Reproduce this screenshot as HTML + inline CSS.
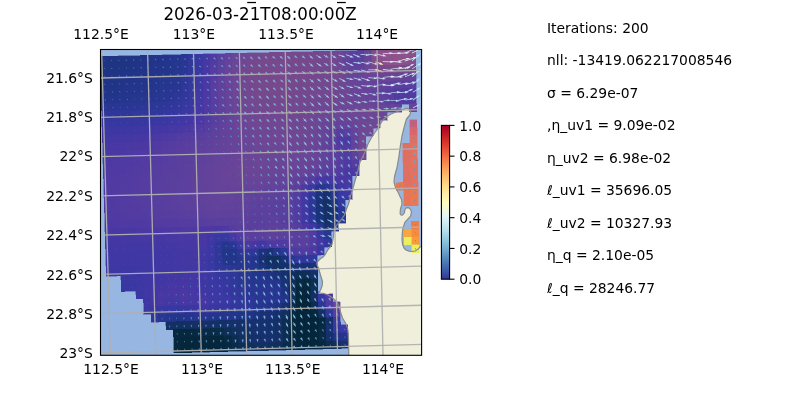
<!DOCTYPE html>
<html><head><meta charset="utf-8"><title>plot</title><style>html,body{margin:0;padding:0;background:#fff;width:800px;height:400px;overflow:hidden}</style></head><body>
<svg width="800" height="400" viewBox="0 0 800 400" style="position:absolute;left:0;top:0">
<defs><clipPath id="ax"><rect x="100.50" y="49.50" width="321.10" height="305.80"/></clipPath>
<linearGradient id="cb" x1="0" y1="1" x2="0" y2="0">
<stop offset="0.0000" stop-color="#313695"/>
<stop offset="0.0312" stop-color="#374a9f"/>
<stop offset="0.0625" stop-color="#3e5ea8"/>
<stop offset="0.0938" stop-color="#4471b2"/>
<stop offset="0.1250" stop-color="#5183bb"/>
<stop offset="0.1562" stop-color="#6095c4"/>
<stop offset="0.1875" stop-color="#6ea6ce"/>
<stop offset="0.2188" stop-color="#7fb6d6"/>
<stop offset="0.2500" stop-color="#90c3dd"/>
<stop offset="0.2812" stop-color="#a1d1e5"/>
<stop offset="0.3125" stop-color="#b2ddeb"/>
<stop offset="0.3438" stop-color="#c3e5f0"/>
<stop offset="0.3750" stop-color="#d4edf4"/>
<stop offset="0.4062" stop-color="#e2f4f4"/>
<stop offset="0.4375" stop-color="#ecf8e2"/>
<stop offset="0.4688" stop-color="#f6fbd0"/>
<stop offset="0.5000" stop-color="#fffebe"/>
<stop offset="0.5312" stop-color="#fff5af"/>
<stop offset="0.5625" stop-color="#feeba1"/>
<stop offset="0.5938" stop-color="#fee192"/>
<stop offset="0.6250" stop-color="#fed283"/>
<stop offset="0.6562" stop-color="#fdc374"/>
<stop offset="0.6875" stop-color="#fdb366"/>
<stop offset="0.7188" stop-color="#fba05b"/>
<stop offset="0.7500" stop-color="#f88c51"/>
<stop offset="0.7812" stop-color="#f57748"/>
<stop offset="0.8125" stop-color="#ef633f"/>
<stop offset="0.8438" stop-color="#e65036"/>
<stop offset="0.8750" stop-color="#dd3d2d"/>
<stop offset="0.9062" stop-color="#d22b27"/>
<stop offset="0.9375" stop-color="#c21c27"/>
<stop offset="0.9688" stop-color="#b30d26"/>
<stop offset="1.0000" stop-color="#a50026"/>
</linearGradient></defs>
<rect x="0" y="0" width="800" height="400" fill="#ffffff"/>
<g clip-path="url(#ax)">
<rect x="100.50" y="49.50" width="321.10" height="305.80" fill="#97b6e1"/>
<path d="M406.5 108.3 L408.0 108.6 L409.3 109.6 L410.4 111.5 L410.5 113.0 L409.8 114.8 L409.0 116.0 L406.5 119.0 L405.0 124.0 L403.5 130.0 L402.0 136.0 L400.5 145.0 L399.0 156.0 L397.0 167.5 L394.5 176.5 L394.0 182.0 L395.6 187.8 L398.0 192.0 L399.8 196.0 L401.6 199.8 L402.0 204.2 L400.5 208.8 L400.1 213.6 L400.8 214.8 L402.4 215.1 L404.2 213.2 L405.0 209.5 L405.8 208.2 L407.2 207.6 L409.0 207.9 L410.2 209.1 L411.2 210.8 L411.4 212.5 L410.6 216.2 L408.0 218.9 L405.0 222.2 L403.0 228.0 L402.2 234.0 L402.0 240.0 L402.6 244.5 L404.0 248.0 L406.0 250.0 L409.0 251.2 L412.0 251.5 L415.0 251.0 L418.0 249.2 L420.0 247.0 L423.0 245.5 L423.0 357.0 L349.0 357.0 L348.8 354.5 L348.5 340.0 L348.0 331.0 L347.5 328.0 L345.5 323.0 L342.5 318.0 L340.5 312.0 L339.0 306.0 L336.0 301.0 L332.0 297.5 L327.0 294.5 L323.0 293.3 L320.0 293.0 L319.4 292.2 L321.0 289.0 L322.3 285.0 L322.5 281.5 L320.5 275.0 L318.5 268.0 L317.2 265.5 L316.9 263.5 L317.3 262.0 L319.5 259.5 L323.0 257.0 L325.5 254.0 L328.0 249.5 L330.5 246.5 L332.0 244.5 L333.0 239.0 L333.5 236.0 L334.0 231.0 L335.5 227.0 L338.0 223.5 L341.0 220.0 L344.5 215.0 L346.5 209.0 L348.5 204.0 L350.5 196.0 L353.0 188.0 L355.5 179.0 L357.5 172.0 L358.5 168.0 L360.0 162.0 L362.5 157.0 L365.5 151.0 L368.0 144.0 L371.0 138.5 L374.5 133.0 L377.5 129.0 L380.0 124.5 L383.0 120.0 L387.0 116.5 L391.0 114.0 L396.0 112.0 L402.0 110.0 L404.5 108.9 Z" fill="#efefdb"/>
<g shape-rendering="crispEdges">
<path fill="#1f3483" stroke="#1f3483" stroke-width="0.4" d="M100.0 56.4 L107.3 56.2 L107.5 64.1 L100.2 64.3 Z"/>
<path fill="#1f3483" stroke="#1f3483" stroke-width="0.4" d="M107.3 56.2 L114.6 56.1 L114.9 63.9 L107.5 64.1 Z"/>
<path fill="#1f3483" stroke="#1f3483" stroke-width="0.4" d="M114.6 56.1 L122.0 55.9 L122.2 63.8 L114.9 63.9 Z"/>
<path fill="#1f3483" stroke="#1f3483" stroke-width="0.4" d="M122.0 55.9 L129.3 55.7 L129.5 63.6 L122.2 63.8 Z"/>
<path fill="#203484" stroke="#203484" stroke-width="0.4" d="M129.3 55.7 L136.7 55.6 L136.9 63.4 L129.5 63.6 Z"/>
<path fill="#203486" stroke="#203486" stroke-width="0.4" d="M136.7 55.6 L144.0 55.4 L144.2 63.2 L136.9 63.4 Z"/>
<path fill="#213588" stroke="#213588" stroke-width="0.4" d="M144.0 55.4 L151.3 55.2 L151.5 63.1 L144.2 63.2 Z"/>
<path fill="#223589" stroke="#223589" stroke-width="0.4" d="M151.3 55.2 L158.7 55.1 L158.9 62.9 L151.5 63.1 Z"/>
<path fill="#23358b" stroke="#23358b" stroke-width="0.4" d="M158.7 55.1 L166.0 54.9 L166.2 62.7 L158.9 62.9 Z"/>
<path fill="#24358d" stroke="#24358d" stroke-width="0.4" d="M166.0 54.9 L173.4 54.7 L173.6 62.6 L166.2 62.7 Z"/>
<path fill="#26368f" stroke="#26368f" stroke-width="0.4" d="M173.4 54.7 L180.7 54.5 L180.9 62.4 L173.6 62.6 Z"/>
<path fill="#2a3693" stroke="#2a3693" stroke-width="0.4" d="M180.7 54.5 L188.0 54.4 L188.2 62.2 L180.9 62.4 Z"/>
<path fill="#31379b" stroke="#31379b" stroke-width="0.4" d="M188.0 54.4 L195.4 54.2 L195.6 62.0 L188.2 62.2 Z"/>
<path fill="#3937a2" stroke="#3937a2" stroke-width="0.4" d="M195.4 54.2 L202.7 54.0 L202.9 61.9 L195.6 62.0 Z"/>
<path fill="#4537a4" stroke="#4537a4" stroke-width="0.4" d="M202.7 54.0 L210.0 53.9 L210.2 61.7 L202.9 61.9 Z"/>
<path fill="#503aa2" stroke="#503aa2" stroke-width="0.4" d="M210.0 53.9 L217.4 53.7 L217.6 61.5 L210.2 61.7 Z"/>
<path fill="#5a3f9e" stroke="#5a3f9e" stroke-width="0.4" d="M217.4 53.7 L224.7 53.5 L224.9 61.4 L217.6 61.5 Z"/>
<path fill="#63429b" stroke="#63429b" stroke-width="0.4" d="M224.7 53.5 L232.1 53.4 L232.3 61.2 L224.9 61.4 Z"/>
<path fill="#694597" stroke="#694597" stroke-width="0.4" d="M232.1 53.4 L239.4 53.2 L239.6 61.0 L232.3 61.2 Z"/>
<path fill="#6e4694" stroke="#6e4694" stroke-width="0.4" d="M239.4 53.2 L246.7 53.0 L246.9 60.9 L239.6 61.0 Z"/>
<path fill="#734890" stroke="#734890" stroke-width="0.4" d="M246.7 53.0 L254.1 52.8 L254.3 60.7 L246.9 60.9 Z"/>
<path fill="#74488e" stroke="#74488e" stroke-width="0.4" d="M254.1 52.8 L261.4 52.7 L261.6 60.5 L254.3 60.7 Z"/>
<path fill="#76498d" stroke="#76498d" stroke-width="0.4" d="M261.4 52.7 L268.8 52.5 L268.9 60.3 L261.6 60.5 Z"/>
<path fill="#76498d" stroke="#76498d" stroke-width="0.4" d="M268.8 52.5 L276.1 52.3 L276.3 60.2 L268.9 60.3 Z"/>
<path fill="#77498c" stroke="#77498c" stroke-width="0.4" d="M276.1 52.3 L283.4 52.2 L283.6 60.0 L276.3 60.2 Z"/>
<path fill="#77498c" stroke="#77498c" stroke-width="0.4" d="M283.4 52.2 L290.8 52.0 L291.0 59.8 L283.6 60.0 Z"/>
<path fill="#76498d" stroke="#76498d" stroke-width="0.4" d="M290.8 52.0 L298.1 51.8 L298.3 59.7 L291.0 59.8 Z"/>
<path fill="#76498d" stroke="#76498d" stroke-width="0.4" d="M298.1 51.8 L305.5 51.7 L305.6 59.5 L298.3 59.7 Z"/>
<path fill="#75488e" stroke="#75488e" stroke-width="0.4" d="M305.5 51.7 L312.8 51.5 L313.0 59.3 L305.6 59.5 Z"/>
<path fill="#75488e" stroke="#75488e" stroke-width="0.4" d="M312.8 51.5 L320.1 51.3 L320.3 59.1 L313.0 59.3 Z"/>
<path fill="#74488f" stroke="#74488f" stroke-width="0.4" d="M320.1 51.3 L327.5 51.1 L327.6 59.0 L320.3 59.1 Z"/>
<path fill="#73488f" stroke="#73488f" stroke-width="0.4" d="M327.5 51.1 L334.8 51.0 L335.0 58.8 L327.6 59.0 Z"/>
<path fill="#714791" stroke="#714791" stroke-width="0.4" d="M334.8 51.0 L342.1 50.8 L342.3 58.6 L335.0 58.8 Z"/>
<path fill="#674499" stroke="#674499" stroke-width="0.4" d="M342.1 50.8 L349.5 50.6 L349.6 58.5 L342.3 58.6 Z"/>
<path fill="#5b3f9e" stroke="#5b3f9e" stroke-width="0.4" d="M349.5 50.6 L356.8 50.5 L357.0 58.3 L349.6 58.5 Z"/>
<path fill="#5b3f9e" stroke="#5b3f9e" stroke-width="0.4" d="M356.8 50.5 L364.2 50.3 L364.3 58.1 L357.0 58.3 Z"/>
<path fill="#684498" stroke="#684498" stroke-width="0.4" d="M364.2 50.3 L371.5 50.1 L371.7 58.0 L364.3 58.1 Z"/>
<path fill="#824d8b" stroke="#824d8b" stroke-width="0.4" d="M371.5 50.1 L378.8 50.0 L379.0 57.8 L371.7 58.0 Z"/>
<path fill="#8b508b" stroke="#8b508b" stroke-width="0.4" d="M378.8 50.0 L386.2 49.8 L386.3 57.6 L379.0 57.8 Z"/>
<path fill="#8d518b" stroke="#8d518b" stroke-width="0.4" d="M386.2 49.8 L393.5 49.6 L393.7 57.4 L386.3 57.6 Z"/>
<path fill="#8f528b" stroke="#8f528b" stroke-width="0.4" d="M393.5 49.6 L400.9 49.4 L401.0 57.3 L393.7 57.4 Z"/>
<path fill="#8d518b" stroke="#8d518b" stroke-width="0.4" d="M400.9 49.4 L408.2 49.3 L408.3 57.1 L401.0 57.3 Z"/>
<path fill="#8a508b" stroke="#8a508b" stroke-width="0.4" d="M408.2 49.3 L415.5 49.1 L415.7 56.9 L408.3 57.1 Z"/>
<path fill="#1f3483" stroke="#1f3483" stroke-width="0.4" d="M100.2 64.3 L107.5 64.1 L107.8 71.9 L100.4 72.1 Z"/>
<path fill="#1f3483" stroke="#1f3483" stroke-width="0.4" d="M107.5 64.1 L114.9 63.9 L115.1 71.8 L107.8 71.9 Z"/>
<path fill="#1f3483" stroke="#1f3483" stroke-width="0.4" d="M114.9 63.9 L122.2 63.8 L122.4 71.6 L115.1 71.8 Z"/>
<path fill="#203484" stroke="#203484" stroke-width="0.4" d="M122.2 63.8 L129.5 63.6 L129.8 71.4 L122.4 71.6 Z"/>
<path fill="#203485" stroke="#203485" stroke-width="0.4" d="M129.5 63.6 L136.9 63.4 L137.1 71.3 L129.8 71.4 Z"/>
<path fill="#213487" stroke="#213487" stroke-width="0.4" d="M136.9 63.4 L144.2 63.2 L144.4 71.1 L137.1 71.3 Z"/>
<path fill="#213588" stroke="#213588" stroke-width="0.4" d="M144.2 63.2 L151.5 63.1 L151.8 70.9 L144.4 71.1 Z"/>
<path fill="#22358a" stroke="#22358a" stroke-width="0.4" d="M151.5 63.1 L158.9 62.9 L159.1 70.7 L151.8 70.9 Z"/>
<path fill="#23358b" stroke="#23358b" stroke-width="0.4" d="M158.9 62.9 L166.2 62.7 L166.4 70.6 L159.1 70.7 Z"/>
<path fill="#24358c" stroke="#24358c" stroke-width="0.4" d="M166.2 62.7 L173.6 62.6 L173.8 70.4 L166.4 70.6 Z"/>
<path fill="#26368e" stroke="#26368e" stroke-width="0.4" d="M173.6 62.6 L180.9 62.4 L181.1 70.2 L173.8 70.4 Z"/>
<path fill="#293692" stroke="#293692" stroke-width="0.4" d="M180.9 62.4 L188.2 62.2 L188.4 70.1 L181.1 70.2 Z"/>
<path fill="#31379b" stroke="#31379b" stroke-width="0.4" d="M188.2 62.2 L195.6 62.0 L195.8 69.9 L188.4 70.1 Z"/>
<path fill="#3a37a3" stroke="#3a37a3" stroke-width="0.4" d="M195.6 62.0 L202.9 61.9 L203.1 69.7 L195.8 69.9 Z"/>
<path fill="#4637a4" stroke="#4637a4" stroke-width="0.4" d="M202.9 61.9 L210.2 61.7 L210.4 69.5 L203.1 69.7 Z"/>
<path fill="#523ba1" stroke="#523ba1" stroke-width="0.4" d="M210.2 61.7 L217.6 61.5 L217.8 69.4 L210.4 69.5 Z"/>
<path fill="#5c409d" stroke="#5c409d" stroke-width="0.4" d="M217.6 61.5 L224.9 61.4 L225.1 69.2 L217.8 69.4 Z"/>
<path fill="#65439a" stroke="#65439a" stroke-width="0.4" d="M224.9 61.4 L232.3 61.2 L232.4 69.0 L225.1 69.2 Z"/>
<path fill="#6b4596" stroke="#6b4596" stroke-width="0.4" d="M232.3 61.2 L239.6 61.0 L239.8 68.9 L232.4 69.0 Z"/>
<path fill="#704792" stroke="#704792" stroke-width="0.4" d="M239.6 61.0 L246.9 60.9 L247.1 68.7 L239.8 68.9 Z"/>
<path fill="#74488f" stroke="#74488f" stroke-width="0.4" d="M246.9 60.9 L254.3 60.7 L254.5 68.5 L247.1 68.7 Z"/>
<path fill="#76498d" stroke="#76498d" stroke-width="0.4" d="M254.3 60.7 L261.6 60.5 L261.8 68.3 L254.5 68.5 Z"/>
<path fill="#77498c" stroke="#77498c" stroke-width="0.4" d="M261.6 60.5 L268.9 60.3 L269.1 68.2 L261.8 68.3 Z"/>
<path fill="#77498c" stroke="#77498c" stroke-width="0.4" d="M268.9 60.3 L276.3 60.2 L276.5 68.0 L269.1 68.2 Z"/>
<path fill="#78498c" stroke="#78498c" stroke-width="0.4" d="M276.3 60.2 L283.6 60.0 L283.8 67.8 L276.5 68.0 Z"/>
<path fill="#77498c" stroke="#77498c" stroke-width="0.4" d="M283.6 60.0 L291.0 59.8 L291.1 67.7 L283.8 67.8 Z"/>
<path fill="#77498c" stroke="#77498c" stroke-width="0.4" d="M291.0 59.8 L298.3 59.7 L298.5 67.5 L291.1 67.7 Z"/>
<path fill="#76498d" stroke="#76498d" stroke-width="0.4" d="M298.3 59.7 L305.6 59.5 L305.8 67.3 L298.5 67.5 Z"/>
<path fill="#76498d" stroke="#76498d" stroke-width="0.4" d="M305.6 59.5 L313.0 59.3 L313.1 67.1 L305.8 67.3 Z"/>
<path fill="#75488e" stroke="#75488e" stroke-width="0.4" d="M313.0 59.3 L320.3 59.1 L320.5 67.0 L313.1 67.1 Z"/>
<path fill="#74488e" stroke="#74488e" stroke-width="0.4" d="M320.3 59.1 L327.6 59.0 L327.8 66.8 L320.5 67.0 Z"/>
<path fill="#734890" stroke="#734890" stroke-width="0.4" d="M327.6 59.0 L335.0 58.8 L335.1 66.6 L327.8 66.8 Z"/>
<path fill="#6e4694" stroke="#6e4694" stroke-width="0.4" d="M335.0 58.8 L342.3 58.6 L342.5 66.5 L335.1 66.6 Z"/>
<path fill="#64439a" stroke="#64439a" stroke-width="0.4" d="M342.3 58.6 L349.6 58.5 L349.8 66.3 L342.5 66.5 Z"/>
<path fill="#5a3f9e" stroke="#5a3f9e" stroke-width="0.4" d="M349.6 58.5 L357.0 58.3 L357.1 66.1 L349.8 66.3 Z"/>
<path fill="#5b409d" stroke="#5b409d" stroke-width="0.4" d="M357.0 58.3 L364.3 58.1 L364.5 66.0 L357.1 66.1 Z"/>
<path fill="#694498" stroke="#694498" stroke-width="0.4" d="M364.3 58.1 L371.7 58.0 L371.8 65.8 L364.5 66.0 Z"/>
<path fill="#814d8b" stroke="#814d8b" stroke-width="0.4" d="M371.7 58.0 L379.0 57.8 L379.1 65.6 L371.8 65.8 Z"/>
<path fill="#89508b" stroke="#89508b" stroke-width="0.4" d="M379.0 57.8 L386.3 57.6 L386.5 65.4 L379.1 65.6 Z"/>
<path fill="#8d518b" stroke="#8d518b" stroke-width="0.4" d="M386.3 57.6 L393.7 57.4 L393.8 65.3 L386.5 65.4 Z"/>
<path fill="#8f528b" stroke="#8f528b" stroke-width="0.4" d="M393.7 57.4 L401.0 57.3 L401.2 65.1 L393.8 65.3 Z"/>
<path fill="#8b508b" stroke="#8b508b" stroke-width="0.4" d="M401.0 57.3 L408.3 57.1 L408.5 64.9 L401.2 65.1 Z"/>
<path fill="#864f8b" stroke="#864f8b" stroke-width="0.4" d="M408.3 57.1 L415.7 56.9 L415.8 64.8 L408.5 64.9 Z"/>
<path fill="#1f3483" stroke="#1f3483" stroke-width="0.4" d="M100.4 72.1 L107.8 71.9 L108.0 79.8 L100.6 80.0 Z"/>
<path fill="#1f3483" stroke="#1f3483" stroke-width="0.4" d="M107.8 71.9 L115.1 71.8 L115.3 79.6 L108.0 79.8 Z"/>
<path fill="#203485" stroke="#203485" stroke-width="0.4" d="M115.1 71.8 L122.4 71.6 L122.6 79.4 L115.3 79.6 Z"/>
<path fill="#213487" stroke="#213487" stroke-width="0.4" d="M122.4 71.6 L129.8 71.4 L130.0 79.3 L122.6 79.4 Z"/>
<path fill="#213588" stroke="#213588" stroke-width="0.4" d="M129.8 71.4 L137.1 71.3 L137.3 79.1 L130.0 79.3 Z"/>
<path fill="#213589" stroke="#213589" stroke-width="0.4" d="M137.1 71.3 L144.4 71.1 L144.6 78.9 L137.3 79.1 Z"/>
<path fill="#22358a" stroke="#22358a" stroke-width="0.4" d="M144.4 71.1 L151.8 70.9 L152.0 78.8 L144.6 78.9 Z"/>
<path fill="#23358b" stroke="#23358b" stroke-width="0.4" d="M151.8 70.9 L159.1 70.7 L159.3 78.6 L152.0 78.8 Z"/>
<path fill="#24358c" stroke="#24358c" stroke-width="0.4" d="M159.1 70.7 L166.4 70.6 L166.6 78.4 L159.3 78.6 Z"/>
<path fill="#25358d" stroke="#25358d" stroke-width="0.4" d="M166.4 70.6 L173.8 70.4 L174.0 78.2 L166.6 78.4 Z"/>
<path fill="#27368f" stroke="#27368f" stroke-width="0.4" d="M173.8 70.4 L181.1 70.2 L181.3 78.1 L174.0 78.2 Z"/>
<path fill="#2b3695" stroke="#2b3695" stroke-width="0.4" d="M181.1 70.2 L188.4 70.1 L188.6 77.9 L181.3 78.1 Z"/>
<path fill="#33379d" stroke="#33379d" stroke-width="0.4" d="M188.4 70.1 L195.8 69.9 L196.0 77.7 L188.6 77.9 Z"/>
<path fill="#3d37a3" stroke="#3d37a3" stroke-width="0.4" d="M195.8 69.9 L203.1 69.7 L203.3 77.6 L196.0 77.7 Z"/>
<path fill="#4938a3" stroke="#4938a3" stroke-width="0.4" d="M203.1 69.7 L210.4 69.5 L210.6 77.4 L203.3 77.6 Z"/>
<path fill="#553ca0" stroke="#553ca0" stroke-width="0.4" d="M210.4 69.5 L217.8 69.4 L218.0 77.2 L210.6 77.4 Z"/>
<path fill="#5e419c" stroke="#5e419c" stroke-width="0.4" d="M217.8 69.4 L225.1 69.2 L225.3 77.0 L218.0 77.2 Z"/>
<path fill="#664499" stroke="#664499" stroke-width="0.4" d="M225.1 69.2 L232.4 69.0 L232.6 76.9 L225.3 77.0 Z"/>
<path fill="#6c4695" stroke="#6c4695" stroke-width="0.4" d="M232.4 69.0 L239.8 68.9 L240.0 76.7 L232.6 76.9 Z"/>
<path fill="#714791" stroke="#714791" stroke-width="0.4" d="M239.8 68.9 L247.1 68.7 L247.3 76.5 L240.0 76.7 Z"/>
<path fill="#75488e" stroke="#75488e" stroke-width="0.4" d="M247.1 68.7 L254.5 68.5 L254.6 76.4 L247.3 76.5 Z"/>
<path fill="#76498d" stroke="#76498d" stroke-width="0.4" d="M254.5 68.5 L261.8 68.3 L262.0 76.2 L254.6 76.4 Z"/>
<path fill="#77498c" stroke="#77498c" stroke-width="0.4" d="M261.8 68.3 L269.1 68.2 L269.3 76.0 L262.0 76.2 Z"/>
<path fill="#78498c" stroke="#78498c" stroke-width="0.4" d="M269.1 68.2 L276.5 68.0 L276.6 75.8 L269.3 76.0 Z"/>
<path fill="#78498c" stroke="#78498c" stroke-width="0.4" d="M276.5 68.0 L283.8 67.8 L284.0 75.7 L276.6 75.8 Z"/>
<path fill="#77498c" stroke="#77498c" stroke-width="0.4" d="M283.8 67.8 L291.1 67.7 L291.3 75.5 L284.0 75.7 Z"/>
<path fill="#77498c" stroke="#77498c" stroke-width="0.4" d="M291.1 67.7 L298.5 67.5 L298.6 75.3 L291.3 75.5 Z"/>
<path fill="#76498d" stroke="#76498d" stroke-width="0.4" d="M298.5 67.5 L305.8 67.3 L306.0 75.2 L298.6 75.3 Z"/>
<path fill="#76498d" stroke="#76498d" stroke-width="0.4" d="M305.8 67.3 L313.1 67.1 L313.3 75.0 L306.0 75.2 Z"/>
<path fill="#75488e" stroke="#75488e" stroke-width="0.4" d="M313.1 67.1 L320.5 67.0 L320.6 74.8 L313.3 75.0 Z"/>
<path fill="#74488e" stroke="#74488e" stroke-width="0.4" d="M320.5 67.0 L327.8 66.8 L328.0 74.6 L320.6 74.8 Z"/>
<path fill="#734890" stroke="#734890" stroke-width="0.4" d="M327.8 66.8 L335.1 66.6 L335.3 74.5 L328.0 74.6 Z"/>
<path fill="#704792" stroke="#704792" stroke-width="0.4" d="M335.1 66.6 L342.5 66.5 L342.6 74.3 L335.3 74.5 Z"/>
<path fill="#684498" stroke="#684498" stroke-width="0.4" d="M342.5 66.5 L349.8 66.3 L350.0 74.1 L342.6 74.3 Z"/>
<path fill="#61429b" stroke="#61429b" stroke-width="0.4" d="M349.8 66.3 L357.1 66.1 L357.3 73.9 L350.0 74.1 Z"/>
<path fill="#63429b" stroke="#63429b" stroke-width="0.4" d="M357.1 66.1 L364.5 66.0 L364.6 73.8 L357.3 73.9 Z"/>
<path fill="#6c4696" stroke="#6c4696" stroke-width="0.4" d="M364.5 66.0 L371.8 65.8 L372.0 73.6 L364.6 73.8 Z"/>
<path fill="#76498d" stroke="#76498d" stroke-width="0.4" d="M371.8 65.8 L379.1 65.6 L379.3 73.4 L372.0 73.6 Z"/>
<path fill="#77498c" stroke="#77498c" stroke-width="0.4" d="M379.1 65.6 L386.5 65.4 L386.6 73.3 L379.3 73.4 Z"/>
<path fill="#7a4a8c" stroke="#7a4a8c" stroke-width="0.4" d="M386.5 65.4 L393.8 65.3 L394.0 73.1 L386.6 73.3 Z"/>
<path fill="#7b4b8c" stroke="#7b4b8c" stroke-width="0.4" d="M393.8 65.3 L401.2 65.1 L401.3 72.9 L394.0 73.1 Z"/>
<path fill="#77498c" stroke="#77498c" stroke-width="0.4" d="M401.2 65.1 L408.5 64.9 L408.6 72.7 L401.3 72.9 Z"/>
<path fill="#76498d" stroke="#76498d" stroke-width="0.4" d="M408.5 64.9 L415.8 64.8 L416.0 72.6 L408.6 72.7 Z"/>
<path fill="#203484" stroke="#203484" stroke-width="0.4" d="M100.6 80.0 L108.0 79.8 L108.2 87.6 L100.9 87.8 Z"/>
<path fill="#203485" stroke="#203485" stroke-width="0.4" d="M108.0 79.8 L115.3 79.6 L115.5 87.5 L108.2 87.6 Z"/>
<path fill="#213486" stroke="#213486" stroke-width="0.4" d="M115.3 79.6 L122.6 79.4 L122.9 87.3 L115.5 87.5 Z"/>
<path fill="#223589" stroke="#223589" stroke-width="0.4" d="M122.6 79.4 L130.0 79.3 L130.2 87.1 L122.9 87.3 Z"/>
<path fill="#22358a" stroke="#22358a" stroke-width="0.4" d="M130.0 79.3 L137.3 79.1 L137.5 87.0 L130.2 87.1 Z"/>
<path fill="#23358b" stroke="#23358b" stroke-width="0.4" d="M137.3 79.1 L144.6 78.9 L144.9 86.8 L137.5 87.0 Z"/>
<path fill="#23358b" stroke="#23358b" stroke-width="0.4" d="M144.6 78.9 L152.0 78.8 L152.2 86.6 L144.9 86.8 Z"/>
<path fill="#24358d" stroke="#24358d" stroke-width="0.4" d="M152.0 78.8 L159.3 78.6 L159.5 86.4 L152.2 86.6 Z"/>
<path fill="#25368e" stroke="#25368e" stroke-width="0.4" d="M159.3 78.6 L166.6 78.4 L166.9 86.3 L159.5 86.4 Z"/>
<path fill="#26368f" stroke="#26368f" stroke-width="0.4" d="M166.6 78.4 L174.0 78.2 L174.2 86.1 L166.9 86.3 Z"/>
<path fill="#283691" stroke="#283691" stroke-width="0.4" d="M174.0 78.2 L181.3 78.1 L181.5 85.9 L174.2 86.1 Z"/>
<path fill="#2d3796" stroke="#2d3796" stroke-width="0.4" d="M181.3 78.1 L188.6 77.9 L188.8 85.7 L181.5 85.9 Z"/>
<path fill="#35379f" stroke="#35379f" stroke-width="0.4" d="M188.6 77.9 L196.0 77.7 L196.2 85.6 L188.8 85.7 Z"/>
<path fill="#4037a4" stroke="#4037a4" stroke-width="0.4" d="M196.0 77.7 L203.3 77.6 L203.5 85.4 L196.2 85.6 Z"/>
<path fill="#4c38a3" stroke="#4c38a3" stroke-width="0.4" d="M203.3 77.6 L210.6 77.4 L210.8 85.2 L203.5 85.4 Z"/>
<path fill="#573d9f" stroke="#573d9f" stroke-width="0.4" d="M210.6 77.4 L218.0 77.2 L218.2 85.1 L210.8 85.2 Z"/>
<path fill="#60419c" stroke="#60419c" stroke-width="0.4" d="M218.0 77.2 L225.3 77.0 L225.5 84.9 L218.2 85.1 Z"/>
<path fill="#684498" stroke="#684498" stroke-width="0.4" d="M225.3 77.0 L232.6 76.9 L232.8 84.7 L225.5 84.9 Z"/>
<path fill="#6e4695" stroke="#6e4695" stroke-width="0.4" d="M232.6 76.9 L240.0 76.7 L240.2 84.5 L232.8 84.7 Z"/>
<path fill="#724791" stroke="#724791" stroke-width="0.4" d="M240.0 76.7 L247.3 76.5 L247.5 84.4 L240.2 84.5 Z"/>
<path fill="#75488e" stroke="#75488e" stroke-width="0.4" d="M247.3 76.5 L254.6 76.4 L254.8 84.2 L247.5 84.4 Z"/>
<path fill="#76498c" stroke="#76498c" stroke-width="0.4" d="M254.6 76.4 L262.0 76.2 L262.2 84.0 L254.8 84.2 Z"/>
<path fill="#77498c" stroke="#77498c" stroke-width="0.4" d="M262.0 76.2 L269.3 76.0 L269.5 83.8 L262.2 84.0 Z"/>
<path fill="#77498c" stroke="#77498c" stroke-width="0.4" d="M269.3 76.0 L276.6 75.8 L276.8 83.7 L269.5 83.8 Z"/>
<path fill="#77498c" stroke="#77498c" stroke-width="0.4" d="M276.6 75.8 L284.0 75.7 L284.1 83.5 L276.8 83.7 Z"/>
<path fill="#77498c" stroke="#77498c" stroke-width="0.4" d="M284.0 75.7 L291.3 75.5 L291.5 83.3 L284.1 83.5 Z"/>
<path fill="#76498d" stroke="#76498d" stroke-width="0.4" d="M291.3 75.5 L298.6 75.3 L298.8 83.2 L291.5 83.3 Z"/>
<path fill="#76498d" stroke="#76498d" stroke-width="0.4" d="M298.6 75.3 L306.0 75.2 L306.1 83.0 L298.8 83.2 Z"/>
<path fill="#75488e" stroke="#75488e" stroke-width="0.4" d="M306.0 75.2 L313.3 75.0 L313.5 82.8 L306.1 83.0 Z"/>
<path fill="#75488e" stroke="#75488e" stroke-width="0.4" d="M313.3 75.0 L320.6 74.8 L320.8 82.6 L313.5 82.8 Z"/>
<path fill="#74488f" stroke="#74488f" stroke-width="0.4" d="M320.6 74.8 L328.0 74.6 L328.1 82.5 L320.8 82.6 Z"/>
<path fill="#73488f" stroke="#73488f" stroke-width="0.4" d="M328.0 74.6 L335.3 74.5 L335.5 82.3 L328.1 82.5 Z"/>
<path fill="#724890" stroke="#724890" stroke-width="0.4" d="M335.3 74.5 L342.6 74.3 L342.8 82.1 L335.5 82.3 Z"/>
<path fill="#6c4695" stroke="#6c4695" stroke-width="0.4" d="M342.6 74.3 L350.0 74.1 L350.1 81.9 L342.8 82.1 Z"/>
<path fill="#674499" stroke="#674499" stroke-width="0.4" d="M350.0 74.1 L357.3 73.9 L357.5 81.8 L350.1 81.9 Z"/>
<path fill="#674499" stroke="#674499" stroke-width="0.4" d="M357.3 73.9 L364.6 73.8 L364.8 81.6 L357.5 81.8 Z"/>
<path fill="#6a4597" stroke="#6a4597" stroke-width="0.4" d="M364.6 73.8 L372.0 73.6 L372.1 81.4 L364.8 81.6 Z"/>
<path fill="#6a4597" stroke="#6a4597" stroke-width="0.4" d="M372.0 73.6 L379.3 73.4 L379.5 81.3 L372.1 81.4 Z"/>
<path fill="#694498" stroke="#694498" stroke-width="0.4" d="M379.3 73.4 L386.6 73.3 L386.8 81.1 L379.5 81.3 Z"/>
<path fill="#694498" stroke="#694498" stroke-width="0.4" d="M386.6 73.3 L394.0 73.1 L394.1 80.9 L386.8 81.1 Z"/>
<path fill="#684498" stroke="#684498" stroke-width="0.4" d="M394.0 73.1 L401.3 72.9 L401.4 80.7 L394.1 80.9 Z"/>
<path fill="#664399" stroke="#664399" stroke-width="0.4" d="M401.3 72.9 L408.6 72.7 L408.8 80.6 L401.4 80.7 Z"/>
<path fill="#65439a" stroke="#65439a" stroke-width="0.4" d="M408.6 72.7 L416.0 72.6 L416.1 80.4 L408.8 80.6 Z"/>
<path fill="#213487" stroke="#213487" stroke-width="0.4" d="M100.9 87.8 L108.2 87.6 L108.4 95.5 L101.1 95.7 Z"/>
<path fill="#213487" stroke="#213487" stroke-width="0.4" d="M108.2 87.6 L115.5 87.5 L115.8 95.3 L108.4 95.5 Z"/>
<path fill="#223589" stroke="#223589" stroke-width="0.4" d="M115.5 87.5 L122.9 87.3 L123.1 95.1 L115.8 95.3 Z"/>
<path fill="#22358b" stroke="#22358b" stroke-width="0.4" d="M122.9 87.3 L130.2 87.1 L130.4 95.0 L123.1 95.1 Z"/>
<path fill="#23358c" stroke="#23358c" stroke-width="0.4" d="M130.2 87.1 L137.5 87.0 L137.7 94.8 L130.4 95.0 Z"/>
<path fill="#24358c" stroke="#24358c" stroke-width="0.4" d="M137.5 87.0 L144.9 86.8 L145.1 94.6 L137.7 94.8 Z"/>
<path fill="#25358d" stroke="#25358d" stroke-width="0.4" d="M144.9 86.8 L152.2 86.6 L152.4 94.5 L145.1 94.6 Z"/>
<path fill="#26368e" stroke="#26368e" stroke-width="0.4" d="M152.2 86.6 L159.5 86.4 L159.7 94.3 L152.4 94.5 Z"/>
<path fill="#27368f" stroke="#27368f" stroke-width="0.4" d="M159.5 86.4 L166.9 86.3 L167.1 94.1 L159.7 94.3 Z"/>
<path fill="#283691" stroke="#283691" stroke-width="0.4" d="M166.9 86.3 L174.2 86.1 L174.4 93.9 L167.1 94.1 Z"/>
<path fill="#2b3694" stroke="#2b3694" stroke-width="0.4" d="M174.2 86.1 L181.5 85.9 L181.7 93.8 L174.4 93.9 Z"/>
<path fill="#30379a" stroke="#30379a" stroke-width="0.4" d="M181.5 85.9 L188.8 85.7 L189.0 93.6 L181.7 93.8 Z"/>
<path fill="#3737a0" stroke="#3737a0" stroke-width="0.4" d="M188.8 85.7 L196.2 85.6 L196.4 93.4 L189.0 93.6 Z"/>
<path fill="#4137a4" stroke="#4137a4" stroke-width="0.4" d="M196.2 85.6 L203.5 85.4 L203.7 93.2 L196.4 93.4 Z"/>
<path fill="#4d38a3" stroke="#4d38a3" stroke-width="0.4" d="M203.5 85.4 L210.8 85.2 L211.0 93.1 L203.7 93.2 Z"/>
<path fill="#573e9f" stroke="#573e9f" stroke-width="0.4" d="M210.8 85.2 L218.2 85.1 L218.4 92.9 L211.0 93.1 Z"/>
<path fill="#60419c" stroke="#60419c" stroke-width="0.4" d="M218.2 85.1 L225.5 84.9 L225.7 92.7 L218.4 92.9 Z"/>
<path fill="#684498" stroke="#684498" stroke-width="0.4" d="M225.5 84.9 L232.8 84.7 L233.0 92.5 L225.7 92.7 Z"/>
<path fill="#6e4694" stroke="#6e4694" stroke-width="0.4" d="M232.8 84.7 L240.2 84.5 L240.4 92.4 L233.0 92.5 Z"/>
<path fill="#724791" stroke="#724791" stroke-width="0.4" d="M240.2 84.5 L247.5 84.4 L247.7 92.2 L240.4 92.4 Z"/>
<path fill="#75488e" stroke="#75488e" stroke-width="0.4" d="M247.5 84.4 L254.8 84.2 L255.0 92.0 L247.7 92.2 Z"/>
<path fill="#76498d" stroke="#76498d" stroke-width="0.4" d="M254.8 84.2 L262.2 84.0 L262.3 91.9 L255.0 92.0 Z"/>
<path fill="#77498c" stroke="#77498c" stroke-width="0.4" d="M262.2 84.0 L269.5 83.8 L269.7 91.7 L262.3 91.9 Z"/>
<path fill="#77498c" stroke="#77498c" stroke-width="0.4" d="M269.5 83.8 L276.8 83.7 L277.0 91.5 L269.7 91.7 Z"/>
<path fill="#77498c" stroke="#77498c" stroke-width="0.4" d="M276.8 83.7 L284.1 83.5 L284.3 91.3 L277.0 91.5 Z"/>
<path fill="#76498d" stroke="#76498d" stroke-width="0.4" d="M284.1 83.5 L291.5 83.3 L291.7 91.2 L284.3 91.3 Z"/>
<path fill="#76498d" stroke="#76498d" stroke-width="0.4" d="M291.5 83.3 L298.8 83.2 L299.0 91.0 L291.7 91.2 Z"/>
<path fill="#75488e" stroke="#75488e" stroke-width="0.4" d="M298.8 83.2 L306.1 83.0 L306.3 90.8 L299.0 91.0 Z"/>
<path fill="#75488e" stroke="#75488e" stroke-width="0.4" d="M306.1 83.0 L313.5 82.8 L313.6 90.6 L306.3 90.8 Z"/>
<path fill="#74488f" stroke="#74488f" stroke-width="0.4" d="M313.5 82.8 L320.8 82.6 L321.0 90.5 L313.6 90.6 Z"/>
<path fill="#73488f" stroke="#73488f" stroke-width="0.4" d="M320.8 82.6 L328.1 82.5 L328.3 90.3 L321.0 90.5 Z"/>
<path fill="#734890" stroke="#734890" stroke-width="0.4" d="M328.1 82.5 L335.5 82.3 L335.6 90.1 L328.3 90.3 Z"/>
<path fill="#714791" stroke="#714791" stroke-width="0.4" d="M335.5 82.3 L342.8 82.1 L343.0 90.0 L335.6 90.1 Z"/>
<path fill="#6d4695" stroke="#6d4695" stroke-width="0.4" d="M342.8 82.1 L350.1 81.9 L350.3 89.8 L343.0 90.0 Z"/>
<path fill="#6a4597" stroke="#6a4597" stroke-width="0.4" d="M350.1 81.9 L357.5 81.8 L357.6 89.6 L350.3 89.8 Z"/>
<path fill="#684498" stroke="#684498" stroke-width="0.4" d="M357.5 81.8 L364.8 81.6 L364.9 89.4 L357.6 89.6 Z"/>
<path fill="#674499" stroke="#674499" stroke-width="0.4" d="M364.8 81.6 L372.1 81.4 L372.3 89.3 L364.9 89.4 Z"/>
<path fill="#64439a" stroke="#64439a" stroke-width="0.4" d="M372.1 81.4 L379.5 81.3 L379.6 89.1 L372.3 89.3 Z"/>
<path fill="#61429b" stroke="#61429b" stroke-width="0.4" d="M379.5 81.3 L386.8 81.1 L386.9 88.9 L379.6 89.1 Z"/>
<path fill="#5f419c" stroke="#5f419c" stroke-width="0.4" d="M386.8 81.1 L394.1 80.9 L394.3 88.7 L386.9 88.9 Z"/>
<path fill="#5c409d" stroke="#5c409d" stroke-width="0.4" d="M394.1 80.9 L401.4 80.7 L401.6 88.6 L394.3 88.7 Z"/>
<path fill="#593e9f" stroke="#593e9f" stroke-width="0.4" d="M401.4 80.7 L408.8 80.6 L408.9 88.4 L401.6 88.6 Z"/>
<path fill="#593f9e" stroke="#593f9e" stroke-width="0.4" d="M408.8 80.6 L416.1 80.4 L416.3 88.2 L408.9 88.4 Z"/>
<path fill="#22358a" stroke="#22358a" stroke-width="0.4" d="M101.1 95.7 L108.4 95.5 L108.7 103.3 L101.3 103.5 Z"/>
<path fill="#23358c" stroke="#23358c" stroke-width="0.4" d="M108.4 95.5 L115.8 95.3 L116.0 103.2 L108.7 103.3 Z"/>
<path fill="#24358d" stroke="#24358d" stroke-width="0.4" d="M115.8 95.3 L123.1 95.1 L123.3 103.0 L116.0 103.2 Z"/>
<path fill="#25358d" stroke="#25358d" stroke-width="0.4" d="M123.1 95.1 L130.4 95.0 L130.6 102.8 L123.3 103.0 Z"/>
<path fill="#26368e" stroke="#26368e" stroke-width="0.4" d="M130.4 95.0 L137.7 94.8 L138.0 102.6 L130.6 102.8 Z"/>
<path fill="#273690" stroke="#273690" stroke-width="0.4" d="M137.7 94.8 L145.1 94.6 L145.3 102.5 L138.0 102.6 Z"/>
<path fill="#273690" stroke="#273690" stroke-width="0.4" d="M145.1 94.6 L152.4 94.5 L152.6 102.3 L145.3 102.5 Z"/>
<path fill="#283691" stroke="#283691" stroke-width="0.4" d="M152.4 94.5 L159.7 94.3 L159.9 102.1 L152.6 102.3 Z"/>
<path fill="#293692" stroke="#293692" stroke-width="0.4" d="M159.7 94.3 L167.1 94.1 L167.3 102.0 L159.9 102.1 Z"/>
<path fill="#2b3694" stroke="#2b3694" stroke-width="0.4" d="M167.1 94.1 L174.4 93.9 L174.6 101.8 L167.3 102.0 Z"/>
<path fill="#2e3798" stroke="#2e3798" stroke-width="0.4" d="M174.4 93.9 L181.7 93.8 L181.9 101.6 L174.6 101.8 Z"/>
<path fill="#32379b" stroke="#32379b" stroke-width="0.4" d="M181.7 93.8 L189.0 93.6 L189.3 101.4 L181.9 101.6 Z"/>
<path fill="#3937a2" stroke="#3937a2" stroke-width="0.4" d="M189.0 93.6 L196.4 93.4 L196.6 101.3 L189.3 101.4 Z"/>
<path fill="#4337a4" stroke="#4337a4" stroke-width="0.4" d="M196.4 93.4 L203.7 93.2 L203.9 101.1 L196.6 101.3 Z"/>
<path fill="#4e38a3" stroke="#4e38a3" stroke-width="0.4" d="M203.7 93.2 L211.0 93.1 L211.2 100.9 L203.9 101.1 Z"/>
<path fill="#573e9f" stroke="#573e9f" stroke-width="0.4" d="M211.0 93.1 L218.4 92.9 L218.6 100.7 L211.2 100.9 Z"/>
<path fill="#61419c" stroke="#61419c" stroke-width="0.4" d="M218.4 92.9 L225.7 92.7 L225.9 100.6 L218.6 100.7 Z"/>
<path fill="#684498" stroke="#684498" stroke-width="0.4" d="M225.7 92.7 L233.0 92.5 L233.2 100.4 L225.9 100.6 Z"/>
<path fill="#6d4695" stroke="#6d4695" stroke-width="0.4" d="M233.0 92.5 L240.4 92.4 L240.5 100.2 L233.2 100.4 Z"/>
<path fill="#714791" stroke="#714791" stroke-width="0.4" d="M240.4 92.4 L247.7 92.2 L247.9 100.0 L240.5 100.2 Z"/>
<path fill="#74488f" stroke="#74488f" stroke-width="0.4" d="M247.7 92.2 L255.0 92.0 L255.2 99.9 L247.9 100.0 Z"/>
<path fill="#75488e" stroke="#75488e" stroke-width="0.4" d="M255.0 92.0 L262.3 91.9 L262.5 99.7 L255.2 99.9 Z"/>
<path fill="#76498d" stroke="#76498d" stroke-width="0.4" d="M262.3 91.9 L269.7 91.7 L269.9 99.5 L262.5 99.7 Z"/>
<path fill="#76498d" stroke="#76498d" stroke-width="0.4" d="M269.7 91.7 L277.0 91.5 L277.2 99.3 L269.9 99.5 Z"/>
<path fill="#76498d" stroke="#76498d" stroke-width="0.4" d="M277.0 91.5 L284.3 91.3 L284.5 99.2 L277.2 99.3 Z"/>
<path fill="#75488e" stroke="#75488e" stroke-width="0.4" d="M284.3 91.3 L291.7 91.2 L291.8 99.0 L284.5 99.2 Z"/>
<path fill="#75488e" stroke="#75488e" stroke-width="0.4" d="M291.7 91.2 L299.0 91.0 L299.2 98.8 L291.8 99.0 Z"/>
<path fill="#74488e" stroke="#74488e" stroke-width="0.4" d="M299.0 91.0 L306.3 90.8 L306.5 98.6 L299.2 98.8 Z"/>
<path fill="#74488f" stroke="#74488f" stroke-width="0.4" d="M306.3 90.8 L313.6 90.6 L313.8 98.5 L306.5 98.6 Z"/>
<path fill="#734890" stroke="#734890" stroke-width="0.4" d="M313.6 90.6 L321.0 90.5 L321.1 98.3 L313.8 98.5 Z"/>
<path fill="#724890" stroke="#724890" stroke-width="0.4" d="M321.0 90.5 L328.3 90.3 L328.5 98.1 L321.1 98.3 Z"/>
<path fill="#714791" stroke="#714791" stroke-width="0.4" d="M328.3 90.3 L335.6 90.1 L335.8 98.0 L328.5 98.1 Z"/>
<path fill="#714791" stroke="#714791" stroke-width="0.4" d="M335.6 90.1 L343.0 90.0 L343.1 97.8 L335.8 98.0 Z"/>
<path fill="#6e4695" stroke="#6e4695" stroke-width="0.4" d="M343.0 90.0 L350.3 89.8 L350.5 97.6 L343.1 97.8 Z"/>
<path fill="#6a4597" stroke="#6a4597" stroke-width="0.4" d="M350.3 89.8 L357.6 89.6 L357.8 97.4 L350.5 97.6 Z"/>
<path fill="#694498" stroke="#694498" stroke-width="0.4" d="M357.6 89.6 L364.9 89.4 L365.1 97.3 L357.8 97.4 Z"/>
<path fill="#674499" stroke="#674499" stroke-width="0.4" d="M364.9 89.4 L372.3 89.3 L372.4 97.1 L365.1 97.3 Z"/>
<path fill="#63429b" stroke="#63429b" stroke-width="0.4" d="M372.3 89.3 L379.6 89.1 L379.8 96.9 L372.4 97.1 Z"/>
<path fill="#5e409d" stroke="#5e409d" stroke-width="0.4" d="M379.6 89.1 L386.9 88.9 L387.1 96.7 L379.8 96.9 Z"/>
<path fill="#593e9f" stroke="#593e9f" stroke-width="0.4" d="M386.9 88.9 L394.3 88.7 L394.4 96.6 L387.1 96.7 Z"/>
<path fill="#533ba1" stroke="#533ba1" stroke-width="0.4" d="M394.3 88.7 L401.6 88.6 L401.7 96.4 L394.4 96.6 Z"/>
<path fill="#5039a2" stroke="#5039a2" stroke-width="0.4" d="M401.6 88.6 L408.9 88.4 L409.1 96.2 L401.7 96.4 Z"/>
<path fill="#523ba1" stroke="#523ba1" stroke-width="0.4" d="M408.9 88.4 L416.3 88.2 L416.4 96.0 L409.1 96.2 Z"/>
<path fill="#293692" stroke="#293692" stroke-width="0.4" d="M101.3 103.5 L108.7 103.3 L108.9 111.2 L101.5 111.4 Z"/>
<path fill="#293692" stroke="#293692" stroke-width="0.4" d="M108.7 103.3 L116.0 103.2 L116.2 111.0 L108.9 111.2 Z"/>
<path fill="#2a3693" stroke="#2a3693" stroke-width="0.4" d="M116.0 103.2 L123.3 103.0 L123.5 110.8 L116.2 111.0 Z"/>
<path fill="#2a3693" stroke="#2a3693" stroke-width="0.4" d="M123.3 103.0 L130.6 102.8 L130.9 110.7 L123.5 110.8 Z"/>
<path fill="#2b3694" stroke="#2b3694" stroke-width="0.4" d="M130.6 102.8 L138.0 102.6 L138.2 110.5 L130.9 110.7 Z"/>
<path fill="#2b3695" stroke="#2b3695" stroke-width="0.4" d="M138.0 102.6 L145.3 102.5 L145.5 110.3 L138.2 110.5 Z"/>
<path fill="#2c3795" stroke="#2c3795" stroke-width="0.4" d="M145.3 102.5 L152.6 102.3 L152.8 110.1 L145.5 110.3 Z"/>
<path fill="#2c3796" stroke="#2c3796" stroke-width="0.4" d="M152.6 102.3 L159.9 102.1 L160.2 110.0 L152.8 110.1 Z"/>
<path fill="#2e3797" stroke="#2e3797" stroke-width="0.4" d="M159.9 102.1 L167.3 102.0 L167.5 109.8 L160.2 110.0 Z"/>
<path fill="#30379a" stroke="#30379a" stroke-width="0.4" d="M167.3 102.0 L174.6 101.8 L174.8 109.6 L167.5 109.8 Z"/>
<path fill="#32379c" stroke="#32379c" stroke-width="0.4" d="M174.6 101.8 L181.9 101.6 L182.1 109.4 L174.8 109.6 Z"/>
<path fill="#36379f" stroke="#36379f" stroke-width="0.4" d="M181.9 101.6 L189.3 101.4 L189.5 109.3 L182.1 109.4 Z"/>
<path fill="#3c37a3" stroke="#3c37a3" stroke-width="0.4" d="M189.3 101.4 L196.6 101.3 L196.8 109.1 L189.5 109.3 Z"/>
<path fill="#4537a4" stroke="#4537a4" stroke-width="0.4" d="M196.6 101.3 L203.9 101.1 L204.1 108.9 L196.8 109.1 Z"/>
<path fill="#4f39a2" stroke="#4f39a2" stroke-width="0.4" d="M203.9 101.1 L211.2 100.9 L211.4 108.8 L204.1 108.9 Z"/>
<path fill="#573e9f" stroke="#573e9f" stroke-width="0.4" d="M211.2 100.9 L218.6 100.7 L218.8 108.6 L211.4 108.8 Z"/>
<path fill="#60419c" stroke="#60419c" stroke-width="0.4" d="M218.6 100.7 L225.9 100.6 L226.1 108.4 L218.8 108.6 Z"/>
<path fill="#674498" stroke="#674498" stroke-width="0.4" d="M225.9 100.6 L233.2 100.4 L233.4 108.2 L226.1 108.4 Z"/>
<path fill="#6c4695" stroke="#6c4695" stroke-width="0.4" d="M233.2 100.4 L240.5 100.2 L240.7 108.1 L233.4 108.2 Z"/>
<path fill="#704792" stroke="#704792" stroke-width="0.4" d="M240.5 100.2 L247.9 100.0 L248.1 107.9 L240.7 108.1 Z"/>
<path fill="#734890" stroke="#734890" stroke-width="0.4" d="M247.9 100.0 L255.2 99.9 L255.4 107.7 L248.1 107.9 Z"/>
<path fill="#74488f" stroke="#74488f" stroke-width="0.4" d="M255.2 99.9 L262.5 99.7 L262.7 107.5 L255.4 107.7 Z"/>
<path fill="#74488e" stroke="#74488e" stroke-width="0.4" d="M262.5 99.7 L269.9 99.5 L270.0 107.4 L262.7 107.5 Z"/>
<path fill="#75488e" stroke="#75488e" stroke-width="0.4" d="M269.9 99.5 L277.2 99.3 L277.4 107.2 L270.0 107.4 Z"/>
<path fill="#74488e" stroke="#74488e" stroke-width="0.4" d="M277.2 99.3 L284.5 99.2 L284.7 107.0 L277.4 107.2 Z"/>
<path fill="#74488f" stroke="#74488f" stroke-width="0.4" d="M284.5 99.2 L291.8 99.0 L292.0 106.8 L284.7 107.0 Z"/>
<path fill="#74488f" stroke="#74488f" stroke-width="0.4" d="M291.8 99.0 L299.2 98.8 L299.3 106.7 L292.0 106.8 Z"/>
<path fill="#73488f" stroke="#73488f" stroke-width="0.4" d="M299.2 98.8 L306.5 98.6 L306.7 106.5 L299.3 106.7 Z"/>
<path fill="#724890" stroke="#724890" stroke-width="0.4" d="M306.5 98.6 L313.8 98.5 L314.0 106.3 L306.7 106.5 Z"/>
<path fill="#714791" stroke="#714791" stroke-width="0.4" d="M313.8 98.5 L321.1 98.3 L321.3 106.1 L314.0 106.3 Z"/>
<path fill="#704792" stroke="#704792" stroke-width="0.4" d="M321.1 98.3 L328.5 98.1 L328.6 106.0 L321.3 106.1 Z"/>
<path fill="#704793" stroke="#704793" stroke-width="0.4" d="M328.5 98.1 L335.8 98.0 L336.0 105.8 L328.6 106.0 Z"/>
<path fill="#6f4793" stroke="#6f4793" stroke-width="0.4" d="M335.8 98.0 L343.1 97.8 L343.3 105.6 L336.0 105.8 Z"/>
<path fill="#6d4695" stroke="#6d4695" stroke-width="0.4" d="M343.1 97.8 L350.5 97.6 L350.6 105.4 L343.3 105.6 Z"/>
<path fill="#6b4596" stroke="#6b4596" stroke-width="0.4" d="M350.5 97.6 L357.8 97.4 L357.9 105.3 L350.6 105.4 Z"/>
<path fill="#6b4596" stroke="#6b4596" stroke-width="0.4" d="M357.8 97.4 L365.1 97.3 L365.3 105.1 L357.9 105.3 Z"/>
<path fill="#694597" stroke="#694597" stroke-width="0.4" d="M365.1 97.3 L372.4 97.1 L372.6 104.9 L365.3 105.1 Z"/>
<path fill="#65439a" stroke="#65439a" stroke-width="0.4" d="M372.4 97.1 L379.8 96.9 L379.9 104.7 L372.6 104.9 Z"/>
<path fill="#60419c" stroke="#60419c" stroke-width="0.4" d="M379.8 96.9 L387.1 96.7 L387.2 104.6 L379.9 104.7 Z"/>
<path fill="#5a3f9e" stroke="#5a3f9e" stroke-width="0.4" d="M387.1 96.7 L394.4 96.6 L394.6 104.4 L387.2 104.6 Z"/>
<path fill="#533ba1" stroke="#533ba1" stroke-width="0.4" d="M394.4 96.6 L401.7 96.4 L401.9 104.2 L394.6 104.4 Z"/>
<path fill="#513aa1" stroke="#513aa1" stroke-width="0.4" d="M401.7 96.4 L409.1 96.2 L409.2 104.0 L401.9 104.2 Z"/>
<path fill="#533ba1" stroke="#533ba1" stroke-width="0.4" d="M409.1 96.2 L416.4 96.0 L416.5 103.9 L409.2 104.0 Z"/>
<path fill="#30379a" stroke="#30379a" stroke-width="0.4" d="M101.5 111.4 L108.9 111.2 L109.1 119.0 L101.8 119.2 Z"/>
<path fill="#30379a" stroke="#30379a" stroke-width="0.4" d="M108.9 111.2 L116.2 111.0 L116.4 118.9 L109.1 119.0 Z"/>
<path fill="#30379a" stroke="#30379a" stroke-width="0.4" d="M116.2 111.0 L123.5 110.8 L123.7 118.7 L116.4 118.9 Z"/>
<path fill="#30379a" stroke="#30379a" stroke-width="0.4" d="M123.5 110.8 L130.9 110.7 L131.1 118.5 L123.7 118.7 Z"/>
<path fill="#31379b" stroke="#31379b" stroke-width="0.4" d="M130.9 110.7 L138.2 110.5 L138.4 118.3 L131.1 118.5 Z"/>
<path fill="#31379b" stroke="#31379b" stroke-width="0.4" d="M138.2 110.5 L145.5 110.3 L145.7 118.2 L138.4 118.3 Z"/>
<path fill="#32379b" stroke="#32379b" stroke-width="0.4" d="M145.5 110.3 L152.8 110.1 L153.0 118.0 L145.7 118.2 Z"/>
<path fill="#32379c" stroke="#32379c" stroke-width="0.4" d="M152.8 110.1 L160.2 110.0 L160.4 117.8 L153.0 118.0 Z"/>
<path fill="#33379d" stroke="#33379d" stroke-width="0.4" d="M160.2 110.0 L167.5 109.8 L167.7 117.6 L160.4 117.8 Z"/>
<path fill="#35379f" stroke="#35379f" stroke-width="0.4" d="M167.5 109.8 L174.8 109.6 L175.0 117.5 L167.7 117.6 Z"/>
<path fill="#3837a1" stroke="#3837a1" stroke-width="0.4" d="M174.8 109.6 L182.1 109.4 L182.3 117.3 L175.0 117.5 Z"/>
<path fill="#3b37a3" stroke="#3b37a3" stroke-width="0.4" d="M182.1 109.4 L189.5 109.3 L189.7 117.1 L182.3 117.3 Z"/>
<path fill="#4037a4" stroke="#4037a4" stroke-width="0.4" d="M189.5 109.3 L196.8 109.1 L197.0 116.9 L189.7 117.1 Z"/>
<path fill="#4737a4" stroke="#4737a4" stroke-width="0.4" d="M196.8 109.1 L204.1 108.9 L204.3 116.8 L197.0 116.9 Z"/>
<path fill="#5039a2" stroke="#5039a2" stroke-width="0.4" d="M204.1 108.9 L211.4 108.8 L211.6 116.6 L204.3 116.8 Z"/>
<path fill="#573e9f" stroke="#573e9f" stroke-width="0.4" d="M211.4 108.8 L218.8 108.6 L219.0 116.4 L211.6 116.6 Z"/>
<path fill="#5f419c" stroke="#5f419c" stroke-width="0.4" d="M218.8 108.6 L226.1 108.4 L226.3 116.2 L219.0 116.4 Z"/>
<path fill="#66439a" stroke="#66439a" stroke-width="0.4" d="M226.1 108.4 L233.4 108.2 L233.6 116.1 L226.3 116.2 Z"/>
<path fill="#6b4596" stroke="#6b4596" stroke-width="0.4" d="M233.4 108.2 L240.7 108.1 L240.9 115.9 L233.6 116.1 Z"/>
<path fill="#6e4694" stroke="#6e4694" stroke-width="0.4" d="M240.7 108.1 L248.1 107.9 L248.2 115.7 L240.9 115.9 Z"/>
<path fill="#714791" stroke="#714791" stroke-width="0.4" d="M248.1 107.9 L255.4 107.7 L255.6 115.5 L248.2 115.7 Z"/>
<path fill="#724890" stroke="#724890" stroke-width="0.4" d="M255.4 107.7 L262.7 107.5 L262.9 115.4 L255.6 115.5 Z"/>
<path fill="#734890" stroke="#734890" stroke-width="0.4" d="M262.7 107.5 L270.0 107.4 L270.2 115.2 L262.9 115.4 Z"/>
<path fill="#734890" stroke="#734890" stroke-width="0.4" d="M270.0 107.4 L277.4 107.2 L277.5 115.0 L270.2 115.2 Z"/>
<path fill="#734890" stroke="#734890" stroke-width="0.4" d="M277.4 107.2 L284.7 107.0 L284.9 114.8 L277.5 115.0 Z"/>
<path fill="#734890" stroke="#734890" stroke-width="0.4" d="M284.7 107.0 L292.0 106.8 L292.2 114.7 L284.9 114.8 Z"/>
<path fill="#724890" stroke="#724890" stroke-width="0.4" d="M292.0 106.8 L299.3 106.7 L299.5 114.5 L292.2 114.7 Z"/>
<path fill="#724791" stroke="#724791" stroke-width="0.4" d="M299.3 106.7 L306.7 106.5 L306.8 114.3 L299.5 114.5 Z"/>
<path fill="#714791" stroke="#714791" stroke-width="0.4" d="M306.7 106.5 L314.0 106.3 L314.2 114.1 L306.8 114.3 Z"/>
<path fill="#704792" stroke="#704792" stroke-width="0.4" d="M314.0 106.3 L321.3 106.1 L321.5 114.0 L314.2 114.1 Z"/>
<path fill="#6f4694" stroke="#6f4694" stroke-width="0.4" d="M321.3 106.1 L328.6 106.0 L328.8 113.8 L321.5 114.0 Z"/>
<path fill="#6d4695" stroke="#6d4695" stroke-width="0.4" d="M328.6 106.0 L336.0 105.8 L336.1 113.6 L328.8 113.8 Z"/>
<path fill="#6d4695" stroke="#6d4695" stroke-width="0.4" d="M336.0 105.8 L343.3 105.6 L343.5 113.4 L336.1 113.6 Z"/>
<path fill="#6d4695" stroke="#6d4695" stroke-width="0.4" d="M343.3 105.6 L350.6 105.4 L350.8 113.3 L343.5 113.4 Z"/>
<path fill="#6d4695" stroke="#6d4695" stroke-width="0.4" d="M350.6 105.4 L357.9 105.3 L358.1 113.1 L350.8 113.3 Z"/>
<path fill="#6d4695" stroke="#6d4695" stroke-width="0.4" d="M357.9 105.3 L365.3 105.1 L365.4 112.9 L358.1 113.1 Z"/>
<path fill="#6d4695" stroke="#6d4695" stroke-width="0.4" d="M365.3 105.1 L372.6 104.9 L372.7 112.7 L365.4 112.9 Z"/>
<path fill="#6a4597" stroke="#6a4597" stroke-width="0.4" d="M372.6 104.9 L379.9 104.7 L380.1 112.6 L372.7 112.7 Z"/>
<path fill="#694498" stroke="#694498" stroke-width="0.4" d="M379.9 104.7 L387.2 104.6 L387.4 112.4 L380.1 112.6 Z"/>
<path fill="#684498" stroke="#684498" stroke-width="0.4" d="M387.2 104.6 L394.6 104.4 L394.7 112.2 L387.4 112.4 Z"/>
<path fill="#62429b" stroke="#62429b" stroke-width="0.4" d="M394.6 104.4 L401.9 104.2 L402.0 112.0 L394.7 112.2 Z"/>
<path fill="#684498" stroke="#684498" stroke-width="0.4" d="M409.2 104.0 L416.5 103.9 L416.7 111.7 L409.4 111.9 Z"/>
<path fill="#3737a0" stroke="#3737a0" stroke-width="0.4" d="M101.8 119.2 L109.1 119.0 L109.3 126.9 L102.0 127.1 Z"/>
<path fill="#3737a0" stroke="#3737a0" stroke-width="0.4" d="M109.1 119.0 L116.4 118.9 L116.6 126.7 L109.3 126.9 Z"/>
<path fill="#3637a0" stroke="#3637a0" stroke-width="0.4" d="M116.4 118.9 L123.7 118.7 L124.0 126.5 L116.6 126.7 Z"/>
<path fill="#3737a0" stroke="#3737a0" stroke-width="0.4" d="M123.7 118.7 L131.1 118.5 L131.3 126.4 L124.0 126.5 Z"/>
<path fill="#3737a0" stroke="#3737a0" stroke-width="0.4" d="M131.1 118.5 L138.4 118.3 L138.6 126.2 L131.3 126.4 Z"/>
<path fill="#3837a1" stroke="#3837a1" stroke-width="0.4" d="M138.4 118.3 L145.7 118.2 L145.9 126.0 L138.6 126.2 Z"/>
<path fill="#3837a2" stroke="#3837a2" stroke-width="0.4" d="M145.7 118.2 L153.0 118.0 L153.3 125.8 L145.9 126.0 Z"/>
<path fill="#3937a2" stroke="#3937a2" stroke-width="0.4" d="M153.0 118.0 L160.4 117.8 L160.6 125.7 L153.3 125.8 Z"/>
<path fill="#3a37a3" stroke="#3a37a3" stroke-width="0.4" d="M160.4 117.8 L167.7 117.6 L167.9 125.5 L160.6 125.7 Z"/>
<path fill="#3d37a3" stroke="#3d37a3" stroke-width="0.4" d="M167.7 117.6 L175.0 117.5 L175.2 125.3 L167.9 125.5 Z"/>
<path fill="#3f37a4" stroke="#3f37a4" stroke-width="0.4" d="M175.0 117.5 L182.3 117.3 L182.5 125.1 L175.2 125.3 Z"/>
<path fill="#4237a4" stroke="#4237a4" stroke-width="0.4" d="M182.3 117.3 L189.7 117.1 L189.9 125.0 L182.5 125.1 Z"/>
<path fill="#4637a4" stroke="#4637a4" stroke-width="0.4" d="M189.7 117.1 L197.0 116.9 L197.2 124.8 L189.9 125.0 Z"/>
<path fill="#4b38a3" stroke="#4b38a3" stroke-width="0.4" d="M197.0 116.9 L204.3 116.8 L204.5 124.6 L197.2 124.8 Z"/>
<path fill="#523ba1" stroke="#523ba1" stroke-width="0.4" d="M204.3 116.8 L211.6 116.6 L211.8 124.4 L204.5 124.6 Z"/>
<path fill="#583e9f" stroke="#583e9f" stroke-width="0.4" d="M211.6 116.6 L219.0 116.4 L219.1 124.3 L211.8 124.4 Z"/>
<path fill="#5f419c" stroke="#5f419c" stroke-width="0.4" d="M219.0 116.4 L226.3 116.2 L226.5 124.1 L219.1 124.3 Z"/>
<path fill="#65439a" stroke="#65439a" stroke-width="0.4" d="M226.3 116.2 L233.6 116.1 L233.8 123.9 L226.5 124.1 Z"/>
<path fill="#6a4597" stroke="#6a4597" stroke-width="0.4" d="M233.6 116.1 L240.9 115.9 L241.1 123.7 L233.8 123.9 Z"/>
<path fill="#6d4695" stroke="#6d4695" stroke-width="0.4" d="M240.9 115.9 L248.2 115.7 L248.4 123.6 L241.1 123.7 Z"/>
<path fill="#704793" stroke="#704793" stroke-width="0.4" d="M248.2 115.7 L255.6 115.5 L255.8 123.4 L248.4 123.6 Z"/>
<path fill="#714792" stroke="#714792" stroke-width="0.4" d="M255.6 115.5 L262.9 115.4 L263.1 123.2 L255.8 123.4 Z"/>
<path fill="#714791" stroke="#714791" stroke-width="0.4" d="M262.9 115.4 L270.2 115.2 L270.4 123.0 L263.1 123.2 Z"/>
<path fill="#714791" stroke="#714791" stroke-width="0.4" d="M270.2 115.2 L277.5 115.0 L277.7 122.8 L270.4 123.0 Z"/>
<path fill="#714791" stroke="#714791" stroke-width="0.4" d="M277.5 115.0 L284.9 114.8 L285.0 122.7 L277.7 122.8 Z"/>
<path fill="#714791" stroke="#714791" stroke-width="0.4" d="M284.9 114.8 L292.2 114.7 L292.4 122.5 L285.0 122.7 Z"/>
<path fill="#714791" stroke="#714791" stroke-width="0.4" d="M292.2 114.7 L299.5 114.5 L299.7 122.3 L292.4 122.5 Z"/>
<path fill="#704792" stroke="#704792" stroke-width="0.4" d="M299.5 114.5 L306.8 114.3 L307.0 122.1 L299.7 122.3 Z"/>
<path fill="#6f4793" stroke="#6f4793" stroke-width="0.4" d="M306.8 114.3 L314.2 114.1 L314.3 122.0 L307.0 122.1 Z"/>
<path fill="#6e4694" stroke="#6e4694" stroke-width="0.4" d="M314.2 114.1 L321.5 114.0 L321.6 121.8 L314.3 122.0 Z"/>
<path fill="#6d4695" stroke="#6d4695" stroke-width="0.4" d="M321.5 114.0 L328.8 113.8 L329.0 121.6 L321.6 121.8 Z"/>
<path fill="#6b4596" stroke="#6b4596" stroke-width="0.4" d="M328.8 113.8 L336.1 113.6 L336.3 121.4 L329.0 121.6 Z"/>
<path fill="#6b4596" stroke="#6b4596" stroke-width="0.4" d="M336.1 113.6 L343.5 113.4 L343.6 121.3 L336.3 121.4 Z"/>
<path fill="#6c4695" stroke="#6c4695" stroke-width="0.4" d="M343.5 113.4 L350.8 113.3 L350.9 121.1 L343.6 121.3 Z"/>
<path fill="#6d4695" stroke="#6d4695" stroke-width="0.4" d="M350.8 113.3 L358.1 113.1 L358.3 120.9 L350.9 121.1 Z"/>
<path fill="#6d4695" stroke="#6d4695" stroke-width="0.4" d="M358.1 113.1 L365.4 112.9 L365.6 120.7 L358.3 120.9 Z"/>
<path fill="#6e4694" stroke="#6e4694" stroke-width="0.4" d="M365.4 112.9 L372.7 112.7 L372.9 120.6 L365.6 120.7 Z"/>
<path fill="#6d4695" stroke="#6d4695" stroke-width="0.4" d="M372.7 112.7 L380.1 112.6 L380.2 120.4 L372.9 120.6 Z"/>
<path fill="#6d4695" stroke="#6d4695" stroke-width="0.4" d="M380.1 112.6 L387.4 112.4 L387.5 120.2 L380.2 120.4 Z"/>
<path fill="#3c37a3" stroke="#3c37a3" stroke-width="0.4" d="M102.0 127.1 L109.3 126.9 L109.5 134.7 L102.2 134.9 Z"/>
<path fill="#3d37a3" stroke="#3d37a3" stroke-width="0.4" d="M109.3 126.9 L116.6 126.7 L116.9 134.6 L109.5 134.7 Z"/>
<path fill="#3d37a3" stroke="#3d37a3" stroke-width="0.4" d="M116.6 126.7 L124.0 126.5 L124.2 134.4 L116.9 134.6 Z"/>
<path fill="#3d37a3" stroke="#3d37a3" stroke-width="0.4" d="M124.0 126.5 L131.3 126.4 L131.5 134.2 L124.2 134.4 Z"/>
<path fill="#3e37a3" stroke="#3e37a3" stroke-width="0.4" d="M131.3 126.4 L138.6 126.2 L138.8 134.0 L131.5 134.2 Z"/>
<path fill="#3f37a4" stroke="#3f37a4" stroke-width="0.4" d="M138.6 126.2 L145.9 126.0 L146.1 133.9 L138.8 134.0 Z"/>
<path fill="#4037a4" stroke="#4037a4" stroke-width="0.4" d="M145.9 126.0 L153.3 125.8 L153.5 133.7 L146.1 133.9 Z"/>
<path fill="#4237a4" stroke="#4237a4" stroke-width="0.4" d="M153.3 125.8 L160.6 125.7 L160.8 133.5 L153.5 133.7 Z"/>
<path fill="#4437a4" stroke="#4437a4" stroke-width="0.4" d="M160.6 125.7 L167.9 125.5 L168.1 133.3 L160.8 133.5 Z"/>
<path fill="#4637a4" stroke="#4637a4" stroke-width="0.4" d="M167.9 125.5 L175.2 125.3 L175.4 133.2 L168.1 133.3 Z"/>
<path fill="#4938a3" stroke="#4938a3" stroke-width="0.4" d="M175.2 125.3 L182.5 125.1 L182.7 133.0 L175.4 133.2 Z"/>
<path fill="#4c38a3" stroke="#4c38a3" stroke-width="0.4" d="M182.5 125.1 L189.9 125.0 L190.1 132.8 L182.7 133.0 Z"/>
<path fill="#4f39a2" stroke="#4f39a2" stroke-width="0.4" d="M189.9 125.0 L197.2 124.8 L197.4 132.6 L190.1 132.8 Z"/>
<path fill="#523ba1" stroke="#523ba1" stroke-width="0.4" d="M197.2 124.8 L204.5 124.6 L204.7 132.5 L197.4 132.6 Z"/>
<path fill="#573d9f" stroke="#573d9f" stroke-width="0.4" d="M204.5 124.6 L211.8 124.4 L212.0 132.3 L204.7 132.5 Z"/>
<path fill="#5c409d" stroke="#5c409d" stroke-width="0.4" d="M211.8 124.4 L219.1 124.3 L219.3 132.1 L212.0 132.3 Z"/>
<path fill="#61419c" stroke="#61419c" stroke-width="0.4" d="M219.1 124.3 L226.5 124.1 L226.7 131.9 L219.3 132.1 Z"/>
<path fill="#65439a" stroke="#65439a" stroke-width="0.4" d="M226.5 124.1 L233.8 123.9 L234.0 131.7 L226.7 131.9 Z"/>
<path fill="#694498" stroke="#694498" stroke-width="0.4" d="M233.8 123.9 L241.1 123.7 L241.3 131.6 L234.0 131.7 Z"/>
<path fill="#6c4696" stroke="#6c4696" stroke-width="0.4" d="M241.1 123.7 L248.4 123.6 L248.6 131.4 L241.3 131.6 Z"/>
<path fill="#6e4694" stroke="#6e4694" stroke-width="0.4" d="M248.4 123.6 L255.8 123.4 L255.9 131.2 L248.6 131.4 Z"/>
<path fill="#6f4793" stroke="#6f4793" stroke-width="0.4" d="M255.8 123.4 L263.1 123.2 L263.3 131.0 L255.9 131.2 Z"/>
<path fill="#704792" stroke="#704792" stroke-width="0.4" d="M263.1 123.2 L270.4 123.0 L270.6 130.9 L263.3 131.0 Z"/>
<path fill="#704792" stroke="#704792" stroke-width="0.4" d="M270.4 123.0 L277.7 122.8 L277.9 130.7 L270.6 130.9 Z"/>
<path fill="#704792" stroke="#704792" stroke-width="0.4" d="M277.7 122.8 L285.0 122.7 L285.2 130.5 L277.9 130.7 Z"/>
<path fill="#704792" stroke="#704792" stroke-width="0.4" d="M285.0 122.7 L292.4 122.5 L292.5 130.3 L285.2 130.5 Z"/>
<path fill="#704792" stroke="#704792" stroke-width="0.4" d="M292.4 122.5 L299.7 122.3 L299.9 130.2 L292.5 130.3 Z"/>
<path fill="#704793" stroke="#704793" stroke-width="0.4" d="M299.7 122.3 L307.0 122.1 L307.2 130.0 L299.9 130.2 Z"/>
<path fill="#6e4694" stroke="#6e4694" stroke-width="0.4" d="M307.0 122.1 L314.3 122.0 L314.5 129.8 L307.2 130.0 Z"/>
<path fill="#6d4695" stroke="#6d4695" stroke-width="0.4" d="M314.3 122.0 L321.6 121.8 L321.8 129.6 L314.5 129.8 Z"/>
<path fill="#6a4597" stroke="#6a4597" stroke-width="0.4" d="M321.6 121.8 L329.0 121.6 L329.1 129.4 L321.8 129.6 Z"/>
<path fill="#684498" stroke="#684498" stroke-width="0.4" d="M329.0 121.6 L336.3 121.4 L336.5 129.3 L329.1 129.4 Z"/>
<path fill="#64439a" stroke="#64439a" stroke-width="0.4" d="M336.3 121.4 L343.6 121.3 L343.8 129.1 L336.5 129.3 Z"/>
<path fill="#66439a" stroke="#66439a" stroke-width="0.4" d="M343.6 121.3 L350.9 121.1 L351.1 128.9 L343.8 129.1 Z"/>
<path fill="#694597" stroke="#694597" stroke-width="0.4" d="M350.9 121.1 L358.3 120.9 L358.4 128.7 L351.1 128.9 Z"/>
<path fill="#6d4695" stroke="#6d4695" stroke-width="0.4" d="M358.3 120.9 L365.6 120.7 L365.7 128.6 L358.4 128.7 Z"/>
<path fill="#6f4793" stroke="#6f4793" stroke-width="0.4" d="M365.6 120.7 L372.9 120.6 L373.1 128.4 L365.7 128.6 Z"/>
<path fill="#704792" stroke="#704792" stroke-width="0.4" d="M372.9 120.6 L380.2 120.4 L380.4 128.2 L373.1 128.4 Z"/>
<path fill="#c4607a" stroke="#c4607a" stroke-width="0.4" d="M409.5 119.7 L416.8 119.5 L417.0 127.3 L409.7 127.5 Z"/>
<path fill="#4237a4" stroke="#4237a4" stroke-width="0.4" d="M102.2 134.9 L109.5 134.7 L109.8 142.6 L102.5 142.8 Z"/>
<path fill="#4337a4" stroke="#4337a4" stroke-width="0.4" d="M109.5 134.7 L116.9 134.6 L117.1 142.4 L109.8 142.6 Z"/>
<path fill="#4337a4" stroke="#4337a4" stroke-width="0.4" d="M116.9 134.6 L124.2 134.4 L124.4 142.2 L117.1 142.4 Z"/>
<path fill="#4437a4" stroke="#4437a4" stroke-width="0.4" d="M124.2 134.4 L131.5 134.2 L131.7 142.1 L124.4 142.2 Z"/>
<path fill="#4537a4" stroke="#4537a4" stroke-width="0.4" d="M131.5 134.2 L138.8 134.0 L139.0 141.9 L131.7 142.1 Z"/>
<path fill="#4637a4" stroke="#4637a4" stroke-width="0.4" d="M138.8 134.0 L146.1 133.9 L146.4 141.7 L139.0 141.9 Z"/>
<path fill="#4938a3" stroke="#4938a3" stroke-width="0.4" d="M146.1 133.9 L153.5 133.7 L153.7 141.5 L146.4 141.7 Z"/>
<path fill="#4c38a3" stroke="#4c38a3" stroke-width="0.4" d="M153.5 133.7 L160.8 133.5 L161.0 141.4 L153.7 141.5 Z"/>
<path fill="#4e38a3" stroke="#4e38a3" stroke-width="0.4" d="M160.8 133.5 L168.1 133.3 L168.3 141.2 L161.0 141.4 Z"/>
<path fill="#4f39a2" stroke="#4f39a2" stroke-width="0.4" d="M168.1 133.3 L175.4 133.2 L175.6 141.0 L168.3 141.2 Z"/>
<path fill="#523ba1" stroke="#523ba1" stroke-width="0.4" d="M175.4 133.2 L182.7 133.0 L182.9 140.8 L175.6 141.0 Z"/>
<path fill="#553ca0" stroke="#553ca0" stroke-width="0.4" d="M182.7 133.0 L190.1 132.8 L190.3 140.6 L182.9 140.8 Z"/>
<path fill="#563da0" stroke="#563da0" stroke-width="0.4" d="M190.1 132.8 L197.4 132.6 L197.6 140.5 L190.3 140.6 Z"/>
<path fill="#583e9f" stroke="#583e9f" stroke-width="0.4" d="M197.4 132.6 L204.7 132.5 L204.9 140.3 L197.6 140.5 Z"/>
<path fill="#5c409d" stroke="#5c409d" stroke-width="0.4" d="M204.7 132.5 L212.0 132.3 L212.2 140.1 L204.9 140.3 Z"/>
<path fill="#5f419c" stroke="#5f419c" stroke-width="0.4" d="M212.0 132.3 L219.3 132.1 L219.5 139.9 L212.2 140.1 Z"/>
<path fill="#63429b" stroke="#63429b" stroke-width="0.4" d="M219.3 132.1 L226.7 131.9 L226.9 139.8 L219.5 139.9 Z"/>
<path fill="#66439a" stroke="#66439a" stroke-width="0.4" d="M226.7 131.9 L234.0 131.7 L234.2 139.6 L226.9 139.8 Z"/>
<path fill="#684498" stroke="#684498" stroke-width="0.4" d="M234.0 131.7 L241.3 131.6 L241.5 139.4 L234.2 139.6 Z"/>
<path fill="#6b4596" stroke="#6b4596" stroke-width="0.4" d="M241.3 131.6 L248.6 131.4 L248.8 139.2 L241.5 139.4 Z"/>
<path fill="#6d4695" stroke="#6d4695" stroke-width="0.4" d="M248.6 131.4 L255.9 131.2 L256.1 139.1 L248.8 139.2 Z"/>
<path fill="#6e4694" stroke="#6e4694" stroke-width="0.4" d="M255.9 131.2 L263.3 131.0 L263.4 138.9 L256.1 139.1 Z"/>
<path fill="#6f4694" stroke="#6f4694" stroke-width="0.4" d="M263.3 131.0 L270.6 130.9 L270.8 138.7 L263.4 138.9 Z"/>
<path fill="#6f4793" stroke="#6f4793" stroke-width="0.4" d="M270.6 130.9 L277.9 130.7 L278.1 138.5 L270.8 138.7 Z"/>
<path fill="#6f4793" stroke="#6f4793" stroke-width="0.4" d="M277.9 130.7 L285.2 130.5 L285.4 138.3 L278.1 138.5 Z"/>
<path fill="#704793" stroke="#704793" stroke-width="0.4" d="M285.2 130.5 L292.5 130.3 L292.7 138.2 L285.4 138.3 Z"/>
<path fill="#704793" stroke="#704793" stroke-width="0.4" d="M292.5 130.3 L299.9 130.2 L300.0 138.0 L292.7 138.2 Z"/>
<path fill="#6f4793" stroke="#6f4793" stroke-width="0.4" d="M299.9 130.2 L307.2 130.0 L307.4 137.8 L300.0 138.0 Z"/>
<path fill="#6e4694" stroke="#6e4694" stroke-width="0.4" d="M307.2 130.0 L314.5 129.8 L314.7 137.6 L307.4 137.8 Z"/>
<path fill="#6b4596" stroke="#6b4596" stroke-width="0.4" d="M314.5 129.8 L321.8 129.6 L322.0 137.5 L314.7 137.6 Z"/>
<path fill="#674499" stroke="#674499" stroke-width="0.4" d="M321.8 129.6 L329.1 129.4 L329.3 137.3 L322.0 137.5 Z"/>
<path fill="#60419c" stroke="#60419c" stroke-width="0.4" d="M329.1 129.4 L336.5 129.3 L336.6 137.1 L329.3 137.3 Z"/>
<path fill="#563d9f" stroke="#563d9f" stroke-width="0.4" d="M336.5 129.3 L343.8 129.1 L343.9 136.9 L336.6 137.1 Z"/>
<path fill="#5a3f9e" stroke="#5a3f9e" stroke-width="0.4" d="M343.8 129.1 L351.1 128.9 L351.3 136.7 L343.9 136.9 Z"/>
<path fill="#64439a" stroke="#64439a" stroke-width="0.4" d="M351.1 128.9 L358.4 128.7 L358.6 136.6 L351.3 136.7 Z"/>
<path fill="#6e4694" stroke="#6e4694" stroke-width="0.4" d="M358.4 128.7 L365.7 128.6 L365.9 136.4 L358.6 136.6 Z"/>
<path fill="#724791" stroke="#724791" stroke-width="0.4" d="M365.7 128.6 L373.1 128.4 L373.2 136.2 L365.9 136.4 Z"/>
<path fill="#d8666c" stroke="#d8666c" stroke-width="0.4" d="M409.7 127.5 L417.0 127.3 L417.1 135.2 L409.8 135.3 Z"/>
<path fill="#4737a4" stroke="#4737a4" stroke-width="0.4" d="M102.5 142.8 L109.8 142.6 L110.0 150.4 L102.7 150.6 Z"/>
<path fill="#4837a4" stroke="#4837a4" stroke-width="0.4" d="M109.8 142.6 L117.1 142.4 L117.3 150.3 L110.0 150.4 Z"/>
<path fill="#4938a3" stroke="#4938a3" stroke-width="0.4" d="M117.1 142.4 L124.4 142.2 L124.6 150.1 L117.3 150.3 Z"/>
<path fill="#4a38a3" stroke="#4a38a3" stroke-width="0.4" d="M124.4 142.2 L131.7 142.1 L131.9 149.9 L124.6 150.1 Z"/>
<path fill="#4b38a3" stroke="#4b38a3" stroke-width="0.4" d="M131.7 142.1 L139.0 141.9 L139.3 149.7 L131.9 149.9 Z"/>
<path fill="#4c38a3" stroke="#4c38a3" stroke-width="0.4" d="M139.0 141.9 L146.4 141.7 L146.6 149.6 L139.3 149.7 Z"/>
<path fill="#4e39a2" stroke="#4e39a2" stroke-width="0.4" d="M146.4 141.7 L153.7 141.5 L153.9 149.4 L146.6 149.6 Z"/>
<path fill="#513aa2" stroke="#513aa2" stroke-width="0.4" d="M153.7 141.5 L161.0 141.4 L161.2 149.2 L153.9 149.4 Z"/>
<path fill="#523ba1" stroke="#523ba1" stroke-width="0.4" d="M161.0 141.4 L168.3 141.2 L168.5 149.0 L161.2 149.2 Z"/>
<path fill="#543ca0" stroke="#543ca0" stroke-width="0.4" d="M168.3 141.2 L175.6 141.0 L175.8 148.8 L168.5 149.0 Z"/>
<path fill="#563d9f" stroke="#563d9f" stroke-width="0.4" d="M175.6 141.0 L182.9 140.8 L183.2 148.7 L175.8 148.8 Z"/>
<path fill="#593e9e" stroke="#593e9e" stroke-width="0.4" d="M182.9 140.8 L190.3 140.6 L190.5 148.5 L183.2 148.7 Z"/>
<path fill="#5a3f9e" stroke="#5a3f9e" stroke-width="0.4" d="M190.3 140.6 L197.6 140.5 L197.8 148.3 L190.5 148.5 Z"/>
<path fill="#5c409d" stroke="#5c409d" stroke-width="0.4" d="M197.6 140.5 L204.9 140.3 L205.1 148.1 L197.8 148.3 Z"/>
<path fill="#5f419c" stroke="#5f419c" stroke-width="0.4" d="M204.9 140.3 L212.2 140.1 L212.4 148.0 L205.1 148.1 Z"/>
<path fill="#62429b" stroke="#62429b" stroke-width="0.4" d="M212.2 140.1 L219.5 139.9 L219.7 147.8 L212.4 148.0 Z"/>
<path fill="#64439a" stroke="#64439a" stroke-width="0.4" d="M219.5 139.9 L226.9 139.8 L227.0 147.6 L219.7 147.8 Z"/>
<path fill="#664499" stroke="#664499" stroke-width="0.4" d="M226.9 139.8 L234.2 139.6 L234.4 147.4 L227.0 147.6 Z"/>
<path fill="#684498" stroke="#684498" stroke-width="0.4" d="M234.2 139.6 L241.5 139.4 L241.7 147.2 L234.4 147.4 Z"/>
<path fill="#6a4597" stroke="#6a4597" stroke-width="0.4" d="M241.5 139.4 L248.8 139.2 L249.0 147.1 L241.7 147.2 Z"/>
<path fill="#6c4696" stroke="#6c4696" stroke-width="0.4" d="M248.8 139.2 L256.1 139.1 L256.3 146.9 L249.0 147.1 Z"/>
<path fill="#6d4695" stroke="#6d4695" stroke-width="0.4" d="M256.1 139.1 L263.4 138.9 L263.6 146.7 L256.3 146.9 Z"/>
<path fill="#6e4694" stroke="#6e4694" stroke-width="0.4" d="M263.4 138.9 L270.8 138.7 L270.9 146.5 L263.6 146.7 Z"/>
<path fill="#6e4694" stroke="#6e4694" stroke-width="0.4" d="M270.8 138.7 L278.1 138.5 L278.3 146.4 L270.9 146.5 Z"/>
<path fill="#6e4694" stroke="#6e4694" stroke-width="0.4" d="M278.1 138.5 L285.4 138.3 L285.6 146.2 L278.3 146.4 Z"/>
<path fill="#6f4793" stroke="#6f4793" stroke-width="0.4" d="M285.4 138.3 L292.7 138.2 L292.9 146.0 L285.6 146.2 Z"/>
<path fill="#6f4793" stroke="#6f4793" stroke-width="0.4" d="M292.7 138.2 L300.0 138.0 L300.2 145.8 L292.9 146.0 Z"/>
<path fill="#6e4694" stroke="#6e4694" stroke-width="0.4" d="M300.0 138.0 L307.4 137.8 L307.5 145.6 L300.2 145.8 Z"/>
<path fill="#6e4695" stroke="#6e4695" stroke-width="0.4" d="M307.4 137.8 L314.7 137.6 L314.8 145.5 L307.5 145.6 Z"/>
<path fill="#6a4597" stroke="#6a4597" stroke-width="0.4" d="M314.7 137.6 L322.0 137.5 L322.2 145.3 L314.8 145.5 Z"/>
<path fill="#65439a" stroke="#65439a" stroke-width="0.4" d="M322.0 137.5 L329.3 137.3 L329.5 145.1 L322.2 145.3 Z"/>
<path fill="#5c409d" stroke="#5c409d" stroke-width="0.4" d="M329.3 137.3 L336.6 137.1 L336.8 144.9 L329.5 145.1 Z"/>
<path fill="#503aa2" stroke="#503aa2" stroke-width="0.4" d="M336.6 137.1 L343.9 136.9 L344.1 144.8 L336.8 144.9 Z"/>
<path fill="#4e38a3" stroke="#4e38a3" stroke-width="0.4" d="M343.9 136.9 L351.3 136.7 L351.4 144.6 L344.1 144.8 Z"/>
<path fill="#62429b" stroke="#62429b" stroke-width="0.4" d="M351.3 136.7 L358.6 136.6 L358.7 144.4 L351.4 144.6 Z"/>
<path fill="#73488f" stroke="#73488f" stroke-width="0.4" d="M358.6 136.6 L365.9 136.4 L366.0 144.2 L358.7 144.4 Z"/>
<path fill="#de7063" stroke="#de7063" stroke-width="0.4" d="M409.8 135.3 L417.1 135.2 L417.3 143.0 L409.9 143.2 Z"/>
<path fill="#4b38a3" stroke="#4b38a3" stroke-width="0.4" d="M102.7 150.6 L110.0 150.4 L110.2 158.3 L102.9 158.5 Z"/>
<path fill="#4c38a3" stroke="#4c38a3" stroke-width="0.4" d="M110.0 150.4 L117.3 150.3 L117.5 158.1 L110.2 158.3 Z"/>
<path fill="#4d38a3" stroke="#4d38a3" stroke-width="0.4" d="M117.3 150.3 L124.6 150.1 L124.8 157.9 L117.5 158.1 Z"/>
<path fill="#4e38a3" stroke="#4e38a3" stroke-width="0.4" d="M124.6 150.1 L131.9 149.9 L132.2 157.8 L124.8 157.9 Z"/>
<path fill="#4f39a2" stroke="#4f39a2" stroke-width="0.4" d="M131.9 149.9 L139.3 149.7 L139.5 157.6 L132.2 157.8 Z"/>
<path fill="#5039a2" stroke="#5039a2" stroke-width="0.4" d="M139.3 149.7 L146.6 149.6 L146.8 157.4 L139.5 157.6 Z"/>
<path fill="#513aa1" stroke="#513aa1" stroke-width="0.4" d="M146.6 149.6 L153.9 149.4 L154.1 157.2 L146.8 157.4 Z"/>
<path fill="#533ba1" stroke="#533ba1" stroke-width="0.4" d="M153.9 149.4 L161.2 149.2 L161.4 157.0 L154.1 157.2 Z"/>
<path fill="#553ca0" stroke="#553ca0" stroke-width="0.4" d="M161.2 149.2 L168.5 149.0 L168.7 156.9 L161.4 157.0 Z"/>
<path fill="#563d9f" stroke="#563d9f" stroke-width="0.4" d="M168.5 149.0 L175.8 148.8 L176.0 156.7 L168.7 156.9 Z"/>
<path fill="#583e9f" stroke="#583e9f" stroke-width="0.4" d="M175.8 148.8 L183.2 148.7 L183.4 156.5 L176.0 156.7 Z"/>
<path fill="#5a3f9e" stroke="#5a3f9e" stroke-width="0.4" d="M183.2 148.7 L190.5 148.5 L190.7 156.3 L183.4 156.5 Z"/>
<path fill="#5c409d" stroke="#5c409d" stroke-width="0.4" d="M190.5 148.5 L197.8 148.3 L198.0 156.2 L190.7 156.3 Z"/>
<path fill="#5e409d" stroke="#5e409d" stroke-width="0.4" d="M197.8 148.3 L205.1 148.1 L205.3 156.0 L198.0 156.2 Z"/>
<path fill="#60419c" stroke="#60419c" stroke-width="0.4" d="M205.1 148.1 L212.4 148.0 L212.6 155.8 L205.3 156.0 Z"/>
<path fill="#63429b" stroke="#63429b" stroke-width="0.4" d="M212.4 148.0 L219.7 147.8 L219.9 155.6 L212.6 155.8 Z"/>
<path fill="#65439a" stroke="#65439a" stroke-width="0.4" d="M219.7 147.8 L227.0 147.6 L227.2 155.4 L219.9 155.6 Z"/>
<path fill="#674499" stroke="#674499" stroke-width="0.4" d="M227.0 147.6 L234.4 147.4 L234.6 155.3 L227.2 155.4 Z"/>
<path fill="#694498" stroke="#694498" stroke-width="0.4" d="M234.4 147.4 L241.7 147.2 L241.9 155.1 L234.6 155.3 Z"/>
<path fill="#6a4597" stroke="#6a4597" stroke-width="0.4" d="M241.7 147.2 L249.0 147.1 L249.2 154.9 L241.9 155.1 Z"/>
<path fill="#6b4596" stroke="#6b4596" stroke-width="0.4" d="M249.0 147.1 L256.3 146.9 L256.5 154.7 L249.2 154.9 Z"/>
<path fill="#6c4696" stroke="#6c4696" stroke-width="0.4" d="M256.3 146.9 L263.6 146.7 L263.8 154.5 L256.5 154.7 Z"/>
<path fill="#6d4695" stroke="#6d4695" stroke-width="0.4" d="M263.6 146.7 L270.9 146.5 L271.1 154.4 L263.8 154.5 Z"/>
<path fill="#6d4695" stroke="#6d4695" stroke-width="0.4" d="M270.9 146.5 L278.3 146.4 L278.4 154.2 L271.1 154.4 Z"/>
<path fill="#6d4695" stroke="#6d4695" stroke-width="0.4" d="M278.3 146.4 L285.6 146.2 L285.8 154.0 L278.4 154.2 Z"/>
<path fill="#6d4695" stroke="#6d4695" stroke-width="0.4" d="M285.6 146.2 L292.9 146.0 L293.1 153.8 L285.8 154.0 Z"/>
<path fill="#6e4694" stroke="#6e4694" stroke-width="0.4" d="M292.9 146.0 L300.2 145.8 L300.4 153.7 L293.1 153.8 Z"/>
<path fill="#6d4695" stroke="#6d4695" stroke-width="0.4" d="M300.2 145.8 L307.5 145.6 L307.7 153.5 L300.4 153.7 Z"/>
<path fill="#6c4696" stroke="#6c4696" stroke-width="0.4" d="M307.5 145.6 L314.8 145.5 L315.0 153.3 L307.7 153.5 Z"/>
<path fill="#694498" stroke="#694498" stroke-width="0.4" d="M314.8 145.5 L322.2 145.3 L322.3 153.1 L315.0 153.3 Z"/>
<path fill="#63429b" stroke="#63429b" stroke-width="0.4" d="M322.2 145.3 L329.5 145.1 L329.6 152.9 L322.3 153.1 Z"/>
<path fill="#5b409d" stroke="#5b409d" stroke-width="0.4" d="M329.5 145.1 L336.8 144.9 L337.0 152.8 L329.6 152.9 Z"/>
<path fill="#533ba1" stroke="#533ba1" stroke-width="0.4" d="M336.8 144.9 L344.1 144.8 L344.3 152.6 L337.0 152.8 Z"/>
<path fill="#533ba1" stroke="#533ba1" stroke-width="0.4" d="M344.1 144.8 L351.4 144.6 L351.6 152.4 L344.3 152.6 Z"/>
<path fill="#63429b" stroke="#63429b" stroke-width="0.4" d="M351.4 144.6 L358.7 144.4 L358.9 152.2 L351.6 152.4 Z"/>
<path fill="#734890" stroke="#734890" stroke-width="0.4" d="M358.7 144.4 L366.0 144.2 L366.2 152.0 L358.9 152.2 Z"/>
<path fill="#de7063" stroke="#de7063" stroke-width="0.4" d="M402.6 143.3 L409.9 143.2 L410.1 151.0 L402.8 151.2 Z"/>
<path fill="#e17161" stroke="#e17161" stroke-width="0.4" d="M409.9 143.2 L417.3 143.0 L417.4 150.8 L410.1 151.0 Z"/>
<path fill="#4e38a3" stroke="#4e38a3" stroke-width="0.4" d="M102.9 158.5 L110.2 158.3 L110.4 166.1 L103.1 166.3 Z"/>
<path fill="#4e39a2" stroke="#4e39a2" stroke-width="0.4" d="M110.2 158.3 L117.5 158.1 L117.8 166.0 L110.4 166.1 Z"/>
<path fill="#4f39a2" stroke="#4f39a2" stroke-width="0.4" d="M117.5 158.1 L124.8 157.9 L125.1 165.8 L117.8 166.0 Z"/>
<path fill="#503aa2" stroke="#503aa2" stroke-width="0.4" d="M124.8 157.9 L132.2 157.8 L132.4 165.6 L125.1 165.8 Z"/>
<path fill="#513aa2" stroke="#513aa2" stroke-width="0.4" d="M132.2 157.8 L139.5 157.6 L139.7 165.4 L132.4 165.6 Z"/>
<path fill="#523ba1" stroke="#523ba1" stroke-width="0.4" d="M139.5 157.6 L146.8 157.4 L147.0 165.3 L139.7 165.4 Z"/>
<path fill="#533ba1" stroke="#533ba1" stroke-width="0.4" d="M146.8 157.4 L154.1 157.2 L154.3 165.1 L147.0 165.3 Z"/>
<path fill="#553ca0" stroke="#553ca0" stroke-width="0.4" d="M154.1 157.2 L161.4 157.0 L161.6 164.9 L154.3 165.1 Z"/>
<path fill="#563d9f" stroke="#563d9f" stroke-width="0.4" d="M161.4 157.0 L168.7 156.9 L168.9 164.7 L161.6 164.9 Z"/>
<path fill="#583e9f" stroke="#583e9f" stroke-width="0.4" d="M168.7 156.9 L176.0 156.7 L176.3 164.5 L168.9 164.7 Z"/>
<path fill="#593f9e" stroke="#593f9e" stroke-width="0.4" d="M176.0 156.7 L183.4 156.5 L183.6 164.4 L176.3 164.5 Z"/>
<path fill="#5b3f9e" stroke="#5b3f9e" stroke-width="0.4" d="M183.4 156.5 L190.7 156.3 L190.9 164.2 L183.6 164.4 Z"/>
<path fill="#5d409d" stroke="#5d409d" stroke-width="0.4" d="M190.7 156.3 L198.0 156.2 L198.2 164.0 L190.9 164.2 Z"/>
<path fill="#5f419c" stroke="#5f419c" stroke-width="0.4" d="M198.0 156.2 L205.3 156.0 L205.5 163.8 L198.2 164.0 Z"/>
<path fill="#61429b" stroke="#61429b" stroke-width="0.4" d="M205.3 156.0 L212.6 155.8 L212.8 163.6 L205.5 163.8 Z"/>
<path fill="#63429b" stroke="#63429b" stroke-width="0.4" d="M212.6 155.8 L219.9 155.6 L220.1 163.5 L212.8 163.6 Z"/>
<path fill="#66439a" stroke="#66439a" stroke-width="0.4" d="M219.9 155.6 L227.2 155.4 L227.4 163.3 L220.1 163.5 Z"/>
<path fill="#674499" stroke="#674499" stroke-width="0.4" d="M227.2 155.4 L234.6 155.3 L234.7 163.1 L227.4 163.3 Z"/>
<path fill="#694498" stroke="#694498" stroke-width="0.4" d="M234.6 155.3 L241.9 155.1 L242.1 162.9 L234.7 163.1 Z"/>
<path fill="#6a4597" stroke="#6a4597" stroke-width="0.4" d="M241.9 155.1 L249.2 154.9 L249.4 162.7 L242.1 162.9 Z"/>
<path fill="#6b4596" stroke="#6b4596" stroke-width="0.4" d="M249.2 154.9 L256.5 154.7 L256.7 162.6 L249.4 162.7 Z"/>
<path fill="#6b4596" stroke="#6b4596" stroke-width="0.4" d="M256.5 154.7 L263.8 154.5 L264.0 162.4 L256.7 162.6 Z"/>
<path fill="#6c4696" stroke="#6c4696" stroke-width="0.4" d="M263.8 154.5 L271.1 154.4 L271.3 162.2 L264.0 162.4 Z"/>
<path fill="#6c4696" stroke="#6c4696" stroke-width="0.4" d="M271.1 154.4 L278.4 154.2 L278.6 162.0 L271.3 162.2 Z"/>
<path fill="#6c4696" stroke="#6c4696" stroke-width="0.4" d="M278.4 154.2 L285.8 154.0 L285.9 161.8 L278.6 162.0 Z"/>
<path fill="#6c4596" stroke="#6c4596" stroke-width="0.4" d="M285.8 154.0 L293.1 153.8 L293.2 161.7 L285.9 161.8 Z"/>
<path fill="#6c4696" stroke="#6c4696" stroke-width="0.4" d="M293.1 153.8 L300.4 153.7 L300.6 161.5 L293.2 161.7 Z"/>
<path fill="#6c4696" stroke="#6c4696" stroke-width="0.4" d="M300.4 153.7 L307.7 153.5 L307.9 161.3 L300.6 161.5 Z"/>
<path fill="#6b4596" stroke="#6b4596" stroke-width="0.4" d="M307.7 153.5 L315.0 153.3 L315.2 161.1 L307.9 161.3 Z"/>
<path fill="#674498" stroke="#674498" stroke-width="0.4" d="M315.0 153.3 L322.3 153.1 L322.5 160.9 L315.2 161.1 Z"/>
<path fill="#62429b" stroke="#62429b" stroke-width="0.4" d="M322.3 153.1 L329.6 152.9 L329.8 160.8 L322.5 160.9 Z"/>
<path fill="#5c409d" stroke="#5c409d" stroke-width="0.4" d="M329.6 152.9 L337.0 152.8 L337.1 160.6 L329.8 160.8 Z"/>
<path fill="#573e9f" stroke="#573e9f" stroke-width="0.4" d="M337.0 152.8 L344.3 152.6 L344.4 160.4 L337.1 160.6 Z"/>
<path fill="#523ba1" stroke="#523ba1" stroke-width="0.4" d="M344.3 152.6 L351.6 152.4 L351.7 160.2 L344.4 160.4 Z"/>
<path fill="#5e419c" stroke="#5e419c" stroke-width="0.4" d="M351.6 152.4 L358.9 152.2 L359.1 160.1 L351.7 160.2 Z"/>
<path fill="#6e4694" stroke="#6e4694" stroke-width="0.4" d="M358.9 152.2 L366.2 152.0 L366.4 159.9 L359.1 160.1 Z"/>
<path fill="#de7063" stroke="#de7063" stroke-width="0.4" d="M402.8 151.2 L410.1 151.0 L410.2 158.8 L402.9 159.0 Z"/>
<path fill="#e17161" stroke="#e17161" stroke-width="0.4" d="M410.1 151.0 L417.4 150.8 L417.5 158.6 L410.2 158.8 Z"/>
<path fill="#4f39a2" stroke="#4f39a2" stroke-width="0.4" d="M103.1 166.3 L110.4 166.1 L110.7 174.0 L103.4 174.2 Z"/>
<path fill="#5039a2" stroke="#5039a2" stroke-width="0.4" d="M110.4 166.1 L117.8 166.0 L118.0 173.8 L110.7 174.0 Z"/>
<path fill="#503aa2" stroke="#503aa2" stroke-width="0.4" d="M117.8 166.0 L125.1 165.8 L125.3 173.6 L118.0 173.8 Z"/>
<path fill="#513aa1" stroke="#513aa1" stroke-width="0.4" d="M125.1 165.8 L132.4 165.6 L132.6 173.5 L125.3 173.6 Z"/>
<path fill="#523ba1" stroke="#523ba1" stroke-width="0.4" d="M132.4 165.6 L139.7 165.4 L139.9 173.3 L132.6 173.5 Z"/>
<path fill="#533ba1" stroke="#533ba1" stroke-width="0.4" d="M139.7 165.4 L147.0 165.3 L147.2 173.1 L139.9 173.3 Z"/>
<path fill="#553ca0" stroke="#553ca0" stroke-width="0.4" d="M147.0 165.3 L154.3 165.1 L154.5 172.9 L147.2 173.1 Z"/>
<path fill="#563da0" stroke="#563da0" stroke-width="0.4" d="M154.3 165.1 L161.6 164.9 L161.8 172.7 L154.5 172.9 Z"/>
<path fill="#573e9f" stroke="#573e9f" stroke-width="0.4" d="M161.6 164.9 L168.9 164.7 L169.2 172.6 L161.8 172.7 Z"/>
<path fill="#593e9e" stroke="#593e9e" stroke-width="0.4" d="M168.9 164.7 L176.3 164.5 L176.5 172.4 L169.2 172.6 Z"/>
<path fill="#5a3f9e" stroke="#5a3f9e" stroke-width="0.4" d="M176.3 164.5 L183.6 164.4 L183.8 172.2 L176.5 172.4 Z"/>
<path fill="#5c409d" stroke="#5c409d" stroke-width="0.4" d="M183.6 164.4 L190.9 164.2 L191.1 172.0 L183.8 172.2 Z"/>
<path fill="#5e409d" stroke="#5e409d" stroke-width="0.4" d="M190.9 164.2 L198.2 164.0 L198.4 171.8 L191.1 172.0 Z"/>
<path fill="#60419c" stroke="#60419c" stroke-width="0.4" d="M198.2 164.0 L205.5 163.8 L205.7 171.7 L198.4 171.8 Z"/>
<path fill="#62429b" stroke="#62429b" stroke-width="0.4" d="M205.5 163.8 L212.8 163.6 L213.0 171.5 L205.7 171.7 Z"/>
<path fill="#64439a" stroke="#64439a" stroke-width="0.4" d="M212.8 163.6 L220.1 163.5 L220.3 171.3 L213.0 171.5 Z"/>
<path fill="#664399" stroke="#664399" stroke-width="0.4" d="M220.1 163.5 L227.4 163.3 L227.6 171.1 L220.3 171.3 Z"/>
<path fill="#684498" stroke="#684498" stroke-width="0.4" d="M227.4 163.3 L234.7 163.1 L234.9 170.9 L227.6 171.1 Z"/>
<path fill="#694498" stroke="#694498" stroke-width="0.4" d="M234.7 163.1 L242.1 162.9 L242.3 170.8 L234.9 170.9 Z"/>
<path fill="#6a4597" stroke="#6a4597" stroke-width="0.4" d="M242.1 162.9 L249.4 162.7 L249.6 170.6 L242.3 170.8 Z"/>
<path fill="#6a4597" stroke="#6a4597" stroke-width="0.4" d="M249.4 162.7 L256.7 162.6 L256.9 170.4 L249.6 170.6 Z"/>
<path fill="#6b4596" stroke="#6b4596" stroke-width="0.4" d="M256.7 162.6 L264.0 162.4 L264.2 170.2 L256.9 170.4 Z"/>
<path fill="#6b4596" stroke="#6b4596" stroke-width="0.4" d="M264.0 162.4 L271.3 162.2 L271.5 170.0 L264.2 170.2 Z"/>
<path fill="#6b4597" stroke="#6b4597" stroke-width="0.4" d="M271.3 162.2 L278.6 162.0 L278.8 169.9 L271.5 170.0 Z"/>
<path fill="#6a4597" stroke="#6a4597" stroke-width="0.4" d="M278.6 162.0 L285.9 161.8 L286.1 169.7 L278.8 169.9 Z"/>
<path fill="#6a4597" stroke="#6a4597" stroke-width="0.4" d="M285.9 161.8 L293.2 161.7 L293.4 169.5 L286.1 169.7 Z"/>
<path fill="#6a4597" stroke="#6a4597" stroke-width="0.4" d="M293.2 161.7 L300.6 161.5 L300.7 169.3 L293.4 169.5 Z"/>
<path fill="#6a4597" stroke="#6a4597" stroke-width="0.4" d="M300.6 161.5 L307.9 161.3 L308.0 169.1 L300.7 169.3 Z"/>
<path fill="#684498" stroke="#684498" stroke-width="0.4" d="M307.9 161.3 L315.2 161.1 L315.4 169.0 L308.0 169.1 Z"/>
<path fill="#66439a" stroke="#66439a" stroke-width="0.4" d="M315.2 161.1 L322.5 160.9 L322.7 168.8 L315.4 169.0 Z"/>
<path fill="#61419c" stroke="#61419c" stroke-width="0.4" d="M322.5 160.9 L329.8 160.8 L330.0 168.6 L322.7 168.8 Z"/>
<path fill="#5c409d" stroke="#5c409d" stroke-width="0.4" d="M329.8 160.8 L337.1 160.6 L337.3 168.4 L330.0 168.6 Z"/>
<path fill="#563da0" stroke="#563da0" stroke-width="0.4" d="M337.1 160.6 L344.4 160.4 L344.6 168.2 L337.3 168.4 Z"/>
<path fill="#4f39a2" stroke="#4f39a2" stroke-width="0.4" d="M344.4 160.4 L351.7 160.2 L351.9 168.1 L344.6 168.2 Z"/>
<path fill="#553ca0" stroke="#553ca0" stroke-width="0.4" d="M351.7 160.2 L359.1 160.1 L359.2 167.9 L351.9 168.1 Z"/>
<path fill="#de7063" stroke="#de7063" stroke-width="0.4" d="M402.9 159.0 L410.2 158.8 L410.4 166.6 L403.1 166.8 Z"/>
<path fill="#e4725f" stroke="#e4725f" stroke-width="0.4" d="M410.2 158.8 L417.5 158.6 L417.7 166.4 L410.4 166.6 Z"/>
<path fill="#5039a2" stroke="#5039a2" stroke-width="0.4" d="M103.4 174.2 L110.7 174.0 L110.9 181.8 L103.6 182.0 Z"/>
<path fill="#513aa2" stroke="#513aa2" stroke-width="0.4" d="M110.7 174.0 L118.0 173.8 L118.2 181.7 L110.9 181.8 Z"/>
<path fill="#513aa1" stroke="#513aa1" stroke-width="0.4" d="M118.0 173.8 L125.3 173.6 L125.5 181.5 L118.2 181.7 Z"/>
<path fill="#523ba1" stroke="#523ba1" stroke-width="0.4" d="M125.3 173.6 L132.6 173.5 L132.8 181.3 L125.5 181.5 Z"/>
<path fill="#533ba1" stroke="#533ba1" stroke-width="0.4" d="M132.6 173.5 L139.9 173.3 L140.1 181.1 L132.8 181.3 Z"/>
<path fill="#543ca0" stroke="#543ca0" stroke-width="0.4" d="M139.9 173.3 L147.2 173.1 L147.4 180.9 L140.1 181.1 Z"/>
<path fill="#563da0" stroke="#563da0" stroke-width="0.4" d="M147.2 173.1 L154.5 172.9 L154.7 180.8 L147.4 180.9 Z"/>
<path fill="#573d9f" stroke="#573d9f" stroke-width="0.4" d="M154.5 172.9 L161.8 172.7 L162.1 180.6 L154.7 180.8 Z"/>
<path fill="#583e9f" stroke="#583e9f" stroke-width="0.4" d="M161.8 172.7 L169.2 172.6 L169.4 180.4 L162.1 180.6 Z"/>
<path fill="#5a3f9e" stroke="#5a3f9e" stroke-width="0.4" d="M169.2 172.6 L176.5 172.4 L176.7 180.2 L169.4 180.4 Z"/>
<path fill="#5b3f9e" stroke="#5b3f9e" stroke-width="0.4" d="M176.5 172.4 L183.8 172.2 L184.0 180.0 L176.7 180.2 Z"/>
<path fill="#5d409d" stroke="#5d409d" stroke-width="0.4" d="M183.8 172.2 L191.1 172.0 L191.3 179.9 L184.0 180.0 Z"/>
<path fill="#5f419c" stroke="#5f419c" stroke-width="0.4" d="M191.1 172.0 L198.4 171.8 L198.6 179.7 L191.3 179.9 Z"/>
<path fill="#61429b" stroke="#61429b" stroke-width="0.4" d="M198.4 171.8 L205.7 171.7 L205.9 179.5 L198.6 179.7 Z"/>
<path fill="#63429b" stroke="#63429b" stroke-width="0.4" d="M205.7 171.7 L213.0 171.5 L213.2 179.3 L205.9 179.5 Z"/>
<path fill="#65439a" stroke="#65439a" stroke-width="0.4" d="M213.0 171.5 L220.3 171.3 L220.5 179.1 L213.2 179.3 Z"/>
<path fill="#674499" stroke="#674499" stroke-width="0.4" d="M220.3 171.3 L227.6 171.1 L227.8 179.0 L220.5 179.1 Z"/>
<path fill="#684498" stroke="#684498" stroke-width="0.4" d="M227.6 171.1 L234.9 170.9 L235.1 178.8 L227.8 179.0 Z"/>
<path fill="#694597" stroke="#694597" stroke-width="0.4" d="M234.9 170.9 L242.3 170.8 L242.4 178.6 L235.1 178.8 Z"/>
<path fill="#6a4597" stroke="#6a4597" stroke-width="0.4" d="M242.3 170.8 L249.6 170.6 L249.7 178.4 L242.4 178.6 Z"/>
<path fill="#6a4597" stroke="#6a4597" stroke-width="0.4" d="M249.6 170.6 L256.9 170.4 L257.1 178.2 L249.7 178.4 Z"/>
<path fill="#6a4597" stroke="#6a4597" stroke-width="0.4" d="M256.9 170.4 L264.2 170.2 L264.4 178.1 L257.1 178.2 Z"/>
<path fill="#694597" stroke="#694597" stroke-width="0.4" d="M264.2 170.2 L271.5 170.0 L271.7 177.9 L264.4 178.1 Z"/>
<path fill="#694498" stroke="#694498" stroke-width="0.4" d="M271.5 170.0 L278.8 169.9 L279.0 177.7 L271.7 177.9 Z"/>
<path fill="#684498" stroke="#684498" stroke-width="0.4" d="M278.8 169.9 L286.1 169.7 L286.3 177.5 L279.0 177.7 Z"/>
<path fill="#684498" stroke="#684498" stroke-width="0.4" d="M286.1 169.7 L293.4 169.5 L293.6 177.3 L286.3 177.5 Z"/>
<path fill="#674499" stroke="#674499" stroke-width="0.4" d="M293.4 169.5 L300.7 169.3 L300.9 177.2 L293.6 177.3 Z"/>
<path fill="#664499" stroke="#664499" stroke-width="0.4" d="M300.7 169.3 L308.0 169.1 L308.2 177.0 L300.9 177.2 Z"/>
<path fill="#63429b" stroke="#63429b" stroke-width="0.4" d="M308.0 169.1 L315.4 169.0 L315.5 176.8 L308.2 177.0 Z"/>
<path fill="#5d409d" stroke="#5d409d" stroke-width="0.4" d="M315.4 169.0 L322.7 168.8 L322.8 176.6 L315.5 176.8 Z"/>
<path fill="#593f9e" stroke="#593f9e" stroke-width="0.4" d="M322.7 168.8 L330.0 168.6 L330.1 176.4 L322.8 176.6 Z"/>
<path fill="#573d9f" stroke="#573d9f" stroke-width="0.4" d="M330.0 168.6 L337.3 168.4 L337.4 176.2 L330.1 176.4 Z"/>
<path fill="#523ba1" stroke="#523ba1" stroke-width="0.4" d="M337.3 168.4 L344.6 168.2 L344.8 176.1 L337.4 176.2 Z"/>
<path fill="#4d38a3" stroke="#4d38a3" stroke-width="0.4" d="M344.6 168.2 L351.9 168.1 L352.1 175.9 L344.8 176.1 Z"/>
<path fill="#4e38a3" stroke="#4e38a3" stroke-width="0.4" d="M351.9 168.1 L359.2 167.9 L359.4 175.7 L352.1 175.9 Z"/>
<path fill="#de7063" stroke="#de7063" stroke-width="0.4" d="M403.1 166.8 L410.4 166.6 L410.5 174.4 L403.2 174.6 Z"/>
<path fill="#e4725f" stroke="#e4725f" stroke-width="0.4" d="M410.4 166.6 L417.7 166.4 L417.8 174.3 L410.5 174.4 Z"/>
<path fill="#503aa2" stroke="#503aa2" stroke-width="0.4" d="M103.6 182.0 L110.9 181.8 L111.1 189.7 L103.8 189.9 Z"/>
<path fill="#513aa2" stroke="#513aa2" stroke-width="0.4" d="M110.9 181.8 L118.2 181.7 L118.4 189.5 L111.1 189.7 Z"/>
<path fill="#523ba1" stroke="#523ba1" stroke-width="0.4" d="M118.2 181.7 L125.5 181.5 L125.7 189.3 L118.4 189.5 Z"/>
<path fill="#523ba1" stroke="#523ba1" stroke-width="0.4" d="M125.5 181.5 L132.8 181.3 L133.0 189.2 L125.7 189.3 Z"/>
<path fill="#533ba1" stroke="#533ba1" stroke-width="0.4" d="M132.8 181.3 L140.1 181.1 L140.3 189.0 L133.0 189.2 Z"/>
<path fill="#553ca0" stroke="#553ca0" stroke-width="0.4" d="M140.1 181.1 L147.4 180.9 L147.7 188.8 L140.3 189.0 Z"/>
<path fill="#563da0" stroke="#563da0" stroke-width="0.4" d="M147.4 180.9 L154.7 180.8 L155.0 188.6 L147.7 188.8 Z"/>
<path fill="#573e9f" stroke="#573e9f" stroke-width="0.4" d="M154.7 180.8 L162.1 180.6 L162.3 188.4 L155.0 188.6 Z"/>
<path fill="#593e9e" stroke="#593e9e" stroke-width="0.4" d="M162.1 180.6 L169.4 180.4 L169.6 188.2 L162.3 188.4 Z"/>
<path fill="#5a3f9e" stroke="#5a3f9e" stroke-width="0.4" d="M169.4 180.4 L176.7 180.2 L176.9 188.1 L169.6 188.2 Z"/>
<path fill="#5c409d" stroke="#5c409d" stroke-width="0.4" d="M176.7 180.2 L184.0 180.0 L184.2 187.9 L176.9 188.1 Z"/>
<path fill="#5d409d" stroke="#5d409d" stroke-width="0.4" d="M184.0 180.0 L191.3 179.9 L191.5 187.7 L184.2 187.9 Z"/>
<path fill="#5f419c" stroke="#5f419c" stroke-width="0.4" d="M191.3 179.9 L198.6 179.7 L198.8 187.5 L191.5 187.7 Z"/>
<path fill="#61429b" stroke="#61429b" stroke-width="0.4" d="M198.6 179.7 L205.9 179.5 L206.1 187.3 L198.8 187.5 Z"/>
<path fill="#63429b" stroke="#63429b" stroke-width="0.4" d="M205.9 179.5 L213.2 179.3 L213.4 187.2 L206.1 187.3 Z"/>
<path fill="#65439a" stroke="#65439a" stroke-width="0.4" d="M213.2 179.3 L220.5 179.1 L220.7 187.0 L213.4 187.2 Z"/>
<path fill="#664499" stroke="#664499" stroke-width="0.4" d="M220.5 179.1 L227.8 179.0 L228.0 186.8 L220.7 187.0 Z"/>
<path fill="#674499" stroke="#674499" stroke-width="0.4" d="M227.8 179.0 L235.1 178.8 L235.3 186.6 L228.0 186.8 Z"/>
<path fill="#684498" stroke="#684498" stroke-width="0.4" d="M235.1 178.8 L242.4 178.6 L242.6 186.4 L235.3 186.6 Z"/>
<path fill="#684498" stroke="#684498" stroke-width="0.4" d="M242.4 178.6 L249.7 178.4 L249.9 186.3 L242.6 186.4 Z"/>
<path fill="#684498" stroke="#684498" stroke-width="0.4" d="M249.7 178.4 L257.1 178.2 L257.2 186.1 L249.9 186.3 Z"/>
<path fill="#684498" stroke="#684498" stroke-width="0.4" d="M257.1 178.2 L264.4 178.1 L264.5 185.9 L257.2 186.1 Z"/>
<path fill="#674499" stroke="#674499" stroke-width="0.4" d="M264.4 178.1 L271.7 177.9 L271.9 185.7 L264.5 185.9 Z"/>
<path fill="#664399" stroke="#664399" stroke-width="0.4" d="M271.7 177.9 L279.0 177.7 L279.2 185.5 L271.9 185.7 Z"/>
<path fill="#65439a" stroke="#65439a" stroke-width="0.4" d="M279.0 177.7 L286.3 177.5 L286.5 185.3 L279.2 185.5 Z"/>
<path fill="#64439a" stroke="#64439a" stroke-width="0.4" d="M286.3 177.5 L293.6 177.3 L293.8 185.2 L286.5 185.3 Z"/>
<path fill="#61429b" stroke="#61429b" stroke-width="0.4" d="M293.6 177.3 L300.9 177.2 L301.1 185.0 L293.8 185.2 Z"/>
<path fill="#5d409d" stroke="#5d409d" stroke-width="0.4" d="M300.9 177.2 L308.2 177.0 L308.4 184.8 L301.1 185.0 Z"/>
<path fill="#553da0" stroke="#553da0" stroke-width="0.4" d="M308.2 177.0 L315.5 176.8 L315.7 184.6 L308.4 184.8 Z"/>
<path fill="#4837a4" stroke="#4837a4" stroke-width="0.4" d="M315.5 176.8 L322.8 176.6 L323.0 184.4 L315.7 184.6 Z"/>
<path fill="#4537a4" stroke="#4537a4" stroke-width="0.4" d="M322.8 176.6 L330.1 176.4 L330.3 184.3 L323.0 184.4 Z"/>
<path fill="#4938a3" stroke="#4938a3" stroke-width="0.4" d="M330.1 176.4 L337.4 176.2 L337.6 184.1 L330.3 184.3 Z"/>
<path fill="#4b38a3" stroke="#4b38a3" stroke-width="0.4" d="M337.4 176.2 L344.8 176.1 L344.9 183.9 L337.6 184.1 Z"/>
<path fill="#4a38a3" stroke="#4a38a3" stroke-width="0.4" d="M344.8 176.1 L352.1 175.9 L352.2 183.7 L344.9 183.9 Z"/>
<path fill="#de7063" stroke="#de7063" stroke-width="0.4" d="M403.2 174.6 L410.5 174.4 L410.7 182.3 L403.4 182.4 Z"/>
<path fill="#e4725f" stroke="#e4725f" stroke-width="0.4" d="M410.5 174.4 L417.8 174.3 L418.0 182.1 L410.7 182.3 Z"/>
<path fill="#5039a2" stroke="#5039a2" stroke-width="0.4" d="M103.8 189.9 L111.1 189.7 L111.3 197.5 L104.0 197.7 Z"/>
<path fill="#513aa2" stroke="#513aa2" stroke-width="0.4" d="M111.1 189.7 L118.4 189.5 L118.6 197.4 L111.3 197.5 Z"/>
<path fill="#523ba1" stroke="#523ba1" stroke-width="0.4" d="M118.4 189.5 L125.7 189.3 L126.0 197.2 L118.6 197.4 Z"/>
<path fill="#523ba1" stroke="#523ba1" stroke-width="0.4" d="M125.7 189.3 L133.0 189.2 L133.3 197.0 L126.0 197.2 Z"/>
<path fill="#543ca0" stroke="#543ca0" stroke-width="0.4" d="M133.0 189.2 L140.3 189.0 L140.6 196.8 L133.3 197.0 Z"/>
<path fill="#553ca0" stroke="#553ca0" stroke-width="0.4" d="M140.3 189.0 L147.7 188.8 L147.9 196.6 L140.6 196.8 Z"/>
<path fill="#563d9f" stroke="#563d9f" stroke-width="0.4" d="M147.7 188.8 L155.0 188.6 L155.2 196.5 L147.9 196.6 Z"/>
<path fill="#583e9f" stroke="#583e9f" stroke-width="0.4" d="M155.0 188.6 L162.3 188.4 L162.5 196.3 L155.2 196.5 Z"/>
<path fill="#593e9e" stroke="#593e9e" stroke-width="0.4" d="M162.3 188.4 L169.6 188.2 L169.8 196.1 L162.5 196.3 Z"/>
<path fill="#5a3f9e" stroke="#5a3f9e" stroke-width="0.4" d="M169.6 188.2 L176.9 188.1 L177.1 195.9 L169.8 196.1 Z"/>
<path fill="#5c409d" stroke="#5c409d" stroke-width="0.4" d="M176.9 188.1 L184.2 187.9 L184.4 195.7 L177.1 195.9 Z"/>
<path fill="#5d409d" stroke="#5d409d" stroke-width="0.4" d="M184.2 187.9 L191.5 187.7 L191.7 195.5 L184.4 195.7 Z"/>
<path fill="#5f419c" stroke="#5f419c" stroke-width="0.4" d="M191.5 187.7 L198.8 187.5 L199.0 195.4 L191.7 195.5 Z"/>
<path fill="#61429b" stroke="#61429b" stroke-width="0.4" d="M198.8 187.5 L206.1 187.3 L206.3 195.2 L199.0 195.4 Z"/>
<path fill="#63429b" stroke="#63429b" stroke-width="0.4" d="M206.1 187.3 L213.4 187.2 L213.6 195.0 L206.3 195.2 Z"/>
<path fill="#64439a" stroke="#64439a" stroke-width="0.4" d="M213.4 187.2 L220.7 187.0 L220.9 194.8 L213.6 195.0 Z"/>
<path fill="#65439a" stroke="#65439a" stroke-width="0.4" d="M220.7 187.0 L228.0 186.8 L228.2 194.6 L220.9 194.8 Z"/>
<path fill="#664399" stroke="#664399" stroke-width="0.4" d="M228.0 186.8 L235.3 186.6 L235.5 194.5 L228.2 194.6 Z"/>
<path fill="#664399" stroke="#664399" stroke-width="0.4" d="M235.3 186.6 L242.6 186.4 L242.8 194.3 L235.5 194.5 Z"/>
<path fill="#66439a" stroke="#66439a" stroke-width="0.4" d="M242.6 186.4 L249.9 186.3 L250.1 194.1 L242.8 194.3 Z"/>
<path fill="#65439a" stroke="#65439a" stroke-width="0.4" d="M249.9 186.3 L257.2 186.1 L257.4 193.9 L250.1 194.1 Z"/>
<path fill="#64439a" stroke="#64439a" stroke-width="0.4" d="M257.2 186.1 L264.5 185.9 L264.7 193.7 L257.4 193.9 Z"/>
<path fill="#63429b" stroke="#63429b" stroke-width="0.4" d="M264.5 185.9 L271.9 185.7 L272.0 193.5 L264.7 193.7 Z"/>
<path fill="#62429b" stroke="#62429b" stroke-width="0.4" d="M271.9 185.7 L279.2 185.5 L279.3 193.4 L272.0 193.5 Z"/>
<path fill="#61419c" stroke="#61419c" stroke-width="0.4" d="M279.2 185.5 L286.5 185.3 L286.6 193.2 L279.3 193.4 Z"/>
<path fill="#5e419c" stroke="#5e419c" stroke-width="0.4" d="M286.5 185.3 L293.8 185.2 L293.9 193.0 L286.6 193.2 Z"/>
<path fill="#593f9e" stroke="#593f9e" stroke-width="0.4" d="M293.8 185.2 L301.1 185.0 L301.3 192.8 L293.9 193.0 Z"/>
<path fill="#4e39a3" stroke="#4e39a3" stroke-width="0.4" d="M301.1 185.0 L308.4 184.8 L308.6 192.6 L301.3 192.8 Z"/>
<path fill="#3b37a3" stroke="#3b37a3" stroke-width="0.4" d="M308.4 184.8 L315.7 184.6 L315.9 192.5 L308.6 192.6 Z"/>
<path fill="#26368f" stroke="#26368f" stroke-width="0.4" d="M315.7 184.6 L323.0 184.4 L323.2 192.3 L315.9 192.5 Z"/>
<path fill="#2a3693" stroke="#2a3693" stroke-width="0.4" d="M323.0 184.4 L330.3 184.3 L330.5 192.1 L323.2 192.3 Z"/>
<path fill="#36379f" stroke="#36379f" stroke-width="0.4" d="M330.3 184.3 L337.6 184.1 L337.8 191.9 L330.5 192.1 Z"/>
<path fill="#4237a4" stroke="#4237a4" stroke-width="0.4" d="M337.6 184.1 L344.9 183.9 L345.1 191.7 L337.8 191.9 Z"/>
<path fill="#4838a3" stroke="#4838a3" stroke-width="0.4" d="M344.9 183.9 L352.2 183.7 L352.4 191.5 L345.1 191.7 Z"/>
<path fill="#ea7851" stroke="#ea7851" stroke-width="0.4" d="M396.1 182.6 L403.4 182.4 L403.5 190.3 L396.2 190.5 Z"/>
<path fill="#e17161" stroke="#e17161" stroke-width="0.4" d="M403.4 182.4 L410.7 182.3 L410.8 190.1 L403.5 190.3 Z"/>
<path fill="#e4725f" stroke="#e4725f" stroke-width="0.4" d="M410.7 182.3 L418.0 182.1 L418.1 189.9 L410.8 190.1 Z"/>
<path fill="#5039a2" stroke="#5039a2" stroke-width="0.4" d="M104.0 197.7 L111.3 197.5 L111.6 205.4 L104.3 205.6 Z"/>
<path fill="#513aa1" stroke="#513aa1" stroke-width="0.4" d="M111.3 197.5 L118.6 197.4 L118.9 205.2 L111.6 205.4 Z"/>
<path fill="#523ba1" stroke="#523ba1" stroke-width="0.4" d="M118.6 197.4 L126.0 197.2 L126.2 205.0 L118.9 205.2 Z"/>
<path fill="#523ba1" stroke="#523ba1" stroke-width="0.4" d="M126.0 197.2 L133.3 197.0 L133.5 204.9 L126.2 205.0 Z"/>
<path fill="#543ca0" stroke="#543ca0" stroke-width="0.4" d="M133.3 197.0 L140.6 196.8 L140.8 204.7 L133.5 204.9 Z"/>
<path fill="#553ca0" stroke="#553ca0" stroke-width="0.4" d="M140.6 196.8 L147.9 196.6 L148.1 204.5 L140.8 204.7 Z"/>
<path fill="#563da0" stroke="#563da0" stroke-width="0.4" d="M147.9 196.6 L155.2 196.5 L155.4 204.3 L148.1 204.5 Z"/>
<path fill="#573e9f" stroke="#573e9f" stroke-width="0.4" d="M155.2 196.5 L162.5 196.3 L162.7 204.1 L155.4 204.3 Z"/>
<path fill="#593e9f" stroke="#593e9f" stroke-width="0.4" d="M162.5 196.3 L169.8 196.1 L170.0 203.9 L162.7 204.1 Z"/>
<path fill="#5a3f9e" stroke="#5a3f9e" stroke-width="0.4" d="M169.8 196.1 L177.1 195.9 L177.3 203.8 L170.0 203.9 Z"/>
<path fill="#5b409d" stroke="#5b409d" stroke-width="0.4" d="M177.1 195.9 L184.4 195.7 L184.6 203.6 L177.3 203.8 Z"/>
<path fill="#5d409d" stroke="#5d409d" stroke-width="0.4" d="M184.4 195.7 L191.7 195.5 L191.9 203.4 L184.6 203.6 Z"/>
<path fill="#5f419c" stroke="#5f419c" stroke-width="0.4" d="M191.7 195.5 L199.0 195.4 L199.2 203.2 L191.9 203.4 Z"/>
<path fill="#60419c" stroke="#60419c" stroke-width="0.4" d="M199.0 195.4 L206.3 195.2 L206.5 203.0 L199.2 203.2 Z"/>
<path fill="#62429b" stroke="#62429b" stroke-width="0.4" d="M206.3 195.2 L213.6 195.0 L213.8 202.8 L206.5 203.0 Z"/>
<path fill="#63429b" stroke="#63429b" stroke-width="0.4" d="M213.6 195.0 L220.9 194.8 L221.1 202.7 L213.8 202.8 Z"/>
<path fill="#64439a" stroke="#64439a" stroke-width="0.4" d="M220.9 194.8 L228.2 194.6 L228.4 202.5 L221.1 202.7 Z"/>
<path fill="#64439a" stroke="#64439a" stroke-width="0.4" d="M228.2 194.6 L235.5 194.5 L235.7 202.3 L228.4 202.5 Z"/>
<path fill="#63429b" stroke="#63429b" stroke-width="0.4" d="M235.5 194.5 L242.8 194.3 L243.0 202.1 L235.7 202.3 Z"/>
<path fill="#63429b" stroke="#63429b" stroke-width="0.4" d="M242.8 194.3 L250.1 194.1 L250.3 201.9 L243.0 202.1 Z"/>
<path fill="#61429b" stroke="#61429b" stroke-width="0.4" d="M250.1 194.1 L257.4 193.9 L257.6 201.7 L250.3 201.9 Z"/>
<path fill="#60419c" stroke="#60419c" stroke-width="0.4" d="M257.4 193.9 L264.7 193.7 L264.9 201.6 L257.6 201.7 Z"/>
<path fill="#5f419c" stroke="#5f419c" stroke-width="0.4" d="M264.7 193.7 L272.0 193.5 L272.2 201.4 L264.9 201.6 Z"/>
<path fill="#5e419c" stroke="#5e419c" stroke-width="0.4" d="M272.0 193.5 L279.3 193.4 L279.5 201.2 L272.2 201.4 Z"/>
<path fill="#5c409d" stroke="#5c409d" stroke-width="0.4" d="M279.3 193.4 L286.6 193.2 L286.8 201.0 L279.5 201.2 Z"/>
<path fill="#5a3f9e" stroke="#5a3f9e" stroke-width="0.4" d="M286.6 193.2 L293.9 193.0 L294.1 200.8 L286.8 201.0 Z"/>
<path fill="#553ca0" stroke="#553ca0" stroke-width="0.4" d="M293.9 193.0 L301.3 192.8 L301.4 200.7 L294.1 200.8 Z"/>
<path fill="#4337a4" stroke="#4337a4" stroke-width="0.4" d="M301.3 192.8 L308.6 192.6 L308.7 200.5 L301.4 200.7 Z"/>
<path fill="#2f3799" stroke="#2f3799" stroke-width="0.4" d="M308.6 192.6 L315.9 192.5 L316.0 200.3 L308.7 200.5 Z"/>
<path fill="#1d337f" stroke="#1d337f" stroke-width="0.4" d="M315.9 192.5 L323.2 192.3 L323.3 200.1 L316.0 200.3 Z"/>
<path fill="#183070" stroke="#183070" stroke-width="0.4" d="M323.2 192.3 L330.5 192.1 L330.6 199.9 L323.3 200.1 Z"/>
<path fill="#283691" stroke="#283691" stroke-width="0.4" d="M330.5 192.1 L337.8 191.9 L337.9 199.7 L330.6 199.9 Z"/>
<path fill="#3937a2" stroke="#3937a2" stroke-width="0.4" d="M337.8 191.9 L345.1 191.7 L345.2 199.6 L337.9 199.7 Z"/>
<path fill="#4037a4" stroke="#4037a4" stroke-width="0.4" d="M345.1 191.7 L352.4 191.5 L352.5 199.4 L345.2 199.6 Z"/>
<path fill="#e77558" stroke="#e77558" stroke-width="0.4" d="M403.5 190.3 L410.8 190.1 L411.0 197.9 L403.7 198.1 Z"/>
<path fill="#ea7851" stroke="#ea7851" stroke-width="0.4" d="M410.8 190.1 L418.1 189.9 L418.3 197.7 L411.0 197.9 Z"/>
<path fill="#503aa2" stroke="#503aa2" stroke-width="0.4" d="M104.3 205.6 L111.6 205.4 L111.8 213.2 L104.5 213.4 Z"/>
<path fill="#513aa1" stroke="#513aa1" stroke-width="0.4" d="M111.6 205.4 L118.9 205.2 L119.1 213.1 L111.8 213.2 Z"/>
<path fill="#523ba1" stroke="#523ba1" stroke-width="0.4" d="M118.9 205.2 L126.2 205.0 L126.4 212.9 L119.1 213.1 Z"/>
<path fill="#533ba1" stroke="#533ba1" stroke-width="0.4" d="M126.2 205.0 L133.5 204.9 L133.7 212.7 L126.4 212.9 Z"/>
<path fill="#533ba1" stroke="#533ba1" stroke-width="0.4" d="M133.5 204.9 L140.8 204.7 L141.0 212.5 L133.7 212.7 Z"/>
<path fill="#543ca0" stroke="#543ca0" stroke-width="0.4" d="M140.8 204.7 L148.1 204.5 L148.3 212.3 L141.0 212.5 Z"/>
<path fill="#563da0" stroke="#563da0" stroke-width="0.4" d="M148.1 204.5 L155.4 204.3 L155.6 212.2 L148.3 212.3 Z"/>
<path fill="#573d9f" stroke="#573d9f" stroke-width="0.4" d="M155.4 204.3 L162.7 204.1 L162.9 212.0 L155.6 212.2 Z"/>
<path fill="#583e9f" stroke="#583e9f" stroke-width="0.4" d="M162.7 204.1 L170.0 203.9 L170.2 211.8 L162.9 212.0 Z"/>
<path fill="#593f9e" stroke="#593f9e" stroke-width="0.4" d="M170.0 203.9 L177.3 203.8 L177.5 211.6 L170.2 211.8 Z"/>
<path fill="#5a3f9e" stroke="#5a3f9e" stroke-width="0.4" d="M177.3 203.8 L184.6 203.6 L184.8 211.4 L177.5 211.6 Z"/>
<path fill="#5c409d" stroke="#5c409d" stroke-width="0.4" d="M184.6 203.6 L191.9 203.4 L192.1 211.2 L184.8 211.4 Z"/>
<path fill="#5d409d" stroke="#5d409d" stroke-width="0.4" d="M191.9 203.4 L199.2 203.2 L199.4 211.1 L192.1 211.2 Z"/>
<path fill="#5f419c" stroke="#5f419c" stroke-width="0.4" d="M199.2 203.2 L206.5 203.0 L206.7 210.9 L199.4 211.1 Z"/>
<path fill="#61419c" stroke="#61419c" stroke-width="0.4" d="M206.5 203.0 L213.8 202.8 L214.0 210.7 L206.7 210.9 Z"/>
<path fill="#62429b" stroke="#62429b" stroke-width="0.4" d="M213.8 202.8 L221.1 202.7 L221.3 210.5 L214.0 210.7 Z"/>
<path fill="#62429b" stroke="#62429b" stroke-width="0.4" d="M221.1 202.7 L228.4 202.5 L228.6 210.3 L221.3 210.5 Z"/>
<path fill="#62429b" stroke="#62429b" stroke-width="0.4" d="M228.4 202.5 L235.7 202.3 L235.9 210.1 L228.6 210.3 Z"/>
<path fill="#61429b" stroke="#61429b" stroke-width="0.4" d="M235.7 202.3 L243.0 202.1 L243.2 210.0 L235.9 210.1 Z"/>
<path fill="#60419c" stroke="#60419c" stroke-width="0.4" d="M243.0 202.1 L250.3 201.9 L250.5 209.8 L243.2 210.0 Z"/>
<path fill="#5e419c" stroke="#5e419c" stroke-width="0.4" d="M250.3 201.9 L257.6 201.7 L257.8 209.6 L250.5 209.8 Z"/>
<path fill="#5d409d" stroke="#5d409d" stroke-width="0.4" d="M257.6 201.7 L264.9 201.6 L265.1 209.4 L257.8 209.6 Z"/>
<path fill="#5d409d" stroke="#5d409d" stroke-width="0.4" d="M264.9 201.6 L272.2 201.4 L272.4 209.2 L265.1 209.4 Z"/>
<path fill="#5c409d" stroke="#5c409d" stroke-width="0.4" d="M272.2 201.4 L279.5 201.2 L279.7 209.0 L272.4 209.2 Z"/>
<path fill="#5a3f9e" stroke="#5a3f9e" stroke-width="0.4" d="M279.5 201.2 L286.8 201.0 L287.0 208.9 L279.7 209.0 Z"/>
<path fill="#583e9f" stroke="#583e9f" stroke-width="0.4" d="M286.8 201.0 L294.1 200.8 L294.3 208.7 L287.0 208.9 Z"/>
<path fill="#533ba1" stroke="#533ba1" stroke-width="0.4" d="M294.1 200.8 L301.4 200.7 L301.6 208.5 L294.3 208.7 Z"/>
<path fill="#4237a4" stroke="#4237a4" stroke-width="0.4" d="M301.4 200.7 L308.7 200.5 L308.9 208.3 L301.6 208.5 Z"/>
<path fill="#2e3797" stroke="#2e3797" stroke-width="0.4" d="M308.7 200.5 L316.0 200.3 L316.2 208.1 L308.9 208.3 Z"/>
<path fill="#1b3279" stroke="#1b3279" stroke-width="0.4" d="M316.0 200.3 L323.3 200.1 L323.5 207.9 L316.2 208.1 Z"/>
<path fill="#143067" stroke="#143067" stroke-width="0.4" d="M323.3 200.1 L330.6 199.9 L330.8 207.8 L323.5 207.9 Z"/>
<path fill="#1f3482" stroke="#1f3482" stroke-width="0.4" d="M330.6 199.9 L337.9 199.7 L338.1 207.6 L330.8 207.8 Z"/>
<path fill="#33379c" stroke="#33379c" stroke-width="0.4" d="M337.9 199.7 L345.2 199.6 L345.4 207.4 L338.1 207.6 Z"/>
<path fill="#e77558" stroke="#e77558" stroke-width="0.4" d="M403.7 198.1 L411.0 197.9 L411.1 205.7 L403.8 205.9 Z"/>
<path fill="#ea7851" stroke="#ea7851" stroke-width="0.4" d="M411.0 197.9 L418.3 197.7 L418.4 205.6 L411.1 205.7 Z"/>
<path fill="#503aa2" stroke="#503aa2" stroke-width="0.4" d="M104.5 213.4 L111.8 213.2 L112.0 221.1 L104.7 221.3 Z"/>
<path fill="#503aa2" stroke="#503aa2" stroke-width="0.4" d="M111.8 213.2 L119.1 213.1 L119.3 220.9 L112.0 221.1 Z"/>
<path fill="#513aa1" stroke="#513aa1" stroke-width="0.4" d="M119.1 213.1 L126.4 212.9 L126.6 220.7 L119.3 220.9 Z"/>
<path fill="#533ba1" stroke="#533ba1" stroke-width="0.4" d="M126.4 212.9 L133.7 212.7 L133.9 220.5 L126.6 220.7 Z"/>
<path fill="#523ba1" stroke="#523ba1" stroke-width="0.4" d="M133.7 212.7 L141.0 212.5 L141.2 220.4 L133.9 220.5 Z"/>
<path fill="#533ba1" stroke="#533ba1" stroke-width="0.4" d="M141.0 212.5 L148.3 212.3 L148.5 220.2 L141.2 220.4 Z"/>
<path fill="#543ca0" stroke="#543ca0" stroke-width="0.4" d="M148.3 212.3 L155.6 212.2 L155.8 220.0 L148.5 220.2 Z"/>
<path fill="#563da0" stroke="#563da0" stroke-width="0.4" d="M155.6 212.2 L162.9 212.0 L163.1 219.8 L155.8 220.0 Z"/>
<path fill="#563d9f" stroke="#563d9f" stroke-width="0.4" d="M162.9 212.0 L170.2 211.8 L170.4 219.6 L163.1 219.8 Z"/>
<path fill="#573d9f" stroke="#573d9f" stroke-width="0.4" d="M170.2 211.8 L177.5 211.6 L177.7 219.4 L170.4 219.6 Z"/>
<path fill="#583e9f" stroke="#583e9f" stroke-width="0.4" d="M177.5 211.6 L184.8 211.4 L185.0 219.3 L177.7 219.4 Z"/>
<path fill="#5a3f9e" stroke="#5a3f9e" stroke-width="0.4" d="M184.8 211.4 L192.1 211.2 L192.3 219.1 L185.0 219.3 Z"/>
<path fill="#5b3f9e" stroke="#5b3f9e" stroke-width="0.4" d="M192.1 211.2 L199.4 211.1 L199.6 218.9 L192.3 219.1 Z"/>
<path fill="#5c409d" stroke="#5c409d" stroke-width="0.4" d="M199.4 211.1 L206.7 210.9 L206.9 218.7 L199.6 218.9 Z"/>
<path fill="#5f419c" stroke="#5f419c" stroke-width="0.4" d="M206.7 210.9 L214.0 210.7 L214.2 218.5 L206.9 218.7 Z"/>
<path fill="#60419c" stroke="#60419c" stroke-width="0.4" d="M214.0 210.7 L221.3 210.5 L221.5 218.3 L214.2 218.5 Z"/>
<path fill="#5f419c" stroke="#5f419c" stroke-width="0.4" d="M221.3 210.5 L228.6 210.3 L228.8 218.2 L221.5 218.3 Z"/>
<path fill="#5f419c" stroke="#5f419c" stroke-width="0.4" d="M228.6 210.3 L235.9 210.1 L236.1 218.0 L228.8 218.2 Z"/>
<path fill="#5e419c" stroke="#5e419c" stroke-width="0.4" d="M235.9 210.1 L243.2 210.0 L243.4 217.8 L236.1 218.0 Z"/>
<path fill="#5e409d" stroke="#5e409d" stroke-width="0.4" d="M243.2 210.0 L250.5 209.8 L250.7 217.6 L243.4 217.8 Z"/>
<path fill="#5c409d" stroke="#5c409d" stroke-width="0.4" d="M250.5 209.8 L257.8 209.6 L258.0 217.4 L250.7 217.6 Z"/>
<path fill="#5c409d" stroke="#5c409d" stroke-width="0.4" d="M257.8 209.6 L265.1 209.4 L265.3 217.2 L258.0 217.4 Z"/>
<path fill="#5c409d" stroke="#5c409d" stroke-width="0.4" d="M265.1 209.4 L272.4 209.2 L272.6 217.1 L265.3 217.2 Z"/>
<path fill="#5b3f9e" stroke="#5b3f9e" stroke-width="0.4" d="M272.4 209.2 L279.7 209.0 L279.9 216.9 L272.6 217.1 Z"/>
<path fill="#593f9e" stroke="#593f9e" stroke-width="0.4" d="M279.7 209.0 L287.0 208.9 L287.2 216.7 L279.9 216.9 Z"/>
<path fill="#583e9f" stroke="#583e9f" stroke-width="0.4" d="M287.0 208.9 L294.3 208.7 L294.5 216.5 L287.2 216.7 Z"/>
<path fill="#533ba1" stroke="#533ba1" stroke-width="0.4" d="M294.3 208.7 L301.6 208.5 L301.8 216.3 L294.5 216.5 Z"/>
<path fill="#4237a4" stroke="#4237a4" stroke-width="0.4" d="M301.6 208.5 L308.9 208.3 L309.1 216.1 L301.8 216.3 Z"/>
<path fill="#2e3798" stroke="#2e3798" stroke-width="0.4" d="M308.9 208.3 L316.2 208.1 L316.4 215.9 L309.1 216.1 Z"/>
<path fill="#1c327b" stroke="#1c327b" stroke-width="0.4" d="M316.2 208.1 L323.5 207.9 L323.7 215.8 L316.4 215.9 Z"/>
<path fill="#143066" stroke="#143066" stroke-width="0.4" d="M323.5 207.9 L330.8 207.8 L331.0 215.6 L323.7 215.8 Z"/>
<path fill="#1a3177" stroke="#1a3177" stroke-width="0.4" d="M330.8 207.8 L338.1 207.6 L338.3 215.4 L331.0 215.6 Z"/>
<path fill="#2a3694" stroke="#2a3694" stroke-width="0.4" d="M338.1 207.6 L345.4 207.4 L345.6 215.2 L338.3 215.4 Z"/>
<path fill="#4d38a3" stroke="#4d38a3" stroke-width="0.4" d="M104.7 221.3 L112.0 221.1 L112.2 229.0 L104.9 229.1 Z"/>
<path fill="#4e38a3" stroke="#4e38a3" stroke-width="0.4" d="M112.0 221.1 L119.3 220.9 L119.5 228.8 L112.2 229.0 Z"/>
<path fill="#4f39a2" stroke="#4f39a2" stroke-width="0.4" d="M119.3 220.9 L126.6 220.7 L126.8 228.6 L119.5 228.8 Z"/>
<path fill="#4f39a2" stroke="#4f39a2" stroke-width="0.4" d="M126.6 220.7 L133.9 220.5 L134.1 228.4 L126.8 228.6 Z"/>
<path fill="#4f39a2" stroke="#4f39a2" stroke-width="0.4" d="M133.9 220.5 L141.2 220.4 L141.4 228.2 L134.1 228.4 Z"/>
<path fill="#5039a2" stroke="#5039a2" stroke-width="0.4" d="M141.2 220.4 L148.5 220.2 L148.7 228.0 L141.4 228.2 Z"/>
<path fill="#513aa2" stroke="#513aa2" stroke-width="0.4" d="M148.5 220.2 L155.8 220.0 L156.0 227.8 L148.7 228.0 Z"/>
<path fill="#523ba1" stroke="#523ba1" stroke-width="0.4" d="M155.8 220.0 L163.1 219.8 L163.3 227.7 L156.0 227.8 Z"/>
<path fill="#523ba1" stroke="#523ba1" stroke-width="0.4" d="M163.1 219.8 L170.4 219.6 L170.6 227.5 L163.3 227.7 Z"/>
<path fill="#533ba1" stroke="#533ba1" stroke-width="0.4" d="M170.4 219.6 L177.7 219.4 L177.9 227.3 L170.6 227.5 Z"/>
<path fill="#543ca0" stroke="#543ca0" stroke-width="0.4" d="M177.7 219.4 L185.0 219.3 L185.2 227.1 L177.9 227.3 Z"/>
<path fill="#553ca0" stroke="#553ca0" stroke-width="0.4" d="M185.0 219.3 L192.3 219.1 L192.5 226.9 L185.2 227.1 Z"/>
<path fill="#553ca0" stroke="#553ca0" stroke-width="0.4" d="M192.3 219.1 L199.6 218.9 L199.8 226.7 L192.5 226.9 Z"/>
<path fill="#563da0" stroke="#563da0" stroke-width="0.4" d="M199.6 218.9 L206.9 218.7 L207.1 226.6 L199.8 226.7 Z"/>
<path fill="#593e9e" stroke="#593e9e" stroke-width="0.4" d="M206.9 218.7 L214.2 218.5 L214.4 226.4 L207.1 226.6 Z"/>
<path fill="#5a3f9e" stroke="#5a3f9e" stroke-width="0.4" d="M214.2 218.5 L221.5 218.3 L221.7 226.2 L214.4 226.4 Z"/>
<path fill="#5a3f9e" stroke="#5a3f9e" stroke-width="0.4" d="M221.5 218.3 L228.8 218.2 L229.0 226.0 L221.7 226.2 Z"/>
<path fill="#5b3f9e" stroke="#5b3f9e" stroke-width="0.4" d="M228.8 218.2 L236.1 218.0 L236.3 225.8 L229.0 226.0 Z"/>
<path fill="#5c409d" stroke="#5c409d" stroke-width="0.4" d="M236.1 218.0 L243.4 217.8 L243.6 225.6 L236.3 225.8 Z"/>
<path fill="#5c409d" stroke="#5c409d" stroke-width="0.4" d="M243.4 217.8 L250.7 217.6 L250.9 225.4 L243.6 225.6 Z"/>
<path fill="#5b3f9e" stroke="#5b3f9e" stroke-width="0.4" d="M250.7 217.6 L258.0 217.4 L258.2 225.3 L250.9 225.4 Z"/>
<path fill="#5b3f9e" stroke="#5b3f9e" stroke-width="0.4" d="M258.0 217.4 L265.3 217.2 L265.5 225.1 L258.2 225.3 Z"/>
<path fill="#5c409d" stroke="#5c409d" stroke-width="0.4" d="M265.3 217.2 L272.6 217.1 L272.8 224.9 L265.5 225.1 Z"/>
<path fill="#5c409d" stroke="#5c409d" stroke-width="0.4" d="M272.6 217.1 L279.9 216.9 L280.1 224.7 L272.8 224.9 Z"/>
<path fill="#593e9f" stroke="#593e9f" stroke-width="0.4" d="M279.9 216.9 L287.2 216.7 L287.4 224.5 L280.1 224.7 Z"/>
<path fill="#583e9f" stroke="#583e9f" stroke-width="0.4" d="M287.2 216.7 L294.5 216.5 L294.7 224.3 L287.4 224.5 Z"/>
<path fill="#523ba1" stroke="#523ba1" stroke-width="0.4" d="M294.5 216.5 L301.8 216.3 L302.0 224.1 L294.7 224.3 Z"/>
<path fill="#4237a4" stroke="#4237a4" stroke-width="0.4" d="M301.8 216.3 L309.1 216.1 L309.2 224.0 L302.0 224.1 Z"/>
<path fill="#30379a" stroke="#30379a" stroke-width="0.4" d="M309.1 216.1 L316.4 215.9 L316.5 223.8 L309.2 224.0 Z"/>
<path fill="#1d337f" stroke="#1d337f" stroke-width="0.4" d="M316.4 215.9 L323.7 215.8 L323.8 223.6 L316.5 223.8 Z"/>
<path fill="#153069" stroke="#153069" stroke-width="0.4" d="M323.7 215.8 L331.0 215.6 L331.1 223.4 L323.8 223.6 Z"/>
<path fill="#1c327c" stroke="#1c327c" stroke-width="0.4" d="M331.0 215.6 L338.3 215.4 L338.4 223.2 L331.1 223.4 Z"/>
<path fill="#2c3796" stroke="#2c3796" stroke-width="0.4" d="M338.3 215.4 L345.6 215.2 L345.7 223.0 L338.4 223.2 Z"/>
<path fill="#4837a4" stroke="#4837a4" stroke-width="0.4" d="M104.9 229.1 L112.2 229.0 L112.5 236.8 L105.2 237.0 Z"/>
<path fill="#4938a3" stroke="#4938a3" stroke-width="0.4" d="M112.2 229.0 L119.5 228.8 L119.8 236.6 L112.5 236.8 Z"/>
<path fill="#4938a3" stroke="#4938a3" stroke-width="0.4" d="M119.5 228.8 L126.8 228.6 L127.1 236.4 L119.8 236.6 Z"/>
<path fill="#4938a3" stroke="#4938a3" stroke-width="0.4" d="M126.8 228.6 L134.1 228.4 L134.4 236.2 L127.1 236.4 Z"/>
<path fill="#4a38a3" stroke="#4a38a3" stroke-width="0.4" d="M134.1 228.4 L141.4 228.2 L141.6 236.1 L134.4 236.2 Z"/>
<path fill="#4b38a3" stroke="#4b38a3" stroke-width="0.4" d="M141.4 228.2 L148.7 228.0 L148.9 235.9 L141.6 236.1 Z"/>
<path fill="#4b38a3" stroke="#4b38a3" stroke-width="0.4" d="M148.7 228.0 L156.0 227.8 L156.2 235.7 L148.9 235.9 Z"/>
<path fill="#4b38a3" stroke="#4b38a3" stroke-width="0.4" d="M156.0 227.8 L163.3 227.7 L163.5 235.5 L156.2 235.7 Z"/>
<path fill="#4d38a3" stroke="#4d38a3" stroke-width="0.4" d="M163.3 227.7 L170.6 227.5 L170.8 235.3 L163.5 235.5 Z"/>
<path fill="#4e38a3" stroke="#4e38a3" stroke-width="0.4" d="M170.6 227.5 L177.9 227.3 L178.1 235.1 L170.8 235.3 Z"/>
<path fill="#4e39a3" stroke="#4e39a3" stroke-width="0.4" d="M177.9 227.3 L185.2 227.1 L185.4 234.9 L178.1 235.1 Z"/>
<path fill="#4f39a2" stroke="#4f39a2" stroke-width="0.4" d="M185.2 227.1 L192.5 226.9 L192.7 234.8 L185.4 234.9 Z"/>
<path fill="#4e39a3" stroke="#4e39a3" stroke-width="0.4" d="M192.5 226.9 L199.8 226.7 L200.0 234.6 L192.7 234.8 Z"/>
<path fill="#4d38a3" stroke="#4d38a3" stroke-width="0.4" d="M199.8 226.7 L207.1 226.6 L207.3 234.4 L200.0 234.6 Z"/>
<path fill="#4d38a3" stroke="#4d38a3" stroke-width="0.4" d="M207.1 226.6 L214.4 226.4 L214.6 234.2 L207.3 234.4 Z"/>
<path fill="#4c38a3" stroke="#4c38a3" stroke-width="0.4" d="M214.4 226.4 L221.7 226.2 L221.9 234.0 L214.6 234.2 Z"/>
<path fill="#4e38a3" stroke="#4e38a3" stroke-width="0.4" d="M221.7 226.2 L229.0 226.0 L229.2 233.8 L221.9 234.0 Z"/>
<path fill="#543ca0" stroke="#543ca0" stroke-width="0.4" d="M229.0 226.0 L236.3 225.8 L236.5 233.7 L229.2 233.8 Z"/>
<path fill="#593e9e" stroke="#593e9e" stroke-width="0.4" d="M236.3 225.8 L243.6 225.6 L243.8 233.5 L236.5 233.7 Z"/>
<path fill="#5a3f9e" stroke="#5a3f9e" stroke-width="0.4" d="M243.6 225.6 L250.9 225.4 L251.1 233.3 L243.8 233.5 Z"/>
<path fill="#5b3f9e" stroke="#5b3f9e" stroke-width="0.4" d="M250.9 225.4 L258.2 225.3 L258.4 233.1 L251.1 233.3 Z"/>
<path fill="#5c409d" stroke="#5c409d" stroke-width="0.4" d="M258.2 225.3 L265.5 225.1 L265.7 232.9 L258.4 233.1 Z"/>
<path fill="#5e409d" stroke="#5e409d" stroke-width="0.4" d="M265.5 225.1 L272.8 224.9 L272.9 232.7 L265.7 232.9 Z"/>
<path fill="#5e409d" stroke="#5e409d" stroke-width="0.4" d="M272.8 224.9 L280.1 224.7 L280.2 232.5 L272.9 232.7 Z"/>
<path fill="#5c409d" stroke="#5c409d" stroke-width="0.4" d="M280.1 224.7 L287.4 224.5 L287.5 232.4 L280.2 232.5 Z"/>
<path fill="#5a3f9e" stroke="#5a3f9e" stroke-width="0.4" d="M287.4 224.5 L294.7 224.3 L294.8 232.2 L287.5 232.4 Z"/>
<path fill="#563d9f" stroke="#563d9f" stroke-width="0.4" d="M294.7 224.3 L302.0 224.1 L302.1 232.0 L294.8 232.2 Z"/>
<path fill="#4d38a3" stroke="#4d38a3" stroke-width="0.4" d="M302.0 224.1 L309.2 224.0 L309.4 231.8 L302.1 232.0 Z"/>
<path fill="#3c37a3" stroke="#3c37a3" stroke-width="0.4" d="M309.2 224.0 L316.5 223.8 L316.7 231.6 L309.4 231.8 Z"/>
<path fill="#26368f" stroke="#26368f" stroke-width="0.4" d="M316.5 223.8 L323.8 223.6 L324.0 231.4 L316.7 231.6 Z"/>
<path fill="#193173" stroke="#193173" stroke-width="0.4" d="M323.8 223.6 L331.1 223.4 L331.3 231.2 L324.0 231.4 Z"/>
<path fill="#22358b" stroke="#22358b" stroke-width="0.4" d="M331.1 223.4 L338.4 223.2 L338.6 231.1 L331.3 231.2 Z"/>
<path fill="#ef7d43" stroke="#ef7d43" stroke-width="0.4" d="M411.4 221.4 L418.7 221.2 L418.8 229.0 L411.5 229.2 Z"/>
<path fill="#4337a4" stroke="#4337a4" stroke-width="0.4" d="M105.2 237.0 L112.5 236.8 L112.7 244.7 L105.4 244.8 Z"/>
<path fill="#4437a4" stroke="#4437a4" stroke-width="0.4" d="M112.5 236.8 L119.8 236.6 L120.0 244.5 L112.7 244.7 Z"/>
<path fill="#4437a4" stroke="#4437a4" stroke-width="0.4" d="M119.8 236.6 L127.1 236.4 L127.3 244.3 L120.0 244.5 Z"/>
<path fill="#4337a4" stroke="#4337a4" stroke-width="0.4" d="M127.1 236.4 L134.4 236.2 L134.6 244.1 L127.3 244.3 Z"/>
<path fill="#4537a4" stroke="#4537a4" stroke-width="0.4" d="M134.4 236.2 L141.6 236.1 L141.9 243.9 L134.6 244.1 Z"/>
<path fill="#4537a4" stroke="#4537a4" stroke-width="0.4" d="M141.6 236.1 L148.9 235.9 L149.2 243.7 L141.9 243.9 Z"/>
<path fill="#4537a4" stroke="#4537a4" stroke-width="0.4" d="M148.9 235.9 L156.2 235.7 L156.4 243.5 L149.2 243.7 Z"/>
<path fill="#4337a4" stroke="#4337a4" stroke-width="0.4" d="M156.2 235.7 L163.5 235.5 L163.7 243.3 L156.4 243.5 Z"/>
<path fill="#4637a4" stroke="#4637a4" stroke-width="0.4" d="M163.5 235.5 L170.8 235.3 L171.0 243.2 L163.7 243.3 Z"/>
<path fill="#4737a4" stroke="#4737a4" stroke-width="0.4" d="M170.8 235.3 L178.1 235.1 L178.3 243.0 L171.0 243.2 Z"/>
<path fill="#4837a4" stroke="#4837a4" stroke-width="0.4" d="M178.1 235.1 L185.4 234.9 L185.6 242.8 L178.3 243.0 Z"/>
<path fill="#4838a3" stroke="#4838a3" stroke-width="0.4" d="M185.4 234.9 L192.7 234.8 L192.9 242.6 L185.6 242.8 Z"/>
<path fill="#4938a3" stroke="#4938a3" stroke-width="0.4" d="M192.7 234.8 L200.0 234.6 L200.2 242.4 L192.9 242.6 Z"/>
<path fill="#4637a4" stroke="#4637a4" stroke-width="0.4" d="M200.0 234.6 L207.3 234.4 L207.5 242.2 L200.2 242.4 Z"/>
<path fill="#4137a4" stroke="#4137a4" stroke-width="0.4" d="M207.3 234.4 L214.6 234.2 L214.8 242.0 L207.5 242.2 Z"/>
<path fill="#3937a2" stroke="#3937a2" stroke-width="0.4" d="M214.6 234.2 L221.9 234.0 L222.1 241.9 L214.8 242.0 Z"/>
<path fill="#3937a2" stroke="#3937a2" stroke-width="0.4" d="M221.9 234.0 L229.2 233.8 L229.4 241.7 L222.1 241.9 Z"/>
<path fill="#4537a4" stroke="#4537a4" stroke-width="0.4" d="M229.2 233.8 L236.5 233.7 L236.7 241.5 L229.4 241.7 Z"/>
<path fill="#523ba1" stroke="#523ba1" stroke-width="0.4" d="M236.5 233.7 L243.8 233.5 L244.0 241.3 L236.7 241.5 Z"/>
<path fill="#5a3f9e" stroke="#5a3f9e" stroke-width="0.4" d="M243.8 233.5 L251.1 233.3 L251.3 241.1 L244.0 241.3 Z"/>
<path fill="#593e9e" stroke="#593e9e" stroke-width="0.4" d="M251.1 233.3 L258.4 233.1 L258.5 240.9 L251.3 241.1 Z"/>
<path fill="#5a3f9e" stroke="#5a3f9e" stroke-width="0.4" d="M258.4 233.1 L265.7 232.9 L265.8 240.7 L258.5 240.9 Z"/>
<path fill="#5f419c" stroke="#5f419c" stroke-width="0.4" d="M265.7 232.9 L272.9 232.7 L273.1 240.6 L265.8 240.7 Z"/>
<path fill="#5e409d" stroke="#5e409d" stroke-width="0.4" d="M272.9 232.7 L280.2 232.5 L280.4 240.4 L273.1 240.6 Z"/>
<path fill="#5c409d" stroke="#5c409d" stroke-width="0.4" d="M280.2 232.5 L287.5 232.4 L287.7 240.2 L280.4 240.4 Z"/>
<path fill="#5c409d" stroke="#5c409d" stroke-width="0.4" d="M287.5 232.4 L294.8 232.2 L295.0 240.0 L287.7 240.2 Z"/>
<path fill="#5b3f9e" stroke="#5b3f9e" stroke-width="0.4" d="M294.8 232.2 L302.1 232.0 L302.3 239.8 L295.0 240.0 Z"/>
<path fill="#5c409d" stroke="#5c409d" stroke-width="0.4" d="M302.1 232.0 L309.4 231.8 L309.6 239.6 L302.3 239.8 Z"/>
<path fill="#533ba1" stroke="#533ba1" stroke-width="0.4" d="M309.4 231.8 L316.7 231.6 L316.9 239.4 L309.6 239.6 Z"/>
<path fill="#3937a2" stroke="#3937a2" stroke-width="0.4" d="M316.7 231.6 L324.0 231.4 L324.2 239.3 L316.9 239.4 Z"/>
<path fill="#2a3693" stroke="#2a3693" stroke-width="0.4" d="M324.0 231.4 L331.3 231.2 L331.5 239.1 L324.2 239.3 Z"/>
<path fill="#fba63c" stroke="#fba63c" stroke-width="0.4" d="M404.3 229.4 L411.5 229.2 L411.7 237.0 L404.4 237.2 Z"/>
<path fill="#f38c40" stroke="#f38c40" stroke-width="0.4" d="M411.5 229.2 L418.8 229.0 L419.0 236.8 L411.7 237.0 Z"/>
<path fill="#4137a4" stroke="#4137a4" stroke-width="0.4" d="M105.4 244.8 L112.7 244.7 L112.9 252.5 L105.6 252.7 Z"/>
<path fill="#4237a4" stroke="#4237a4" stroke-width="0.4" d="M112.7 244.7 L120.0 244.5 L120.2 252.3 L112.9 252.5 Z"/>
<path fill="#4237a4" stroke="#4237a4" stroke-width="0.4" d="M120.0 244.5 L127.3 244.3 L127.5 252.1 L120.2 252.3 Z"/>
<path fill="#4237a4" stroke="#4237a4" stroke-width="0.4" d="M127.3 244.3 L134.6 244.1 L134.8 251.9 L127.5 252.1 Z"/>
<path fill="#4237a4" stroke="#4237a4" stroke-width="0.4" d="M134.6 244.1 L141.9 243.9 L142.1 251.8 L134.8 251.9 Z"/>
<path fill="#4237a4" stroke="#4237a4" stroke-width="0.4" d="M141.9 243.9 L149.2 243.7 L149.4 251.6 L142.1 251.8 Z"/>
<path fill="#4237a4" stroke="#4237a4" stroke-width="0.4" d="M149.2 243.7 L156.4 243.5 L156.7 251.4 L149.4 251.6 Z"/>
<path fill="#4237a4" stroke="#4237a4" stroke-width="0.4" d="M156.4 243.5 L163.7 243.3 L164.0 251.2 L156.7 251.4 Z"/>
<path fill="#4337a4" stroke="#4337a4" stroke-width="0.4" d="M163.7 243.3 L171.0 243.2 L171.2 251.0 L164.0 251.2 Z"/>
<path fill="#4437a4" stroke="#4437a4" stroke-width="0.4" d="M171.0 243.2 L178.3 243.0 L178.5 250.8 L171.2 251.0 Z"/>
<path fill="#4537a4" stroke="#4537a4" stroke-width="0.4" d="M178.3 243.0 L185.6 242.8 L185.8 250.6 L178.5 250.8 Z"/>
<path fill="#4637a4" stroke="#4637a4" stroke-width="0.4" d="M185.6 242.8 L192.9 242.6 L193.1 250.4 L185.8 250.6 Z"/>
<path fill="#4737a4" stroke="#4737a4" stroke-width="0.4" d="M192.9 242.6 L200.2 242.4 L200.4 250.3 L193.1 250.4 Z"/>
<path fill="#4537a4" stroke="#4537a4" stroke-width="0.4" d="M200.2 242.4 L207.5 242.2 L207.7 250.1 L200.4 250.3 Z"/>
<path fill="#3c37a3" stroke="#3c37a3" stroke-width="0.4" d="M207.5 242.2 L214.8 242.0 L215.0 249.9 L207.7 250.1 Z"/>
<path fill="#30379a" stroke="#30379a" stroke-width="0.4" d="M214.8 242.0 L222.1 241.9 L222.3 249.7 L215.0 249.9 Z"/>
<path fill="#26368e" stroke="#26368e" stroke-width="0.4" d="M222.1 241.9 L229.4 241.7 L229.6 249.5 L222.3 249.7 Z"/>
<path fill="#2a3693" stroke="#2a3693" stroke-width="0.4" d="M229.4 241.7 L236.7 241.5 L236.9 249.3 L229.6 249.5 Z"/>
<path fill="#3b37a3" stroke="#3b37a3" stroke-width="0.4" d="M236.7 241.5 L244.0 241.3 L244.1 249.1 L236.9 249.3 Z"/>
<path fill="#4b38a3" stroke="#4b38a3" stroke-width="0.4" d="M244.0 241.3 L251.3 241.1 L251.4 249.0 L244.1 249.1 Z"/>
<path fill="#4737a4" stroke="#4737a4" stroke-width="0.4" d="M251.3 241.1 L258.5 240.9 L258.7 248.8 L251.4 249.0 Z"/>
<path fill="#4037a4" stroke="#4037a4" stroke-width="0.4" d="M258.5 240.9 L265.8 240.7 L266.0 248.6 L258.7 248.8 Z"/>
<path fill="#4c38a3" stroke="#4c38a3" stroke-width="0.4" d="M265.8 240.7 L273.1 240.6 L273.3 248.4 L266.0 248.6 Z"/>
<path fill="#503aa2" stroke="#503aa2" stroke-width="0.4" d="M273.1 240.6 L280.4 240.4 L280.6 248.2 L273.3 248.4 Z"/>
<path fill="#503aa2" stroke="#503aa2" stroke-width="0.4" d="M280.4 240.4 L287.7 240.2 L287.9 248.0 L280.6 248.2 Z"/>
<path fill="#593f9e" stroke="#593f9e" stroke-width="0.4" d="M287.7 240.2 L295.0 240.0 L295.2 247.8 L287.9 248.0 Z"/>
<path fill="#5b3f9e" stroke="#5b3f9e" stroke-width="0.4" d="M295.0 240.0 L302.3 239.8 L302.5 247.6 L295.2 247.8 Z"/>
<path fill="#5a3f9e" stroke="#5a3f9e" stroke-width="0.4" d="M302.3 239.8 L309.6 239.6 L309.8 247.5 L302.5 247.6 Z"/>
<path fill="#533ba1" stroke="#533ba1" stroke-width="0.4" d="M309.6 239.6 L316.9 239.4 L317.1 247.3 L309.8 247.5 Z"/>
<path fill="#4237a4" stroke="#4237a4" stroke-width="0.4" d="M316.9 239.4 L324.2 239.3 L324.3 247.1 L317.1 247.3 Z"/>
<path fill="#35379e" stroke="#35379e" stroke-width="0.4" d="M324.2 239.3 L331.5 239.1 L331.6 246.9 L324.3 247.1 Z"/>
<path fill="#ebef5a" stroke="#ebef5a" stroke-width="0.4" d="M404.4 237.2 L411.7 237.0 L411.8 244.8 L404.5 245.0 Z"/>
<path fill="#f79a3c" stroke="#f79a3c" stroke-width="0.4" d="M411.7 237.0 L419.0 236.8 L419.1 244.7 L411.8 244.8 Z"/>
<path fill="#4037a4" stroke="#4037a4" stroke-width="0.4" d="M105.6 252.7 L112.9 252.5 L113.1 260.4 L105.9 260.5 Z"/>
<path fill="#4037a4" stroke="#4037a4" stroke-width="0.4" d="M112.9 252.5 L120.2 252.3 L120.4 260.2 L113.1 260.4 Z"/>
<path fill="#4037a4" stroke="#4037a4" stroke-width="0.4" d="M120.2 252.3 L127.5 252.1 L127.7 260.0 L120.4 260.2 Z"/>
<path fill="#4037a4" stroke="#4037a4" stroke-width="0.4" d="M127.5 252.1 L134.8 251.9 L135.0 259.8 L127.7 260.0 Z"/>
<path fill="#4037a4" stroke="#4037a4" stroke-width="0.4" d="M134.8 251.9 L142.1 251.8 L142.3 259.6 L135.0 259.8 Z"/>
<path fill="#4037a4" stroke="#4037a4" stroke-width="0.4" d="M142.1 251.8 L149.4 251.6 L149.6 259.4 L142.3 259.6 Z"/>
<path fill="#4037a4" stroke="#4037a4" stroke-width="0.4" d="M149.4 251.6 L156.7 251.4 L156.9 259.2 L149.6 259.4 Z"/>
<path fill="#4137a4" stroke="#4137a4" stroke-width="0.4" d="M156.7 251.4 L164.0 251.2 L164.2 259.0 L156.9 259.2 Z"/>
<path fill="#4137a4" stroke="#4137a4" stroke-width="0.4" d="M164.0 251.2 L171.2 251.0 L171.5 258.9 L164.2 259.0 Z"/>
<path fill="#4237a4" stroke="#4237a4" stroke-width="0.4" d="M171.2 251.0 L178.5 250.8 L178.7 258.7 L171.5 258.9 Z"/>
<path fill="#4337a4" stroke="#4337a4" stroke-width="0.4" d="M178.5 250.8 L185.8 250.6 L186.0 258.5 L178.7 258.7 Z"/>
<path fill="#4437a4" stroke="#4437a4" stroke-width="0.4" d="M185.8 250.6 L193.1 250.4 L193.3 258.3 L186.0 258.5 Z"/>
<path fill="#4537a4" stroke="#4537a4" stroke-width="0.4" d="M193.1 250.4 L200.4 250.3 L200.6 258.1 L193.3 258.3 Z"/>
<path fill="#4337a4" stroke="#4337a4" stroke-width="0.4" d="M200.4 250.3 L207.7 250.1 L207.9 257.9 L200.6 258.1 Z"/>
<path fill="#3b37a3" stroke="#3b37a3" stroke-width="0.4" d="M207.7 250.1 L215.0 249.9 L215.2 257.7 L207.9 257.9 Z"/>
<path fill="#2f3799" stroke="#2f3799" stroke-width="0.4" d="M215.0 249.9 L222.3 249.7 L222.5 257.5 L215.2 257.7 Z"/>
<path fill="#22358a" stroke="#22358a" stroke-width="0.4" d="M222.3 249.7 L229.6 249.5 L229.8 257.4 L222.5 257.5 Z"/>
<path fill="#213589" stroke="#213589" stroke-width="0.4" d="M229.6 249.5 L236.9 249.3 L237.1 257.2 L229.8 257.4 Z"/>
<path fill="#2b3695" stroke="#2b3695" stroke-width="0.4" d="M236.9 249.3 L244.1 249.1 L244.3 257.0 L237.1 257.2 Z"/>
<path fill="#31379b" stroke="#31379b" stroke-width="0.4" d="M244.1 249.1 L251.4 249.0 L251.6 256.8 L244.3 257.0 Z"/>
<path fill="#2c3796" stroke="#2c3796" stroke-width="0.4" d="M251.4 249.0 L258.7 248.8 L258.9 256.6 L251.6 256.8 Z"/>
<path fill="#1c327a" stroke="#1c327a" stroke-width="0.4" d="M258.7 248.8 L266.0 248.6 L266.2 256.4 L258.9 256.6 Z"/>
<path fill="#1a3176" stroke="#1a3176" stroke-width="0.4" d="M266.0 248.6 L273.3 248.4 L273.5 256.2 L266.2 256.4 Z"/>
<path fill="#22358a" stroke="#22358a" stroke-width="0.4" d="M273.3 248.4 L280.6 248.2 L280.8 256.0 L273.5 256.2 Z"/>
<path fill="#2e3798" stroke="#2e3798" stroke-width="0.4" d="M280.6 248.2 L287.9 248.0 L288.1 255.9 L280.8 256.0 Z"/>
<path fill="#4f39a2" stroke="#4f39a2" stroke-width="0.4" d="M287.9 248.0 L295.2 247.8 L295.4 255.7 L288.1 255.9 Z"/>
<path fill="#513aa1" stroke="#513aa1" stroke-width="0.4" d="M295.2 247.8 L302.5 247.6 L302.6 255.5 L295.4 255.7 Z"/>
<path fill="#523ba1" stroke="#523ba1" stroke-width="0.4" d="M302.5 247.6 L309.8 247.5 L309.9 255.3 L302.6 255.5 Z"/>
<path fill="#4e39a2" stroke="#4e39a2" stroke-width="0.4" d="M309.8 247.5 L317.1 247.3 L317.2 255.1 L309.9 255.3 Z"/>
<path fill="#3a37a3" stroke="#3a37a3" stroke-width="0.4" d="M317.1 247.3 L324.3 247.1 L324.5 254.9 L317.2 255.1 Z"/>
<path fill="#e8f060" stroke="#e8f060" stroke-width="0.4" d="M411.8 244.8 L419.1 244.7 L419.3 252.5 L412.0 252.7 Z"/>
<path fill="#3f37a4" stroke="#3f37a4" stroke-width="0.4" d="M105.9 260.5 L113.1 260.4 L113.4 268.2 L106.1 268.4 Z"/>
<path fill="#3f37a4" stroke="#3f37a4" stroke-width="0.4" d="M113.1 260.4 L120.4 260.2 L120.7 268.0 L113.4 268.2 Z"/>
<path fill="#3f37a4" stroke="#3f37a4" stroke-width="0.4" d="M120.4 260.2 L127.7 260.0 L127.9 267.8 L120.7 268.0 Z"/>
<path fill="#3f37a4" stroke="#3f37a4" stroke-width="0.4" d="M127.7 260.0 L135.0 259.8 L135.2 267.6 L127.9 267.8 Z"/>
<path fill="#3f37a4" stroke="#3f37a4" stroke-width="0.4" d="M135.0 259.8 L142.3 259.6 L142.5 267.5 L135.2 267.6 Z"/>
<path fill="#3f37a4" stroke="#3f37a4" stroke-width="0.4" d="M142.3 259.6 L149.6 259.4 L149.8 267.3 L142.5 267.5 Z"/>
<path fill="#4037a4" stroke="#4037a4" stroke-width="0.4" d="M149.6 259.4 L156.9 259.2 L157.1 267.1 L149.8 267.3 Z"/>
<path fill="#4037a4" stroke="#4037a4" stroke-width="0.4" d="M156.9 259.2 L164.2 259.0 L164.4 266.9 L157.1 267.1 Z"/>
<path fill="#4137a4" stroke="#4137a4" stroke-width="0.4" d="M164.2 259.0 L171.5 258.9 L171.7 266.7 L164.4 266.9 Z"/>
<path fill="#4237a4" stroke="#4237a4" stroke-width="0.4" d="M171.5 258.9 L178.7 258.7 L178.9 266.5 L171.7 266.7 Z"/>
<path fill="#4337a4" stroke="#4337a4" stroke-width="0.4" d="M178.7 258.7 L186.0 258.5 L186.2 266.3 L178.9 266.5 Z"/>
<path fill="#4337a4" stroke="#4337a4" stroke-width="0.4" d="M186.0 258.5 L193.3 258.3 L193.5 266.1 L186.2 266.3 Z"/>
<path fill="#4337a4" stroke="#4337a4" stroke-width="0.4" d="M193.3 258.3 L200.6 258.1 L200.8 265.9 L193.5 266.1 Z"/>
<path fill="#4037a4" stroke="#4037a4" stroke-width="0.4" d="M200.6 258.1 L207.9 257.9 L208.1 265.8 L200.8 265.9 Z"/>
<path fill="#3937a2" stroke="#3937a2" stroke-width="0.4" d="M207.9 257.9 L215.2 257.7 L215.4 265.6 L208.1 265.8 Z"/>
<path fill="#2f3799" stroke="#2f3799" stroke-width="0.4" d="M215.2 257.7 L222.5 257.5 L222.7 265.4 L215.4 265.6 Z"/>
<path fill="#24358c" stroke="#24358c" stroke-width="0.4" d="M222.5 257.5 L229.8 257.4 L230.0 265.2 L222.7 265.4 Z"/>
<path fill="#23358b" stroke="#23358b" stroke-width="0.4" d="M229.8 257.4 L237.1 257.2 L237.2 265.0 L230.0 265.2 Z"/>
<path fill="#26368f" stroke="#26368f" stroke-width="0.4" d="M237.1 257.2 L244.3 257.0 L244.5 264.8 L237.2 265.0 Z"/>
<path fill="#2a3694" stroke="#2a3694" stroke-width="0.4" d="M244.3 257.0 L251.6 256.8 L251.8 264.6 L244.5 264.8 Z"/>
<path fill="#24358c" stroke="#24358c" stroke-width="0.4" d="M251.6 256.8 L258.9 256.6 L259.1 264.4 L251.8 264.6 Z"/>
<path fill="#183172" stroke="#183172" stroke-width="0.4" d="M258.9 256.6 L266.2 256.4 L266.4 264.3 L259.1 264.4 Z"/>
<path fill="#133063" stroke="#133063" stroke-width="0.4" d="M266.2 256.4 L273.5 256.2 L273.7 264.1 L266.4 264.3 Z"/>
<path fill="#123060" stroke="#123060" stroke-width="0.4" d="M273.5 256.2 L280.8 256.0 L281.0 263.9 L273.7 264.1 Z"/>
<path fill="#1a3177" stroke="#1a3177" stroke-width="0.4" d="M280.8 256.0 L288.1 255.9 L288.3 263.7 L281.0 263.9 Z"/>
<path fill="#2b3694" stroke="#2b3694" stroke-width="0.4" d="M288.1 255.9 L295.4 255.7 L295.5 263.5 L288.3 263.7 Z"/>
<path fill="#32379c" stroke="#32379c" stroke-width="0.4" d="M295.4 255.7 L302.6 255.5 L302.8 263.3 L295.5 263.5 Z"/>
<path fill="#32379c" stroke="#32379c" stroke-width="0.4" d="M302.6 255.5 L309.9 255.3 L310.1 263.1 L302.8 263.3 Z"/>
<path fill="#32379b" stroke="#32379b" stroke-width="0.4" d="M309.9 255.3 L317.2 255.1 L317.4 262.9 L310.1 263.1 Z"/>
<path fill="#3c37a3" stroke="#3c37a3" stroke-width="0.4" d="M106.1 268.4 L113.4 268.2 L113.6 276.1 L106.3 276.2 Z"/>
<path fill="#3c37a3" stroke="#3c37a3" stroke-width="0.4" d="M113.4 268.2 L120.7 268.0 L120.9 275.9 L113.6 276.1 Z"/>
<path fill="#3d37a3" stroke="#3d37a3" stroke-width="0.4" d="M120.7 268.0 L127.9 267.8 L128.2 275.7 L120.9 275.9 Z"/>
<path fill="#3d37a3" stroke="#3d37a3" stroke-width="0.4" d="M127.9 267.8 L135.2 267.6 L135.4 275.5 L128.2 275.7 Z"/>
<path fill="#3e37a3" stroke="#3e37a3" stroke-width="0.4" d="M135.2 267.6 L142.5 267.5 L142.7 275.3 L135.4 275.5 Z"/>
<path fill="#3f37a4" stroke="#3f37a4" stroke-width="0.4" d="M142.5 267.5 L149.8 267.3 L150.0 275.1 L142.7 275.3 Z"/>
<path fill="#3f37a4" stroke="#3f37a4" stroke-width="0.4" d="M149.8 267.3 L157.1 267.1 L157.3 274.9 L150.0 275.1 Z"/>
<path fill="#4037a4" stroke="#4037a4" stroke-width="0.4" d="M157.1 267.1 L164.4 266.9 L164.6 274.7 L157.3 274.9 Z"/>
<path fill="#4137a4" stroke="#4137a4" stroke-width="0.4" d="M164.4 266.9 L171.7 266.7 L171.9 274.5 L164.6 274.7 Z"/>
<path fill="#4237a4" stroke="#4237a4" stroke-width="0.4" d="M171.7 266.7 L178.9 266.5 L179.2 274.4 L171.9 274.5 Z"/>
<path fill="#4337a4" stroke="#4337a4" stroke-width="0.4" d="M178.9 266.5 L186.2 266.3 L186.4 274.2 L179.2 274.4 Z"/>
<path fill="#4337a4" stroke="#4337a4" stroke-width="0.4" d="M186.2 266.3 L193.5 266.1 L193.7 274.0 L186.4 274.2 Z"/>
<path fill="#4237a4" stroke="#4237a4" stroke-width="0.4" d="M193.5 266.1 L200.8 265.9 L201.0 273.8 L193.7 274.0 Z"/>
<path fill="#4037a4" stroke="#4037a4" stroke-width="0.4" d="M200.8 265.9 L208.1 265.8 L208.3 273.6 L201.0 273.8 Z"/>
<path fill="#3a37a3" stroke="#3a37a3" stroke-width="0.4" d="M208.1 265.8 L215.4 265.6 L215.6 273.4 L208.3 273.6 Z"/>
<path fill="#33379d" stroke="#33379d" stroke-width="0.4" d="M215.4 265.6 L222.7 265.4 L222.9 273.2 L215.6 273.4 Z"/>
<path fill="#2d3797" stroke="#2d3797" stroke-width="0.4" d="M222.7 265.4 L230.0 265.2 L230.1 273.0 L222.9 273.2 Z"/>
<path fill="#2a3693" stroke="#2a3693" stroke-width="0.4" d="M230.0 265.2 L237.2 265.0 L237.4 272.8 L230.1 273.0 Z"/>
<path fill="#283691" stroke="#283691" stroke-width="0.4" d="M237.2 265.0 L244.5 264.8 L244.7 272.7 L237.4 272.8 Z"/>
<path fill="#283691" stroke="#283691" stroke-width="0.4" d="M244.5 264.8 L251.8 264.6 L252.0 272.5 L244.7 272.7 Z"/>
<path fill="#24358c" stroke="#24358c" stroke-width="0.4" d="M251.8 264.6 L259.1 264.4 L259.3 272.3 L252.0 272.5 Z"/>
<path fill="#1d337d" stroke="#1d337d" stroke-width="0.4" d="M259.1 264.4 L266.4 264.3 L266.6 272.1 L259.3 272.3 Z"/>
<path fill="#17306f" stroke="#17306f" stroke-width="0.4" d="M266.4 264.3 L273.7 264.1 L273.9 271.9 L266.6 272.1 Z"/>
<path fill="#153067" stroke="#153067" stroke-width="0.4" d="M273.7 264.1 L281.0 263.9 L281.1 271.7 L273.9 271.9 Z"/>
<path fill="#15306a" stroke="#15306a" stroke-width="0.4" d="M281.0 263.9 L288.3 263.7 L288.4 271.5 L281.1 271.7 Z"/>
<path fill="#193174" stroke="#193174" stroke-width="0.4" d="M288.3 263.7 L295.5 263.5 L295.7 271.3 L288.4 271.5 Z"/>
<path fill="#1a3277" stroke="#1a3277" stroke-width="0.4" d="M295.5 263.5 L302.8 263.3 L303.0 271.1 L295.7 271.3 Z"/>
<path fill="#1a3176" stroke="#1a3176" stroke-width="0.4" d="M302.8 263.3 L310.1 263.1 L310.3 271.0 L303.0 271.1 Z"/>
<path fill="#1c327c" stroke="#1c327c" stroke-width="0.4" d="M310.1 263.1 L317.4 262.9 L317.6 270.8 L310.3 271.0 Z"/>
<path fill="#3a37a3" stroke="#3a37a3" stroke-width="0.4" d="M120.9 275.9 L128.2 275.7 L128.4 283.5 L121.1 283.7 Z"/>
<path fill="#3b37a3" stroke="#3b37a3" stroke-width="0.4" d="M128.2 275.7 L135.4 275.5 L135.7 283.3 L128.4 283.5 Z"/>
<path fill="#3d37a3" stroke="#3d37a3" stroke-width="0.4" d="M135.4 275.5 L142.7 275.3 L142.9 283.1 L135.7 283.3 Z"/>
<path fill="#3f37a4" stroke="#3f37a4" stroke-width="0.4" d="M142.7 275.3 L150.0 275.1 L150.2 283.0 L142.9 283.1 Z"/>
<path fill="#4037a4" stroke="#4037a4" stroke-width="0.4" d="M150.0 275.1 L157.3 274.9 L157.5 282.8 L150.2 283.0 Z"/>
<path fill="#4037a4" stroke="#4037a4" stroke-width="0.4" d="M157.3 274.9 L164.6 274.7 L164.8 282.6 L157.5 282.8 Z"/>
<path fill="#4337a4" stroke="#4337a4" stroke-width="0.4" d="M164.6 274.7 L171.9 274.5 L172.1 282.4 L164.8 282.6 Z"/>
<path fill="#4437a4" stroke="#4437a4" stroke-width="0.4" d="M171.9 274.5 L179.2 274.4 L179.4 282.2 L172.1 282.4 Z"/>
<path fill="#4337a4" stroke="#4337a4" stroke-width="0.4" d="M179.2 274.4 L186.4 274.2 L186.6 282.0 L179.4 282.2 Z"/>
<path fill="#4337a4" stroke="#4337a4" stroke-width="0.4" d="M186.4 274.2 L193.7 274.0 L193.9 281.8 L186.6 282.0 Z"/>
<path fill="#4237a4" stroke="#4237a4" stroke-width="0.4" d="M193.7 274.0 L201.0 273.8 L201.2 281.6 L193.9 281.8 Z"/>
<path fill="#3f37a4" stroke="#3f37a4" stroke-width="0.4" d="M201.0 273.8 L208.3 273.6 L208.5 281.4 L201.2 281.6 Z"/>
<path fill="#3b37a3" stroke="#3b37a3" stroke-width="0.4" d="M208.3 273.6 L215.6 273.4 L215.8 281.3 L208.5 281.4 Z"/>
<path fill="#3737a0" stroke="#3737a0" stroke-width="0.4" d="M215.6 273.4 L222.9 273.2 L223.1 281.1 L215.8 281.3 Z"/>
<path fill="#34379d" stroke="#34379d" stroke-width="0.4" d="M222.9 273.2 L230.1 273.0 L230.3 280.9 L223.1 281.1 Z"/>
<path fill="#30379a" stroke="#30379a" stroke-width="0.4" d="M230.1 273.0 L237.4 272.8 L237.6 280.7 L230.3 280.9 Z"/>
<path fill="#2b3694" stroke="#2b3694" stroke-width="0.4" d="M237.4 272.8 L244.7 272.7 L244.9 280.5 L237.6 280.7 Z"/>
<path fill="#27368f" stroke="#27368f" stroke-width="0.4" d="M244.7 272.7 L252.0 272.5 L252.2 280.3 L244.9 280.5 Z"/>
<path fill="#24358d" stroke="#24358d" stroke-width="0.4" d="M252.0 272.5 L259.3 272.3 L259.5 280.1 L252.2 280.3 Z"/>
<path fill="#22358a" stroke="#22358a" stroke-width="0.4" d="M259.3 272.3 L266.6 272.1 L266.8 279.9 L259.5 280.1 Z"/>
<path fill="#1f3381" stroke="#1f3381" stroke-width="0.4" d="M266.6 272.1 L273.9 271.9 L274.0 279.7 L266.8 279.9 Z"/>
<path fill="#1b3278" stroke="#1b3278" stroke-width="0.4" d="M273.9 271.9 L281.1 271.7 L281.3 279.5 L274.0 279.7 Z"/>
<path fill="#16306d" stroke="#16306d" stroke-width="0.4" d="M281.1 271.7 L288.4 271.5 L288.6 279.4 L281.3 279.5 Z"/>
<path fill="#133062" stroke="#133062" stroke-width="0.4" d="M288.4 271.5 L295.7 271.3 L295.9 279.2 L288.6 279.4 Z"/>
<path fill="#0f2e56" stroke="#0f2e56" stroke-width="0.4" d="M295.7 271.3 L303.0 271.1 L303.2 279.0 L295.9 279.2 Z"/>
<path fill="#0f2e55" stroke="#0f2e55" stroke-width="0.4" d="M303.0 271.1 L310.3 271.0 L310.5 278.8 L303.2 279.0 Z"/>
<path fill="#143064" stroke="#143064" stroke-width="0.4" d="M310.3 271.0 L317.6 270.8 L317.7 278.6 L310.5 278.8 Z"/>
<path fill="#3837a2" stroke="#3837a2" stroke-width="0.4" d="M121.1 283.7 L128.4 283.5 L128.6 291.4 L121.3 291.6 Z"/>
<path fill="#3a37a3" stroke="#3a37a3" stroke-width="0.4" d="M128.4 283.5 L135.7 283.3 L135.9 291.2 L128.6 291.4 Z"/>
<path fill="#3c37a3" stroke="#3c37a3" stroke-width="0.4" d="M135.7 283.3 L142.9 283.1 L143.2 291.0 L135.9 291.2 Z"/>
<path fill="#3f37a4" stroke="#3f37a4" stroke-width="0.4" d="M142.9 283.1 L150.2 283.0 L150.4 290.8 L143.2 291.0 Z"/>
<path fill="#4237a4" stroke="#4237a4" stroke-width="0.4" d="M150.2 283.0 L157.5 282.8 L157.7 290.6 L150.4 290.8 Z"/>
<path fill="#4437a4" stroke="#4437a4" stroke-width="0.4" d="M157.5 282.8 L164.8 282.6 L165.0 290.4 L157.7 290.6 Z"/>
<path fill="#4637a4" stroke="#4637a4" stroke-width="0.4" d="M164.8 282.6 L172.1 282.4 L172.3 290.2 L165.0 290.4 Z"/>
<path fill="#4737a4" stroke="#4737a4" stroke-width="0.4" d="M172.1 282.4 L179.4 282.2 L179.6 290.0 L172.3 290.2 Z"/>
<path fill="#4737a4" stroke="#4737a4" stroke-width="0.4" d="M179.4 282.2 L186.6 282.0 L186.9 289.9 L179.6 290.0 Z"/>
<path fill="#4637a4" stroke="#4637a4" stroke-width="0.4" d="M186.6 282.0 L193.9 281.8 L194.1 289.7 L186.9 289.9 Z"/>
<path fill="#4237a4" stroke="#4237a4" stroke-width="0.4" d="M193.9 281.8 L201.2 281.6 L201.4 289.5 L194.1 289.7 Z"/>
<path fill="#3e37a3" stroke="#3e37a3" stroke-width="0.4" d="M201.2 281.6 L208.5 281.4 L208.7 289.3 L201.4 289.5 Z"/>
<path fill="#3c37a3" stroke="#3c37a3" stroke-width="0.4" d="M208.5 281.4 L215.8 281.3 L216.0 289.1 L208.7 289.3 Z"/>
<path fill="#3a37a3" stroke="#3a37a3" stroke-width="0.4" d="M215.8 281.3 L223.1 281.1 L223.3 288.9 L216.0 289.1 Z"/>
<path fill="#36379f" stroke="#36379f" stroke-width="0.4" d="M223.1 281.1 L230.3 280.9 L230.5 288.7 L223.3 288.9 Z"/>
<path fill="#31379b" stroke="#31379b" stroke-width="0.4" d="M230.3 280.9 L237.6 280.7 L237.8 288.5 L230.5 288.7 Z"/>
<path fill="#2d3797" stroke="#2d3797" stroke-width="0.4" d="M237.6 280.7 L244.9 280.5 L245.1 288.3 L237.8 288.5 Z"/>
<path fill="#293692" stroke="#293692" stroke-width="0.4" d="M244.9 280.5 L252.2 280.3 L252.4 288.1 L245.1 288.3 Z"/>
<path fill="#273690" stroke="#273690" stroke-width="0.4" d="M252.2 280.3 L259.5 280.1 L259.7 288.0 L252.4 288.1 Z"/>
<path fill="#273690" stroke="#273690" stroke-width="0.4" d="M259.5 280.1 L266.8 279.9 L266.9 287.8 L259.7 288.0 Z"/>
<path fill="#26368e" stroke="#26368e" stroke-width="0.4" d="M266.8 279.9 L274.0 279.7 L274.2 287.6 L266.9 287.8 Z"/>
<path fill="#24358c" stroke="#24358c" stroke-width="0.4" d="M274.0 279.7 L281.3 279.5 L281.5 287.4 L274.2 287.6 Z"/>
<path fill="#1b3278" stroke="#1b3278" stroke-width="0.4" d="M281.3 279.5 L288.6 279.4 L288.8 287.2 L281.5 287.4 Z"/>
<path fill="#112f5d" stroke="#112f5d" stroke-width="0.4" d="M288.6 279.4 L295.9 279.2 L296.1 287.0 L288.8 287.2 Z"/>
<path fill="#082a42" stroke="#082a42" stroke-width="0.4" d="M295.9 279.2 L303.2 279.0 L303.3 286.8 L296.1 287.0 Z"/>
<path fill="#07293f" stroke="#07293f" stroke-width="0.4" d="M303.2 279.0 L310.5 278.8 L310.6 286.6 L303.3 286.8 Z"/>
<path fill="#0d2d51" stroke="#0d2d51" stroke-width="0.4" d="M310.5 278.8 L317.7 278.6 L317.9 286.4 L310.6 286.6 Z"/>
<path fill="#3a37a3" stroke="#3a37a3" stroke-width="0.4" d="M135.9 291.2 L143.2 291.0 L143.4 298.8 L136.1 299.0 Z"/>
<path fill="#3f37a4" stroke="#3f37a4" stroke-width="0.4" d="M143.2 291.0 L150.4 290.8 L150.7 298.7 L143.4 298.8 Z"/>
<path fill="#4437a4" stroke="#4437a4" stroke-width="0.4" d="M150.4 290.8 L157.7 290.6 L157.9 298.5 L150.7 298.7 Z"/>
<path fill="#4838a3" stroke="#4838a3" stroke-width="0.4" d="M157.7 290.6 L165.0 290.4 L165.2 298.3 L157.9 298.5 Z"/>
<path fill="#4838a3" stroke="#4838a3" stroke-width="0.4" d="M165.0 290.4 L172.3 290.2 L172.5 298.1 L165.2 298.3 Z"/>
<path fill="#4938a3" stroke="#4938a3" stroke-width="0.4" d="M172.3 290.2 L179.6 290.0 L179.8 297.9 L172.5 298.1 Z"/>
<path fill="#4b38a3" stroke="#4b38a3" stroke-width="0.4" d="M179.6 290.0 L186.9 289.9 L187.1 297.7 L179.8 297.9 Z"/>
<path fill="#4938a3" stroke="#4938a3" stroke-width="0.4" d="M186.9 289.9 L194.1 289.7 L194.3 297.5 L187.1 297.7 Z"/>
<path fill="#4537a4" stroke="#4537a4" stroke-width="0.4" d="M194.1 289.7 L201.4 289.5 L201.6 297.3 L194.3 297.5 Z"/>
<path fill="#4037a4" stroke="#4037a4" stroke-width="0.4" d="M201.4 289.5 L208.7 289.3 L208.9 297.1 L201.6 297.3 Z"/>
<path fill="#3e37a3" stroke="#3e37a3" stroke-width="0.4" d="M208.7 289.3 L216.0 289.1 L216.2 296.9 L208.9 297.1 Z"/>
<path fill="#3b37a3" stroke="#3b37a3" stroke-width="0.4" d="M216.0 289.1 L223.3 288.9 L223.5 296.7 L216.2 296.9 Z"/>
<path fill="#3737a0" stroke="#3737a0" stroke-width="0.4" d="M223.3 288.9 L230.5 288.7 L230.7 296.6 L223.5 296.7 Z"/>
<path fill="#33379c" stroke="#33379c" stroke-width="0.4" d="M230.5 288.7 L237.8 288.5 L238.0 296.4 L230.7 296.6 Z"/>
<path fill="#2f3799" stroke="#2f3799" stroke-width="0.4" d="M237.8 288.5 L245.1 288.3 L245.3 296.2 L238.0 296.4 Z"/>
<path fill="#2a3693" stroke="#2a3693" stroke-width="0.4" d="M245.1 288.3 L252.4 288.1 L252.6 296.0 L245.3 296.2 Z"/>
<path fill="#293692" stroke="#293692" stroke-width="0.4" d="M252.4 288.1 L259.7 288.0 L259.8 295.8 L252.6 296.0 Z"/>
<path fill="#293692" stroke="#293692" stroke-width="0.4" d="M259.7 288.0 L266.9 287.8 L267.1 295.6 L259.8 295.8 Z"/>
<path fill="#293692" stroke="#293692" stroke-width="0.4" d="M266.9 287.8 L274.2 287.6 L274.4 295.4 L267.1 295.6 Z"/>
<path fill="#273690" stroke="#273690" stroke-width="0.4" d="M274.2 287.6 L281.5 287.4 L281.7 295.2 L274.4 295.4 Z"/>
<path fill="#1e337f" stroke="#1e337f" stroke-width="0.4" d="M281.5 287.4 L288.8 287.2 L289.0 295.0 L281.7 295.2 Z"/>
<path fill="#112f5b" stroke="#112f5b" stroke-width="0.4" d="M288.8 287.2 L296.1 287.0 L296.2 294.8 L289.0 295.0 Z"/>
<path fill="#06273d" stroke="#06273d" stroke-width="0.4" d="M296.1 287.0 L303.3 286.8 L303.5 294.6 L296.2 294.8 Z"/>
<path fill="#06273d" stroke="#06273d" stroke-width="0.4" d="M303.3 286.8 L310.6 286.6 L310.8 294.5 L303.5 294.6 Z"/>
<path fill="#112f5c" stroke="#112f5c" stroke-width="0.4" d="M310.6 286.6 L317.9 286.4 L318.1 294.3 L310.8 294.5 Z"/>
<path fill="#3e37a3" stroke="#3e37a3" stroke-width="0.4" d="M143.4 298.8 L150.7 298.7 L150.9 306.5 L143.6 306.7 Z"/>
<path fill="#4337a4" stroke="#4337a4" stroke-width="0.4" d="M150.7 298.7 L157.9 298.5 L158.2 306.3 L150.9 306.5 Z"/>
<path fill="#4637a4" stroke="#4637a4" stroke-width="0.4" d="M157.9 298.5 L165.2 298.3 L165.4 306.1 L158.2 306.3 Z"/>
<path fill="#4437a4" stroke="#4437a4" stroke-width="0.4" d="M165.2 298.3 L172.5 298.1 L172.7 305.9 L165.4 306.1 Z"/>
<path fill="#4537a4" stroke="#4537a4" stroke-width="0.4" d="M172.5 298.1 L179.8 297.9 L180.0 305.7 L172.7 305.9 Z"/>
<path fill="#4938a3" stroke="#4938a3" stroke-width="0.4" d="M179.8 297.9 L187.1 297.7 L187.3 305.5 L180.0 305.7 Z"/>
<path fill="#4737a4" stroke="#4737a4" stroke-width="0.4" d="M187.1 297.7 L194.3 297.5 L194.5 305.3 L187.3 305.5 Z"/>
<path fill="#4737a4" stroke="#4737a4" stroke-width="0.4" d="M194.3 297.5 L201.6 297.3 L201.8 305.2 L194.5 305.3 Z"/>
<path fill="#4737a4" stroke="#4737a4" stroke-width="0.4" d="M201.6 297.3 L208.9 297.1 L209.1 305.0 L201.8 305.2 Z"/>
<path fill="#3f37a4" stroke="#3f37a4" stroke-width="0.4" d="M208.9 297.1 L216.2 296.9 L216.4 304.8 L209.1 305.0 Z"/>
<path fill="#3d37a3" stroke="#3d37a3" stroke-width="0.4" d="M216.2 296.9 L223.5 296.7 L223.6 304.6 L216.4 304.8 Z"/>
<path fill="#3b37a3" stroke="#3b37a3" stroke-width="0.4" d="M223.5 296.7 L230.7 296.6 L230.9 304.4 L223.6 304.6 Z"/>
<path fill="#36379f" stroke="#36379f" stroke-width="0.4" d="M230.7 296.6 L238.0 296.4 L238.2 304.2 L230.9 304.4 Z"/>
<path fill="#33379c" stroke="#33379c" stroke-width="0.4" d="M238.0 296.4 L245.3 296.2 L245.5 304.0 L238.2 304.2 Z"/>
<path fill="#2e3798" stroke="#2e3798" stroke-width="0.4" d="M245.3 296.2 L252.6 296.0 L252.8 303.8 L245.5 304.0 Z"/>
<path fill="#2a3693" stroke="#2a3693" stroke-width="0.4" d="M252.6 296.0 L259.8 295.8 L260.0 303.6 L252.8 303.8 Z"/>
<path fill="#2a3693" stroke="#2a3693" stroke-width="0.4" d="M259.8 295.8 L267.1 295.6 L267.3 303.4 L260.0 303.6 Z"/>
<path fill="#283691" stroke="#283691" stroke-width="0.4" d="M267.1 295.6 L274.4 295.4 L274.6 303.2 L267.3 303.4 Z"/>
<path fill="#273690" stroke="#273690" stroke-width="0.4" d="M274.4 295.4 L281.7 295.2 L281.9 303.1 L274.6 303.2 Z"/>
<path fill="#23358b" stroke="#23358b" stroke-width="0.4" d="M281.7 295.2 L289.0 295.0 L289.1 302.9 L281.9 303.1 Z"/>
<path fill="#112f5d" stroke="#112f5d" stroke-width="0.4" d="M289.0 295.0 L296.2 294.8 L296.4 302.7 L289.1 302.9 Z"/>
<path fill="#05273c" stroke="#05273c" stroke-width="0.4" d="M296.2 294.8 L303.5 294.6 L303.7 302.5 L296.4 302.7 Z"/>
<path fill="#05263c" stroke="#05263c" stroke-width="0.4" d="M303.5 294.6 L310.8 294.5 L311.0 302.3 L303.7 302.5 Z"/>
<path fill="#143065" stroke="#143065" stroke-width="0.4" d="M310.8 294.5 L318.1 294.3 L318.3 302.1 L311.0 302.3 Z"/>
<path fill="#3937a2" stroke="#3937a2" stroke-width="0.4" d="M318.1 294.3 L325.4 294.1 L325.5 301.9 L318.3 302.1 Z"/>
<path fill="#513aa1" stroke="#513aa1" stroke-width="0.4" d="M325.4 294.1 L332.6 293.9 L332.8 301.7 L325.5 301.9 Z"/>
<path fill="#3937a2" stroke="#3937a2" stroke-width="0.4" d="M143.6 306.7 L150.9 306.5 L151.1 314.3 L143.8 314.5 Z"/>
<path fill="#3a37a3" stroke="#3a37a3" stroke-width="0.4" d="M150.9 306.5 L158.2 306.3 L158.4 314.2 L151.1 314.3 Z"/>
<path fill="#3937a2" stroke="#3937a2" stroke-width="0.4" d="M158.2 306.3 L165.4 306.1 L165.6 314.0 L158.4 314.2 Z"/>
<path fill="#3837a1" stroke="#3837a1" stroke-width="0.4" d="M165.4 306.1 L172.7 305.9 L172.9 313.8 L165.6 314.0 Z"/>
<path fill="#3737a0" stroke="#3737a0" stroke-width="0.4" d="M172.7 305.9 L180.0 305.7 L180.2 313.6 L172.9 313.8 Z"/>
<path fill="#3837a1" stroke="#3837a1" stroke-width="0.4" d="M180.0 305.7 L187.3 305.5 L187.5 313.4 L180.2 313.6 Z"/>
<path fill="#3937a2" stroke="#3937a2" stroke-width="0.4" d="M187.3 305.5 L194.5 305.3 L194.7 313.2 L187.5 313.4 Z"/>
<path fill="#3c37a3" stroke="#3c37a3" stroke-width="0.4" d="M194.5 305.3 L201.8 305.2 L202.0 313.0 L194.7 313.2 Z"/>
<path fill="#3e37a3" stroke="#3e37a3" stroke-width="0.4" d="M201.8 305.2 L209.1 305.0 L209.3 312.8 L202.0 313.0 Z"/>
<path fill="#3837a2" stroke="#3837a2" stroke-width="0.4" d="M209.1 305.0 L216.4 304.8 L216.6 312.6 L209.3 312.8 Z"/>
<path fill="#3837a1" stroke="#3837a1" stroke-width="0.4" d="M216.4 304.8 L223.6 304.6 L223.8 312.4 L216.6 312.6 Z"/>
<path fill="#3837a2" stroke="#3837a2" stroke-width="0.4" d="M223.6 304.6 L230.9 304.4 L231.1 312.2 L223.8 312.4 Z"/>
<path fill="#33379c" stroke="#33379c" stroke-width="0.4" d="M230.9 304.4 L238.2 304.2 L238.4 312.0 L231.1 312.2 Z"/>
<path fill="#31379b" stroke="#31379b" stroke-width="0.4" d="M238.2 304.2 L245.5 304.0 L245.7 311.8 L238.4 312.0 Z"/>
<path fill="#2d3797" stroke="#2d3797" stroke-width="0.4" d="M245.5 304.0 L252.8 303.8 L252.9 311.7 L245.7 311.8 Z"/>
<path fill="#273690" stroke="#273690" stroke-width="0.4" d="M252.8 303.8 L260.0 303.6 L260.2 311.5 L252.9 311.7 Z"/>
<path fill="#26368f" stroke="#26368f" stroke-width="0.4" d="M260.0 303.6 L267.3 303.4 L267.5 311.3 L260.2 311.5 Z"/>
<path fill="#23358b" stroke="#23358b" stroke-width="0.4" d="M267.3 303.4 L274.6 303.2 L274.8 311.1 L267.5 311.3 Z"/>
<path fill="#1f3483" stroke="#1f3483" stroke-width="0.4" d="M274.6 303.2 L281.9 303.1 L282.0 310.9 L274.8 311.1 Z"/>
<path fill="#183071" stroke="#183071" stroke-width="0.4" d="M281.9 303.1 L289.1 302.9 L289.3 310.7 L282.0 310.9 Z"/>
<path fill="#0c2c4f" stroke="#0c2c4f" stroke-width="0.4" d="M289.1 302.9 L296.4 302.7 L296.6 310.5 L289.3 310.7 Z"/>
<path fill="#04253a" stroke="#04253a" stroke-width="0.4" d="M296.4 302.7 L303.7 302.5 L303.9 310.3 L296.6 310.5 Z"/>
<path fill="#04253a" stroke="#04253a" stroke-width="0.4" d="M303.7 302.5 L311.0 302.3 L311.1 310.1 L303.9 310.3 Z"/>
<path fill="#0d2d52" stroke="#0d2d52" stroke-width="0.4" d="M311.0 302.3 L318.3 302.1 L318.4 309.9 L311.1 310.1 Z"/>
<path fill="#2b3695" stroke="#2b3695" stroke-width="0.4" d="M318.3 302.1 L325.5 301.9 L325.7 309.7 L318.4 309.9 Z"/>
<path fill="#513aa2" stroke="#513aa2" stroke-width="0.4" d="M325.5 301.9 L332.8 301.7 L333.0 309.5 L325.7 309.7 Z"/>
<path fill="#62429b" stroke="#62429b" stroke-width="0.4" d="M332.8 301.7 L340.1 301.5 L340.2 309.4 L333.0 309.5 Z"/>
<path fill="#2f3799" stroke="#2f3799" stroke-width="0.4" d="M151.1 314.3 L158.4 314.2 L158.6 322.0 L151.3 322.2 Z"/>
<path fill="#2a3694" stroke="#2a3694" stroke-width="0.4" d="M158.4 314.2 L165.6 314.0 L165.9 321.8 L158.6 322.0 Z"/>
<path fill="#26368f" stroke="#26368f" stroke-width="0.4" d="M165.6 314.0 L172.9 313.8 L173.1 321.6 L165.9 321.8 Z"/>
<path fill="#23358b" stroke="#23358b" stroke-width="0.4" d="M172.9 313.8 L180.2 313.6 L180.4 321.4 L173.1 321.6 Z"/>
<path fill="#23358b" stroke="#23358b" stroke-width="0.4" d="M180.2 313.6 L187.5 313.4 L187.7 321.2 L180.4 321.4 Z"/>
<path fill="#25358d" stroke="#25358d" stroke-width="0.4" d="M187.5 313.4 L194.7 313.2 L194.9 321.0 L187.7 321.2 Z"/>
<path fill="#27368f" stroke="#27368f" stroke-width="0.4" d="M194.7 313.2 L202.0 313.0 L202.2 320.8 L194.9 321.0 Z"/>
<path fill="#273690" stroke="#273690" stroke-width="0.4" d="M202.0 313.0 L209.3 312.8 L209.5 320.6 L202.2 320.8 Z"/>
<path fill="#24358c" stroke="#24358c" stroke-width="0.4" d="M209.3 312.8 L216.6 312.6 L216.8 320.5 L209.5 320.6 Z"/>
<path fill="#25358e" stroke="#25358e" stroke-width="0.4" d="M216.6 312.6 L223.8 312.4 L224.0 320.3 L216.8 320.5 Z"/>
<path fill="#26368e" stroke="#26368e" stroke-width="0.4" d="M223.8 312.4 L231.1 312.2 L231.3 320.1 L224.0 320.3 Z"/>
<path fill="#23358b" stroke="#23358b" stroke-width="0.4" d="M231.1 312.2 L238.4 312.0 L238.6 319.9 L231.3 320.1 Z"/>
<path fill="#213588" stroke="#213588" stroke-width="0.4" d="M238.4 312.0 L245.7 311.8 L245.9 319.7 L238.6 319.9 Z"/>
<path fill="#203486" stroke="#203486" stroke-width="0.4" d="M245.7 311.8 L252.9 311.7 L253.1 319.5 L245.9 319.7 Z"/>
<path fill="#1d337e" stroke="#1d337e" stroke-width="0.4" d="M252.9 311.7 L260.2 311.5 L260.4 319.3 L253.1 319.5 Z"/>
<path fill="#1a3176" stroke="#1a3176" stroke-width="0.4" d="M260.2 311.5 L267.5 311.3 L267.7 319.1 L260.4 319.3 Z"/>
<path fill="#1a3177" stroke="#1a3177" stroke-width="0.4" d="M267.5 311.3 L274.8 311.1 L275.0 318.9 L267.7 319.1 Z"/>
<path fill="#16306d" stroke="#16306d" stroke-width="0.4" d="M274.8 311.1 L282.0 310.9 L282.2 318.7 L275.0 318.9 Z"/>
<path fill="#11305d" stroke="#11305d" stroke-width="0.4" d="M282.0 310.9 L289.3 310.7 L289.5 318.5 L282.2 318.7 Z"/>
<path fill="#082941" stroke="#082941" stroke-width="0.4" d="M289.3 310.7 L296.6 310.5 L296.8 318.3 L289.5 318.5 Z"/>
<path fill="#04253a" stroke="#04253a" stroke-width="0.4" d="M296.6 310.5 L303.9 310.3 L304.0 318.1 L296.8 318.3 Z"/>
<path fill="#04253a" stroke="#04253a" stroke-width="0.4" d="M303.9 310.3 L311.1 310.1 L311.3 318.0 L304.0 318.1 Z"/>
<path fill="#06283e" stroke="#06283e" stroke-width="0.4" d="M311.1 310.1 L318.4 309.9 L318.6 317.8 L311.3 318.0 Z"/>
<path fill="#153067" stroke="#153067" stroke-width="0.4" d="M318.4 309.9 L325.7 309.7 L325.9 317.6 L318.6 317.8 Z"/>
<path fill="#32379b" stroke="#32379b" stroke-width="0.4" d="M325.7 309.7 L333.0 309.5 L333.1 317.4 L325.9 317.6 Z"/>
<path fill="#563da0" stroke="#563da0" stroke-width="0.4" d="M333.0 309.5 L340.2 309.4 L340.4 317.2 L333.1 317.4 Z"/>
<path fill="#143066" stroke="#143066" stroke-width="0.4" d="M165.9 321.8 L173.1 321.6 L173.3 329.5 L166.1 329.7 Z"/>
<path fill="#123060" stroke="#123060" stroke-width="0.4" d="M173.1 321.6 L180.4 321.4 L180.6 329.3 L173.3 329.5 Z"/>
<path fill="#12305f" stroke="#12305f" stroke-width="0.4" d="M180.4 321.4 L187.7 321.2 L187.9 329.1 L180.6 329.3 Z"/>
<path fill="#133061" stroke="#133061" stroke-width="0.4" d="M187.7 321.2 L194.9 321.0 L195.1 328.9 L187.9 329.1 Z"/>
<path fill="#143067" stroke="#143067" stroke-width="0.4" d="M194.9 321.0 L202.2 320.8 L202.4 328.7 L195.1 328.9 Z"/>
<path fill="#153068" stroke="#153068" stroke-width="0.4" d="M202.2 320.8 L209.5 320.6 L209.7 328.5 L202.4 328.7 Z"/>
<path fill="#143064" stroke="#143064" stroke-width="0.4" d="M209.5 320.6 L216.8 320.5 L217.0 328.3 L209.7 328.5 Z"/>
<path fill="#153068" stroke="#153068" stroke-width="0.4" d="M216.8 320.5 L224.0 320.3 L224.2 328.1 L217.0 328.3 Z"/>
<path fill="#16306c" stroke="#16306c" stroke-width="0.4" d="M224.0 320.3 L231.3 320.1 L231.5 327.9 L224.2 328.1 Z"/>
<path fill="#15306a" stroke="#15306a" stroke-width="0.4" d="M231.3 320.1 L238.6 319.9 L238.8 327.7 L231.5 327.9 Z"/>
<path fill="#153069" stroke="#153069" stroke-width="0.4" d="M238.6 319.9 L245.9 319.7 L246.0 327.5 L238.8 327.7 Z"/>
<path fill="#173070" stroke="#173070" stroke-width="0.4" d="M245.9 319.7 L253.1 319.5 L253.3 327.3 L246.0 327.5 Z"/>
<path fill="#173070" stroke="#173070" stroke-width="0.4" d="M253.1 319.5 L260.4 319.3 L260.6 327.1 L253.3 327.3 Z"/>
<path fill="#17306e" stroke="#17306e" stroke-width="0.4" d="M260.4 319.3 L267.7 319.1 L267.9 326.9 L260.6 327.1 Z"/>
<path fill="#16306d" stroke="#16306d" stroke-width="0.4" d="M267.7 319.1 L275.0 318.9 L275.1 326.8 L267.9 326.9 Z"/>
<path fill="#143065" stroke="#143065" stroke-width="0.4" d="M275.0 318.9 L282.2 318.7 L282.4 326.6 L275.1 326.8 Z"/>
<path fill="#0d2d52" stroke="#0d2d52" stroke-width="0.4" d="M282.2 318.7 L289.5 318.5 L289.7 326.4 L282.4 326.6 Z"/>
<path fill="#06283e" stroke="#06283e" stroke-width="0.4" d="M289.5 318.5 L296.8 318.3 L296.9 326.2 L289.7 326.4 Z"/>
<path fill="#04253a" stroke="#04253a" stroke-width="0.4" d="M296.8 318.3 L304.0 318.1 L304.2 326.0 L296.9 326.2 Z"/>
<path fill="#04253a" stroke="#04253a" stroke-width="0.4" d="M304.0 318.1 L311.3 318.0 L311.5 325.8 L304.2 326.0 Z"/>
<path fill="#04253a" stroke="#04253a" stroke-width="0.4" d="M311.3 318.0 L318.6 317.8 L318.8 325.6 L311.5 325.8 Z"/>
<path fill="#07293f" stroke="#07293f" stroke-width="0.4" d="M318.6 317.8 L325.9 317.6 L326.0 325.4 L318.8 325.6 Z"/>
<path fill="#153069" stroke="#153069" stroke-width="0.4" d="M325.9 317.6 L333.1 317.4 L333.3 325.2 L326.0 325.4 Z"/>
<path fill="#3937a2" stroke="#3937a2" stroke-width="0.4" d="M333.1 317.4 L340.4 317.2 L340.6 325.0 L333.3 325.2 Z"/>
<path fill="#07293f" stroke="#07293f" stroke-width="0.4" d="M173.3 329.5 L180.6 329.3 L180.8 337.1 L173.5 337.3 Z"/>
<path fill="#06283e" stroke="#06283e" stroke-width="0.4" d="M180.6 329.3 L187.9 329.1 L188.1 336.9 L180.8 337.1 Z"/>
<path fill="#072940" stroke="#072940" stroke-width="0.4" d="M187.9 329.1 L195.1 328.9 L195.4 336.7 L188.1 336.9 Z"/>
<path fill="#082a42" stroke="#082a42" stroke-width="0.4" d="M195.1 328.9 L202.4 328.7 L202.6 336.5 L195.4 336.7 Z"/>
<path fill="#092a45" stroke="#092a45" stroke-width="0.4" d="M202.4 328.7 L209.7 328.5 L209.9 336.3 L202.6 336.5 Z"/>
<path fill="#0a2b47" stroke="#0a2b47" stroke-width="0.4" d="M209.7 328.5 L217.0 328.3 L217.2 336.1 L209.9 336.3 Z"/>
<path fill="#0b2c4b" stroke="#0b2c4b" stroke-width="0.4" d="M217.0 328.3 L224.2 328.1 L224.4 335.9 L217.2 336.1 Z"/>
<path fill="#0f2e55" stroke="#0f2e55" stroke-width="0.4" d="M224.2 328.1 L231.5 327.9 L231.7 335.8 L224.4 335.9 Z"/>
<path fill="#11305d" stroke="#11305d" stroke-width="0.4" d="M231.5 327.9 L238.8 327.7 L239.0 335.6 L231.7 335.8 Z"/>
<path fill="#133062" stroke="#133062" stroke-width="0.4" d="M238.8 327.7 L246.0 327.5 L246.2 335.4 L239.0 335.6 Z"/>
<path fill="#153069" stroke="#153069" stroke-width="0.4" d="M246.0 327.5 L253.3 327.3 L253.5 335.2 L246.2 335.4 Z"/>
<path fill="#17306e" stroke="#17306e" stroke-width="0.4" d="M253.3 327.3 L260.6 327.1 L260.8 335.0 L253.5 335.2 Z"/>
<path fill="#17306f" stroke="#17306f" stroke-width="0.4" d="M260.6 327.1 L267.9 326.9 L268.0 334.8 L260.8 335.0 Z"/>
<path fill="#16306d" stroke="#16306d" stroke-width="0.4" d="M267.9 326.9 L275.1 326.8 L275.3 334.6 L268.0 334.8 Z"/>
<path fill="#143065" stroke="#143065" stroke-width="0.4" d="M275.1 326.8 L282.4 326.6 L282.6 334.4 L275.3 334.6 Z"/>
<path fill="#0e2d52" stroke="#0e2d52" stroke-width="0.4" d="M282.4 326.6 L289.7 326.4 L289.9 334.2 L282.6 334.4 Z"/>
<path fill="#06283e" stroke="#06283e" stroke-width="0.4" d="M289.7 326.4 L296.9 326.2 L297.1 334.0 L289.9 334.2 Z"/>
<path fill="#04253a" stroke="#04253a" stroke-width="0.4" d="M296.9 326.2 L304.2 326.0 L304.4 333.8 L297.1 334.0 Z"/>
<path fill="#04253a" stroke="#04253a" stroke-width="0.4" d="M304.2 326.0 L311.5 325.8 L311.7 333.6 L304.4 333.8 Z"/>
<path fill="#04253a" stroke="#04253a" stroke-width="0.4" d="M311.5 325.8 L318.8 325.6 L318.9 333.4 L311.7 333.6 Z"/>
<path fill="#082a42" stroke="#082a42" stroke-width="0.4" d="M318.8 325.6 L326.0 325.4 L326.2 333.2 L318.9 333.4 Z"/>
<path fill="#183172" stroke="#183172" stroke-width="0.4" d="M326.0 325.4 L333.3 325.2 L333.5 333.0 L326.2 333.2 Z"/>
<path fill="#35379e" stroke="#35379e" stroke-width="0.4" d="M333.3 325.2 L340.6 325.0 L340.7 332.8 L333.5 333.0 Z"/>
<path fill="#3f37a4" stroke="#3f37a4" stroke-width="0.4" d="M340.6 325.0 L347.8 324.8 L348.0 332.6 L340.7 332.8 Z"/>
<path fill="#06283e" stroke="#06283e" stroke-width="0.4" d="M173.5 337.3 L180.8 337.1 L181.0 345.0 L173.8 345.1 Z"/>
<path fill="#05273c" stroke="#05273c" stroke-width="0.4" d="M180.8 337.1 L188.1 336.9 L188.3 344.8 L181.0 345.0 Z"/>
<path fill="#05273c" stroke="#05273c" stroke-width="0.4" d="M188.1 336.9 L195.4 336.7 L195.6 344.6 L188.3 344.8 Z"/>
<path fill="#05263c" stroke="#05263c" stroke-width="0.4" d="M195.4 336.7 L202.6 336.5 L202.8 344.4 L195.6 344.6 Z"/>
<path fill="#06273d" stroke="#06273d" stroke-width="0.4" d="M202.6 336.5 L209.9 336.3 L210.1 344.2 L202.8 344.4 Z"/>
<path fill="#06273d" stroke="#06273d" stroke-width="0.4" d="M209.9 336.3 L217.2 336.1 L217.4 344.0 L210.1 344.2 Z"/>
<path fill="#06283d" stroke="#06283d" stroke-width="0.4" d="M217.2 336.1 L224.4 335.9 L224.6 343.8 L217.4 344.0 Z"/>
<path fill="#092a45" stroke="#092a45" stroke-width="0.4" d="M224.4 335.9 L231.7 335.8 L231.9 343.6 L224.6 343.8 Z"/>
<path fill="#0e2d53" stroke="#0e2d53" stroke-width="0.4" d="M231.7 335.8 L239.0 335.6 L239.2 343.4 L231.9 343.6 Z"/>
<path fill="#12305f" stroke="#12305f" stroke-width="0.4" d="M239.0 335.6 L246.2 335.4 L246.4 343.2 L239.2 343.4 Z"/>
<path fill="#143064" stroke="#143064" stroke-width="0.4" d="M246.2 335.4 L253.5 335.2 L253.7 343.0 L246.4 343.2 Z"/>
<path fill="#16306b" stroke="#16306b" stroke-width="0.4" d="M253.5 335.2 L260.8 335.0 L261.0 342.8 L253.7 343.0 Z"/>
<path fill="#16306c" stroke="#16306c" stroke-width="0.4" d="M260.8 335.0 L268.0 334.8 L268.2 342.6 L261.0 342.8 Z"/>
<path fill="#16306d" stroke="#16306d" stroke-width="0.4" d="M268.0 334.8 L275.3 334.6 L275.5 342.4 L268.2 342.6 Z"/>
<path fill="#143066" stroke="#143066" stroke-width="0.4" d="M275.3 334.6 L282.6 334.4 L282.8 342.2 L275.5 342.4 Z"/>
<path fill="#0e2d53" stroke="#0e2d53" stroke-width="0.4" d="M282.6 334.4 L289.9 334.2 L290.0 342.0 L282.8 342.2 Z"/>
<path fill="#06283e" stroke="#06283e" stroke-width="0.4" d="M289.9 334.2 L297.1 334.0 L297.3 341.8 L290.0 342.0 Z"/>
<path fill="#04253a" stroke="#04253a" stroke-width="0.4" d="M297.1 334.0 L304.4 333.8 L304.6 341.6 L297.3 341.8 Z"/>
<path fill="#04253a" stroke="#04253a" stroke-width="0.4" d="M304.4 333.8 L311.7 333.6 L311.8 341.4 L304.6 341.6 Z"/>
<path fill="#05263c" stroke="#05263c" stroke-width="0.4" d="M311.7 333.6 L318.9 333.4 L319.1 341.3 L311.8 341.4 Z"/>
<path fill="#0a2b47" stroke="#0a2b47" stroke-width="0.4" d="M318.9 333.4 L326.2 333.2 L326.4 341.1 L319.1 341.3 Z"/>
<path fill="#16306b" stroke="#16306b" stroke-width="0.4" d="M326.2 333.2 L333.5 333.0 L333.6 340.9 L326.4 341.1 Z"/>
<path fill="#23358b" stroke="#23358b" stroke-width="0.4" d="M333.5 333.0 L340.7 332.8 L340.9 340.7 L333.6 340.9 Z"/>
<path fill="#25358e" stroke="#25358e" stroke-width="0.4" d="M340.7 332.8 L348.0 332.6 L348.2 340.5 L340.9 340.7 Z"/>
<path fill="#06283d" stroke="#06283d" stroke-width="0.4" d="M173.8 345.1 L181.0 345.0 L181.2 352.8 L174.0 353.0 Z"/>
<path fill="#05273c" stroke="#05273c" stroke-width="0.4" d="M181.0 345.0 L188.3 344.8 L188.5 352.6 L181.2 352.8 Z"/>
<path fill="#05273c" stroke="#05273c" stroke-width="0.4" d="M188.3 344.8 L195.6 344.6 L195.8 352.4 L188.5 352.6 Z"/>
<path fill="#06283d" stroke="#06283d" stroke-width="0.4" d="M195.6 344.6 L202.8 344.4 L203.0 352.2 L195.8 352.4 Z"/>
<path fill="#05273c" stroke="#05273c" stroke-width="0.4" d="M202.8 344.4 L210.1 344.2 L210.3 352.0 L203.0 352.2 Z"/>
<path fill="#05273c" stroke="#05273c" stroke-width="0.4" d="M210.1 344.2 L217.4 344.0 L217.6 351.8 L210.3 352.0 Z"/>
<path fill="#06273d" stroke="#06273d" stroke-width="0.4" d="M217.4 344.0 L224.6 343.8 L224.8 351.6 L217.6 351.8 Z"/>
<path fill="#07293f" stroke="#07293f" stroke-width="0.4" d="M224.6 343.8 L231.9 343.6 L232.1 351.4 L224.8 351.6 Z"/>
<path fill="#0b2b49" stroke="#0b2b49" stroke-width="0.4" d="M231.9 343.6 L239.2 343.4 L239.4 351.2 L232.1 351.4 Z"/>
<path fill="#0e2d54" stroke="#0e2d54" stroke-width="0.4" d="M239.2 343.4 L246.4 343.2 L246.6 351.0 L239.4 351.2 Z"/>
<path fill="#112f5b" stroke="#112f5b" stroke-width="0.4" d="M246.4 343.2 L253.7 343.0 L253.9 350.8 L246.6 351.0 Z"/>
<path fill="#123060" stroke="#123060" stroke-width="0.4" d="M253.7 343.0 L261.0 342.8 L261.1 350.6 L253.9 350.8 Z"/>
<path fill="#123060" stroke="#123060" stroke-width="0.4" d="M261.0 342.8 L268.2 342.6 L268.4 350.5 L261.1 350.6 Z"/>
<path fill="#112f5c" stroke="#112f5c" stroke-width="0.4" d="M268.2 342.6 L275.5 342.4 L275.7 350.3 L268.4 350.5 Z"/>
<path fill="#102e58" stroke="#102e58" stroke-width="0.4" d="M275.5 342.4 L282.8 342.2 L282.9 350.1 L275.7 350.3 Z"/>
<path fill="#0b2b4a" stroke="#0b2b4a" stroke-width="0.4" d="M282.8 342.2 L290.0 342.0 L290.2 349.9 L282.9 350.1 Z"/>
<path fill="#06283e" stroke="#06283e" stroke-width="0.4" d="M290.0 342.0 L297.3 341.8 L297.5 349.7 L290.2 349.9 Z"/>
<path fill="#05263b" stroke="#05263b" stroke-width="0.4" d="M297.3 341.8 L304.6 341.6 L304.7 349.5 L297.5 349.7 Z"/>
<path fill="#04253b" stroke="#04253b" stroke-width="0.4" d="M304.6 341.6 L311.8 341.4 L312.0 349.3 L304.7 349.5 Z"/>
<path fill="#05273c" stroke="#05273c" stroke-width="0.4" d="M311.8 341.4 L319.1 341.3 L319.3 349.1 L312.0 349.3 Z"/>
<path fill="#072940" stroke="#072940" stroke-width="0.4" d="M319.1 341.3 L326.4 341.1 L326.5 348.9 L319.3 349.1 Z"/>
<path fill="#0e2d53" stroke="#0e2d53" stroke-width="0.4" d="M326.4 341.1 L333.6 340.9 L333.8 348.7 L326.5 348.9 Z"/>
<path fill="#133061" stroke="#133061" stroke-width="0.4" d="M333.6 340.9 L340.9 340.7 L341.1 348.5 L333.8 348.7 Z"/>
<path fill="#193174" stroke="#193174" stroke-width="0.4" d="M340.9 340.7 L348.2 340.5 L348.3 348.3 L341.1 348.5 Z"/>
</g>
<g>
<path fill="#4676b5" d="M103.6 60.4 L103.8 60.5 L103.4 60.6 L104.9 61.3 L104.0 59.9 L104.0 60.2 L103.8 60.1 Z"/>
<path fill="#4a7ab7" d="M111.0 60.2 L111.1 60.3 L110.7 60.4 L112.3 61.3 L111.4 59.7 L111.3 60.1 L111.2 60.0 Z"/>
<path fill="#4d7fb9" d="M118.3 60.0 L118.4 60.2 L118.0 60.3 L119.7 61.2 L118.8 59.5 L118.7 59.9 L118.6 59.8 Z"/>
<path fill="#5183bb" d="M125.6 59.9 L125.8 60.0 L125.4 60.2 L127.3 61.0 L126.2 59.3 L126.0 59.7 L125.9 59.6 Z"/>
<path fill="#5385bd" d="M132.9 59.7 L133.1 59.9 L132.7 60.0 L134.7 61.1 L133.5 59.1 L133.4 59.6 L133.2 59.4 Z"/>
<path fill="#4d7fb9" d="M140.3 59.5 L140.4 59.7 L140.0 59.8 L141.7 60.7 L140.8 59.0 L140.7 59.4 L140.6 59.3 Z"/>
<path fill="#4f81ba" d="M147.6 59.4 L147.8 59.5 L147.4 59.7 L149.3 60.5 L148.2 58.8 L148.1 59.2 L147.9 59.1 Z"/>
<path fill="#5385bd" d="M155.0 59.2 L155.1 59.4 L154.7 59.5 L156.7 60.5 L155.6 58.6 L155.4 59.1 L155.3 58.9 Z"/>
<path fill="#578abf" d="M162.3 59.1 L162.4 59.2 L161.9 59.4 L164.0 60.6 L163.0 58.4 L162.8 58.9 L162.6 58.7 Z"/>
<path fill="#4f81ba" d="M169.7 58.9 L169.8 59.0 L169.4 59.2 L171.2 60.0 L170.2 58.3 L170.1 58.7 L169.9 58.6 Z"/>
<path fill="#5385bd" d="M177.0 58.7 L177.1 58.9 L176.7 59.0 L178.6 60.0 L177.6 58.1 L177.4 58.5 L177.3 58.4 Z"/>
<path fill="#588cc0" d="M184.3 58.5 L184.5 58.7 L183.9 58.9 L186.1 60.1 L185.0 57.9 L184.8 58.4 L184.6 58.2 Z"/>
<path fill="#6095c4" d="M191.6 58.4 L191.8 58.6 L191.3 58.8 L193.8 60.0 L192.3 57.6 L192.2 58.2 L192.0 58.0 Z"/>
<path fill="#588cc0" d="M199.0 58.2 L199.1 58.4 L198.6 58.5 L200.8 59.7 L199.6 57.5 L199.5 58.0 L199.3 57.9 Z"/>
<path fill="#5e93c3" d="M206.3 58.1 L206.5 58.3 L205.9 58.4 L208.3 59.8 L207.1 57.3 L206.9 57.9 L206.7 57.7 Z"/>
<path fill="#659bc8" d="M213.6 57.9 L213.8 58.1 L213.2 58.4 L216.1 59.7 L214.4 57.0 L214.2 57.7 L214.0 57.5 Z"/>
<path fill="#6ba2cb" d="M220.9 57.8 L221.2 58.0 L220.4 58.2 L223.5 59.9 L221.9 56.8 L221.6 57.5 L221.4 57.3 Z"/>
<path fill="#6399c7" d="M228.3 57.6 L228.5 57.8 L227.8 57.9 L230.4 59.5 L229.1 56.8 L228.9 57.4 L228.7 57.2 Z"/>
<path fill="#69a0ca" d="M235.6 57.4 L235.8 57.7 L235.2 57.9 L238.2 59.4 L236.5 56.5 L236.3 57.2 L236.1 56.9 Z"/>
<path fill="#6ea6ce" d="M242.9 57.3 L243.2 57.5 L242.4 57.8 L245.7 59.6 L243.9 56.2 L243.7 57.0 L243.4 56.8 Z"/>
<path fill="#74add1" d="M250.2 57.1 L250.6 57.5 L249.8 57.8 L253.2 59.9 L251.5 56.2 L251.2 57.0 L250.8 56.6 Z"/>
<path fill="#7ab2d4" d="M257.6 57.0 L258.3 57.6 L257.5 57.9 L261.1 59.7 L259.0 56.2 L258.8 57.0 L258.1 56.4 Z"/>
<path fill="#70a9cf" d="M264.9 56.8 L265.2 57.0 L264.4 57.3 L267.9 59.2 L266.0 55.7 L265.7 56.5 L265.5 56.2 Z"/>
<path fill="#76afd2" d="M272.3 56.6 L272.9 57.1 L272.1 57.5 L275.8 59.0 L273.5 55.7 L273.3 56.5 L272.8 56.0 Z"/>
<path fill="#7fb6d6" d="M279.6 56.5 L280.5 57.2 L279.7 57.5 L283.3 59.2 L281.2 55.8 L281.0 56.6 L280.1 55.9 Z"/>
<path fill="#85bbd9" d="M286.9 56.3 L288.1 57.4 L287.3 57.7 L290.8 59.5 L288.9 56.0 L288.6 56.8 L287.5 55.7 Z"/>
<path fill="#78b0d3" d="M294.3 56.1 L295.0 56.7 L294.2 57.0 L297.9 58.5 L295.6 55.2 L295.4 56.0 L294.8 55.5 Z"/>
<path fill="#81b7d7" d="M301.6 56.0 L302.7 56.8 L301.9 57.2 L305.6 58.7 L303.4 55.4 L303.2 56.2 L302.1 55.4 Z"/>
<path fill="#8ec2dc" d="M309.0 55.8 L310.6 57.1 L309.8 57.5 L313.5 59.0 L311.3 55.7 L311.1 56.5 L309.5 55.2 Z"/>
<path fill="#99cae1" d="M316.3 55.6 L318.8 57.2 L318.1 57.6 L322.0 58.6 L319.3 55.7 L319.2 56.5 L316.7 55.0 Z"/>
<path fill="#90c3dd" d="M323.7 55.5 L325.6 56.6 L324.8 57.1 L328.7 58.1 L326.1 55.1 L326.0 56.0 L324.1 54.8 Z"/>
<path fill="#9bcce2" d="M331.0 55.3 L333.6 56.9 L332.9 57.4 L336.8 58.4 L334.1 55.4 L334.0 56.3 L331.4 54.6 Z"/>
<path fill="#a8d6e8" d="M338.4 55.2 L342.2 56.5 L341.6 57.1 L345.6 57.3 L342.4 54.9 L342.5 55.8 L338.7 54.4 Z"/>
<path fill="#b4deec" d="M345.8 55.0 L350.5 56.8 L349.9 57.4 L353.9 57.6 L350.7 55.2 L350.8 56.0 L346.0 54.3 Z"/>
<path fill="#aedbea" d="M353.1 54.8 L357.3 56.5 L356.7 57.1 L360.7 57.5 L357.5 55.0 L357.6 55.8 L353.4 54.1 Z"/>
<path fill="#bde2ee" d="M360.5 54.7 L366.2 55.3 L365.7 56.0 L369.7 55.3 L366.0 53.7 L366.3 54.5 L360.6 53.9 Z"/>
<path fill="#c9e8f2" d="M367.9 54.5 L374.6 55.5 L374.1 56.2 L378.1 55.7 L374.5 54.0 L374.7 54.8 L368.0 53.7 Z"/>
<path fill="#d6eef5" d="M375.2 54.3 L383.1 55.9 L382.6 56.6 L386.6 56.2 L383.0 54.3 L383.2 55.2 L375.3 53.6 Z"/>
<path fill="#cbe9f2" d="M382.6 54.2 L389.7 53.6 L389.3 54.4 L393.1 52.9 L389.1 52.1 L389.6 52.8 L382.6 53.4 Z"/>
<path fill="#d8eff6" d="M389.9 54.0 L398.1 53.5 L397.8 54.3 L401.6 52.9 L397.7 52.0 L398.1 52.7 L389.9 53.2 Z"/>
<path fill="#def2f7" d="M397.3 53.8 L406.0 53.3 L405.7 54.1 L409.5 52.7 L405.6 51.8 L406.0 52.5 L397.2 53.1 Z"/>
<path fill="#dcf1f7" d="M404.8 53.6 L412.6 50.0 L412.6 50.9 L415.6 48.3 L411.6 48.8 L412.3 49.3 L404.4 52.9 Z"/>
<path fill="#dcf1f7" d="M412.1 53.4 L419.8 49.5 L419.8 50.3 L422.7 47.5 L418.7 48.3 L419.4 48.8 L411.8 52.8 Z"/>
<path fill="#4b7db8" d="M103.9 68.2 L104.0 68.4 L103.6 68.5 L105.3 69.3 L104.3 67.7 L104.2 68.1 L104.1 68.0 Z"/>
<path fill="#4f81ba" d="M111.2 68.1 L111.3 68.2 L110.9 68.3 L112.7 69.3 L111.7 67.5 L111.6 67.9 L111.4 67.8 Z"/>
<path fill="#4878b6" d="M118.5 67.9 L118.6 68.0 L118.3 68.1 L119.7 69.0 L119.0 67.4 L118.9 67.8 L118.8 67.7 Z"/>
<path fill="#4b7db8" d="M125.9 67.7 L126.0 67.8 L125.6 68.0 L127.3 68.8 L126.4 67.2 L126.2 67.6 L126.1 67.5 Z"/>
<path fill="#4f81ba" d="M133.2 67.6 L133.3 67.7 L132.9 67.8 L134.7 68.8 L133.7 67.0 L133.6 67.4 L133.5 67.3 Z"/>
<path fill="#5385bd" d="M140.5 67.4 L140.7 67.5 L140.2 67.7 L142.2 68.6 L141.1 66.8 L141.0 67.2 L140.8 67.1 Z"/>
<path fill="#4b7db8" d="M147.9 67.2 L148.0 67.3 L147.6 67.5 L149.3 68.3 L148.4 66.7 L148.2 67.1 L148.1 67.0 Z"/>
<path fill="#4f81ba" d="M155.2 67.0 L155.3 67.2 L154.9 67.3 L156.6 68.3 L155.8 66.5 L155.6 66.9 L155.5 66.8 Z"/>
<path fill="#5385bd" d="M162.5 66.9 L162.7 67.0 L162.2 67.2 L164.2 68.2 L163.1 66.3 L163.0 66.7 L162.8 66.6 Z"/>
<path fill="#578abf" d="M169.8 66.7 L170.0 66.9 L169.5 67.1 L171.6 68.2 L170.5 66.1 L170.3 66.6 L170.2 66.4 Z"/>
<path fill="#4f81ba" d="M177.2 66.5 L177.3 66.7 L176.9 66.8 L178.6 67.9 L177.8 66.0 L177.6 66.4 L177.5 66.3 Z"/>
<path fill="#5588be" d="M184.5 66.4 L184.7 66.5 L184.2 66.7 L186.3 67.8 L185.1 65.7 L185.0 66.2 L184.8 66.1 Z"/>
<path fill="#5c90c2" d="M191.8 66.2 L192.0 66.4 L191.4 66.6 L193.8 67.9 L192.6 65.5 L192.4 66.1 L192.2 65.9 Z"/>
<path fill="#6399c7" d="M199.1 66.1 L199.4 66.3 L198.8 66.5 L201.5 67.8 L199.9 65.2 L199.8 65.9 L199.5 65.7 Z"/>
<path fill="#5c90c2" d="M206.5 65.9 L206.7 66.1 L206.1 66.3 L208.5 67.5 L207.2 65.2 L207.0 65.7 L206.9 65.5 Z"/>
<path fill="#6399c7" d="M213.8 65.7 L214.0 66.0 L213.4 66.1 L216.0 67.7 L214.7 65.0 L214.4 65.6 L214.2 65.3 Z"/>
<path fill="#69a0ca" d="M221.1 65.6 L221.4 65.8 L220.7 66.1 L223.7 67.6 L222.0 64.7 L221.8 65.4 L221.6 65.1 Z"/>
<path fill="#6ea6ce" d="M228.4 65.5 L228.7 65.7 L227.9 66.0 L231.2 67.8 L229.5 64.4 L229.2 65.2 L228.9 64.9 Z"/>
<path fill="#69a0ca" d="M235.8 65.2 L236.0 65.5 L235.3 65.7 L238.1 67.5 L236.8 64.4 L236.5 65.1 L236.3 64.8 Z"/>
<path fill="#6ea6ce" d="M243.1 65.1 L243.4 65.4 L242.6 65.6 L245.9 67.4 L244.1 64.1 L243.9 64.8 L243.6 64.6 Z"/>
<path fill="#74add1" d="M250.4 64.9 L250.8 65.3 L250.0 65.6 L253.4 67.6 L251.7 64.0 L251.3 64.8 L251.0 64.4 Z"/>
<path fill="#7ab2d4" d="M257.8 64.8 L258.5 65.4 L257.7 65.7 L261.3 67.5 L259.2 64.0 L259.0 64.9 L258.3 64.2 Z"/>
<path fill="#70a9cf" d="M265.1 64.6 L265.4 64.9 L264.6 65.1 L268.0 67.0 L266.2 63.5 L265.9 64.3 L265.6 64.1 Z"/>
<path fill="#76afd2" d="M272.4 64.4 L272.9 65.0 L272.1 65.2 L275.5 67.3 L273.8 63.7 L273.5 64.5 L273.0 63.9 Z"/>
<path fill="#7fb6d6" d="M279.8 64.3 L280.6 65.1 L279.8 65.4 L283.5 67.1 L281.4 63.7 L281.2 64.5 L280.3 63.7 Z"/>
<path fill="#85bbd9" d="M287.1 64.1 L288.2 65.2 L287.4 65.5 L291.0 67.4 L289.1 63.9 L288.8 64.7 L287.6 63.6 Z"/>
<path fill="#78b0d3" d="M294.5 64.0 L295.1 64.5 L294.4 64.9 L298.1 66.4 L295.8 63.1 L295.6 63.9 L295.0 63.4 Z"/>
<path fill="#83b9d8" d="M301.8 63.8 L302.9 64.7 L302.1 65.0 L305.7 66.7 L303.6 63.3 L303.4 64.1 L302.3 63.2 Z"/>
<path fill="#8ec2dc" d="M309.1 63.6 L310.8 65.1 L310.0 65.4 L313.6 67.0 L311.5 63.6 L311.3 64.5 L309.6 63.0 Z"/>
<path fill="#9bcce2" d="M316.5 63.5 L319.0 65.2 L318.3 65.6 L322.1 66.8 L319.6 63.7 L319.5 64.5 L316.9 62.8 Z"/>
<path fill="#92c5de" d="M323.8 63.3 L325.8 64.6 L325.1 65.1 L328.9 66.3 L326.4 63.1 L326.2 64.0 L324.3 62.7 Z"/>
<path fill="#9dcee3" d="M331.2 63.1 L333.8 65.0 L333.1 65.4 L336.9 66.6 L334.4 63.5 L334.3 64.3 L331.6 62.5 Z"/>
<path fill="#aad8e9" d="M338.6 63.0 L342.4 64.7 L341.7 65.2 L345.7 65.7 L342.7 63.1 L342.7 64.0 L338.9 62.3 Z"/>
<path fill="#b9e0ed" d="M345.9 62.8 L350.7 65.0 L350.1 65.6 L354.1 66.1 L351.0 63.5 L351.1 64.3 L346.2 62.1 Z"/>
<path fill="#b2ddeb" d="M353.3 62.7 L358.1 63.4 L357.6 64.1 L361.6 63.5 L358.0 61.8 L358.2 62.6 L353.5 61.9 Z"/>
<path fill="#c1e4ef" d="M360.7 62.5 L366.6 63.7 L366.1 64.4 L370.1 64.0 L366.5 62.1 L366.8 62.9 L360.8 61.7 Z"/>
<path fill="#cdeaf3" d="M368.0 62.3 L375.1 64.1 L374.5 64.8 L378.6 64.6 L375.1 62.5 L375.3 63.4 L368.2 61.6 Z"/>
<path fill="#fffebe" d="M375.3 62.1 L380.0 63.9 L379.4 64.5 L383.4 64.7 L380.2 62.3 L380.3 63.1 L375.5 61.4 Z"/>
<path fill="#d1ecf4" d="M382.7 62.0 L390.5 62.2 L390.1 63.0 L394.0 61.9 L390.2 60.7 L390.5 61.4 L382.8 61.2 Z"/>
<path fill="#e0f3f8" d="M390.1 61.8 L399.1 62.4 L398.6 63.1 L402.5 62.2 L398.8 60.8 L399.1 61.6 L390.1 61.1 Z"/>
<path fill="#e4f4f1" d="M397.5 61.6 L406.8 59.3 L406.6 60.1 L410.1 58.1 L406.1 57.9 L406.6 58.5 L397.3 60.9 Z"/>
<path fill="#e1f3f6" d="M404.9 61.5 L413.7 58.6 L413.5 59.4 L416.8 57.1 L412.8 57.2 L413.4 57.8 L404.6 60.7 Z"/>
<path fill="#c9e8f2" d="M412.3 61.2 L417.5 56.6 L417.8 57.4 L419.9 54.0 L416.2 55.7 L417.0 56.0 L411.8 60.6 Z"/>
<path fill="#4878b6" d="M104.1 76.1 L104.2 76.2 L103.9 76.3 L105.4 77.1 L104.5 75.6 L104.4 75.9 L104.3 75.8 Z"/>
<path fill="#4b7db8" d="M111.4 75.9 L111.5 76.0 L111.1 76.1 L112.7 77.1 L111.9 75.4 L111.8 75.8 L111.7 75.7 Z"/>
<path fill="#4f81ba" d="M118.7 75.8 L118.9 75.9 L118.5 76.0 L120.3 76.9 L119.3 75.2 L119.1 75.6 L119.0 75.5 Z"/>
<path fill="#5183bb" d="M126.1 75.6 L126.2 75.7 L125.8 75.9 L127.7 76.9 L126.6 75.0 L126.5 75.4 L126.3 75.3 Z"/>
<path fill="#4b7db8" d="M133.4 75.4 L133.5 75.5 L133.1 75.6 L134.7 76.6 L133.9 74.9 L133.8 75.3 L133.7 75.2 Z"/>
<path fill="#4f81ba" d="M140.7 75.2 L140.9 75.4 L140.5 75.5 L142.2 76.4 L141.3 74.7 L141.1 75.1 L141.0 75.0 Z"/>
<path fill="#5183bb" d="M148.0 75.1 L148.2 75.2 L147.7 75.3 L149.6 76.5 L148.7 74.5 L148.5 74.9 L148.4 74.8 Z"/>
<path fill="#4b7db8" d="M155.4 74.9 L155.5 75.0 L155.2 75.1 L156.8 76.0 L155.9 74.4 L155.8 74.7 L155.7 74.6 Z"/>
<path fill="#4f81ba" d="M162.7 74.7 L162.9 74.9 L162.4 75.0 L164.2 76.0 L163.3 74.2 L163.1 74.6 L163.0 74.4 Z"/>
<path fill="#5385bd" d="M170.1 74.6 L170.2 74.7 L169.8 74.9 L171.8 75.9 L170.6 73.9 L170.5 74.4 L170.3 74.2 Z"/>
<path fill="#588cc0" d="M177.4 74.4 L177.5 74.6 L177.0 74.8 L179.3 75.9 L178.1 73.7 L177.9 74.2 L177.7 74.1 Z"/>
<path fill="#5385bd" d="M184.7 74.2 L184.9 74.4 L184.4 74.5 L186.3 75.7 L185.3 73.6 L185.2 74.1 L185.0 73.9 Z"/>
<path fill="#5a8ec1" d="M192.0 74.1 L192.2 74.2 L191.7 74.4 L194.0 75.6 L192.7 73.4 L192.6 73.9 L192.4 73.7 Z"/>
<path fill="#6297c6" d="M199.3 73.9 L199.5 74.1 L198.9 74.3 L201.5 75.8 L200.1 73.1 L199.9 73.7 L199.7 73.5 Z"/>
<path fill="#679ec9" d="M206.7 73.8 L206.9 74.0 L206.2 74.3 L209.2 75.7 L207.5 72.8 L207.3 73.5 L207.1 73.3 Z"/>
<path fill="#6297c6" d="M214.0 73.6 L214.2 73.8 L213.6 74.0 L216.2 75.4 L214.8 72.8 L214.6 73.4 L214.4 73.2 Z"/>
<path fill="#69a0ca" d="M221.3 73.4 L221.5 73.7 L220.8 73.8 L223.7 75.6 L222.3 72.6 L222.0 73.2 L221.8 73.0 Z"/>
<path fill="#6ea6ce" d="M228.6 73.3 L228.9 73.6 L228.1 73.8 L231.5 75.6 L229.6 72.3 L229.4 73.0 L229.1 72.8 Z"/>
<path fill="#679ec9" d="M236.0 73.1 L236.2 73.3 L235.5 73.5 L238.4 75.2 L236.9 72.2 L236.7 72.9 L236.4 72.7 Z"/>
<path fill="#6ea6ce" d="M243.3 73.0 L243.6 73.2 L242.8 73.5 L246.2 75.1 L244.3 71.9 L244.1 72.7 L243.8 72.4 Z"/>
<path fill="#74add1" d="M250.6 72.8 L251.0 73.2 L250.2 73.4 L253.7 75.4 L251.8 71.8 L251.5 72.7 L251.2 72.3 Z"/>
<path fill="#7ab2d4" d="M257.9 72.6 L258.6 73.3 L257.7 73.6 L261.1 75.7 L259.5 72.1 L259.1 72.8 L258.5 72.1 Z"/>
<path fill="#70a9cf" d="M265.3 72.5 L265.6 72.7 L264.7 73.0 L268.3 74.9 L266.3 71.4 L266.1 72.2 L265.8 71.9 Z"/>
<path fill="#78b0d3" d="M272.6 72.3 L273.1 72.8 L272.3 73.1 L275.8 75.1 L274.0 71.5 L273.7 72.3 L273.2 71.7 Z"/>
<path fill="#7fb6d6" d="M280.0 72.1 L280.9 72.9 L280.1 73.3 L283.7 75.0 L281.6 71.5 L281.4 72.4 L280.5 71.6 Z"/>
<path fill="#87bdd9" d="M287.3 71.9 L288.5 73.1 L287.7 73.4 L291.2 75.3 L289.3 71.8 L289.0 72.6 L287.8 71.4 Z"/>
<path fill="#7ab2d4" d="M294.6 71.8 L295.3 72.5 L294.5 72.7 L297.9 74.8 L296.2 71.2 L295.9 72.0 L295.2 71.2 Z"/>
<path fill="#85bbd9" d="M302.0 71.6 L303.2 72.7 L302.4 73.0 L306.0 74.6 L303.9 71.3 L303.7 72.1 L302.5 71.0 Z"/>
<path fill="#92c5de" d="M309.3 71.4 L311.0 73.0 L310.2 73.3 L313.9 75.1 L311.8 71.6 L311.6 72.4 L309.8 70.9 Z"/>
<path fill="#87bdd9" d="M316.7 71.3 L318.1 72.3 L317.3 72.7 L321.2 74.0 L318.7 70.8 L318.5 71.7 L317.1 70.7 Z"/>
<path fill="#94c7df" d="M324.0 71.1 L326.1 72.6 L325.3 73.0 L329.1 74.3 L326.7 71.1 L326.5 72.0 L324.4 70.5 Z"/>
<path fill="#a1d1e5" d="M331.4 71.0 L334.5 72.6 L333.8 73.1 L337.7 73.8 L334.8 71.0 L334.8 71.9 L331.7 70.3 Z"/>
<path fill="#acdae9" d="M338.7 70.8 L342.7 72.7 L342.0 73.3 L346.0 73.9 L343.0 71.2 L343.0 72.0 L339.1 70.1 Z"/>
<path fill="#a6d5e7" d="M346.0 70.6 L349.5 72.5 L348.8 73.0 L352.8 73.8 L349.9 70.9 L349.9 71.8 L346.4 70.0 Z"/>
<path fill="#b4deec" d="M353.5 70.5 L358.4 71.6 L357.9 72.3 L361.9 71.9 L358.4 70.0 L358.6 70.8 L353.6 69.7 Z"/>
<path fill="#c3e5f0" d="M360.8 70.3 L366.9 72.0 L366.3 72.6 L370.3 72.5 L366.9 70.4 L367.1 71.2 L361.0 69.6 Z"/>
<path fill="#d1ecf4" d="M368.2 70.2 L375.9 70.2 L375.5 71.0 L379.4 69.9 L375.5 68.7 L375.9 69.5 L368.2 69.4 Z"/>
<path fill="#fffebe" d="M375.4 70.0 L380.2 71.5 L379.6 72.1 L383.6 72.2 L380.3 69.9 L380.5 70.8 L375.7 69.2 Z"/>
<path fill="#d8eff6" d="M382.8 69.8 L391.0 70.9 L390.5 71.6 L394.5 70.9 L390.8 69.3 L391.1 70.1 L382.9 69.1 Z"/>
<path fill="#e1f3f6" d="M390.3 69.6 L399.5 68.3 L399.2 69.1 L402.8 67.4 L398.9 66.8 L399.4 67.5 L390.2 68.9 Z"/>
<path fill="#e4f4f1" d="M397.6 69.5 L407.3 68.1 L407.0 68.9 L410.6 67.2 L406.7 66.6 L407.1 67.3 L397.5 68.7 Z"/>
<path fill="#cdeaf3" d="M405.1 69.3 L411.6 65.7 L411.6 66.6 L414.4 63.7 L410.5 64.5 L411.2 65.0 L404.7 68.6 Z"/>
<path fill="#cfebf3" d="M412.4 69.1 L418.8 65.1 L418.9 66.0 L421.6 63.0 L417.7 64.0 L418.4 64.5 L412.0 68.4 Z"/>
<path fill="#4d7fb9" d="M104.3 83.9 L104.4 84.1 L104.0 84.2 L105.7 85.1 L104.8 83.4 L104.7 83.8 L104.6 83.7 Z"/>
<path fill="#4878b6" d="M111.6 83.7 L111.7 83.9 L111.4 83.9 L112.8 84.8 L112.1 83.3 L112.0 83.6 L111.9 83.5 Z"/>
<path fill="#4a7ab7" d="M119.0 83.6 L119.1 83.7 L118.7 83.8 L120.3 84.7 L119.4 83.1 L119.3 83.5 L119.2 83.3 Z"/>
<path fill="#4d7fb9" d="M126.3 83.4 L126.4 83.6 L126.0 83.7 L127.7 84.7 L126.8 82.9 L126.7 83.3 L126.6 83.2 Z"/>
<path fill="#5183bb" d="M133.6 83.3 L133.8 83.4 L133.3 83.6 L135.2 84.5 L134.2 82.7 L134.0 83.1 L133.9 83.0 Z"/>
<path fill="#4a7ab7" d="M141.0 83.1 L141.1 83.2 L140.7 83.3 L142.3 84.2 L141.5 82.6 L141.3 83.0 L141.2 82.8 Z"/>
<path fill="#4d7fb9" d="M148.3 82.9 L148.4 83.0 L148.0 83.2 L149.8 84.0 L148.8 82.4 L148.7 82.8 L148.5 82.6 Z"/>
<path fill="#5183bb" d="M155.6 82.7 L155.7 82.9 L155.3 83.0 L157.2 84.1 L156.2 82.2 L156.0 82.6 L155.9 82.5 Z"/>
<path fill="#4b7db8" d="M162.9 82.5 L163.1 82.7 L162.7 82.8 L164.2 83.8 L163.5 82.1 L163.3 82.4 L163.2 82.3 Z"/>
<path fill="#5183bb" d="M170.3 82.4 L170.4 82.5 L170.0 82.7 L171.8 83.7 L170.8 81.8 L170.7 82.3 L170.6 82.1 Z"/>
<path fill="#578abf" d="M177.6 82.2 L177.7 82.4 L177.2 82.5 L179.3 83.8 L178.3 81.6 L178.1 82.1 L177.9 81.9 Z"/>
<path fill="#5c90c2" d="M184.9 82.1 L185.1 82.3 L184.5 82.5 L186.9 83.7 L185.6 81.4 L185.4 81.9 L185.3 81.7 Z"/>
<path fill="#578abf" d="M192.2 81.9 L192.4 82.1 L191.9 82.2 L194.0 83.4 L192.9 81.3 L192.7 81.8 L192.6 81.6 Z"/>
<path fill="#5e93c3" d="M199.6 81.8 L199.8 81.9 L199.2 82.1 L201.7 83.4 L200.3 81.0 L200.1 81.6 L199.9 81.4 Z"/>
<path fill="#679ec9" d="M206.8 81.6 L207.1 81.8 L206.4 82.0 L209.2 83.6 L207.7 80.8 L207.5 81.4 L207.3 81.2 Z"/>
<path fill="#6095c4" d="M214.2 81.4 L214.4 81.6 L213.9 81.8 L216.4 83.1 L215.0 80.6 L214.8 81.2 L214.6 81.0 Z"/>
<path fill="#679ec9" d="M221.5 81.3 L221.7 81.5 L221.1 81.7 L223.9 83.3 L222.4 80.4 L222.2 81.1 L222.0 80.8 Z"/>
<path fill="#6ea6ce" d="M228.8 81.1 L229.0 81.4 L228.2 81.6 L231.4 83.6 L229.9 80.2 L229.6 80.9 L229.3 80.6 Z"/>
<path fill="#74add1" d="M236.1 81.0 L236.6 81.4 L235.7 81.7 L239.3 83.6 L237.4 80.0 L237.1 80.9 L236.7 80.4 Z"/>
<path fill="#6da4cc" d="M243.5 80.8 L243.7 81.0 L242.9 81.2 L246.1 83.2 L244.5 79.8 L244.2 80.6 L244.0 80.3 Z"/>
<path fill="#74add1" d="M250.8 80.6 L251.2 81.0 L250.4 81.3 L254.0 83.2 L252.0 79.7 L251.7 80.5 L251.3 80.1 Z"/>
<path fill="#7ab2d4" d="M258.1 80.4 L258.8 81.2 L258.0 81.4 L261.4 83.5 L259.7 79.9 L259.4 80.7 L258.7 79.9 Z"/>
<path fill="#72abd0" d="M265.5 80.3 L265.8 80.6 L264.9 80.9 L268.6 82.7 L266.5 79.2 L266.3 80.0 L266.0 79.7 Z"/>
<path fill="#78b0d3" d="M272.8 80.1 L273.4 80.7 L272.5 81.0 L276.0 83.0 L274.2 79.4 L273.9 80.2 L273.3 79.6 Z"/>
<path fill="#7fb6d6" d="M280.1 80.0 L281.1 80.8 L280.3 81.1 L283.9 82.8 L281.8 79.4 L281.6 80.2 L280.6 79.4 Z"/>
<path fill="#87bdd9" d="M287.5 79.8 L288.7 81.0 L287.9 81.3 L291.5 83.2 L289.5 79.6 L289.3 80.5 L288.0 79.2 Z"/>
<path fill="#7db4d5" d="M294.8 79.6 L295.5 80.4 L294.7 80.6 L298.2 82.7 L296.4 79.1 L296.1 79.9 L295.3 79.1 Z"/>
<path fill="#87bdd9" d="M302.1 79.4 L303.5 80.6 L302.7 80.9 L306.3 82.6 L304.2 79.2 L304.0 80.0 L302.6 78.9 Z"/>
<path fill="#94c7df" d="M309.5 79.3 L311.3 81.0 L310.5 81.3 L314.1 83.0 L312.1 79.6 L311.8 80.4 L310.0 78.7 Z"/>
<path fill="#8abeda" d="M316.8 79.1 L318.4 80.2 L317.6 80.6 L321.4 81.9 L318.9 78.7 L318.8 79.6 L317.3 78.5 Z"/>
<path fill="#97c9e0" d="M324.2 78.9 L326.4 80.6 L325.6 81.0 L329.4 82.3 L327.0 79.1 L326.8 80.0 L324.6 78.3 Z"/>
<path fill="#a3d3e6" d="M331.5 78.8 L334.8 80.6 L334.1 81.1 L338.0 81.9 L335.2 79.0 L335.2 79.9 L331.9 78.1 Z"/>
<path fill="#aedbea" d="M338.9 78.6 L342.9 80.8 L342.2 81.3 L346.2 82.1 L343.3 79.3 L343.3 80.1 L339.2 78.0 Z"/>
<path fill="#a8d6e8" d="M346.3 78.5 L350.2 79.4 L349.7 80.1 L353.7 79.8 L350.2 77.8 L350.4 78.7 L346.5 77.7 Z"/>
<path fill="#b6dfec" d="M353.6 78.3 L358.6 79.7 L358.0 80.4 L362.0 80.3 L358.6 78.1 L358.8 79.0 L353.8 77.6 Z"/>
<path fill="#c3e5f0" d="M360.9 78.1 L367.0 80.2 L366.3 80.8 L370.4 81.0 L367.1 78.6 L367.2 79.5 L361.2 77.4 Z"/>
<path fill="#bde2ee" d="M368.3 78.0 L374.1 78.5 L373.7 79.2 L377.6 78.4 L373.9 76.9 L374.2 77.7 L368.4 77.2 Z"/>
<path fill="#cbe9f2" d="M375.7 77.8 L382.7 78.9 L382.2 79.6 L386.2 79.1 L382.6 77.4 L382.8 78.2 L375.8 77.1 Z"/>
<path fill="#daf0f6" d="M383.1 77.6 L391.5 77.0 L391.2 77.8 L394.9 76.3 L391.0 75.5 L391.5 76.2 L383.0 76.9 Z"/>
<path fill="#e4f4f1" d="M390.4 77.5 L400.0 77.3 L399.6 78.1 L403.4 76.9 L399.6 75.8 L400.0 76.5 L390.4 76.7 Z"/>
<path fill="#d1ecf4" d="M397.8 77.3 L405.1 74.9 L405.0 75.7 L408.3 73.4 L404.3 73.5 L404.9 74.1 L397.6 76.6 Z"/>
<path fill="#d1ecf4" d="M405.2 77.1 L412.4 74.3 L412.3 75.2 L415.4 72.7 L411.4 73.0 L412.1 73.6 L404.9 76.4 Z"/>
<path fill="#d4edf4" d="M412.6 76.9 L418.5 71.5 L418.7 72.4 L420.8 68.9 L417.1 70.7 L417.9 71.0 L412.1 76.3 Z"/>
<path fill="#4a7ab7" d="M104.5 91.8 L104.6 91.9 L104.3 92.0 L105.8 92.9 L105.0 91.3 L104.9 91.7 L104.8 91.5 Z"/>
<path fill="#4d7fb9" d="M111.9 91.6 L112.0 91.7 L111.6 91.9 L113.4 92.7 L112.3 91.1 L112.2 91.5 L112.1 91.3 Z"/>
<path fill="#4f81ba" d="M119.2 91.4 L119.3 91.6 L118.9 91.7 L120.7 92.7 L119.7 90.9 L119.6 91.3 L119.5 91.2 Z"/>
<path fill="#4a7ab7" d="M126.5 91.3 L126.7 91.4 L126.3 91.5 L127.9 92.2 L127.0 90.8 L126.9 91.1 L126.7 91.0 Z"/>
<path fill="#4b7db8" d="M133.8 91.1 L134.0 91.2 L133.6 91.3 L135.2 92.2 L134.4 90.6 L134.2 91.0 L134.1 90.8 Z"/>
<path fill="#4f81ba" d="M141.2 90.9 L141.3 91.1 L140.9 91.2 L142.6 92.3 L141.7 90.4 L141.6 90.8 L141.4 90.7 Z"/>
<path fill="#4a7ab7" d="M148.5 90.7 L148.6 90.9 L148.3 91.0 L149.8 91.8 L149.0 90.3 L148.9 90.6 L148.7 90.5 Z"/>
<path fill="#4d7fb9" d="M155.8 90.6 L155.9 90.7 L155.5 90.8 L157.2 91.9 L156.4 90.1 L156.2 90.5 L156.1 90.3 Z"/>
<path fill="#5385bd" d="M163.1 90.4 L163.3 90.6 L162.8 90.7 L164.8 91.8 L163.7 89.8 L163.6 90.3 L163.4 90.1 Z"/>
<path fill="#4d7fb9" d="M170.5 90.2 L170.6 90.4 L170.2 90.5 L171.8 91.5 L171.0 89.7 L170.9 90.1 L170.8 90.0 Z"/>
<path fill="#5385bd" d="M177.8 90.1 L178.0 90.2 L177.5 90.4 L179.5 91.4 L178.4 89.5 L178.3 89.9 L178.1 89.8 Z"/>
<path fill="#5a8ec1" d="M185.1 89.9 L185.3 90.1 L184.7 90.2 L186.9 91.6 L185.8 89.3 L185.6 89.8 L185.5 89.6 Z"/>
<path fill="#6297c6" d="M192.4 89.8 L192.6 90.0 L192.0 90.2 L194.6 91.5 L193.2 89.0 L193.0 89.6 L192.8 89.4 Z"/>
<path fill="#5c90c2" d="M199.8 89.6 L199.9 89.8 L199.4 89.9 L201.6 91.3 L200.5 88.9 L200.3 89.4 L200.1 89.2 Z"/>
<path fill="#6399c7" d="M207.1 89.4 L207.3 89.7 L206.7 89.9 L209.4 91.3 L207.9 88.6 L207.7 89.2 L207.5 89.0 Z"/>
<path fill="#6ba2cb" d="M214.4 89.3 L214.6 89.5 L213.9 89.8 L216.9 91.6 L215.4 88.4 L215.1 89.1 L214.9 88.8 Z"/>
<path fill="#679ec9" d="M221.7 89.1 L221.9 89.3 L221.3 89.6 L224.2 91.0 L222.6 88.2 L222.4 88.9 L222.1 88.7 Z"/>
<path fill="#6da4cc" d="M229.0 89.0 L229.2 89.2 L228.5 89.4 L231.7 91.3 L230.0 88.0 L229.8 88.7 L229.5 88.5 Z"/>
<path fill="#74add1" d="M236.3 88.8 L236.7 89.2 L235.9 89.5 L239.6 91.3 L237.5 87.8 L237.3 88.6 L236.9 88.3 Z"/>
<path fill="#6da4cc" d="M243.7 88.6 L243.9 88.9 L243.2 89.1 L246.4 90.9 L244.7 87.6 L244.4 88.4 L244.2 88.1 Z"/>
<path fill="#74add1" d="M251.0 88.5 L251.4 88.9 L250.6 89.2 L254.2 90.9 L252.2 87.5 L251.9 88.3 L251.5 87.9 Z"/>
<path fill="#7db4d5" d="M258.3 88.3 L259.0 89.1 L258.2 89.3 L261.7 91.3 L259.9 87.7 L259.6 88.5 L258.9 87.8 Z"/>
<path fill="#83b9d8" d="M265.7 88.1 L266.8 89.2 L266.0 89.5 L269.7 91.2 L267.5 87.8 L267.3 88.6 L266.2 87.6 Z"/>
<path fill="#78b0d3" d="M273.0 87.9 L273.6 88.6 L272.8 88.8 L276.3 90.8 L274.4 87.2 L274.1 88.0 L273.5 87.4 Z"/>
<path fill="#81b7d7" d="M280.3 87.8 L281.2 88.8 L280.3 89.0 L283.7 91.1 L282.1 87.4 L281.7 88.2 L280.9 87.3 Z"/>
<path fill="#8abeda" d="M287.6 87.6 L289.0 88.9 L288.1 89.2 L291.7 91.0 L289.7 87.5 L289.5 88.3 L288.2 87.1 Z"/>
<path fill="#7db4d5" d="M295.0 87.4 L295.7 88.3 L294.9 88.5 L298.4 90.5 L296.6 86.9 L296.3 87.7 L295.5 86.9 Z"/>
<path fill="#87bdd9" d="M302.3 87.3 L303.7 88.5 L302.9 88.8 L306.5 90.4 L304.4 87.0 L304.2 87.9 L302.8 86.7 Z"/>
<path fill="#94c7df" d="M309.6 87.1 L311.5 88.9 L310.7 89.2 L314.3 90.9 L312.3 87.5 L312.0 88.3 L310.2 86.5 Z"/>
<path fill="#8cc0db" d="M317.0 87.0 L318.6 88.1 L317.8 88.5 L321.6 89.9 L319.2 86.7 L319.0 87.5 L317.5 86.3 Z"/>
<path fill="#99cae1" d="M324.3 86.8 L326.6 88.5 L325.8 88.9 L329.6 90.4 L327.2 87.1 L327.1 87.9 L324.8 86.2 Z"/>
<path fill="#a6d5e7" d="M331.7 86.6 L335.1 88.6 L334.3 89.0 L338.2 89.9 L335.5 87.0 L335.4 87.9 L332.1 86.0 Z"/>
<path fill="#9dcee3" d="M339.0 86.5 L341.7 88.1 L341.0 88.6 L344.9 89.6 L342.2 86.6 L342.1 87.4 L339.4 85.8 Z"/>
<path fill="#a8d6e8" d="M346.4 86.3 L350.3 87.4 L349.7 88.1 L353.7 88.0 L350.4 85.9 L350.5 86.7 L346.7 85.6 Z"/>
<path fill="#b4deec" d="M353.7 86.1 L358.5 87.8 L357.9 88.4 L361.9 88.6 L358.6 86.2 L358.7 87.1 L354.0 85.4 Z"/>
<path fill="#c1e4ef" d="M361.2 86.0 L367.3 86.5 L366.9 87.2 L370.8 86.4 L367.1 84.9 L367.4 85.7 L361.2 85.2 Z"/>
<path fill="#bde2ee" d="M368.5 85.8 L374.1 86.7 L373.6 87.4 L377.5 86.8 L373.9 85.1 L374.2 85.9 L368.6 85.1 Z"/>
<path fill="#cbe9f2" d="M375.9 85.6 L382.9 85.1 L382.6 85.9 L386.3 84.5 L382.4 83.6 L382.9 84.4 L375.8 84.9 Z"/>
<path fill="#d8eff6" d="M383.2 85.5 L391.5 85.7 L391.1 86.5 L395.0 85.4 L391.2 84.1 L391.6 84.9 L383.2 84.7 Z"/>
<path fill="#cfebf3" d="M390.6 85.3 L397.9 83.9 L397.7 84.7 L401.2 82.8 L397.2 82.4 L397.7 83.1 L390.5 84.5 Z"/>
<path fill="#d6eef5" d="M397.9 85.1 L405.8 83.8 L405.6 84.7 L409.2 82.9 L405.2 82.4 L405.7 83.1 L397.8 84.4 Z"/>
<path fill="#d1ecf4" d="M405.3 84.9 L412.8 83.0 L412.6 83.8 L416.0 81.7 L412.0 81.6 L412.6 82.2 L405.1 84.2 Z"/>
<path fill="#bfe3ef" d="M412.8 84.7 L417.4 81.0 L417.6 81.9 L419.9 78.6 L416.2 80.1 L417.0 80.4 L412.3 84.1 Z"/>
<path fill="#4d7fb9" d="M104.7 99.6 L104.9 99.8 L104.5 99.9 L106.1 100.9 L105.3 99.1 L105.1 99.5 L105.0 99.4 Z"/>
<path fill="#4878b6" d="M112.1 99.5 L112.2 99.6 L111.9 99.7 L113.4 100.5 L112.5 99.0 L112.4 99.3 L112.3 99.2 Z"/>
<path fill="#4a7ab7" d="M119.4 99.3 L119.5 99.4 L119.1 99.5 L120.7 100.4 L119.9 98.8 L119.8 99.2 L119.7 99.0 Z"/>
<path fill="#4d7fb9" d="M126.7 99.1 L126.9 99.2 L126.5 99.4 L128.2 100.3 L127.2 98.6 L127.1 99.0 L127.0 98.9 Z"/>
<path fill="#4676b5" d="M134.1 98.9 L134.2 99.0 L133.8 99.1 L135.2 100.0 L134.5 98.5 L134.4 98.8 L134.3 98.7 Z"/>
<path fill="#4a7ab7" d="M141.4 98.8 L141.5 98.9 L141.2 99.0 L142.7 99.8 L141.9 98.3 L141.8 98.6 L141.6 98.5 Z"/>
<path fill="#4d7fb9" d="M148.7 98.6 L148.8 98.7 L148.4 98.8 L150.1 99.9 L149.3 98.1 L149.1 98.5 L149.0 98.3 Z"/>
<path fill="#4878b6" d="M156.1 98.4 L156.2 98.5 L155.8 98.6 L157.4 99.4 L156.5 97.9 L156.4 98.3 L156.3 98.2 Z"/>
<path fill="#4d7fb9" d="M163.4 98.2 L163.5 98.4 L163.1 98.5 L164.8 99.5 L163.9 97.7 L163.8 98.1 L163.6 98.0 Z"/>
<path fill="#5385bd" d="M170.7 98.1 L170.8 98.3 L170.4 98.4 L172.4 99.4 L171.3 97.5 L171.1 97.9 L171.0 97.8 Z"/>
<path fill="#4f81ba" d="M178.0 97.9 L178.1 98.0 L177.7 98.2 L179.5 99.2 L178.6 97.4 L178.4 97.8 L178.3 97.6 Z"/>
<path fill="#5588be" d="M185.3 97.8 L185.5 97.9 L185.0 98.1 L187.1 99.2 L186.0 97.1 L185.8 97.6 L185.6 97.4 Z"/>
<path fill="#5c90c2" d="M192.6 97.6 L192.8 97.8 L192.2 97.9 L194.6 99.3 L193.4 96.9 L193.2 97.4 L193.0 97.2 Z"/>
<path fill="#578abf" d="M200.0 97.4 L200.1 97.6 L199.7 97.8 L201.8 98.9 L200.6 96.7 L200.5 97.2 L200.3 97.1 Z"/>
<path fill="#6095c4" d="M207.3 97.3 L207.5 97.5 L206.9 97.6 L209.3 99.1 L208.1 96.5 L207.9 97.1 L207.7 96.9 Z"/>
<path fill="#69a0ca" d="M214.6 97.1 L214.8 97.4 L214.1 97.6 L217.2 99.2 L215.5 96.2 L215.3 96.9 L215.0 96.7 Z"/>
<path fill="#659bc8" d="M221.9 96.9 L222.1 97.1 L221.5 97.3 L224.1 98.9 L222.8 96.1 L222.5 96.7 L222.3 96.5 Z"/>
<path fill="#6da4cc" d="M229.2 96.8 L229.5 97.0 L228.7 97.3 L231.9 98.9 L230.2 95.8 L229.9 96.5 L229.7 96.3 Z"/>
<path fill="#72abd0" d="M236.5 96.6 L236.8 97.0 L236.0 97.2 L239.4 99.3 L237.7 95.7 L237.4 96.5 L237.1 96.1 Z"/>
<path fill="#7ab2d4" d="M243.8 96.5 L244.6 97.2 L243.7 97.5 L247.3 99.3 L245.4 95.8 L245.1 96.6 L244.4 95.9 Z"/>
<path fill="#74add1" d="M251.2 96.3 L251.5 96.7 L250.7 96.9 L254.1 99.0 L252.4 95.4 L252.1 96.2 L251.7 95.8 Z"/>
<path fill="#7db4d5" d="M258.5 96.1 L259.3 96.9 L258.5 97.2 L262.0 99.0 L260.1 95.5 L259.8 96.3 L259.0 95.6 Z"/>
<path fill="#85bbd9" d="M265.8 95.9 L266.9 97.1 L266.0 97.3 L269.5 99.4 L267.7 95.8 L267.4 96.6 L266.4 95.4 Z"/>
<path fill="#78b0d3" d="M273.2 95.8 L273.8 96.4 L273.0 96.7 L276.5 98.5 L274.6 95.0 L274.3 95.9 L273.7 95.2 Z"/>
<path fill="#81b7d7" d="M280.5 95.6 L281.4 96.6 L280.5 96.8 L284.0 98.9 L282.2 95.3 L281.9 96.1 L281.0 95.1 Z"/>
<path fill="#8abeda" d="M287.8 95.4 L289.1 96.7 L288.3 97.0 L291.9 98.8 L289.9 95.3 L289.7 96.1 L288.3 94.9 Z"/>
<path fill="#7db4d5" d="M295.1 95.3 L295.9 96.1 L295.1 96.3 L298.6 98.3 L296.8 94.7 L296.5 95.6 L295.7 94.7 Z"/>
<path fill="#87bdd9" d="M302.5 95.1 L303.8 96.3 L303.0 96.6 L306.7 98.3 L304.6 94.9 L304.3 95.7 L303.0 94.5 Z"/>
<path fill="#94c7df" d="M309.8 94.9 L311.7 96.7 L310.9 97.0 L314.4 98.9 L312.5 95.4 L312.2 96.2 L310.3 94.4 Z"/>
<path fill="#8cc0db" d="M317.2 94.8 L318.8 96.0 L318.0 96.4 L321.7 97.9 L319.4 94.6 L319.2 95.4 L317.6 94.2 Z"/>
<path fill="#99cae1" d="M324.5 94.6 L326.7 96.5 L326.0 96.8 L329.7 98.4 L327.4 95.0 L327.2 95.9 L325.0 94.0 Z"/>
<path fill="#a8d6e8" d="M331.8 94.5 L335.2 96.6 L334.4 97.0 L338.3 98.1 L335.7 95.1 L335.6 95.9 L332.3 93.8 Z"/>
<path fill="#9dcee3" d="M339.2 94.3 L341.7 96.1 L341.0 96.5 L344.8 97.8 L342.3 94.6 L342.2 95.5 L339.6 93.6 Z"/>
<path fill="#a3d3e6" d="M346.6 94.1 L350.1 95.4 L349.5 96.0 L353.5 96.3 L350.3 93.9 L350.4 94.7 L346.8 93.4 Z"/>
<path fill="#aedbea" d="M353.9 94.0 L358.1 95.7 L357.5 96.3 L361.5 96.7 L358.4 94.2 L358.4 95.0 L354.2 93.2 Z"/>
<path fill="#a8d6e8" d="M361.3 93.8 L365.2 94.4 L364.7 95.1 L368.7 94.5 L365.1 92.8 L365.3 93.6 L361.4 93.1 Z"/>
<path fill="#b4deec" d="M368.6 93.6 L373.5 94.8 L372.9 95.5 L377.0 95.2 L373.5 93.2 L373.7 94.1 L368.8 92.9 Z"/>
<path fill="#c1e4ef" d="M376.0 93.5 L382.2 93.6 L381.8 94.4 L385.7 93.3 L381.9 92.1 L382.2 92.8 L376.0 92.7 Z"/>
<path fill="#bbe1ed" d="M383.3 93.3 L388.7 94.0 L388.2 94.7 L392.2 94.1 L388.5 92.4 L388.8 93.2 L383.4 92.5 Z"/>
<path fill="#c5e6f0" d="M390.7 93.1 L397.3 92.6 L396.9 93.4 L400.7 91.9 L396.7 91.1 L397.2 91.8 L390.6 92.4 Z"/>
<path fill="#cdeaf3" d="M398.0 92.9 L405.2 92.6 L404.9 93.4 L408.7 92.0 L404.8 91.1 L405.2 91.8 L398.0 92.2 Z"/>
<path fill="#b9e0ed" d="M405.5 92.7 L410.4 90.5 L410.4 91.3 L413.4 88.7 L409.4 89.2 L410.1 89.8 L405.2 92.0 Z"/>
<path fill="#bfe3ef" d="M412.9 92.6 L417.9 89.7 L418.0 90.5 L420.8 87.6 L416.8 88.5 L417.6 89.0 L412.5 91.9 Z"/>
<path fill="#4676b5" d="M105.0 107.5 L105.1 107.6 L104.8 107.7 L106.1 108.5 L105.4 107.1 L105.3 107.4 L105.2 107.3 Z"/>
<path fill="#4a7ab7" d="M112.3 107.3 L112.4 107.4 L112.1 107.5 L113.6 108.4 L112.8 106.8 L112.7 107.2 L112.5 107.1 Z"/>
<path fill="#4574b3" d="M119.6 107.1 L119.7 107.2 L119.4 107.3 L120.7 108.1 L120.1 106.7 L119.9 107.0 L119.9 106.9 Z"/>
<path fill="#4676b5" d="M127.0 106.9 L127.1 107.1 L126.8 107.2 L128.1 107.9 L127.4 106.5 L127.3 106.8 L127.2 106.7 Z"/>
<path fill="#4a7ab7" d="M134.3 106.8 L134.4 106.9 L134.1 107.0 L135.6 107.8 L134.7 106.3 L134.6 106.6 L134.5 106.5 Z"/>
<path fill="#4574b3" d="M141.6 106.6 L141.7 106.7 L141.4 106.8 L142.7 107.5 L142.0 106.2 L141.9 106.5 L141.8 106.4 Z"/>
<path fill="#4878b6" d="M148.9 106.4 L149.1 106.5 L148.7 106.7 L150.3 107.4 L149.4 106.0 L149.3 106.3 L149.2 106.2 Z"/>
<path fill="#4d7fb9" d="M156.2 106.3 L156.4 106.4 L156.0 106.5 L157.6 107.5 L156.8 105.8 L156.6 106.1 L156.5 106.0 Z"/>
<path fill="#4878b6" d="M163.6 106.1 L163.7 106.2 L163.4 106.3 L164.9 107.1 L164.0 105.6 L163.9 106.0 L163.8 105.8 Z"/>
<path fill="#4f81ba" d="M170.9 105.9 L171.0 106.1 L170.6 106.2 L172.3 107.2 L171.5 105.4 L171.3 105.8 L171.2 105.7 Z"/>
<path fill="#5588be" d="M178.2 105.8 L178.4 105.9 L177.9 106.1 L180.0 107.1 L178.8 105.1 L178.7 105.6 L178.5 105.5 Z"/>
<path fill="#5183bb" d="M185.5 105.6 L185.7 105.7 L185.2 105.8 L187.1 106.9 L186.1 105.0 L186.0 105.5 L185.8 105.3 Z"/>
<path fill="#588cc0" d="M192.9 105.4 L193.0 105.6 L192.5 105.8 L194.7 106.9 L193.5 104.8 L193.3 105.3 L193.2 105.1 Z"/>
<path fill="#6095c4" d="M200.1 105.3 L200.3 105.5 L199.7 105.6 L202.2 107.1 L201.0 104.5 L200.7 105.1 L200.5 104.9 Z"/>
<path fill="#5c90c2" d="M207.5 105.1 L207.7 105.3 L207.1 105.5 L209.5 106.7 L208.2 104.4 L208.0 104.9 L207.8 104.7 Z"/>
<path fill="#659bc8" d="M214.8 104.9 L215.0 105.2 L214.3 105.3 L217.0 107.0 L215.7 104.1 L215.4 104.8 L215.2 104.5 Z"/>
<path fill="#6da4cc" d="M222.1 104.8 L222.3 105.1 L221.6 105.3 L224.9 107.1 L223.1 103.8 L222.8 104.6 L222.6 104.3 Z"/>
<path fill="#69a0ca" d="M229.4 104.6 L229.7 104.9 L229.0 105.1 L232.1 106.5 L230.3 103.7 L230.1 104.4 L229.9 104.2 Z"/>
<path fill="#70a9cf" d="M236.7 104.5 L237.0 104.7 L236.2 105.0 L239.6 106.9 L237.8 103.4 L237.5 104.2 L237.2 104.0 Z"/>
<path fill="#78b0d3" d="M244.0 104.3 L244.7 104.9 L243.9 105.2 L247.5 106.9 L245.4 103.5 L245.2 104.3 L244.6 103.8 Z"/>
<path fill="#72abd0" d="M251.3 104.1 L251.6 104.4 L250.8 104.7 L254.3 106.7 L252.5 103.1 L252.2 103.9 L251.9 103.6 Z"/>
<path fill="#7ab2d4" d="M258.7 104.0 L259.4 104.7 L258.6 105.0 L262.2 106.7 L260.2 103.3 L260.0 104.1 L259.2 103.4 Z"/>
<path fill="#83b9d8" d="M266.0 103.8 L267.0 104.9 L266.2 105.1 L269.7 107.2 L267.9 103.6 L267.6 104.4 L266.6 103.3 Z"/>
<path fill="#78b0d3" d="M273.3 103.6 L274.0 104.2 L273.1 104.5 L276.7 106.3 L274.7 102.8 L274.5 103.7 L273.9 103.1 Z"/>
<path fill="#81b7d7" d="M280.6 103.4 L281.5 104.4 L280.7 104.6 L284.2 106.7 L282.4 103.1 L282.1 103.9 L281.2 102.9 Z"/>
<path fill="#8abeda" d="M288.0 103.3 L289.3 104.5 L288.5 104.8 L292.1 106.6 L290.1 103.2 L289.9 104.0 L288.5 102.7 Z"/>
<path fill="#7db4d5" d="M295.3 103.1 L296.1 103.9 L295.3 104.2 L298.7 106.2 L296.9 102.6 L296.6 103.4 L295.9 102.6 Z"/>
<path fill="#87bdd9" d="M302.7 102.9 L304.0 104.1 L303.2 104.4 L306.8 106.2 L304.7 102.7 L304.5 103.6 L303.2 102.4 Z"/>
<path fill="#94c7df" d="M310.0 102.7 L311.8 104.6 L310.9 104.9 L314.5 106.8 L312.6 103.2 L312.3 104.1 L310.5 102.2 Z"/>
<path fill="#8cc0db" d="M317.3 102.6 L318.8 103.9 L318.0 104.2 L321.7 105.9 L319.5 102.5 L319.3 103.3 L317.8 102.0 Z"/>
<path fill="#99cae1" d="M324.6 102.4 L326.7 104.3 L325.9 104.6 L329.5 106.4 L327.5 102.9 L327.2 103.8 L325.2 101.8 Z"/>
<path fill="#a3d3e6" d="M332.0 102.3 L335.0 104.4 L334.2 104.8 L338.0 106.1 L335.6 102.9 L335.4 103.8 L332.4 101.6 Z"/>
<path fill="#97c9e0" d="M339.4 102.1 L341.8 103.4 L341.1 103.9 L345.1 104.6 L342.2 101.8 L342.2 102.7 L339.7 101.4 Z"/>
<path fill="#9fd0e4" d="M346.7 102.0 L349.8 103.3 L349.1 103.9 L353.1 104.4 L350.0 101.8 L350.1 102.6 L347.0 101.3 Z"/>
<path fill="#a8d6e8" d="M354.1 101.8 L358.0 102.7 L357.5 103.4 L361.5 103.1 L358.0 101.1 L358.2 102.0 L354.3 101.1 Z"/>
<path fill="#9dcee3" d="M361.4 101.6 L364.6 102.2 L364.0 102.9 L368.0 102.5 L364.5 100.7 L364.7 101.5 L361.6 100.9 Z"/>
<path fill="#a8d6e8" d="M368.8 101.5 L372.9 101.5 L372.5 102.3 L376.3 101.2 L372.5 100.0 L372.9 100.8 L368.9 100.7 Z"/>
<path fill="#b2ddeb" d="M376.1 101.3 L380.9 101.9 L380.4 102.6 L384.4 102.0 L380.7 100.4 L381.0 101.2 L376.2 100.5 Z"/>
<path fill="#aad8e9" d="M383.5 101.1 L387.7 100.8 L387.3 101.6 L391.1 100.2 L387.2 99.3 L387.6 100.0 L383.5 100.4 Z"/>
<path fill="#b6dfec" d="M390.8 100.9 L396.0 101.1 L395.6 101.9 L399.5 100.9 L395.7 99.6 L396.1 100.4 L390.8 100.2 Z"/>
<path fill="#c3e5f0" d="M398.2 100.8 L404.3 99.5 L404.1 100.3 L407.7 98.4 L403.6 98.1 L404.2 98.7 L398.1 100.0 Z"/>
<path fill="#b4deec" d="M405.6 100.6 L410.4 99.4 L410.2 100.3 L413.7 98.2 L409.7 98.0 L410.2 98.7 L405.4 99.8 Z"/>
<path fill="#bbe1ed" d="M413.0 100.4 L417.5 97.2 L417.7 98.1 L420.2 94.9 L416.3 96.2 L417.1 96.6 L412.6 99.7 Z"/>
<path fill="#4574b3" d="M105.2 115.3 L105.3 115.4 L105.0 115.5 L106.4 116.2 L105.6 114.9 L105.5 115.2 L105.4 115.1 Z"/>
<path fill="#436fb1" d="M112.6 115.1 L112.6 115.2 L112.4 115.3 L113.5 115.9 L112.9 114.8 L112.8 115.0 L112.7 114.9 Z"/>
<path fill="#4574b3" d="M119.9 115.0 L120.0 115.1 L119.7 115.2 L121.0 115.8 L120.3 114.5 L120.2 114.9 L120.1 114.8 Z"/>
<path fill="#426cb0" d="M127.2 114.8 L127.3 114.9 L127.0 114.9 L128.1 115.6 L127.6 114.4 L127.5 114.7 L127.4 114.6 Z"/>
<path fill="#4471b2" d="M134.5 114.6 L134.6 114.7 L134.3 114.8 L135.6 115.5 L134.9 114.2 L134.8 114.5 L134.7 114.4 Z"/>
<path fill="#4676b5" d="M141.8 114.4 L141.9 114.6 L141.6 114.6 L143.0 115.5 L142.3 114.0 L142.2 114.3 L142.1 114.2 Z"/>
<path fill="#4471b2" d="M149.2 114.3 L149.3 114.4 L149.0 114.4 L150.2 115.1 L149.6 113.9 L149.5 114.2 L149.4 114.1 Z"/>
<path fill="#4878b6" d="M156.5 114.1 L156.6 114.2 L156.3 114.3 L157.8 115.0 L156.9 113.6 L156.8 114.0 L156.7 113.9 Z"/>
<path fill="#4b7db8" d="M163.8 113.9 L163.9 114.1 L163.5 114.2 L165.2 115.1 L164.3 113.4 L164.2 113.8 L164.1 113.7 Z"/>
<path fill="#4878b6" d="M171.1 113.8 L171.3 113.9 L170.9 114.0 L172.5 114.7 L171.6 113.3 L171.5 113.6 L171.4 113.5 Z"/>
<path fill="#4f81ba" d="M178.4 113.6 L178.6 113.7 L178.1 113.9 L179.9 114.9 L179.0 113.1 L178.8 113.5 L178.7 113.3 Z"/>
<path fill="#5588be" d="M185.7 113.4 L185.9 113.6 L185.4 113.8 L187.5 114.8 L186.4 112.8 L186.2 113.3 L186.0 113.1 Z"/>
<path fill="#5183bb" d="M193.1 113.2 L193.2 113.4 L192.8 113.5 L194.6 114.6 L193.7 112.7 L193.5 113.1 L193.4 113.0 Z"/>
<path fill="#5a8ec1" d="M200.4 113.1 L200.5 113.3 L200.0 113.5 L202.3 114.6 L201.1 112.4 L200.9 112.9 L200.7 112.8 Z"/>
<path fill="#6399c7" d="M207.6 112.9 L207.8 113.2 L207.2 113.3 L209.8 114.9 L208.5 112.2 L208.3 112.8 L208.1 112.6 Z"/>
<path fill="#6095c4" d="M215.0 112.8 L215.2 113.0 L214.6 113.2 L217.1 114.5 L215.8 112.0 L215.6 112.6 L215.4 112.4 Z"/>
<path fill="#69a0ca" d="M222.3 112.6 L222.5 112.9 L221.9 113.1 L224.9 114.6 L223.2 111.7 L223.0 112.4 L222.7 112.2 Z"/>
<path fill="#6399c7" d="M229.6 112.4 L229.8 112.6 L229.2 112.8 L231.9 114.4 L230.5 111.6 L230.3 112.2 L230.1 112.0 Z"/>
<path fill="#6da4cc" d="M236.9 112.3 L237.2 112.6 L236.4 112.8 L239.7 114.4 L237.9 111.3 L237.7 112.0 L237.4 111.8 Z"/>
<path fill="#74add1" d="M244.2 112.1 L244.6 112.6 L243.8 112.8 L247.2 114.9 L245.5 111.3 L245.2 112.1 L244.8 111.6 Z"/>
<path fill="#6ea6ce" d="M251.6 112.0 L251.8 112.2 L251.0 112.5 L254.4 114.3 L252.6 110.9 L252.3 111.7 L252.1 111.4 Z"/>
<path fill="#78b0d3" d="M258.8 111.8 L259.4 112.4 L258.5 112.6 L261.9 114.8 L260.3 111.1 L259.9 111.9 L259.4 111.3 Z"/>
<path fill="#81b7d7" d="M266.2 111.6 L267.1 112.6 L266.3 112.9 L269.8 114.9 L268.0 111.3 L267.7 112.1 L266.7 111.1 Z"/>
<path fill="#76afd2" d="M273.5 111.5 L274.1 112.0 L273.3 112.3 L276.9 114.1 L274.9 110.6 L274.6 111.4 L274.1 110.9 Z"/>
<path fill="#81b7d7" d="M280.8 111.3 L281.7 112.2 L280.9 112.5 L284.3 114.5 L282.6 110.9 L282.3 111.7 L281.4 110.8 Z"/>
<path fill="#8abeda" d="M288.2 111.1 L289.5 112.4 L288.7 112.7 L292.3 114.5 L290.3 111.0 L290.0 111.8 L288.7 110.6 Z"/>
<path fill="#7fb6d6" d="M295.5 110.9 L296.3 111.8 L295.4 112.0 L298.9 114.1 L297.2 110.5 L296.8 111.3 L296.0 110.4 Z"/>
<path fill="#8abeda" d="M302.8 110.8 L304.1 112.0 L303.3 112.3 L306.9 114.2 L304.9 110.7 L304.7 111.5 L303.4 110.2 Z"/>
<path fill="#94c7df" d="M310.1 110.6 L311.8 112.5 L311.0 112.7 L314.4 114.8 L312.7 111.2 L312.4 112.0 L310.7 110.1 Z"/>
<path fill="#8cc0db" d="M317.5 110.4 L318.9 111.8 L318.1 112.1 L321.7 113.9 L319.7 110.4 L319.4 111.2 L318.0 109.9 Z"/>
<path fill="#97c9e0" d="M324.8 110.3 L326.9 111.9 L326.1 112.3 L329.9 113.8 L327.6 110.5 L327.4 111.3 L325.3 109.7 Z"/>
<path fill="#8abeda" d="M332.1 110.1 L333.6 111.3 L332.8 111.6 L336.5 113.2 L334.3 109.9 L334.1 110.7 L332.6 109.5 Z"/>
<path fill="#92c5de" d="M339.5 109.9 L341.5 111.2 L340.8 111.7 L344.7 112.8 L342.0 109.7 L341.9 110.6 L339.9 109.3 Z"/>
<path fill="#99cae1" d="M346.8 109.8 L349.3 111.2 L348.6 111.7 L352.5 112.6 L349.7 109.7 L349.7 110.6 L347.2 109.1 Z"/>
<path fill="#8abeda" d="M354.2 109.6 L356.0 110.2 L355.4 110.8 L359.4 110.9 L356.1 108.6 L356.2 109.5 L354.5 108.9 Z"/>
<path fill="#92c5de" d="M361.6 109.5 L363.9 110.1 L363.3 110.7 L367.3 110.6 L363.9 108.5 L364.1 109.3 L361.8 108.7 Z"/>
<path fill="#9bcce2" d="M368.9 109.3 L371.9 109.8 L371.4 110.5 L375.4 110.1 L371.8 108.3 L372.0 109.1 L369.1 108.5 Z"/>
<path fill="#8cc0db" d="M376.3 109.1 L378.3 109.5 L377.8 110.2 L381.8 109.8 L378.2 107.9 L378.4 108.8 L376.4 108.4 Z"/>
<path fill="#94c7df" d="M383.6 108.9 L386.1 109.0 L385.7 109.8 L389.6 108.8 L385.8 107.5 L386.2 108.3 L383.7 108.2 Z"/>
<path fill="#a3d3e6" d="M391.0 108.8 L394.8 108.5 L394.4 109.3 L398.2 107.8 L394.3 107.0 L394.7 107.7 L390.9 108.0 Z"/>
<path fill="#9fd0e4" d="M398.3 108.6 L401.7 108.5 L401.3 109.3 L405.2 108.1 L401.3 107.0 L401.7 107.8 L398.3 107.8 Z"/>
<path fill="#aedbea" d="M413.1 108.2 L417.2 106.3 L417.1 107.2 L420.1 104.5 L416.2 105.1 L416.8 105.6 L412.8 107.5 Z"/>
<path fill="#416aaf" d="M105.5 123.1 L105.6 123.2 L105.3 123.3 L106.3 123.8 L105.8 122.8 L105.7 123.1 L105.6 123.0 Z"/>
<path fill="#426cb0" d="M112.8 123.0 L112.9 123.0 L112.6 123.1 L113.7 123.7 L113.1 122.6 L113.0 122.9 L113.0 122.8 Z"/>
<path fill="#416aaf" d="M120.1 122.8 L120.2 122.9 L120.0 122.9 L120.9 123.4 L120.4 122.5 L120.3 122.7 L120.3 122.6 Z"/>
<path fill="#436fb1" d="M127.4 122.6 L127.5 122.7 L127.2 122.8 L128.3 123.5 L127.8 122.3 L127.7 122.5 L127.6 122.5 Z"/>
<path fill="#416aaf" d="M134.8 122.4 L134.8 122.5 L134.6 122.6 L135.6 123.1 L135.1 122.1 L135.0 122.4 L134.9 122.3 Z"/>
<path fill="#436fb1" d="M142.1 122.3 L142.2 122.4 L141.9 122.5 L143.1 123.0 L142.4 121.9 L142.3 122.2 L142.2 122.1 Z"/>
<path fill="#4574b3" d="M149.4 122.1 L149.5 122.2 L149.2 122.3 L150.5 123.1 L149.8 121.7 L149.7 122.0 L149.6 121.9 Z"/>
<path fill="#436fb1" d="M156.7 121.9 L156.8 122.0 L156.5 122.1 L157.7 122.7 L157.1 121.6 L157.0 121.8 L156.9 121.7 Z"/>
<path fill="#4676b5" d="M164.0 121.8 L164.1 121.9 L163.8 122.0 L165.1 122.8 L164.5 121.4 L164.3 121.7 L164.2 121.6 Z"/>
<path fill="#4b7db8" d="M171.3 121.6 L171.4 121.7 L171.1 121.8 L172.7 122.7 L171.8 121.1 L171.7 121.5 L171.6 121.4 Z"/>
<path fill="#4878b6" d="M178.7 121.4 L178.8 121.5 L178.4 121.7 L180.0 122.4 L179.1 120.9 L179.0 121.3 L178.9 121.2 Z"/>
<path fill="#4f81ba" d="M186.0 121.3 L186.1 121.4 L185.7 121.5 L187.4 122.5 L186.5 120.7 L186.4 121.1 L186.2 121.0 Z"/>
<path fill="#4b7db8" d="M193.3 121.1 L193.4 121.2 L193.1 121.3 L194.7 122.2 L193.8 120.6 L193.7 120.9 L193.5 120.8 Z"/>
<path fill="#5385bd" d="M200.6 120.9 L200.7 121.1 L200.3 121.2 L202.1 122.4 L201.2 120.4 L201.0 120.8 L200.9 120.6 Z"/>
<path fill="#5c90c2" d="M207.9 120.8 L208.1 121.0 L207.5 121.1 L209.8 122.4 L208.6 120.1 L208.4 120.6 L208.2 120.4 Z"/>
<path fill="#588cc0" d="M215.2 120.6 L215.4 120.8 L214.9 120.9 L217.1 122.0 L215.9 119.9 L215.7 120.4 L215.5 120.3 Z"/>
<path fill="#6297c6" d="M222.5 120.4 L222.7 120.6 L222.1 120.8 L224.6 122.3 L223.3 119.7 L223.1 120.3 L222.9 120.1 Z"/>
<path fill="#6ba2cb" d="M229.8 120.3 L230.0 120.6 L229.3 120.8 L232.5 122.4 L230.7 119.3 L230.5 120.1 L230.3 119.8 Z"/>
<path fill="#679ec9" d="M237.1 120.1 L237.3 120.3 L236.6 120.5 L239.4 122.3 L238.1 119.3 L237.8 119.9 L237.6 119.7 Z"/>
<path fill="#70a9cf" d="M244.4 120.0 L244.7 120.3 L243.9 120.5 L247.3 122.5 L245.5 118.9 L245.2 119.7 L245.0 119.5 Z"/>
<path fill="#6ba2cb" d="M251.8 119.8 L252.0 120.0 L251.3 120.3 L254.5 121.9 L252.7 118.8 L252.5 119.5 L252.2 119.3 Z"/>
<path fill="#74add1" d="M259.0 119.6 L259.4 120.1 L258.6 120.3 L262.0 122.4 L260.3 118.8 L260.0 119.6 L259.6 119.1 Z"/>
<path fill="#7fb6d6" d="M266.4 119.5 L267.2 120.3 L266.4 120.6 L269.9 122.5 L268.0 119.0 L267.8 119.8 L266.9 118.9 Z"/>
<path fill="#76afd2" d="M273.7 119.3 L274.1 119.8 L273.2 120.0 L276.6 122.2 L275.0 118.5 L274.7 119.3 L274.3 118.8 Z"/>
<path fill="#7fb6d6" d="M281.0 119.1 L281.8 120.0 L281.0 120.3 L284.4 122.3 L282.7 118.7 L282.4 119.5 L281.6 118.6 Z"/>
<path fill="#8abeda" d="M288.3 118.9 L289.6 120.2 L288.8 120.5 L292.4 122.4 L290.5 118.9 L290.2 119.7 L288.9 118.4 Z"/>
<path fill="#7fb6d6" d="M295.6 118.7 L296.4 119.7 L295.6 119.9 L299.0 122.0 L297.4 118.4 L297.0 119.2 L296.2 118.2 Z"/>
<path fill="#8abeda" d="M303.0 118.6 L304.3 119.9 L303.4 120.2 L307.0 122.2 L305.1 118.6 L304.8 119.4 L303.5 118.1 Z"/>
<path fill="#7fb6d6" d="M310.3 118.4 L311.1 119.3 L310.2 119.5 L313.6 121.8 L312.0 118.1 L311.7 118.9 L310.9 117.9 Z"/>
<path fill="#8abeda" d="M317.6 118.2 L318.9 119.6 L318.1 119.9 L321.6 121.9 L319.8 118.3 L319.5 119.1 L318.2 117.7 Z"/>
<path fill="#94c7df" d="M325.0 118.1 L326.8 119.8 L326.0 120.1 L329.6 121.9 L327.6 118.5 L327.4 119.3 L325.5 117.5 Z"/>
<path fill="#87bdd9" d="M332.3 117.9 L333.5 119.1 L332.6 119.4 L336.1 121.4 L334.3 117.8 L334.0 118.6 L332.8 117.4 Z"/>
<path fill="#90c3dd" d="M339.6 117.7 L341.3 119.2 L340.5 119.5 L344.2 121.1 L342.0 117.7 L341.8 118.6 L340.1 117.1 Z"/>
<path fill="#94c7df" d="M346.9 117.6 L348.9 119.2 L348.1 119.5 L351.8 121.1 L349.6 117.8 L349.4 118.6 L347.4 117.0 Z"/>
<path fill="#83b9d8" d="M354.3 117.4 L355.6 118.2 L354.9 118.6 L358.8 119.6 L356.0 116.6 L356.0 117.5 L354.7 116.8 Z"/>
<path fill="#87bdd9" d="M361.7 117.3 L363.3 118.0 L362.7 118.6 L366.6 119.1 L363.6 116.4 L363.6 117.3 L362.0 116.6 Z"/>
<path fill="#8ec2dc" d="M369.0 117.1 L371.0 118.0 L370.3 118.5 L374.3 119.0 L371.2 116.4 L371.3 117.3 L369.3 116.4 Z"/>
<path fill="#7fb6d6" d="M376.4 116.9 L377.6 117.2 L377.1 117.9 L381.1 117.6 L377.6 115.6 L377.8 116.5 L376.6 116.2 Z"/>
<path fill="#85bbd9" d="M383.7 116.8 L385.4 117.0 L384.9 117.7 L388.9 117.3 L385.3 115.5 L385.5 116.3 L383.9 116.0 Z"/>
<circle cx="105.8" cy="130.9" r="0.45" fill="#3e60aa"/>
<path fill="#3f62ab" d="M113.0 130.8 L113.1 130.9 L112.9 130.9 L113.6 131.4 L113.3 130.6 L113.2 130.7 L113.2 130.7 Z"/>
<path fill="#4167ad" d="M120.3 130.6 L120.4 130.7 L120.2 130.8 L121.1 131.3 L120.6 130.3 L120.6 130.6 L120.5 130.5 Z"/>
<path fill="#4065ac" d="M127.7 130.4 L127.7 130.5 L127.5 130.6 L128.4 131.0 L127.9 130.2 L127.9 130.4 L127.8 130.3 Z"/>
<path fill="#416aaf" d="M135.0 130.3 L135.0 130.4 L134.8 130.4 L135.8 131.0 L135.3 130.0 L135.2 130.2 L135.1 130.1 Z"/>
<path fill="#4167ad" d="M142.3 130.1 L142.4 130.2 L142.2 130.2 L143.1 130.7 L142.6 129.8 L142.5 130.0 L142.4 130.0 Z"/>
<path fill="#426cb0" d="M149.6 129.9 L149.7 130.0 L149.5 130.1 L150.6 130.6 L149.9 129.6 L149.9 129.8 L149.8 129.8 Z"/>
<path fill="#4471b2" d="M156.9 129.8 L157.0 129.9 L156.7 130.0 L157.9 130.7 L157.3 129.4 L157.2 129.7 L157.1 129.6 Z"/>
<path fill="#436fb1" d="M164.3 129.6 L164.3 129.7 L164.1 129.8 L165.2 130.4 L164.6 129.2 L164.5 129.5 L164.4 129.4 Z"/>
<path fill="#4574b3" d="M171.6 129.4 L171.7 129.5 L171.4 129.7 L172.8 130.3 L171.9 129.0 L171.9 129.3 L171.8 129.2 Z"/>
<path fill="#4471b2" d="M178.9 129.2 L179.0 129.3 L178.7 129.4 L179.9 130.1 L179.3 128.9 L179.2 129.2 L179.1 129.1 Z"/>
<path fill="#4878b6" d="M186.2 129.1 L186.3 129.2 L186.0 129.3 L187.5 130.1 L186.6 128.6 L186.5 129.0 L186.4 128.9 Z"/>
<path fill="#4d7fb9" d="M193.5 128.9 L193.6 129.1 L193.2 129.2 L194.9 130.2 L194.0 128.4 L193.9 128.8 L193.8 128.7 Z"/>
<path fill="#4b7db8" d="M200.8 128.7 L200.9 128.9 L200.6 129.0 L202.2 129.9 L201.3 128.2 L201.2 128.6 L201.1 128.5 Z"/>
<path fill="#5385bd" d="M208.1 128.6 L208.3 128.7 L207.8 128.9 L209.9 129.9 L208.7 128.0 L208.6 128.4 L208.4 128.3 Z"/>
<path fill="#5c90c2" d="M215.4 128.4 L215.6 128.6 L215.0 128.8 L217.3 130.2 L216.2 127.7 L215.9 128.3 L215.8 128.1 Z"/>
<path fill="#5a8ec1" d="M222.7 128.3 L222.9 128.4 L222.4 128.6 L224.7 129.8 L223.4 127.6 L223.2 128.1 L223.1 127.9 Z"/>
<path fill="#659bc8" d="M230.0 128.1 L230.2 128.3 L229.6 128.6 L232.4 129.9 L230.8 127.2 L230.6 127.9 L230.4 127.7 Z"/>
<path fill="#6297c6" d="M237.3 127.9 L237.5 128.1 L236.9 128.3 L239.5 129.8 L238.2 127.2 L237.9 127.8 L237.8 127.5 Z"/>
<path fill="#6ba2cb" d="M244.6 127.8 L244.9 128.0 L244.1 128.3 L247.3 130.0 L245.6 126.8 L245.4 127.6 L245.1 127.3 Z"/>
<path fill="#76afd2" d="M251.9 127.6 L252.3 128.1 L251.5 128.3 L254.8 130.6 L253.3 126.9 L252.9 127.7 L252.5 127.1 Z"/>
<path fill="#72abd0" d="M259.2 127.5 L259.5 127.8 L258.7 128.0 L262.1 130.1 L260.4 126.4 L260.1 127.2 L259.8 127.0 Z"/>
<path fill="#7db4d5" d="M266.6 127.3 L267.3 128.0 L266.5 128.3 L270.0 130.2 L268.1 126.7 L267.8 127.5 L267.1 126.8 Z"/>
<path fill="#74add1" d="M273.8 127.1 L274.2 127.5 L273.4 127.7 L276.7 130.0 L275.2 126.3 L274.8 127.1 L274.4 126.6 Z"/>
<path fill="#7fb6d6" d="M281.2 126.9 L282.0 127.8 L281.1 128.0 L284.5 130.2 L282.9 126.5 L282.5 127.3 L281.8 126.4 Z"/>
<path fill="#87bdd9" d="M288.5 126.8 L289.8 128.1 L289.0 128.3 L292.5 130.3 L290.6 126.7 L290.3 127.5 L289.1 126.2 Z"/>
<path fill="#7fb6d6" d="M295.8 126.6 L296.6 127.5 L295.7 127.7 L299.1 129.9 L297.5 126.2 L297.2 127.0 L296.4 126.1 Z"/>
<path fill="#8abeda" d="M303.1 126.4 L304.4 127.8 L303.6 128.0 L307.0 130.1 L305.3 126.5 L305.0 127.3 L303.7 125.9 Z"/>
<path fill="#7fb6d6" d="M310.4 126.2 L311.2 127.2 L310.3 127.3 L313.6 129.8 L312.2 126.0 L311.8 126.7 L311.1 125.7 Z"/>
<path fill="#8abeda" d="M317.8 126.0 L319.0 127.5 L318.1 127.7 L321.5 129.9 L319.9 126.2 L319.6 127.0 L318.4 125.6 Z"/>
<path fill="#94c7df" d="M325.1 125.9 L326.8 127.8 L326.0 128.0 L329.4 130.1 L327.7 126.4 L327.4 127.2 L325.7 125.4 Z"/>
<path fill="#87bdd9" d="M332.4 125.7 L333.4 127.0 L332.6 127.2 L335.8 129.6 L334.4 125.8 L334.0 126.6 L333.0 125.2 Z"/>
<path fill="#8ec2dc" d="M339.7 125.5 L341.2 127.2 L340.3 127.4 L343.7 129.6 L342.1 125.9 L341.7 126.7 L340.3 125.0 Z"/>
<path fill="#7db4d5" d="M347.1 125.4 L347.9 126.1 L347.1 126.4 L350.8 128.1 L348.6 124.7 L348.4 125.5 L347.6 124.8 Z"/>
<path fill="#81b7d7" d="M354.4 125.2 L355.4 126.1 L354.6 126.4 L358.2 128.1 L356.1 124.7 L355.9 125.5 L354.9 124.6 Z"/>
<path fill="#83b9d8" d="M361.8 125.1 L363.0 125.9 L362.3 126.3 L366.1 127.6 L363.6 124.4 L363.4 125.3 L362.2 124.4 Z"/>
<path fill="#74add1" d="M369.1 124.9 L369.5 125.2 L368.8 125.6 L372.6 126.8 L370.1 123.7 L370.0 124.5 L369.5 124.2 Z"/>
<path fill="#76afd2" d="M376.5 124.7 L377.1 125.0 L376.5 125.6 L380.5 125.9 L377.3 123.4 L377.4 124.3 L376.8 124.0 Z"/>
<path fill="#4d7fb9" d="M413.4 123.6 L413.5 123.5 L413.7 123.9 L414.4 122.0 L412.8 123.2 L413.2 123.2 L413.1 123.4 Z"/>
<circle cx="106.0" cy="138.8" r="0.45" fill="#3e60aa"/>
<circle cx="113.3" cy="138.6" r="0.45" fill="#3d5ba7"/>
<path fill="#3e60aa" d="M120.6 138.5 L120.6 138.5 L120.5 138.6 L121.2 139.0 L120.8 138.3 L120.7 138.4 L120.7 138.4 Z"/>
<path fill="#4065ac" d="M127.9 138.3 L128.0 138.4 L127.8 138.4 L128.6 138.9 L128.2 138.0 L128.1 138.2 L128.0 138.2 Z"/>
<path fill="#3f62ab" d="M135.2 138.1 L135.3 138.2 L135.1 138.2 L135.9 138.6 L135.4 137.9 L135.4 138.0 L135.3 138.0 Z"/>
<path fill="#4167ad" d="M142.5 137.9 L142.6 138.0 L142.4 138.1 L143.3 138.6 L142.8 137.7 L142.7 137.9 L142.7 137.8 Z"/>
<path fill="#4065ac" d="M149.8 137.8 L149.9 137.8 L149.7 137.9 L150.6 138.3 L150.1 137.5 L150.0 137.7 L150.0 137.6 Z"/>
<path fill="#416aaf" d="M157.2 137.6 L157.2 137.7 L157.0 137.8 L158.0 138.2 L157.4 137.3 L157.4 137.5 L157.3 137.4 Z"/>
<path fill="#436fb1" d="M164.5 137.4 L164.5 137.5 L164.3 137.6 L165.4 138.3 L164.8 137.1 L164.7 137.4 L164.6 137.3 Z"/>
<path fill="#426cb0" d="M171.8 137.3 L171.9 137.3 L171.6 137.4 L172.7 138.0 L172.1 136.9 L172.0 137.2 L172.0 137.1 Z"/>
<path fill="#4574b3" d="M179.1 137.1 L179.2 137.2 L178.9 137.3 L180.2 137.9 L179.5 136.7 L179.4 137.0 L179.3 136.9 Z"/>
<path fill="#436fb1" d="M186.4 136.9 L186.5 137.0 L186.2 137.1 L187.4 137.8 L186.8 136.5 L186.7 136.8 L186.6 136.7 Z"/>
<path fill="#4878b6" d="M193.7 136.7 L193.8 136.9 L193.5 137.0 L194.9 137.7 L194.2 136.3 L194.0 136.6 L193.9 136.5 Z"/>
<path fill="#4574b3" d="M201.0 136.6 L201.2 136.7 L200.9 136.8 L202.2 137.4 L201.4 136.1 L201.4 136.4 L201.2 136.4 Z"/>
<path fill="#4b7db8" d="M208.3 136.4 L208.5 136.5 L208.1 136.6 L209.7 137.6 L208.9 135.9 L208.7 136.3 L208.6 136.2 Z"/>
<path fill="#5588be" d="M215.6 136.3 L215.8 136.4 L215.3 136.6 L217.3 137.6 L216.2 135.6 L216.1 136.1 L215.9 136.0 Z"/>
<path fill="#5183bb" d="M223.0 136.1 L223.1 136.2 L222.7 136.4 L224.6 137.3 L223.5 135.5 L223.4 135.9 L223.2 135.8 Z"/>
<path fill="#5c90c2" d="M230.2 135.9 L230.4 136.1 L229.8 136.3 L232.2 137.7 L231.0 135.2 L230.8 135.8 L230.6 135.6 Z"/>
<path fill="#5a8ec1" d="M237.6 135.7 L237.7 135.9 L237.2 136.1 L239.5 137.4 L238.3 135.1 L238.1 135.6 L237.9 135.4 Z"/>
<path fill="#679ec9" d="M244.8 135.6 L245.1 135.8 L244.4 136.1 L247.3 137.6 L245.7 134.7 L245.5 135.4 L245.3 135.2 Z"/>
<path fill="#70a9cf" d="M252.1 135.5 L252.3 135.8 L251.5 136.0 L254.8 138.1 L253.3 134.5 L252.9 135.3 L252.7 135.0 Z"/>
<path fill="#6ea6ce" d="M259.4 135.3 L259.7 135.6 L258.9 135.8 L262.1 137.7 L260.5 134.3 L260.2 135.1 L260.0 134.8 Z"/>
<path fill="#78b0d3" d="M266.7 135.1 L267.3 135.7 L266.5 136.0 L270.0 137.9 L268.2 134.4 L267.9 135.2 L267.3 134.6 Z"/>
<path fill="#72abd0" d="M274.0 134.9 L274.3 135.3 L273.5 135.5 L276.8 137.8 L275.3 134.0 L274.9 134.8 L274.6 134.5 Z"/>
<path fill="#7db4d5" d="M281.4 134.8 L282.1 135.6 L281.3 135.8 L284.7 138.0 L283.0 134.3 L282.7 135.1 L281.9 134.3 Z"/>
<path fill="#87bdd9" d="M288.7 134.6 L289.7 136.0 L288.8 136.2 L292.0 138.6 L290.7 134.8 L290.3 135.6 L289.3 134.1 Z"/>
<path fill="#7fb6d6" d="M296.0 134.4 L296.7 135.4 L295.9 135.5 L299.2 137.9 L297.7 134.1 L297.3 134.9 L296.6 133.9 Z"/>
<path fill="#8abeda" d="M303.3 134.2 L304.5 135.7 L303.7 135.9 L307.0 138.1 L305.5 134.4 L305.1 135.2 L303.9 133.7 Z"/>
<path fill="#7fb6d6" d="M310.6 134.0 L311.3 135.1 L310.5 135.2 L313.6 137.7 L312.4 133.9 L311.9 134.6 L311.2 133.6 Z"/>
<path fill="#8abeda" d="M317.9 133.9 L319.0 135.4 L318.2 135.5 L321.4 138.0 L320.1 134.2 L319.7 134.9 L318.6 133.4 Z"/>
<path fill="#94c7df" d="M325.3 133.7 L326.8 135.6 L326.0 135.8 L329.3 138.1 L327.8 134.4 L327.4 135.2 L325.9 133.2 Z"/>
<path fill="#85bbd9" d="M332.6 133.5 L333.5 134.9 L332.6 135.0 L335.7 137.6 L334.5 133.7 L334.1 134.5 L333.2 133.1 Z"/>
<path fill="#8cc0db" d="M339.9 133.3 L341.1 135.0 L340.3 135.1 L343.5 137.5 L342.1 133.7 L341.7 134.5 L340.5 132.9 Z"/>
<path fill="#7ab2d4" d="M347.2 133.2 L347.9 133.9 L347.1 134.2 L350.5 136.3 L348.8 132.6 L348.5 133.4 L347.8 132.7 Z"/>
<path fill="#7fb6d6" d="M354.5 133.0 L355.3 133.9 L354.5 134.1 L357.8 136.3 L356.2 132.6 L355.9 133.4 L355.1 132.5 Z"/>
<path fill="#7fb6d6" d="M361.9 132.9 L362.8 133.7 L362.0 134.0 L365.6 135.7 L363.5 132.3 L363.3 133.1 L362.4 132.3 Z"/>
<path fill="#6ea6ce" d="M369.3 132.7 L369.6 132.9 L368.9 133.3 L372.6 134.4 L370.1 131.5 L370.0 132.3 L369.7 132.1 Z"/>
<path fill="#5385bd" d="M413.6 131.4 L413.7 131.2 L413.9 131.6 L414.4 129.5 L412.8 131.0 L413.3 131.0 L413.2 131.2 Z"/>
<circle cx="106.2" cy="146.6" r="0.45" fill="#3d5ba7"/>
<circle cx="113.5" cy="146.4" r="0.45" fill="#3e5ea8"/>
<circle cx="120.9" cy="146.3" r="0.45" fill="#3d5ba7"/>
<circle cx="128.2" cy="146.1" r="0.45" fill="#3e5ea8"/>
<path fill="#3f62ab" d="M135.4 146.0 L135.5 146.0 L135.3 146.1 L136.1 146.5 L135.7 145.7 L135.6 145.9 L135.6 145.8 Z"/>
<path fill="#3e60aa" d="M142.8 145.8 L142.8 145.8 L142.7 145.9 L143.4 146.2 L143.0 145.5 L142.9 145.7 L142.9 145.7 Z"/>
<path fill="#4065ac" d="M150.1 145.6 L150.1 145.7 L149.9 145.7 L150.7 146.2 L150.3 145.4 L150.3 145.6 L150.2 145.5 Z"/>
<path fill="#3f62ab" d="M157.4 145.4 L157.4 145.5 L157.3 145.5 L158.0 146.0 L157.6 145.2 L157.6 145.4 L157.5 145.3 Z"/>
<path fill="#4167ad" d="M164.7 145.3 L164.8 145.3 L164.6 145.4 L165.5 145.9 L165.0 145.0 L164.9 145.2 L164.8 145.1 Z"/>
<path fill="#4065ac" d="M172.0 145.1 L172.1 145.1 L171.9 145.2 L172.7 145.7 L172.3 144.8 L172.2 145.0 L172.1 145.0 Z"/>
<path fill="#416aaf" d="M179.3 144.9 L179.4 145.0 L179.2 145.1 L180.2 145.6 L179.6 144.6 L179.5 144.8 L179.5 144.8 Z"/>
<path fill="#4471b2" d="M186.6 144.8 L186.7 144.8 L186.4 144.9 L187.7 145.6 L187.0 144.4 L186.9 144.7 L186.8 144.6 Z"/>
<path fill="#436fb1" d="M193.9 144.6 L194.0 144.7 L193.7 144.7 L194.9 145.4 L194.3 144.2 L194.2 144.5 L194.1 144.4 Z"/>
<path fill="#4676b5" d="M201.2 144.4 L201.3 144.5 L201.0 144.6 L202.4 145.4 L201.7 144.0 L201.6 144.3 L201.5 144.2 Z"/>
<path fill="#4574b3" d="M208.6 144.2 L208.7 144.3 L208.4 144.4 L209.7 145.1 L209.0 143.8 L208.9 144.1 L208.8 144.0 Z"/>
<path fill="#4b7db8" d="M215.9 144.1 L216.0 144.2 L215.6 144.3 L217.3 145.1 L216.3 143.5 L216.2 143.9 L216.1 143.8 Z"/>
<path fill="#4a7ab7" d="M223.2 143.9 L223.3 144.0 L222.9 144.1 L224.5 145.1 L223.7 143.4 L223.5 143.8 L223.4 143.7 Z"/>
<path fill="#5588be" d="M230.5 143.7 L230.6 143.9 L230.1 144.1 L232.1 145.2 L231.1 143.1 L230.9 143.6 L230.8 143.4 Z"/>
<path fill="#6297c6" d="M237.7 143.6 L237.9 143.8 L237.3 144.0 L239.9 145.4 L238.5 142.8 L238.3 143.4 L238.1 143.2 Z"/>
<path fill="#6297c6" d="M245.0 143.4 L245.2 143.6 L244.6 143.8 L247.0 145.4 L245.9 142.7 L245.6 143.3 L245.5 143.1 Z"/>
<path fill="#6da4cc" d="M252.3 143.3 L252.5 143.6 L251.8 143.7 L254.8 145.7 L253.4 142.4 L253.1 143.1 L252.8 142.8 Z"/>
<path fill="#6ba2cb" d="M259.6 143.1 L259.9 143.4 L259.1 143.6 L262.2 145.4 L260.6 142.2 L260.4 142.9 L260.1 142.7 Z"/>
<path fill="#76afd2" d="M266.9 142.9 L267.3 143.5 L266.4 143.6 L269.6 146.0 L268.3 142.2 L267.9 143.0 L267.5 142.5 Z"/>
<path fill="#70a9cf" d="M274.2 142.8 L274.4 143.1 L273.6 143.2 L276.9 145.5 L275.4 141.8 L275.0 142.6 L274.8 142.3 Z"/>
<path fill="#7db4d5" d="M281.5 142.6 L282.2 143.4 L281.4 143.6 L284.8 145.8 L283.2 142.1 L282.8 142.9 L282.1 142.1 Z"/>
<path fill="#87bdd9" d="M288.8 142.4 L289.8 143.9 L289.0 144.0 L292.1 146.5 L290.9 142.7 L290.5 143.4 L289.5 142.0 Z"/>
<path fill="#7fb6d6" d="M296.2 142.2 L296.9 143.2 L296.1 143.4 L299.3 145.8 L297.9 142.0 L297.5 142.8 L296.8 141.8 Z"/>
<path fill="#8cc0db" d="M303.5 142.1 L304.7 143.6 L303.8 143.8 L307.1 146.1 L305.7 142.3 L305.3 143.1 L304.1 141.6 Z"/>
<path fill="#81b7d7" d="M310.8 141.8 L311.5 143.0 L310.6 143.0 L313.6 145.7 L312.6 141.8 L312.1 142.5 L311.4 141.4 Z"/>
<path fill="#8abeda" d="M318.1 141.7 L319.2 143.3 L318.3 143.4 L321.4 145.9 L320.2 142.1 L319.8 142.8 L318.7 141.2 Z"/>
<path fill="#7db4d5" d="M325.4 141.5 L326.1 142.4 L325.2 142.6 L328.4 145.0 L327.1 141.2 L326.7 142.0 L326.0 141.1 Z"/>
<path fill="#85bbd9" d="M332.7 141.3 L333.7 142.6 L332.9 142.8 L336.2 145.1 L334.7 141.4 L334.3 142.1 L333.3 140.9 Z"/>
<path fill="#8abeda" d="M340.0 141.1 L341.1 142.8 L340.2 142.9 L343.3 145.5 L342.2 141.6 L341.7 142.3 L340.7 140.7 Z"/>
<path fill="#7ab2d4" d="M347.4 141.0 L347.9 141.7 L347.1 141.9 L350.3 144.2 L348.9 140.5 L348.5 141.3 L348.0 140.5 Z"/>
<path fill="#7ab2d4" d="M354.7 140.8 L355.4 141.6 L354.6 141.8 L358.1 143.8 L356.3 140.2 L356.0 141.1 L355.3 140.3 Z"/>
<path fill="#6da4cc" d="M362.1 140.6 L362.3 140.9 L361.5 141.1 L364.7 143.0 L363.1 139.7 L362.8 140.4 L362.6 140.2 Z"/>
<path fill="#5a8ec1" d="M413.7 139.3 L413.9 139.1 L414.1 139.6 L415.0 137.2 L412.9 138.7 L413.5 138.8 L413.3 139.0 Z"/>
<circle cx="106.5" cy="154.5" r="0.45" fill="#3d5ba7"/>
<circle cx="113.8" cy="154.3" r="0.45" fill="#3c59a6"/>
<circle cx="121.1" cy="154.1" r="0.45" fill="#3d5ba7"/>
<circle cx="128.4" cy="153.9" r="0.45" fill="#3c59a6"/>
<circle cx="135.7" cy="153.7" r="0.45" fill="#3e5ea8"/>
<circle cx="143.0" cy="153.6" r="0.45" fill="#3d5ba7"/>
<circle cx="150.3" cy="153.4" r="0.45" fill="#3e5ea8"/>
<path fill="#3f62ab" d="M157.6 153.3 L157.7 153.3 L157.5 153.4 L158.2 153.8 L157.8 153.0 L157.8 153.2 L157.7 153.2 Z"/>
<circle cx="165.0" cy="153.0" r="0.45" fill="#3e60aa"/>
<path fill="#4065ac" d="M172.2 152.9 L172.3 153.0 L172.1 153.1 L172.9 153.5 L172.5 152.7 L172.4 152.9 L172.3 152.8 Z"/>
<path fill="#3f62ab" d="M179.5 152.7 L179.6 152.8 L179.4 152.9 L180.2 153.2 L179.8 152.5 L179.7 152.7 L179.7 152.6 Z"/>
<path fill="#4167ad" d="M186.8 152.6 L186.9 152.6 L186.7 152.7 L187.6 153.2 L187.1 152.3 L187.1 152.5 L187.0 152.4 Z"/>
<path fill="#4167ad" d="M194.2 152.4 L194.2 152.5 L194.0 152.5 L194.9 153.0 L194.4 152.1 L194.4 152.3 L194.3 152.3 Z"/>
<path fill="#426cb0" d="M201.5 152.2 L201.6 152.3 L201.3 152.4 L202.4 153.0 L201.8 151.9 L201.7 152.1 L201.6 152.1 Z"/>
<path fill="#426cb0" d="M208.8 152.0 L208.8 152.1 L208.6 152.2 L209.6 152.8 L209.1 151.7 L209.0 152.0 L208.9 151.9 Z"/>
<path fill="#4574b3" d="M216.1 151.9 L216.2 152.0 L215.9 152.1 L217.1 152.8 L216.5 151.5 L216.4 151.8 L216.3 151.7 Z"/>
<path fill="#4b7db8" d="M223.4 151.7 L223.5 151.9 L223.1 152.0 L224.7 152.9 L223.9 151.2 L223.7 151.6 L223.6 151.5 Z"/>
<path fill="#4d7fb9" d="M230.7 151.6 L230.8 151.7 L230.4 151.8 L232.1 152.7 L231.2 151.0 L231.1 151.4 L230.9 151.3 Z"/>
<path fill="#588cc0" d="M237.9 151.4 L238.1 151.6 L237.6 151.7 L239.6 153.1 L238.7 150.8 L238.5 151.3 L238.3 151.1 Z"/>
<path fill="#5a8ec1" d="M245.2 151.2 L245.4 151.4 L244.9 151.5 L247.0 153.0 L246.0 150.6 L245.8 151.1 L245.6 150.9 Z"/>
<path fill="#679ec9" d="M252.5 151.1 L252.7 151.3 L252.0 151.5 L254.8 153.3 L253.5 150.3 L253.2 150.9 L253.0 150.7 Z"/>
<path fill="#679ec9" d="M259.8 150.9 L260.0 151.2 L259.3 151.3 L261.8 153.3 L260.8 150.2 L260.5 150.8 L260.3 150.5 Z"/>
<path fill="#72abd0" d="M267.1 150.8 L267.3 151.1 L266.5 151.3 L269.7 153.7 L268.4 149.9 L268.0 150.7 L267.7 150.3 Z"/>
<path fill="#81b7d7" d="M274.4 150.6 L275.2 151.6 L274.4 151.8 L277.6 154.1 L276.2 150.4 L275.8 151.2 L275.0 150.1 Z"/>
<path fill="#7db4d5" d="M281.7 150.4 L282.4 151.2 L281.5 151.4 L284.9 153.6 L283.3 149.9 L283.0 150.7 L282.3 149.9 Z"/>
<path fill="#8abeda" d="M289.0 150.2 L290.0 151.7 L289.2 151.8 L292.3 154.4 L291.1 150.6 L290.7 151.3 L289.6 149.8 Z"/>
<path fill="#81b7d7" d="M296.3 150.0 L297.1 151.1 L296.2 151.3 L299.4 153.7 L298.1 149.9 L297.7 150.7 L297.0 149.6 Z"/>
<path fill="#8cc0db" d="M303.6 149.9 L304.9 151.5 L304.0 151.6 L307.2 154.0 L305.9 150.3 L305.5 151.0 L304.3 149.4 Z"/>
<path fill="#81b7d7" d="M311.0 149.7 L311.8 150.8 L311.0 151.0 L314.3 153.3 L312.8 149.5 L312.4 150.3 L311.6 149.2 Z"/>
<path fill="#8cc0db" d="M318.3 149.5 L319.3 151.2 L318.4 151.2 L321.4 153.9 L320.4 150.0 L319.9 150.8 L318.9 149.1 Z"/>
<path fill="#7fb6d6" d="M325.6 149.3 L326.2 150.3 L325.4 150.4 L328.4 153.0 L327.3 149.1 L326.9 149.9 L326.2 148.9 Z"/>
<path fill="#85bbd9" d="M332.9 149.2 L333.8 150.5 L333.0 150.6 L336.1 153.1 L334.9 149.3 L334.4 150.0 L333.5 148.7 Z"/>
<path fill="#8abeda" d="M340.2 148.9 L341.1 150.6 L340.3 150.6 L343.2 153.4 L342.3 149.5 L341.8 150.2 L340.9 148.6 Z"/>
<path fill="#78b0d3" d="M347.5 148.8 L348.0 149.5 L347.1 149.6 L350.2 152.2 L349.1 148.4 L348.6 149.1 L348.2 148.4 Z"/>
<path fill="#78b0d3" d="M354.9 148.6 L355.4 149.3 L354.6 149.5 L357.9 151.8 L356.4 148.1 L356.0 148.9 L355.5 148.2 Z"/>
<path fill="#6ba2cb" d="M362.2 148.5 L362.5 148.7 L361.8 148.9 L364.9 150.5 L363.2 147.5 L362.9 148.2 L362.7 148.0 Z"/>
<path fill="#6da4cc" d="M414.0 147.2 L414.2 146.9 L414.5 147.6 L415.8 144.1 L412.8 146.4 L413.6 146.5 L413.4 146.8 Z"/>
<circle cx="106.7" cy="162.3" r="0.45" fill="#3b56a5"/>
<circle cx="114.0" cy="162.1" r="0.45" fill="#3c59a6"/>
<circle cx="121.3" cy="162.0" r="0.45" fill="#3b56a5"/>
<circle cx="128.6" cy="161.8" r="0.45" fill="#3c59a6"/>
<circle cx="135.9" cy="161.6" r="0.45" fill="#3c59a6"/>
<circle cx="143.2" cy="161.4" r="0.45" fill="#3d5ba7"/>
<circle cx="150.6" cy="161.2" r="0.45" fill="#3c59a6"/>
<circle cx="157.9" cy="161.1" r="0.45" fill="#3d5ba7"/>
<circle cx="165.2" cy="160.9" r="0.45" fill="#3c59a6"/>
<circle cx="172.5" cy="160.7" r="0.45" fill="#3e5ea8"/>
<circle cx="179.8" cy="160.5" r="0.45" fill="#3d5ba7"/>
<circle cx="187.1" cy="160.3" r="0.45" fill="#3e60aa"/>
<path fill="#4065ac" d="M194.4 160.2 L194.4 160.3 L194.2 160.4 L195.1 160.9 L194.6 160.0 L194.6 160.2 L194.5 160.1 Z"/>
<path fill="#4065ac" d="M201.7 160.0 L201.7 160.1 L201.5 160.2 L202.4 160.7 L201.9 159.8 L201.9 160.0 L201.8 159.9 Z"/>
<path fill="#426cb0" d="M209.0 159.9 L209.1 160.0 L208.8 160.0 L209.8 160.6 L209.3 159.6 L209.2 159.8 L209.1 159.7 Z"/>
<path fill="#416aaf" d="M216.3 159.7 L216.4 159.8 L216.1 159.9 L217.2 160.4 L216.6 159.4 L216.5 159.6 L216.4 159.5 Z"/>
<path fill="#4574b3" d="M223.6 159.5 L223.7 159.6 L223.4 159.7 L224.5 160.5 L224.0 159.2 L223.9 159.5 L223.8 159.4 Z"/>
<path fill="#4574b3" d="M230.9 159.4 L231.0 159.5 L230.7 159.5 L231.9 160.4 L231.3 159.0 L231.2 159.3 L231.1 159.2 Z"/>
<path fill="#5183bb" d="M238.2 159.2 L238.3 159.4 L237.8 159.5 L239.6 160.6 L238.8 158.7 L238.6 159.1 L238.5 159.0 Z"/>
<path fill="#5385bd" d="M245.5 159.1 L245.6 159.2 L245.1 159.3 L247.0 160.5 L246.1 158.5 L245.9 158.9 L245.8 158.8 Z"/>
<path fill="#6399c7" d="M252.7 158.9 L252.9 159.1 L252.3 159.3 L254.8 160.9 L253.6 158.2 L253.3 158.8 L253.2 158.5 Z"/>
<path fill="#6399c7" d="M260.0 158.7 L260.2 159.0 L259.5 159.1 L261.9 160.9 L261.0 158.1 L260.7 158.6 L260.5 158.4 Z"/>
<path fill="#70a9cf" d="M267.3 158.6 L267.5 158.9 L266.7 159.0 L269.8 161.4 L268.5 157.7 L268.1 158.5 L267.9 158.2 Z"/>
<path fill="#7fb6d6" d="M274.6 158.4 L275.3 159.4 L274.5 159.5 L277.7 161.9 L276.3 158.1 L275.9 158.9 L275.2 158.0 Z"/>
<path fill="#7ab2d4" d="M281.9 158.3 L282.5 159.0 L281.7 159.2 L285.0 161.5 L283.5 157.8 L283.1 158.5 L282.5 157.8 Z"/>
<path fill="#8abeda" d="M289.2 158.1 L290.2 159.6 L289.4 159.7 L292.4 162.3 L291.3 158.4 L290.9 159.2 L289.8 157.6 Z"/>
<path fill="#81b7d7" d="M296.5 157.9 L297.3 159.0 L296.4 159.1 L299.6 161.6 L298.3 157.8 L297.9 158.6 L297.1 157.4 Z"/>
<path fill="#8ec2dc" d="M303.8 157.7 L305.0 159.4 L304.2 159.5 L307.4 162.0 L306.1 158.2 L305.7 158.9 L304.4 157.3 Z"/>
<path fill="#83b9d8" d="M311.1 157.5 L312.0 158.7 L311.2 158.8 L314.4 161.2 L313.0 157.4 L312.6 158.2 L311.7 157.1 Z"/>
<path fill="#8cc0db" d="M318.4 157.3 L319.4 159.0 L318.6 159.1 L321.5 161.8 L320.6 157.9 L320.1 158.7 L319.1 156.9 Z"/>
<path fill="#7fb6d6" d="M325.7 157.1 L326.4 158.2 L325.5 158.3 L328.5 160.9 L327.5 157.1 L327.0 157.8 L326.4 156.7 Z"/>
<path fill="#85bbd9" d="M333.1 157.0 L333.9 158.3 L333.1 158.4 L336.2 161.0 L335.0 157.2 L334.6 157.9 L333.7 156.6 Z"/>
<path fill="#76afd2" d="M340.4 156.8 L340.8 157.4 L339.9 157.5 L343.1 160.0 L341.8 156.2 L341.4 156.9 L341.0 156.4 Z"/>
<path fill="#78b0d3" d="M347.7 156.6 L348.1 157.3 L347.2 157.4 L350.1 160.2 L349.2 156.2 L348.8 156.9 L348.3 156.2 Z"/>
<path fill="#78b0d3" d="M355.0 156.4 L355.4 157.1 L354.6 157.2 L357.7 159.7 L356.5 155.9 L356.1 156.7 L355.6 156.0 Z"/>
<path fill="#69a0ca" d="M362.4 156.3 L362.6 156.5 L361.9 156.7 L364.8 158.4 L363.3 155.4 L363.1 156.1 L362.9 155.8 Z"/>
<path fill="#70a9cf" d="M414.1 155.0 L414.4 154.7 L414.7 155.5 L416.1 151.7 L412.9 154.1 L413.7 154.3 L413.5 154.6 Z"/>
<circle cx="106.9" cy="170.2" r="0.45" fill="#3b56a5"/>
<circle cx="114.2" cy="170.0" r="0.45" fill="#3a54a4"/>
<circle cx="121.5" cy="169.8" r="0.45" fill="#3b56a5"/>
<circle cx="128.8" cy="169.6" r="0.45" fill="#3b56a5"/>
<circle cx="136.1" cy="169.4" r="0.45" fill="#3c59a6"/>
<circle cx="143.5" cy="169.3" r="0.45" fill="#3b56a5"/>
<circle cx="150.8" cy="169.1" r="0.45" fill="#3c59a6"/>
<circle cx="158.1" cy="168.9" r="0.45" fill="#3b56a5"/>
<circle cx="165.4" cy="168.7" r="0.45" fill="#3c59a6"/>
<circle cx="172.7" cy="168.5" r="0.45" fill="#3b56a5"/>
<circle cx="180.0" cy="168.4" r="0.45" fill="#3c59a6"/>
<circle cx="187.3" cy="168.2" r="0.45" fill="#3c59a6"/>
<circle cx="194.6" cy="168.0" r="0.45" fill="#3e5ea8"/>
<circle cx="201.9" cy="167.8" r="0.45" fill="#3e5ea8"/>
<path fill="#3f62ab" d="M209.2 167.7 L209.3 167.8 L209.1 167.8 L209.9 168.2 L209.4 167.5 L209.4 167.6 L209.3 167.6 Z"/>
<path fill="#3f62ab" d="M216.5 167.5 L216.6 167.6 L216.4 167.6 L217.1 168.1 L216.8 167.3 L216.7 167.5 L216.6 167.4 Z"/>
<path fill="#4167ad" d="M223.8 167.4 L223.9 167.4 L223.6 167.5 L224.5 168.1 L224.1 167.1 L224.0 167.3 L224.0 167.2 Z"/>
<path fill="#416aaf" d="M231.1 167.2 L231.2 167.3 L230.9 167.3 L231.9 167.9 L231.4 166.9 L231.3 167.1 L231.3 167.0 Z"/>
<path fill="#4a7ab7" d="M238.4 167.0 L238.5 167.2 L238.1 167.3 L239.6 168.2 L238.9 166.6 L238.7 166.9 L238.6 166.8 Z"/>
<path fill="#4d7fb9" d="M245.7 166.9 L245.8 167.0 L245.3 167.1 L246.8 168.3 L246.3 166.4 L246.1 166.8 L246.0 166.6 Z"/>
<path fill="#5e93c3" d="M252.9 166.7 L253.1 166.9 L252.5 167.0 L254.6 168.7 L253.8 166.1 L253.5 166.6 L253.3 166.4 Z"/>
<path fill="#6da4cc" d="M260.1 166.6 L260.3 166.9 L259.6 167.0 L262.4 169.2 L261.3 165.8 L260.9 166.5 L260.7 166.2 Z"/>
<path fill="#6da4cc" d="M267.5 166.4 L267.7 166.7 L266.9 166.8 L269.9 169.1 L268.6 165.6 L268.2 166.3 L268.0 166.0 Z"/>
<path fill="#7db4d5" d="M274.8 166.3 L275.4 167.1 L274.6 167.3 L277.8 169.6 L276.4 165.8 L276.0 166.6 L275.4 165.8 Z"/>
<path fill="#7ab2d4" d="M282.0 166.1 L282.5 166.9 L281.7 167.0 L284.7 169.6 L283.7 165.7 L283.2 166.5 L282.7 165.6 Z"/>
<path fill="#8abeda" d="M289.4 165.9 L290.4 167.5 L289.6 167.6 L292.7 170.2 L291.5 166.3 L291.1 167.1 L290.0 165.5 Z"/>
<path fill="#83b9d8" d="M296.7 165.7 L297.5 166.9 L296.6 167.0 L299.8 169.5 L298.5 165.7 L298.1 166.4 L297.3 165.3 Z"/>
<path fill="#8ec2dc" d="M304.0 165.5 L305.2 167.2 L304.4 167.4 L307.6 169.8 L306.3 166.0 L305.9 166.8 L304.6 165.1 Z"/>
<path fill="#83b9d8" d="M311.3 165.4 L312.2 166.5 L311.3 166.7 L314.6 169.0 L313.2 165.3 L312.8 166.1 L311.9 164.9 Z"/>
<path fill="#8cc0db" d="M318.6 165.1 L319.6 166.9 L318.8 167.0 L321.7 169.7 L320.8 165.8 L320.3 166.5 L319.3 164.8 Z"/>
<path fill="#81b7d7" d="M325.9 165.0 L326.6 166.1 L325.7 166.2 L328.7 168.9 L327.7 165.0 L327.2 165.7 L326.6 164.6 Z"/>
<path fill="#87bdd9" d="M333.2 164.8 L334.1 166.2 L333.3 166.3 L336.3 169.0 L335.2 165.1 L334.8 165.8 L333.9 164.4 Z"/>
<path fill="#76afd2" d="M340.5 164.6 L340.9 165.2 L340.1 165.4 L343.2 167.9 L342.0 164.1 L341.6 164.8 L341.2 164.2 Z"/>
<path fill="#78b0d3" d="M347.8 164.4 L348.2 165.2 L347.3 165.2 L350.1 168.1 L349.4 164.1 L348.9 164.8 L348.5 164.1 Z"/>
<path fill="#69a0ca" d="M355.2 164.2 L355.4 164.5 L354.6 164.6 L357.2 166.9 L356.3 163.5 L355.9 164.2 L355.8 163.9 Z"/>
<path fill="#6ea6ce" d="M414.3 162.8 L414.4 162.4 L415.0 163.1 L415.4 159.2 L412.9 162.2 L413.8 162.1 L413.6 162.5 Z"/>
<circle cx="107.1" cy="178.0" r="0.45" fill="#3a54a4"/>
<circle cx="114.4" cy="177.8" r="0.45" fill="#3a54a4"/>
<circle cx="121.7" cy="177.7" r="0.45" fill="#3a54a4"/>
<circle cx="129.1" cy="177.5" r="0.45" fill="#3a54a4"/>
<circle cx="136.4" cy="177.3" r="0.45" fill="#3a54a4"/>
<circle cx="143.7" cy="177.1" r="0.45" fill="#3a54a4"/>
<circle cx="151.0" cy="176.9" r="0.45" fill="#3b56a5"/>
<circle cx="158.3" cy="176.8" r="0.45" fill="#3a54a4"/>
<circle cx="165.6" cy="176.6" r="0.45" fill="#3b56a5"/>
<circle cx="172.9" cy="176.4" r="0.45" fill="#3c59a6"/>
<circle cx="180.2" cy="176.2" r="0.45" fill="#3b56a5"/>
<circle cx="187.5" cy="176.0" r="0.45" fill="#3d5ba7"/>
<circle cx="194.8" cy="175.8" r="0.45" fill="#3d5ba7"/>
<circle cx="202.1" cy="175.7" r="0.45" fill="#3e5ea8"/>
<circle cx="209.5" cy="175.5" r="0.45" fill="#3e5ea8"/>
<path fill="#3f62ab" d="M216.7 175.4 L216.8 175.4 L216.6 175.5 L217.3 176.0 L217.0 175.1 L216.9 175.3 L216.8 175.3 Z"/>
<path fill="#3f62ab" d="M224.0 175.2 L224.1 175.2 L223.9 175.3 L224.6 175.8 L224.3 175.0 L224.2 175.1 L224.1 175.1 Z"/>
<path fill="#426cb0" d="M231.3 175.0 L231.4 175.1 L231.1 175.2 L232.2 175.8 L231.6 174.7 L231.5 175.0 L231.5 174.9 Z"/>
<path fill="#4574b3" d="M238.6 174.8 L238.7 175.0 L238.3 175.0 L239.5 176.0 L239.1 174.5 L238.9 174.8 L238.8 174.7 Z"/>
<path fill="#5385bd" d="M245.8 174.7 L245.9 174.9 L245.5 174.9 L247.2 176.4 L246.5 174.2 L246.3 174.6 L246.2 174.5 Z"/>
<path fill="#588cc0" d="M253.1 174.5 L253.2 174.7 L252.7 174.8 L254.7 176.4 L253.9 174.0 L253.6 174.5 L253.5 174.3 Z"/>
<path fill="#69a0ca" d="M260.4 174.4 L260.5 174.7 L259.8 174.8 L262.5 176.8 L261.4 173.7 L261.1 174.3 L260.9 174.0 Z"/>
<path fill="#6ba2cb" d="M267.7 174.2 L267.9 174.5 L267.1 174.7 L269.9 176.7 L268.7 173.4 L268.4 174.1 L268.2 173.8 Z"/>
<path fill="#78b0d3" d="M274.9 174.1 L275.3 174.8 L274.5 174.8 L277.4 177.5 L276.5 173.6 L276.0 174.4 L275.6 173.7 Z"/>
<path fill="#78b0d3" d="M282.2 173.9 L282.6 174.6 L281.8 174.7 L284.8 177.3 L283.7 173.4 L283.3 174.2 L282.9 173.5 Z"/>
<path fill="#87bdd9" d="M289.5 173.7 L290.5 175.2 L289.7 175.3 L292.8 177.9 L291.6 174.0 L291.2 174.8 L290.2 173.3 Z"/>
<path fill="#81b7d7" d="M296.8 173.5 L297.6 174.6 L296.8 174.8 L300.0 177.2 L298.7 173.4 L298.3 174.2 L297.5 173.1 Z"/>
<path fill="#8cc0db" d="M304.2 173.4 L305.4 175.0 L304.5 175.2 L307.8 177.6 L306.4 173.8 L306.0 174.6 L304.8 172.9 Z"/>
<path fill="#83b9d8" d="M311.5 173.2 L312.4 174.3 L311.5 174.5 L314.8 176.8 L313.4 173.1 L313.0 173.9 L312.1 172.7 Z"/>
<path fill="#8ec2dc" d="M318.8 173.0 L319.9 174.8 L319.0 174.8 L322.0 177.5 L321.0 173.6 L320.5 174.4 L319.4 172.6 Z"/>
<path fill="#81b7d7" d="M326.1 172.8 L326.8 174.0 L325.9 174.1 L329.0 176.7 L327.9 172.8 L327.5 173.6 L326.7 172.4 Z"/>
<path fill="#87bdd9" d="M333.4 172.6 L334.4 174.1 L333.5 174.2 L336.6 176.8 L335.4 173.0 L335.0 173.7 L334.0 172.2 Z"/>
<path fill="#78b0d3" d="M340.7 172.5 L341.2 173.1 L340.3 173.3 L343.5 175.8 L342.2 171.9 L341.8 172.7 L341.3 172.0 Z"/>
<path fill="#78b0d3" d="M348.0 172.3 L348.5 173.0 L347.7 173.1 L350.9 175.5 L349.5 171.8 L349.2 172.5 L348.6 171.8 Z"/>
<path fill="#69a0ca" d="M355.4 172.1 L355.5 172.3 L354.8 172.4 L357.4 174.7 L356.5 171.3 L356.1 172.0 L355.9 171.7 Z"/>
<path fill="#6399c7" d="M414.4 170.5 L414.5 170.2 L414.9 170.7 L414.9 167.7 L413.3 170.2 L413.9 170.1 L413.8 170.4 Z"/>
<circle cx="107.4" cy="185.9" r="0.45" fill="#3a54a4"/>
<circle cx="114.7" cy="185.7" r="0.45" fill="#3a54a4"/>
<circle cx="122.0" cy="185.5" r="0.45" fill="#3a51a2"/>
<circle cx="129.3" cy="185.3" r="0.45" fill="#3a54a4"/>
<circle cx="136.6" cy="185.1" r="0.45" fill="#3a54a4"/>
<circle cx="143.9" cy="185.0" r="0.45" fill="#3a54a4"/>
<circle cx="151.2" cy="184.8" r="0.45" fill="#3a54a4"/>
<circle cx="158.5" cy="184.6" r="0.45" fill="#3a54a4"/>
<circle cx="165.8" cy="184.4" r="0.45" fill="#3a54a4"/>
<circle cx="173.1" cy="184.2" r="0.45" fill="#3b56a5"/>
<circle cx="180.4" cy="184.1" r="0.45" fill="#3a54a4"/>
<circle cx="187.7" cy="183.9" r="0.45" fill="#3c59a6"/>
<circle cx="195.0" cy="183.7" r="0.45" fill="#3b56a5"/>
<circle cx="202.3" cy="183.5" r="0.45" fill="#3d5ba7"/>
<circle cx="209.7" cy="183.3" r="0.45" fill="#3d5ba7"/>
<path fill="#3e60aa" d="M216.9 183.2 L217.0 183.3 L216.8 183.3 L217.5 183.7 L217.1 183.0 L217.1 183.2 L217.0 183.1 Z"/>
<path fill="#3f62ab" d="M224.2 183.0 L224.3 183.1 L224.1 183.1 L224.7 183.6 L224.5 182.8 L224.4 183.0 L224.3 182.9 Z"/>
<path fill="#426cb0" d="M231.5 182.9 L231.5 182.9 L231.3 183.0 L232.2 183.7 L231.9 182.6 L231.7 182.8 L231.7 182.7 Z"/>
<path fill="#4471b2" d="M238.8 182.7 L238.9 182.8 L238.6 182.8 L239.7 183.7 L239.2 182.4 L239.1 182.6 L239.0 182.5 Z"/>
<path fill="#4f81ba" d="M246.0 182.5 L246.1 182.7 L245.7 182.8 L247.3 184.0 L246.7 182.1 L246.5 182.5 L246.3 182.3 Z"/>
<path fill="#5385bd" d="M253.3 182.4 L253.4 182.5 L253.0 182.6 L254.8 184.0 L254.0 181.9 L253.8 182.3 L253.7 182.1 Z"/>
<path fill="#6399c7" d="M260.6 182.2 L260.7 182.5 L260.1 182.6 L262.6 184.4 L261.5 181.5 L261.2 182.1 L261.0 181.9 Z"/>
<path fill="#679ec9" d="M267.9 182.1 L268.1 182.3 L267.4 182.5 L270.0 184.3 L268.8 181.3 L268.5 181.9 L268.4 181.7 Z"/>
<path fill="#74add1" d="M275.1 181.9 L275.4 182.4 L274.5 182.4 L277.5 185.1 L276.5 181.2 L276.0 181.9 L275.7 181.5 Z"/>
<path fill="#72abd0" d="M282.4 181.7 L282.7 182.2 L281.8 182.2 L284.9 184.9 L283.8 181.0 L283.3 181.7 L283.0 181.3 Z"/>
<path fill="#83b9d8" d="M289.7 181.6 L290.5 182.7 L289.7 182.9 L292.8 185.4 L291.6 181.5 L291.2 182.3 L290.3 181.1 Z"/>
<path fill="#7db4d5" d="M297.0 181.4 L297.7 182.3 L296.8 182.4 L300.0 184.9 L298.7 181.1 L298.3 181.8 L297.6 180.9 Z"/>
<path fill="#8abeda" d="M304.3 181.2 L305.5 182.7 L304.7 182.9 L307.9 185.2 L306.5 181.5 L306.1 182.2 L304.9 180.7 Z"/>
<path fill="#81b7d7" d="M311.7 181.0 L312.6 182.1 L311.7 182.3 L315.1 184.5 L313.5 180.8 L313.2 181.6 L312.2 180.6 Z"/>
<path fill="#8ec2dc" d="M318.9 180.8 L320.1 182.6 L319.3 182.7 L322.4 185.3 L321.2 181.4 L320.8 182.2 L319.6 180.4 Z"/>
<path fill="#83b9d8" d="M326.3 180.7 L327.1 181.9 L326.3 182.0 L329.4 184.5 L328.1 180.7 L327.7 181.4 L326.9 180.2 Z"/>
<path fill="#8abeda" d="M333.6 180.5 L334.7 182.0 L333.9 182.2 L337.1 184.6 L335.7 180.8 L335.3 181.5 L334.2 180.0 Z"/>
<path fill="#7ab2d4" d="M340.9 180.3 L341.5 181.0 L340.6 181.2 L343.9 183.5 L342.4 179.8 L342.1 180.6 L341.5 179.8 Z"/>
<path fill="#7ab2d4" d="M348.2 180.1 L348.8 180.9 L348.0 181.1 L351.3 183.3 L349.7 179.6 L349.4 180.4 L348.8 179.6 Z"/>
<path fill="#679ec9" d="M414.6 178.3 L414.6 178.0 L415.2 178.5 L415.0 175.2 L413.3 178.0 L414.0 177.9 L413.9 178.2 Z"/>
<circle cx="107.6" cy="193.7" r="0.45" fill="#3a54a4"/>
<circle cx="114.9" cy="193.5" r="0.45" fill="#3a54a4"/>
<circle cx="122.2" cy="193.4" r="0.45" fill="#3a54a4"/>
<circle cx="129.5" cy="193.2" r="0.45" fill="#3a51a2"/>
<circle cx="136.8" cy="193.0" r="0.45" fill="#3a54a4"/>
<circle cx="144.1" cy="192.8" r="0.45" fill="#3a54a4"/>
<circle cx="151.4" cy="192.6" r="0.45" fill="#3a54a4"/>
<circle cx="158.7" cy="192.4" r="0.45" fill="#3a54a4"/>
<circle cx="166.0" cy="192.3" r="0.45" fill="#3b56a5"/>
<circle cx="173.3" cy="192.1" r="0.45" fill="#3a54a4"/>
<circle cx="180.6" cy="191.9" r="0.45" fill="#3b56a5"/>
<circle cx="187.9" cy="191.7" r="0.45" fill="#3b56a5"/>
<circle cx="195.2" cy="191.5" r="0.45" fill="#3b56a5"/>
<circle cx="202.5" cy="191.4" r="0.45" fill="#3d5ba7"/>
<circle cx="209.9" cy="191.2" r="0.45" fill="#3c59a6"/>
<circle cx="217.2" cy="191.0" r="0.45" fill="#3e60aa"/>
<path fill="#3e60aa" d="M224.4 190.9 L224.5 190.9 L224.3 191.0 L224.9 191.4 L224.6 190.7 L224.6 190.8 L224.5 190.8 Z"/>
<path fill="#416aaf" d="M231.7 190.7 L231.7 190.8 L231.5 190.8 L232.4 191.5 L232.0 190.4 L231.9 190.6 L231.9 190.6 Z"/>
<path fill="#436fb1" d="M239.0 190.5 L239.0 190.6 L238.8 190.7 L239.8 191.4 L239.4 190.2 L239.2 190.5 L239.2 190.4 Z"/>
<path fill="#4b7db8" d="M246.2 190.4 L246.3 190.5 L246.0 190.6 L247.5 191.7 L246.8 189.9 L246.6 190.3 L246.5 190.2 Z"/>
<path fill="#4f81ba" d="M253.5 190.2 L253.6 190.4 L253.2 190.4 L254.9 191.6 L254.1 189.7 L254.0 190.1 L253.8 190.0 Z"/>
<path fill="#5e93c3" d="M260.8 190.0 L260.9 190.3 L260.3 190.3 L262.3 192.2 L261.7 189.5 L261.4 190.0 L261.2 189.8 Z"/>
<path fill="#6297c6" d="M268.1 189.9 L268.2 190.1 L267.6 190.2 L269.7 192.1 L269.0 189.3 L268.7 189.8 L268.5 189.6 Z"/>
<path fill="#6ea6ce" d="M275.3 189.7 L275.5 190.0 L274.7 190.1 L277.6 192.6 L276.5 189.0 L276.1 189.7 L275.9 189.3 Z"/>
<path fill="#6ea6ce" d="M282.6 189.6 L282.8 189.9 L282.0 190.0 L284.9 192.4 L283.8 188.7 L283.4 189.5 L283.2 189.2 Z"/>
<path fill="#7db4d5" d="M289.9 189.4 L290.5 190.3 L289.7 190.4 L292.8 192.9 L291.6 189.1 L291.1 189.8 L290.5 189.0 Z"/>
<path fill="#78b0d3" d="M297.2 189.2 L297.7 189.9 L296.9 190.1 L300.1 192.4 L298.7 188.7 L298.3 189.4 L297.8 188.8 Z"/>
<path fill="#87bdd9" d="M304.5 189.1 L305.6 190.4 L304.8 190.5 L308.1 192.8 L306.5 189.1 L306.2 189.9 L305.1 188.6 Z"/>
<path fill="#81b7d7" d="M311.8 188.9 L312.7 189.9 L311.9 190.1 L315.4 192.2 L313.6 188.6 L313.3 189.4 L312.4 188.4 Z"/>
<path fill="#90c3dd" d="M319.1 188.7 L320.5 190.4 L319.6 190.6 L322.9 193.0 L321.5 189.2 L321.1 190.0 L319.7 188.2 Z"/>
<path fill="#87bdd9" d="M326.4 188.5 L327.5 189.8 L326.7 190.0 L330.0 192.2 L328.5 188.5 L328.1 189.3 L327.0 188.0 Z"/>
<path fill="#7ab2d4" d="M333.8 188.3 L334.4 189.0 L333.5 189.3 L336.9 191.4 L335.3 187.7 L334.9 188.5 L334.3 187.8 Z"/>
<path fill="#7db4d5" d="M341.1 188.2 L341.8 189.0 L341.0 189.2 L344.4 191.3 L342.7 187.7 L342.4 188.5 L341.6 187.6 Z"/>
<path fill="#6da4cc" d="M348.4 188.0 L348.6 188.2 L347.9 188.5 L351.1 190.3 L349.4 187.0 L349.2 187.7 L348.9 187.5 Z"/>
<path fill="#588cc0" d="M400.0 186.6 L400.1 186.3 L400.4 186.8 L400.8 184.3 L399.1 186.1 L399.7 186.1 L399.6 186.3 Z"/>
<path fill="#6297c6" d="M407.4 186.3 L407.4 186.1 L407.9 186.5 L407.8 183.6 L406.3 186.1 L406.9 185.9 L406.8 186.2 Z"/>
<path fill="#6da4cc" d="M414.7 186.1 L414.8 185.8 L415.4 186.3 L415.0 182.7 L413.4 185.9 L414.1 185.7 L414.1 186.0 Z"/>
<circle cx="107.8" cy="201.6" r="0.45" fill="#3a54a4"/>
<circle cx="115.1" cy="201.4" r="0.45" fill="#3a54a4"/>
<circle cx="122.4" cy="201.2" r="0.45" fill="#3a54a4"/>
<circle cx="129.7" cy="201.0" r="0.45" fill="#3a54a4"/>
<circle cx="137.0" cy="200.8" r="0.45" fill="#3a54a4"/>
<circle cx="144.3" cy="200.7" r="0.45" fill="#3a54a4"/>
<circle cx="151.6" cy="200.5" r="0.45" fill="#3a54a4"/>
<circle cx="158.9" cy="200.3" r="0.45" fill="#3a51a2"/>
<circle cx="166.2" cy="200.1" r="0.45" fill="#3a54a4"/>
<circle cx="173.5" cy="199.9" r="0.45" fill="#3a54a4"/>
<circle cx="180.8" cy="199.7" r="0.45" fill="#3b56a5"/>
<circle cx="188.1" cy="199.6" r="0.45" fill="#3b56a5"/>
<circle cx="195.4" cy="199.4" r="0.45" fill="#3d5ba7"/>
<circle cx="202.7" cy="199.2" r="0.45" fill="#3c59a6"/>
<circle cx="210.1" cy="199.0" r="0.45" fill="#3e5ea8"/>
<circle cx="217.4" cy="198.8" r="0.45" fill="#3e60aa"/>
<path fill="#4167ad" d="M224.6 198.7 L224.6 198.8 L224.4 198.8 L225.3 199.4 L224.9 198.5 L224.8 198.7 L224.7 198.6 Z"/>
<path fill="#416aaf" d="M231.9 198.5 L231.9 198.6 L231.7 198.7 L232.7 199.3 L232.2 198.3 L232.1 198.5 L232.0 198.4 Z"/>
<path fill="#426cb0" d="M239.2 198.4 L239.3 198.4 L239.0 198.5 L240.0 199.2 L239.5 198.1 L239.4 198.3 L239.4 198.2 Z"/>
<path fill="#4a7ab7" d="M246.4 198.2 L246.5 198.3 L246.1 198.4 L247.4 199.5 L247.0 197.8 L246.8 198.2 L246.7 198.0 Z"/>
<path fill="#4b7db8" d="M253.7 198.0 L253.8 198.2 L253.4 198.2 L254.8 199.4 L254.3 197.6 L254.1 198.0 L254.0 197.8 Z"/>
<path fill="#5a8ec1" d="M261.0 197.9 L261.1 198.1 L260.6 198.1 L262.5 199.8 L261.8 197.4 L261.5 197.8 L261.4 197.6 Z"/>
<path fill="#5c90c2" d="M268.3 197.7 L268.4 197.9 L267.8 198.0 L269.8 199.7 L269.1 197.1 L268.8 197.6 L268.7 197.4 Z"/>
<path fill="#6ba2cb" d="M275.5 197.6 L275.7 197.8 L274.9 197.9 L277.6 200.2 L276.6 196.8 L276.2 197.5 L276.1 197.2 Z"/>
<path fill="#6ba2cb" d="M282.8 197.4 L283.0 197.7 L282.2 197.8 L285.0 200.0 L283.9 196.6 L283.6 197.3 L283.4 197.0 Z"/>
<path fill="#78b0d3" d="M290.1 197.2 L290.5 197.9 L289.7 198.0 L292.9 200.4 L291.5 196.6 L291.2 197.4 L290.7 196.8 Z"/>
<path fill="#74add1" d="M297.4 197.1 L297.8 197.5 L296.9 197.7 L300.2 200.0 L298.7 196.3 L298.4 197.1 L298.0 196.6 Z"/>
<path fill="#83b9d8" d="M304.7 196.9 L305.7 198.0 L304.8 198.2 L308.2 200.3 L306.6 196.7 L306.2 197.5 L305.3 196.4 Z"/>
<path fill="#7fb6d6" d="M312.0 196.7 L312.9 197.6 L312.1 197.9 L315.6 199.8 L313.7 196.2 L313.4 197.1 L312.6 196.2 Z"/>
<path fill="#7db4d5" d="M319.3 196.6 L320.2 197.3 L319.4 197.6 L323.0 199.3 L320.9 195.9 L320.7 196.7 L319.9 196.0 Z"/>
<path fill="#8ec2dc" d="M326.6 196.4 L328.1 197.9 L327.3 198.2 L330.8 200.1 L329.0 196.5 L328.7 197.3 L327.2 195.8 Z"/>
<path fill="#81b7d7" d="M333.9 196.2 L334.9 197.1 L334.1 197.4 L337.7 199.3 L335.7 195.8 L335.4 196.6 L334.5 195.6 Z"/>
<path fill="#83b9d8" d="M341.2 196.0 L342.3 197.0 L341.5 197.3 L345.0 199.1 L343.1 195.6 L342.8 196.4 L341.8 195.5 Z"/>
<path fill="#6ea6ce" d="M348.6 195.8 L348.8 196.1 L348.0 196.4 L351.5 198.1 L349.6 194.7 L349.3 195.5 L349.1 195.3 Z"/>
<path fill="#6297c6" d="M414.8 194.0 L414.9 193.7 L415.4 194.1 L415.3 191.2 L413.7 193.7 L414.3 193.6 L414.3 193.8 Z"/>
<circle cx="108.0" cy="209.4" r="0.45" fill="#3b56a5"/>
<circle cx="115.3" cy="209.2" r="0.45" fill="#3a54a4"/>
<circle cx="122.6" cy="209.1" r="0.45" fill="#3a54a4"/>
<circle cx="129.9" cy="208.9" r="0.45" fill="#3a54a4"/>
<circle cx="137.2" cy="208.7" r="0.45" fill="#3a51a2"/>
<circle cx="144.5" cy="208.5" r="0.45" fill="#3a54a4"/>
<circle cx="151.8" cy="208.3" r="0.45" fill="#3a51a2"/>
<circle cx="159.1" cy="208.1" r="0.45" fill="#3a54a4"/>
<circle cx="166.4" cy="208.0" r="0.45" fill="#3a54a4"/>
<circle cx="173.7" cy="207.8" r="0.45" fill="#3b56a5"/>
<circle cx="181.0" cy="207.6" r="0.45" fill="#3b56a5"/>
<circle cx="188.3" cy="207.4" r="0.45" fill="#3b56a5"/>
<circle cx="195.6" cy="207.2" r="0.45" fill="#3d5ba7"/>
<circle cx="202.9" cy="207.0" r="0.45" fill="#3d5ba7"/>
<circle cx="210.2" cy="206.9" r="0.45" fill="#3e60aa"/>
<circle cx="217.6" cy="206.7" r="0.45" fill="#3e60aa"/>
<path fill="#4167ad" d="M224.8 206.5 L224.8 206.6 L224.6 206.7 L225.4 207.3 L225.1 206.3 L225.0 206.5 L224.9 206.4 Z"/>
<path fill="#4167ad" d="M232.1 206.4 L232.1 206.4 L231.9 206.5 L232.8 207.1 L232.4 206.1 L232.3 206.3 L232.2 206.2 Z"/>
<path fill="#4574b3" d="M239.3 206.2 L239.4 206.3 L239.1 206.4 L240.3 207.3 L239.8 205.9 L239.7 206.2 L239.6 206.0 Z"/>
<path fill="#4878b6" d="M246.6 206.0 L246.7 206.2 L246.4 206.2 L247.7 207.2 L247.1 205.7 L247.0 206.0 L246.9 205.8 Z"/>
<path fill="#4878b6" d="M253.9 205.8 L254.0 206.0 L253.7 206.0 L255.0 207.1 L254.5 205.5 L254.3 205.8 L254.2 205.7 Z"/>
<path fill="#5588be" d="M261.2 205.7 L261.3 205.9 L260.8 205.9 L262.6 207.4 L261.9 205.2 L261.7 205.6 L261.5 205.5 Z"/>
<path fill="#578abf" d="M268.5 205.5 L268.6 205.7 L268.1 205.8 L270.0 207.3 L269.2 205.0 L269.0 205.5 L268.9 205.3 Z"/>
<path fill="#679ec9" d="M275.7 205.4 L275.9 205.6 L275.2 205.7 L277.7 207.8 L276.7 204.7 L276.4 205.3 L276.2 205.0 Z"/>
<path fill="#679ec9" d="M283.0 205.2 L283.2 205.5 L282.5 205.6 L285.1 207.6 L284.0 204.5 L283.7 205.1 L283.5 204.8 Z"/>
<path fill="#74add1" d="M290.3 205.1 L290.6 205.5 L289.7 205.6 L292.9 208.0 L291.6 204.3 L291.2 205.0 L290.9 204.6 Z"/>
<path fill="#72abd0" d="M297.6 204.9 L297.8 205.2 L297.0 205.4 L300.3 207.6 L298.7 203.9 L298.4 204.7 L298.2 204.4 Z"/>
<path fill="#7fb6d6" d="M304.9 204.7 L305.7 205.6 L304.9 205.9 L308.4 207.9 L306.6 204.3 L306.3 205.1 L305.4 204.2 Z"/>
<path fill="#7ab2d4" d="M312.2 204.6 L312.9 205.3 L312.1 205.6 L315.7 207.4 L313.7 203.9 L313.5 204.7 L312.7 204.0 Z"/>
<path fill="#7fb6d6" d="M319.5 204.4 L320.6 205.2 L319.8 205.6 L323.6 207.0 L321.2 203.7 L321.0 204.6 L320.0 203.8 Z"/>
<path fill="#9bcce2" d="M326.9 204.3 L329.4 205.8 L328.7 206.3 L332.6 207.3 L329.9 204.3 L329.8 205.2 L327.3 203.6 Z"/>
<path fill="#8cc0db" d="M334.1 204.0 L335.6 205.3 L334.8 205.6 L338.6 207.2 L336.3 203.9 L336.1 204.7 L334.6 203.4 Z"/>
<path fill="#85bbd9" d="M341.4 203.8 L342.6 204.9 L341.8 205.2 L345.4 206.9 L343.3 203.5 L343.1 204.3 L341.9 203.3 Z"/>
<path fill="#6297c6" d="M415.0 201.8 L415.0 201.5 L415.5 201.9 L415.3 199.0 L413.9 201.5 L414.5 201.4 L414.4 201.7 Z"/>
<circle cx="108.3" cy="217.3" r="0.45" fill="#3a54a4"/>
<circle cx="115.6" cy="217.1" r="0.45" fill="#3b56a5"/>
<circle cx="122.9" cy="216.9" r="0.45" fill="#3a54a4"/>
<circle cx="130.2" cy="216.7" r="0.45" fill="#3a51a2"/>
<circle cx="137.5" cy="216.5" r="0.45" fill="#3a54a4"/>
<circle cx="144.8" cy="216.3" r="0.45" fill="#3a51a2"/>
<circle cx="152.1" cy="216.2" r="0.45" fill="#3a54a4"/>
<circle cx="159.4" cy="216.0" r="0.45" fill="#3a54a4"/>
<circle cx="166.7" cy="215.8" r="0.45" fill="#3a54a4"/>
<circle cx="174.0" cy="215.6" r="0.45" fill="#3b56a5"/>
<circle cx="181.3" cy="215.4" r="0.45" fill="#3b56a5"/>
<circle cx="188.5" cy="215.2" r="0.45" fill="#3d5ba7"/>
<circle cx="195.8" cy="215.1" r="0.45" fill="#3d5ba7"/>
<path fill="#3f62ab" d="M203.1 214.9 L203.1 215.0 L203.0 215.1 L203.7 215.5 L203.3 214.7 L203.3 214.9 L203.2 214.8 Z"/>
<path fill="#3f62ab" d="M210.4 214.8 L210.4 214.8 L210.3 214.9 L211.0 215.3 L210.6 214.5 L210.6 214.7 L210.5 214.6 Z"/>
<path fill="#3f62ab" d="M217.7 214.6 L217.7 214.6 L217.6 214.7 L218.3 215.1 L217.9 214.3 L217.9 214.5 L217.8 214.5 Z"/>
<path fill="#416aaf" d="M225.0 214.4 L225.0 214.5 L224.8 214.5 L225.8 215.1 L225.3 214.1 L225.2 214.3 L225.1 214.3 Z"/>
<path fill="#416aaf" d="M232.3 214.2 L232.3 214.3 L232.1 214.4 L233.1 215.0 L232.6 213.9 L232.5 214.2 L232.4 214.1 Z"/>
<path fill="#4676b5" d="M239.5 214.1 L239.6 214.2 L239.3 214.3 L240.6 215.1 L240.0 213.7 L239.9 214.0 L239.8 213.9 Z"/>
<path fill="#4878b6" d="M246.8 213.9 L246.9 214.0 L246.6 214.1 L247.9 215.0 L247.3 213.5 L247.2 213.8 L247.1 213.7 Z"/>
<path fill="#5183bb" d="M254.1 213.7 L254.2 213.9 L253.8 214.0 L255.5 215.2 L254.7 213.2 L254.5 213.6 L254.4 213.5 Z"/>
<path fill="#5385bd" d="M261.4 213.5 L261.5 213.7 L261.0 213.8 L262.8 215.1 L262.1 213.0 L261.8 213.5 L261.7 213.3 Z"/>
<path fill="#5588be" d="M268.7 213.4 L268.8 213.5 L268.3 213.6 L270.1 215.0 L269.4 212.8 L269.1 213.3 L269.0 213.1 Z"/>
<path fill="#6399c7" d="M275.9 213.2 L276.1 213.4 L275.4 213.6 L277.8 215.4 L276.8 212.5 L276.5 213.1 L276.4 212.9 Z"/>
<path fill="#6399c7" d="M283.2 213.0 L283.4 213.3 L282.7 213.4 L285.2 215.2 L284.1 212.3 L283.8 212.9 L283.7 212.7 Z"/>
<path fill="#70a9cf" d="M290.4 212.9 L290.7 213.2 L289.9 213.4 L293.0 215.6 L291.6 212.0 L291.3 212.7 L291.0 212.4 Z"/>
<path fill="#6ea6ce" d="M297.8 212.7 L298.0 213.0 L297.2 213.2 L300.5 215.2 L298.8 211.8 L298.6 212.5 L298.3 212.2 Z"/>
<path fill="#7db4d5" d="M305.1 212.6 L305.9 213.4 L305.1 213.7 L308.7 215.4 L306.7 212.0 L306.4 212.8 L305.6 212.0 Z"/>
<path fill="#7fb6d6" d="M312.4 212.4 L313.4 213.2 L312.6 213.6 L316.4 215.0 L314.1 211.8 L313.9 212.6 L312.9 211.8 Z"/>
<path fill="#85bbd9" d="M319.7 212.3 L321.1 213.2 L320.4 213.6 L324.2 214.7 L321.6 211.7 L321.5 212.5 L320.1 211.6 Z"/>
<path fill="#9fd0e4" d="M327.0 212.1 L330.0 213.8 L329.3 214.3 L333.2 215.1 L330.4 212.2 L330.4 213.1 L327.4 211.4 Z"/>
<path fill="#8cc0db" d="M334.3 211.9 L336.1 212.9 L335.3 213.4 L339.2 214.4 L336.5 211.4 L336.5 212.3 L334.7 211.2 Z"/>
<path fill="#7fb6d6" d="M341.6 211.7 L342.6 212.4 L341.8 212.8 L345.6 214.1 L343.2 210.9 L343.0 211.8 L342.1 211.1 Z"/>
<circle cx="108.5" cy="225.1" r="0.45" fill="#3b56a5"/>
<circle cx="115.8" cy="224.9" r="0.45" fill="#3a54a4"/>
<circle cx="123.1" cy="224.7" r="0.45" fill="#3a51a2"/>
<circle cx="130.4" cy="224.6" r="0.45" fill="#3a54a4"/>
<circle cx="137.7" cy="224.4" r="0.45" fill="#3a54a4"/>
<circle cx="145.0" cy="224.2" r="0.45" fill="#3a54a4"/>
<circle cx="152.3" cy="224.0" r="0.45" fill="#3a54a4"/>
<circle cx="159.6" cy="223.8" r="0.45" fill="#3a54a4"/>
<circle cx="166.9" cy="223.6" r="0.45" fill="#3b56a5"/>
<circle cx="174.2" cy="223.5" r="0.45" fill="#3b56a5"/>
<circle cx="181.5" cy="223.3" r="0.45" fill="#3d5ba7"/>
<circle cx="188.8" cy="223.1" r="0.45" fill="#3d5ba7"/>
<circle cx="196.1" cy="222.9" r="0.45" fill="#3e5ea8"/>
<path fill="#4065ac" d="M203.3 222.8 L203.4 222.9 L203.2 222.9 L204.0 223.3 L203.5 222.5 L203.5 222.7 L203.4 222.7 Z"/>
<path fill="#4065ac" d="M210.6 222.6 L210.6 222.7 L210.4 222.7 L211.3 223.2 L210.8 222.3 L210.8 222.5 L210.7 222.5 Z"/>
<path fill="#436fb1" d="M217.9 222.4 L217.9 222.5 L217.7 222.6 L218.8 223.2 L218.2 222.1 L218.1 222.4 L218.0 222.3 Z"/>
<path fill="#436fb1" d="M225.2 222.3 L225.2 222.3 L225.0 222.4 L226.1 223.1 L225.5 221.9 L225.4 222.2 L225.3 222.1 Z"/>
<path fill="#436fb1" d="M232.4 222.1 L232.5 222.2 L232.3 222.3 L233.4 222.9 L232.8 221.7 L232.7 222.0 L232.6 221.9 Z"/>
<path fill="#4a7ab7" d="M239.7 221.9 L239.8 222.0 L239.5 222.1 L241.0 223.0 L240.2 221.5 L240.1 221.8 L240.0 221.7 Z"/>
<path fill="#4a7ab7" d="M247.0 221.7 L247.1 221.9 L246.8 222.0 L248.3 222.9 L247.5 221.3 L247.4 221.6 L247.3 221.5 Z"/>
<path fill="#5385bd" d="M254.3 221.6 L254.4 221.7 L253.9 221.9 L255.8 223.1 L254.9 221.0 L254.7 221.5 L254.6 221.3 Z"/>
<path fill="#5385bd" d="M261.6 221.4 L261.7 221.5 L261.2 221.7 L263.1 222.9 L262.2 220.8 L262.0 221.3 L261.9 221.1 Z"/>
<path fill="#5385bd" d="M268.9 221.2 L269.0 221.4 L268.5 221.5 L270.3 222.7 L269.5 220.7 L269.3 221.1 L269.2 220.9 Z"/>
<path fill="#6095c4" d="M276.1 221.0 L276.3 221.3 L275.7 221.4 L278.0 223.0 L277.0 220.4 L276.7 220.9 L276.5 220.7 Z"/>
<path fill="#5e93c3" d="M283.4 220.9 L283.6 221.1 L283.0 221.2 L285.3 222.8 L284.2 220.2 L284.0 220.7 L283.8 220.5 Z"/>
<path fill="#6ba2cb" d="M290.7 220.7 L290.9 221.0 L290.2 221.2 L293.1 223.1 L291.7 219.8 L291.4 220.5 L291.2 220.3 Z"/>
<path fill="#6ba2cb" d="M298.0 220.6 L298.2 220.8 L297.5 221.1 L300.7 222.7 L298.9 219.6 L298.7 220.3 L298.5 220.1 Z"/>
<path fill="#6da4cc" d="M305.3 220.4 L305.6 220.6 L304.9 221.0 L308.2 222.3 L306.2 219.3 L306.0 220.1 L305.7 219.9 Z"/>
<path fill="#81b7d7" d="M312.6 220.3 L313.7 221.0 L313.0 221.5 L316.8 222.7 L314.3 219.5 L314.1 220.4 L313.0 219.6 Z"/>
<path fill="#87bdd9" d="M319.9 220.1 L321.4 221.0 L320.7 221.4 L324.6 222.4 L321.8 219.5 L321.8 220.3 L320.3 219.4 Z"/>
<path fill="#9fd0e4" d="M327.2 219.9 L330.2 221.5 L329.5 222.0 L333.4 222.8 L330.6 220.0 L330.6 220.8 L327.6 219.2 Z"/>
<path fill="#8abeda" d="M334.5 219.7 L336.2 220.7 L335.5 221.2 L339.4 222.1 L336.6 219.2 L336.6 220.0 L334.9 219.1 Z"/>
<path fill="#7fb6d6" d="M341.8 219.5 L342.8 220.2 L342.0 220.6 L345.8 221.8 L343.3 218.7 L343.2 219.6 L342.2 218.9 Z"/>
<circle cx="108.7" cy="233.0" r="0.45" fill="#3a54a4"/>
<circle cx="116.0" cy="232.8" r="0.45" fill="#3a54a4"/>
<circle cx="123.3" cy="232.6" r="0.45" fill="#3a54a4"/>
<circle cx="130.6" cy="232.4" r="0.45" fill="#3a54a4"/>
<circle cx="137.9" cy="232.2" r="0.45" fill="#3a51a2"/>
<circle cx="145.2" cy="232.0" r="0.45" fill="#3a54a4"/>
<circle cx="152.5" cy="231.9" r="0.45" fill="#3a54a4"/>
<circle cx="159.8" cy="231.7" r="0.45" fill="#3b56a5"/>
<circle cx="167.1" cy="231.5" r="0.45" fill="#3b56a5"/>
<circle cx="174.4" cy="231.3" r="0.45" fill="#3b56a5"/>
<circle cx="181.7" cy="231.1" r="0.45" fill="#3d5ba7"/>
<circle cx="189.0" cy="230.9" r="0.45" fill="#3e5ea8"/>
<path fill="#4065ac" d="M196.2 230.8 L196.2 230.9 L196.0 230.9 L196.9 231.4 L196.5 230.6 L196.4 230.8 L196.3 230.7 Z"/>
<path fill="#4167ad" d="M203.5 230.6 L203.5 230.7 L203.3 230.8 L204.2 231.3 L203.8 230.4 L203.7 230.6 L203.6 230.5 Z"/>
<path fill="#416aaf" d="M210.8 230.4 L210.8 230.5 L210.6 230.6 L211.5 231.2 L211.1 230.2 L211.0 230.4 L210.9 230.3 Z"/>
<path fill="#4574b3" d="M218.0 230.3 L218.1 230.4 L217.8 230.5 L219.1 231.3 L218.5 229.9 L218.3 230.2 L218.3 230.1 Z"/>
<path fill="#4676b5" d="M225.3 230.1 L225.4 230.2 L225.1 230.3 L226.4 231.1 L225.8 229.7 L225.6 230.0 L225.5 229.9 Z"/>
<path fill="#4d7fb9" d="M232.6 229.9 L232.7 230.1 L232.3 230.2 L233.9 231.3 L233.2 229.5 L233.0 229.9 L232.9 229.7 Z"/>
<path fill="#4d7fb9" d="M239.9 229.8 L240.0 229.9 L239.6 230.0 L241.2 231.1 L240.5 229.3 L240.3 229.7 L240.2 229.5 Z"/>
<path fill="#4d7fb9" d="M247.2 229.6 L247.3 229.7 L246.9 229.8 L248.4 230.9 L247.8 229.1 L247.6 229.5 L247.5 229.3 Z"/>
<path fill="#578abf" d="M254.4 229.4 L254.6 229.6 L254.1 229.7 L256.0 231.1 L255.2 228.9 L254.9 229.3 L254.8 229.1 Z"/>
<path fill="#5588be" d="M261.7 229.2 L261.9 229.4 L261.4 229.5 L263.2 230.9 L262.5 228.7 L262.2 229.1 L262.1 229.0 Z"/>
<path fill="#5385bd" d="M269.0 229.0 L269.2 229.2 L268.7 229.3 L270.6 230.5 L269.7 228.5 L269.5 228.9 L269.4 228.8 Z"/>
<path fill="#5e93c3" d="M276.3 228.9 L276.5 229.1 L275.9 229.2 L278.2 230.8 L277.1 228.2 L276.9 228.8 L276.7 228.5 Z"/>
<path fill="#5a8ec1" d="M283.6 228.7 L283.8 228.9 L283.2 229.0 L285.4 230.4 L284.4 228.1 L284.2 228.6 L284.0 228.4 Z"/>
<path fill="#659bc8" d="M290.9 228.6 L291.1 228.8 L290.4 229.0 L293.2 230.6 L291.8 227.7 L291.5 228.4 L291.3 228.1 Z"/>
<path fill="#679ec9" d="M298.2 228.4 L298.4 228.6 L297.8 228.8 L300.7 230.3 L299.0 227.5 L298.8 228.1 L298.6 227.9 Z"/>
<path fill="#69a0ca" d="M305.5 228.2 L305.8 228.4 L305.1 228.8 L308.3 229.9 L306.3 227.2 L306.1 227.9 L305.9 227.7 Z"/>
<path fill="#7db4d5" d="M312.8 228.1 L313.7 228.7 L313.0 229.1 L316.8 230.2 L314.2 227.2 L314.1 228.0 L313.2 227.5 Z"/>
<path fill="#81b7d7" d="M320.1 227.9 L321.3 228.6 L320.6 229.1 L324.5 229.9 L321.7 227.1 L321.7 227.9 L320.5 227.3 Z"/>
<path fill="#97c9e0" d="M327.4 227.8 L329.8 229.0 L329.1 229.5 L333.1 230.3 L330.2 227.5 L330.2 228.3 L327.8 227.1 Z"/>
<path fill="#87bdd9" d="M334.7 227.6 L336.2 228.4 L335.5 228.9 L339.5 229.7 L336.6 226.9 L336.6 227.7 L335.1 226.9 Z"/>
<path fill="#426cb0" d="M415.2 225.2 L415.3 225.1 L415.5 225.3 L415.5 224.1 L414.8 225.1 L415.0 225.0 L415.0 225.2 Z"/>
<circle cx="108.9" cy="240.8" r="0.45" fill="#3a54a4"/>
<circle cx="116.2" cy="240.6" r="0.45" fill="#3a54a4"/>
<circle cx="123.5" cy="240.4" r="0.45" fill="#3a54a4"/>
<circle cx="130.8" cy="240.3" r="0.45" fill="#3a51a2"/>
<circle cx="138.1" cy="240.1" r="0.45" fill="#3a54a4"/>
<circle cx="145.4" cy="239.9" r="0.45" fill="#3a54a4"/>
<circle cx="152.7" cy="239.7" r="0.45" fill="#3b56a5"/>
<circle cx="160.0" cy="239.5" r="0.45" fill="#3b56a5"/>
<circle cx="167.3" cy="239.3" r="0.45" fill="#3b56a5"/>
<circle cx="174.6" cy="239.1" r="0.45" fill="#3c59a6"/>
<circle cx="181.9" cy="239.0" r="0.45" fill="#3d5ba7"/>
<circle cx="189.2" cy="238.8" r="0.45" fill="#3e5ea8"/>
<path fill="#4167ad" d="M196.4 238.7 L196.5 238.7 L196.2 238.8 L197.2 239.3 L196.7 238.4 L196.6 238.6 L196.5 238.5 Z"/>
<path fill="#416aaf" d="M203.7 238.5 L203.7 238.6 L203.5 238.6 L204.5 239.2 L204.0 238.2 L203.9 238.4 L203.8 238.3 Z"/>
<path fill="#4676b5" d="M210.9 238.3 L211.0 238.4 L210.7 238.5 L212.1 239.4 L211.4 237.9 L211.3 238.2 L211.2 238.1 Z"/>
<path fill="#4878b6" d="M218.2 238.1 L218.3 238.3 L218.0 238.4 L219.4 239.3 L218.7 237.7 L218.6 238.0 L218.5 237.9 Z"/>
<path fill="#4a7ab7" d="M225.5 238.0 L225.6 238.1 L225.3 238.2 L226.8 239.1 L226.0 237.5 L225.9 237.9 L225.8 237.7 Z"/>
<path fill="#5588be" d="M232.8 237.8 L232.9 238.0 L232.4 238.1 L234.4 239.3 L233.4 237.2 L233.2 237.7 L233.1 237.5 Z"/>
<path fill="#5385bd" d="M240.1 237.6 L240.2 237.8 L239.7 237.9 L241.6 239.1 L240.7 237.1 L240.5 237.5 L240.4 237.3 Z"/>
<path fill="#5183bb" d="M247.4 237.4 L247.5 237.6 L247.0 237.7 L248.8 238.9 L248.0 236.9 L247.8 237.3 L247.7 237.2 Z"/>
<path fill="#5c90c2" d="M254.6 237.3 L254.8 237.5 L254.2 237.6 L256.4 239.1 L255.4 236.6 L255.2 237.1 L255.0 236.9 Z"/>
<path fill="#588cc0" d="M261.9 237.1 L262.1 237.3 L261.5 237.4 L263.5 238.8 L262.7 236.5 L262.4 237.0 L262.3 236.8 Z"/>
<path fill="#6399c7" d="M269.1 236.9 L269.3 237.1 L268.7 237.2 L271.0 239.2 L270.1 236.2 L269.8 236.8 L269.6 236.6 Z"/>
<path fill="#6095c4" d="M276.5 236.7 L276.6 236.9 L276.0 237.0 L278.1 238.9 L277.4 236.1 L277.1 236.6 L276.9 236.4 Z"/>
<path fill="#5a8ec1" d="M283.8 236.5 L283.9 236.7 L283.4 236.7 L285.2 238.5 L284.6 236.0 L284.3 236.4 L284.2 236.2 Z"/>
<path fill="#6297c6" d="M291.1 236.4 L291.2 236.6 L290.6 236.7 L293.1 238.3 L291.9 235.6 L291.7 236.2 L291.5 236.0 Z"/>
<path fill="#6297c6" d="M298.4 236.2 L298.6 236.4 L298.0 236.6 L300.7 237.9 L299.1 235.4 L299.0 236.0 L298.8 235.8 Z"/>
<path fill="#6399c7" d="M305.7 236.0 L305.9 236.2 L305.3 236.5 L308.2 237.5 L306.4 235.1 L306.3 235.7 L306.0 235.6 Z"/>
<path fill="#76afd2" d="M313.0 236.0 L313.5 236.3 L312.8 236.7 L316.7 237.7 L314.0 234.8 L313.9 235.6 L313.3 235.3 Z"/>
<path fill="#8cc0db" d="M320.4 235.8 L322.4 236.2 L321.9 236.9 L325.9 236.4 L322.3 234.6 L322.5 235.4 L320.5 235.1 Z"/>
<path fill="#8abeda" d="M327.6 235.6 L329.2 236.4 L328.6 236.9 L332.5 237.6 L329.6 234.9 L329.6 235.7 L327.9 234.9 Z"/>
<path fill="#3e60aa" d="M415.3 233.0 L415.4 233.0 L415.5 233.1 L415.5 232.2 L415.0 233.0 L415.2 232.9 L415.2 233.0 Z"/>
<circle cx="109.2" cy="248.7" r="0.45" fill="#3b56a5"/>
<circle cx="116.5" cy="248.5" r="0.45" fill="#3a54a4"/>
<circle cx="123.7" cy="248.3" r="0.45" fill="#3b56a5"/>
<circle cx="131.0" cy="248.1" r="0.45" fill="#3b56a5"/>
<circle cx="138.3" cy="247.9" r="0.45" fill="#3a54a4"/>
<circle cx="145.6" cy="247.7" r="0.45" fill="#3b56a5"/>
<circle cx="152.9" cy="247.6" r="0.45" fill="#3b56a5"/>
<circle cx="160.2" cy="247.4" r="0.45" fill="#3b56a5"/>
<circle cx="167.5" cy="247.2" r="0.45" fill="#3c59a6"/>
<circle cx="174.8" cy="247.0" r="0.45" fill="#3c59a6"/>
<circle cx="182.1" cy="246.8" r="0.45" fill="#3d5ba7"/>
<path fill="#4065ac" d="M189.3 246.7 L189.4 246.7 L189.2 246.8 L189.9 247.3 L189.6 246.4 L189.5 246.6 L189.4 246.6 Z"/>
<path fill="#416aaf" d="M196.6 246.5 L196.6 246.6 L196.4 246.6 L197.3 247.3 L196.9 246.2 L196.8 246.5 L196.7 246.4 Z"/>
<path fill="#426cb0" d="M203.9 246.3 L203.9 246.4 L203.7 246.5 L204.6 247.2 L204.2 246.0 L204.1 246.3 L204.0 246.2 Z"/>
<path fill="#4a7ab7" d="M211.1 246.2 L211.2 246.3 L210.8 246.3 L212.2 247.4 L211.7 245.8 L211.5 246.1 L211.4 246.0 Z"/>
<path fill="#4b7db8" d="M218.4 246.0 L218.5 246.1 L218.1 246.2 L219.8 247.2 L218.9 245.5 L218.8 245.9 L218.7 245.8 Z"/>
<path fill="#4d7fb9" d="M225.7 245.8 L225.8 246.0 L225.4 246.1 L227.1 247.1 L226.2 245.3 L226.1 245.7 L226.0 245.6 Z"/>
<path fill="#5a8ec1" d="M232.9 245.7 L233.1 245.9 L232.6 246.0 L234.8 247.3 L233.7 245.0 L233.5 245.5 L233.3 245.3 Z"/>
<path fill="#588cc0" d="M240.2 245.5 L240.4 245.7 L239.9 245.8 L242.0 247.1 L241.0 244.8 L240.7 245.3 L240.6 245.2 Z"/>
<path fill="#659bc8" d="M247.5 245.3 L247.7 245.5 L247.0 245.7 L249.6 247.4 L248.4 244.6 L248.1 245.2 L247.9 244.9 Z"/>
<path fill="#6399c7" d="M254.8 245.1 L254.9 245.3 L254.3 245.5 L256.7 247.2 L255.7 244.4 L255.4 245.0 L255.2 244.8 Z"/>
<path fill="#6095c4" d="M262.1 244.9 L262.2 245.1 L261.6 245.2 L263.9 247.0 L262.9 244.3 L262.7 244.8 L262.5 244.6 Z"/>
<path fill="#69a0ca" d="M269.3 244.7 L269.5 245.0 L268.8 245.1 L271.4 247.3 L270.4 244.0 L270.0 244.7 L269.8 244.4 Z"/>
<path fill="#659bc8" d="M276.6 244.5 L276.8 244.8 L276.1 244.9 L278.4 247.0 L277.7 243.9 L277.3 244.5 L277.1 244.2 Z"/>
<path fill="#6095c4" d="M283.9 244.3 L284.1 244.6 L283.4 244.6 L285.5 246.6 L284.9 243.8 L284.5 244.3 L284.4 244.1 Z"/>
<path fill="#69a0ca" d="M291.2 244.2 L291.3 244.5 L290.6 244.5 L293.1 246.8 L292.3 243.5 L291.9 244.1 L291.7 243.8 Z"/>
<path fill="#659bc8" d="M298.5 244.0 L298.7 244.2 L298.1 244.5 L300.9 245.9 L299.4 243.2 L299.2 243.8 L299.0 243.6 Z"/>
<path fill="#6399c7" d="M305.9 243.9 L306.1 244.0 L305.5 244.3 L308.3 245.4 L306.6 243.0 L306.4 243.6 L306.2 243.4 Z"/>
<path fill="#72abd0" d="M313.1 243.8 L313.4 244.0 L312.7 244.4 L316.6 245.5 L313.9 242.5 L313.9 243.3 L313.5 243.1 Z"/>
<path fill="#6da4cc" d="M320.5 243.6 L320.8 243.7 L320.2 244.2 L323.9 244.6 L321.0 242.3 L321.1 243.1 L320.7 242.9 Z"/>
<path fill="#6ea6ce" d="M327.8 243.4 L328.1 243.6 L327.4 244.1 L331.2 244.7 L328.4 242.1 L328.4 242.9 L328.1 242.7 Z"/>
<circle cx="415.4" cy="240.8" r="0.45" fill="#3e5ea8"/>
<circle cx="109.4" cy="256.5" r="0.45" fill="#3a54a4"/>
<circle cx="116.7" cy="256.3" r="0.45" fill="#3b56a5"/>
<circle cx="124.0" cy="256.1" r="0.45" fill="#3b56a5"/>
<circle cx="131.3" cy="256.0" r="0.45" fill="#3a54a4"/>
<circle cx="138.5" cy="255.8" r="0.45" fill="#3c59a6"/>
<circle cx="145.8" cy="255.6" r="0.45" fill="#3c59a6"/>
<circle cx="153.1" cy="255.4" r="0.45" fill="#3c59a6"/>
<circle cx="160.4" cy="255.2" r="0.45" fill="#3d5ba7"/>
<circle cx="167.7" cy="255.0" r="0.45" fill="#3d5ba7"/>
<circle cx="175.0" cy="254.8" r="0.45" fill="#3d5ba7"/>
<path fill="#3f62ab" d="M182.2 254.7 L182.3 254.8 L182.1 254.8 L182.8 255.3 L182.5 254.5 L182.4 254.7 L182.3 254.6 Z"/>
<path fill="#4167ad" d="M189.5 254.5 L189.5 254.6 L189.3 254.6 L190.2 255.3 L189.8 254.3 L189.7 254.5 L189.7 254.4 Z"/>
<path fill="#426cb0" d="M196.8 254.3 L196.8 254.4 L196.6 254.5 L197.5 255.2 L197.1 254.1 L197.0 254.3 L197.0 254.2 Z"/>
<path fill="#4a7ab7" d="M204.0 254.2 L204.1 254.3 L203.7 254.4 L205.1 255.5 L204.6 253.8 L204.4 254.1 L204.3 254.0 Z"/>
<path fill="#4b7db8" d="M211.3 254.0 L211.4 254.2 L211.0 254.2 L212.4 255.4 L211.9 253.6 L211.7 254.0 L211.6 253.8 Z"/>
<path fill="#4f81ba" d="M218.6 253.8 L218.7 254.0 L218.3 254.0 L219.8 255.3 L219.2 253.4 L219.0 253.8 L218.9 253.6 Z"/>
<path fill="#5c90c2" d="M225.8 253.7 L226.0 253.9 L225.4 254.0 L227.5 255.7 L226.7 253.1 L226.4 253.6 L226.2 253.4 Z"/>
<path fill="#5e93c3" d="M233.1 253.5 L233.2 253.7 L232.7 253.8 L234.8 255.5 L234.0 252.9 L233.7 253.4 L233.5 253.2 Z"/>
<path fill="#5c90c2" d="M240.4 253.3 L240.6 253.5 L240.0 253.7 L242.3 255.1 L241.2 252.7 L241.0 253.2 L240.8 253.0 Z"/>
<path fill="#69a0ca" d="M247.6 253.2 L247.8 253.4 L247.1 253.6 L249.9 255.5 L248.7 252.4 L248.3 253.0 L248.1 252.8 Z"/>
<path fill="#69a0ca" d="M254.9 253.0 L255.1 253.2 L254.4 253.3 L257.1 255.4 L256.0 252.2 L255.6 252.8 L255.4 252.6 Z"/>
<path fill="#679ec9" d="M262.2 252.8 L262.4 253.0 L261.7 253.1 L264.2 255.1 L263.2 252.1 L262.9 252.7 L262.7 252.4 Z"/>
<path fill="#6ea6ce" d="M269.4 252.6 L269.6 252.9 L268.8 253.0 L271.7 255.5 L270.7 251.8 L270.3 252.5 L270.1 252.2 Z"/>
<path fill="#6da4cc" d="M276.7 252.4 L276.9 252.7 L276.1 252.7 L278.8 255.2 L277.9 251.7 L277.5 252.3 L277.3 252.0 Z"/>
<path fill="#83b9d8" d="M284.0 252.2 L284.8 253.5 L284.0 253.6 L287.0 256.3 L285.9 252.4 L285.5 253.1 L284.7 251.8 Z"/>
<path fill="#72abd0" d="M291.3 252.0 L291.5 252.4 L290.6 252.4 L293.5 255.2 L292.6 251.3 L292.2 252.0 L292.0 251.7 Z"/>
<path fill="#6da4cc" d="M298.6 251.9 L298.8 252.1 L298.1 252.2 L300.8 254.5 L299.8 251.1 L299.4 251.8 L299.2 251.5 Z"/>
<path fill="#7db4d5" d="M305.8 251.5 L305.9 252.5 L305.1 252.2 L306.6 256.0 L307.4 252.0 L306.7 252.5 L306.6 251.4 Z"/>
<path fill="#72abd0" d="M313.3 251.6 L313.6 251.9 L312.8 252.2 L316.6 253.7 L314.2 250.4 L314.1 251.2 L313.7 251.0 Z"/>
<path fill="#70a9cf" d="M320.6 251.4 L320.9 251.6 L320.2 252.0 L323.9 253.1 L321.4 250.2 L321.3 251.0 L321.0 250.8 Z"/>
<circle cx="415.6" cy="248.7" r="0.45" fill="#3c59a6"/>
<circle cx="109.6" cy="264.4" r="0.45" fill="#3b56a5"/>
<circle cx="116.9" cy="264.2" r="0.45" fill="#3b56a5"/>
<circle cx="124.2" cy="264.0" r="0.45" fill="#3a54a4"/>
<circle cx="131.5" cy="263.8" r="0.45" fill="#3c59a6"/>
<circle cx="138.8" cy="263.6" r="0.45" fill="#3c59a6"/>
<circle cx="146.0" cy="263.4" r="0.45" fill="#3c59a6"/>
<circle cx="153.3" cy="263.2" r="0.45" fill="#3e5ea8"/>
<circle cx="160.6" cy="263.1" r="0.45" fill="#3e5ea8"/>
<circle cx="167.9" cy="262.9" r="0.45" fill="#3e60aa"/>
<path fill="#4167ad" d="M175.1 262.7 L175.2 262.8 L174.9 262.8 L175.7 263.5 L175.5 262.5 L175.3 262.7 L175.3 262.6 Z"/>
<path fill="#416aaf" d="M182.4 262.5 L182.4 262.6 L182.2 262.6 L183.0 263.4 L182.8 262.4 L182.6 262.5 L182.6 262.4 Z"/>
<path fill="#426cb0" d="M189.7 262.4 L189.7 262.5 L189.5 262.5 L190.3 263.4 L190.1 262.2 L189.9 262.4 L189.9 262.3 Z"/>
<path fill="#4878b6" d="M196.9 262.2 L197.0 262.3 L196.6 262.3 L197.7 263.6 L197.5 261.9 L197.3 262.2 L197.2 262.1 Z"/>
<path fill="#4b7db8" d="M204.2 262.0 L204.3 262.2 L203.9 262.1 L205.1 263.5 L204.8 261.7 L204.6 262.0 L204.5 261.9 Z"/>
<path fill="#4d7fb9" d="M211.5 261.8 L211.6 262.0 L211.2 262.0 L212.6 263.3 L212.1 261.4 L211.9 261.8 L211.8 261.6 Z"/>
<path fill="#4f81ba" d="M218.8 261.7 L218.9 261.8 L218.4 261.9 L220.0 263.2 L219.4 261.2 L219.2 261.6 L219.1 261.5 Z"/>
<path fill="#5e93c3" d="M226.0 261.5 L226.1 261.7 L225.5 261.8 L227.6 263.6 L226.9 260.9 L226.6 261.5 L226.4 261.2 Z"/>
<path fill="#6095c4" d="M233.3 261.3 L233.4 261.6 L232.8 261.6 L234.9 263.5 L234.2 260.8 L233.9 261.3 L233.7 261.0 Z"/>
<path fill="#6095c4" d="M240.6 261.1 L240.7 261.4 L240.1 261.4 L242.1 263.3 L241.5 260.6 L241.2 261.1 L241.0 260.9 Z"/>
<path fill="#6da4cc" d="M247.8 261.0 L247.9 261.3 L247.2 261.3 L249.7 263.8 L249.0 260.3 L248.5 260.9 L248.4 260.6 Z"/>
<path fill="#6ba2cb" d="M255.1 260.8 L255.3 261.1 L254.5 261.2 L257.3 263.4 L256.2 260.0 L255.8 260.7 L255.6 260.4 Z"/>
<path fill="#69a0ca" d="M262.4 260.6 L262.6 260.9 L261.8 261.0 L264.5 263.2 L263.5 259.9 L263.1 260.5 L262.9 260.2 Z"/>
<path fill="#74add1" d="M269.6 260.4 L269.9 261.0 L269.1 261.1 L272.1 263.7 L271.1 259.8 L270.6 260.6 L270.3 260.0 Z"/>
<path fill="#72abd0" d="M276.9 260.2 L277.1 260.6 L276.3 260.7 L279.2 263.4 L278.3 259.5 L277.8 260.2 L277.6 259.9 Z"/>
<path fill="#6ea6ce" d="M284.2 260.0 L284.4 260.4 L283.6 260.4 L286.3 263.1 L285.5 259.3 L285.0 260.0 L284.8 259.7 Z"/>
<path fill="#94c7df" d="M291.5 259.9 L292.7 262.1 L291.8 262.1 L294.6 265.0 L293.8 261.0 L293.3 261.7 L292.1 259.5 Z"/>
<path fill="#83b9d8" d="M298.7 259.6 L299.0 261.1 L298.2 260.9 L300.1 264.4 L300.5 260.4 L299.8 260.9 L299.5 259.4 Z"/>
<path fill="#6da4cc" d="M306.1 259.5 L306.4 259.8 L305.6 260.0 L308.8 262.0 L307.2 258.6 L306.9 259.3 L306.6 259.1 Z"/>
<path fill="#76afd2" d="M313.4 259.4 L313.9 259.9 L313.1 260.2 L316.6 262.0 L314.7 258.5 L314.4 259.3 L313.9 258.8 Z"/>
<circle cx="109.8" cy="272.2" r="0.45" fill="#3b56a5"/>
<circle cx="117.1" cy="272.0" r="0.45" fill="#3a54a4"/>
<circle cx="124.4" cy="271.8" r="0.45" fill="#3c59a6"/>
<circle cx="131.7" cy="271.7" r="0.45" fill="#3c59a6"/>
<circle cx="139.0" cy="271.5" r="0.45" fill="#3c59a6"/>
<circle cx="146.3" cy="271.3" r="0.45" fill="#3e60aa"/>
<path fill="#3e60aa" d="M153.5 271.1 L153.5 271.2 L153.3 271.2 L153.9 271.8 L153.8 271.0 L153.7 271.1 L153.6 271.1 Z"/>
<path fill="#3f62ab" d="M160.8 270.9 L160.8 271.0 L160.6 271.0 L161.1 271.7 L161.1 270.8 L160.9 271.0 L160.9 270.9 Z"/>
<path fill="#416aaf" d="M168.0 270.8 L168.1 270.9 L167.8 270.8 L168.5 271.8 L168.4 270.6 L168.3 270.8 L168.2 270.7 Z"/>
<path fill="#426cb0" d="M175.3 270.6 L175.3 270.7 L175.1 270.6 L175.8 271.6 L175.7 270.4 L175.6 270.6 L175.5 270.5 Z"/>
<path fill="#436fb1" d="M182.6 270.4 L182.6 270.5 L182.3 270.4 L183.0 271.5 L183.0 270.2 L182.8 270.4 L182.8 270.3 Z"/>
<path fill="#436fb1" d="M189.9 270.2 L189.9 270.3 L189.6 270.3 L190.5 271.3 L190.3 270.0 L190.2 270.2 L190.1 270.1 Z"/>
<path fill="#4b7db8" d="M197.1 270.0 L197.2 270.2 L196.8 270.2 L197.9 271.6 L197.8 269.8 L197.5 270.1 L197.4 269.9 Z"/>
<path fill="#4d7fb9" d="M204.4 269.8 L204.4 270.0 L204.0 270.0 L205.3 271.5 L205.1 269.6 L204.8 269.9 L204.7 269.7 Z"/>
<path fill="#4f81ba" d="M211.7 269.7 L211.7 269.8 L211.3 269.8 L212.6 271.4 L212.4 269.4 L212.1 269.7 L212.0 269.5 Z"/>
<path fill="#5c90c2" d="M218.9 269.5 L219.0 269.7 L218.4 269.7 L220.1 271.8 L219.8 269.1 L219.5 269.5 L219.4 269.3 Z"/>
<path fill="#5e93c3" d="M226.2 269.3 L226.3 269.6 L225.7 269.6 L227.7 271.5 L227.1 268.8 L226.8 269.3 L226.6 269.1 Z"/>
<path fill="#6095c4" d="M233.5 269.2 L233.6 269.4 L233.0 269.4 L235.0 271.4 L234.4 268.6 L234.1 269.1 L233.9 268.9 Z"/>
<path fill="#6da4cc" d="M240.7 269.0 L240.8 269.3 L240.0 269.3 L242.7 272.0 L241.9 268.3 L241.5 269.0 L241.3 268.7 Z"/>
<path fill="#6ea6ce" d="M247.9 268.8 L248.1 269.1 L247.3 269.1 L249.9 271.9 L249.2 268.1 L248.8 268.8 L248.6 268.5 Z"/>
<path fill="#6ea6ce" d="M255.2 268.6 L255.4 268.9 L254.6 268.9 L257.2 271.7 L256.5 268.0 L256.0 268.6 L255.9 268.3 Z"/>
<path fill="#6da4cc" d="M262.5 268.4 L262.7 268.7 L261.9 268.7 L264.3 271.5 L263.8 267.8 L263.3 268.4 L263.2 268.1 Z"/>
<path fill="#7ab2d4" d="M269.8 268.3 L270.3 269.1 L269.5 269.2 L272.5 271.9 L271.4 268.0 L271.0 268.7 L270.5 267.9 Z"/>
<path fill="#78b0d3" d="M277.1 268.1 L277.5 268.8 L276.6 268.8 L279.6 271.6 L278.6 267.7 L278.2 268.4 L277.7 267.7 Z"/>
<path fill="#74add1" d="M284.4 267.9 L284.6 268.4 L283.8 268.4 L286.7 271.2 L285.8 267.3 L285.3 268.0 L285.0 267.5 Z"/>
<path fill="#81b7d7" d="M291.6 267.7 L292.3 268.9 L291.4 268.9 L294.3 271.8 L293.5 267.8 L293.0 268.5 L292.3 267.3 Z"/>
<path fill="#7ab2d4" d="M298.9 267.5 L299.4 268.4 L298.5 268.4 L301.4 271.2 L300.6 267.3 L300.1 268.0 L299.6 267.1 Z"/>
<path fill="#74add1" d="M306.2 267.4 L306.6 267.8 L305.7 267.9 L309.0 270.3 L307.6 266.5 L307.2 267.3 L306.9 266.9 Z"/>
<path fill="#7db4d5" d="M313.5 267.2 L314.2 268.0 L313.4 268.2 L316.7 270.5 L315.2 266.8 L314.8 267.6 L314.1 266.7 Z"/>
<circle cx="124.6" cy="279.7" r="0.45" fill="#3c59a6"/>
<circle cx="131.9" cy="279.5" r="0.45" fill="#3c59a6"/>
<circle cx="139.2" cy="279.3" r="0.45" fill="#3e5ea8"/>
<path fill="#3e60aa" d="M146.4 279.2 L146.4 279.2 L146.3 279.2 L146.7 279.9 L146.7 279.0 L146.6 279.2 L146.6 279.1 Z"/>
<path fill="#3f62ab" d="M153.7 279.0 L153.7 279.0 L153.5 279.0 L154.0 279.8 L154.0 278.9 L153.9 279.0 L153.8 278.9 Z"/>
<path fill="#426cb0" d="M160.9 278.8 L161.0 278.9 L160.7 278.8 L161.3 279.9 L161.4 278.7 L161.2 278.8 L161.2 278.7 Z"/>
<path fill="#436fb1" d="M168.2 278.6 L168.2 278.7 L168.0 278.6 L168.6 279.8 L168.7 278.5 L168.5 278.7 L168.5 278.5 Z"/>
<path fill="#4471b2" d="M175.5 278.4 L175.5 278.5 L175.2 278.5 L176.0 279.6 L176.0 278.3 L175.8 278.5 L175.7 278.3 Z"/>
<path fill="#4471b2" d="M182.8 278.2 L182.8 278.4 L182.5 278.3 L183.3 279.5 L183.3 278.1 L183.1 278.3 L183.0 278.1 Z"/>
<path fill="#4d7fb9" d="M190.0 278.0 L190.1 278.2 L189.7 278.1 L190.6 279.8 L190.7 277.9 L190.4 278.1 L190.4 277.9 Z"/>
<path fill="#4f81ba" d="M197.3 277.8 L197.3 278.0 L196.9 277.9 L197.9 279.7 L198.0 277.7 L197.7 277.9 L197.7 277.8 Z"/>
<path fill="#4f81ba" d="M204.6 277.7 L204.6 277.9 L204.2 277.8 L205.4 279.5 L205.3 277.4 L205.0 277.7 L204.9 277.5 Z"/>
<path fill="#5c90c2" d="M211.8 277.5 L211.9 277.8 L211.3 277.7 L212.9 279.9 L212.8 277.2 L212.4 277.6 L212.3 277.3 Z"/>
<path fill="#5e93c3" d="M219.1 277.3 L219.2 277.6 L218.6 277.5 L220.2 279.7 L220.1 277.0 L219.7 277.4 L219.6 277.2 Z"/>
<path fill="#6095c4" d="M226.3 277.1 L226.4 277.4 L225.8 277.3 L227.5 279.6 L227.4 276.8 L226.9 277.2 L226.9 277.0 Z"/>
<path fill="#6095c4" d="M233.6 276.9 L233.7 277.2 L233.1 277.1 L234.7 279.5 L234.7 276.6 L234.2 277.0 L234.1 276.8 Z"/>
<path fill="#6ea6ce" d="M240.8 276.8 L241.0 277.2 L240.2 277.2 L242.8 279.9 L242.2 276.2 L241.7 276.8 L241.5 276.5 Z"/>
<path fill="#70a9cf" d="M248.1 276.6 L248.3 277.0 L247.4 277.0 L250.1 279.8 L249.5 276.0 L249.0 276.7 L248.8 276.3 Z"/>
<path fill="#70a9cf" d="M255.4 276.5 L255.6 276.8 L254.7 276.8 L257.4 279.7 L256.8 275.8 L256.2 276.5 L256.1 276.1 Z"/>
<path fill="#81b7d7" d="M262.7 276.3 L263.2 277.5 L262.4 277.5 L265.1 280.5 L264.5 276.5 L263.9 277.2 L263.4 275.9 Z"/>
<path fill="#81b7d7" d="M270.0 276.1 L270.7 277.2 L269.8 277.3 L272.8 280.0 L271.8 276.1 L271.3 276.8 L270.6 275.7 Z"/>
<path fill="#7db4d5" d="M277.3 275.9 L277.8 276.9 L277.0 277.0 L279.9 279.7 L279.0 275.8 L278.5 276.5 L277.9 275.5 Z"/>
<path fill="#7ab2d4" d="M284.5 275.7 L285.0 276.6 L284.1 276.6 L287.0 279.4 L286.2 275.5 L285.7 276.2 L285.2 275.3 Z"/>
<path fill="#8abeda" d="M291.8 275.5 L292.7 277.2 L291.8 277.2 L294.6 280.1 L293.9 276.1 L293.4 276.8 L292.5 275.2 Z"/>
<path fill="#83b9d8" d="M299.1 275.3 L299.7 276.6 L298.9 276.6 L301.6 279.6 L300.9 275.6 L300.4 276.3 L299.8 275.0 Z"/>
<path fill="#7ab2d4" d="M306.4 275.2 L306.9 276.0 L306.1 276.1 L309.1 278.7 L308.0 274.8 L307.6 275.5 L307.0 274.8 Z"/>
<path fill="#83b9d8" d="M313.7 275.0 L314.5 276.3 L313.7 276.4 L316.7 278.9 L315.6 275.1 L315.2 275.8 L314.3 274.6 Z"/>
<circle cx="124.9" cy="287.5" r="0.45" fill="#3b56a5"/>
<circle cx="132.1" cy="287.4" r="0.45" fill="#3e5ea8"/>
<circle cx="139.4" cy="287.2" r="0.45" fill="#3e60aa"/>
<path fill="#3f62ab" d="M146.6 287.0 L146.6 287.1 L146.4 287.0 L146.9 287.8 L146.9 286.9 L146.8 287.0 L146.8 287.0 Z"/>
<path fill="#426cb0" d="M153.9 286.8 L153.9 286.9 L153.6 286.8 L154.2 288.0 L154.3 286.7 L154.1 286.9 L154.1 286.8 Z"/>
<path fill="#436fb1" d="M161.1 286.6 L161.2 286.8 L160.9 286.7 L161.6 287.9 L161.6 286.5 L161.4 286.7 L161.4 286.6 Z"/>
<path fill="#4471b2" d="M168.4 286.4 L168.4 286.6 L168.1 286.5 L168.8 287.8 L168.9 286.3 L168.7 286.5 L168.7 286.4 Z"/>
<path fill="#4574b3" d="M175.7 286.2 L175.7 286.4 L175.4 286.3 L176.1 287.6 L176.2 286.1 L176.0 286.3 L176.0 286.2 Z"/>
<path fill="#4f81ba" d="M182.9 286.1 L182.9 286.2 L182.5 286.1 L183.4 287.9 L183.7 285.9 L183.3 286.2 L183.3 286.0 Z"/>
<path fill="#4f81ba" d="M190.2 285.9 L190.2 286.1 L189.8 286.0 L190.9 287.8 L191.0 285.7 L190.6 286.0 L190.6 285.8 Z"/>
<path fill="#5183bb" d="M197.5 285.7 L197.5 285.9 L197.1 285.8 L198.1 287.6 L198.3 285.5 L197.9 285.8 L197.9 285.6 Z"/>
<path fill="#5183bb" d="M204.8 285.5 L204.8 285.7 L204.3 285.6 L205.4 287.5 L205.6 285.3 L205.2 285.6 L205.2 285.4 Z"/>
<path fill="#6095c4" d="M212.0 285.3 L212.0 285.6 L211.4 285.4 L212.7 287.9 L213.0 285.1 L212.5 285.5 L212.5 285.2 Z"/>
<path fill="#6095c4" d="M219.3 285.2 L219.3 285.4 L218.7 285.3 L220.3 287.7 L220.3 284.8 L219.9 285.3 L219.8 285.0 Z"/>
<path fill="#6095c4" d="M226.5 285.0 L226.6 285.2 L226.0 285.1 L227.5 287.5 L227.6 284.7 L227.1 285.1 L227.1 284.8 Z"/>
<path fill="#6da4cc" d="M233.7 284.8 L233.8 285.1 L233.1 285.0 L235.1 288.1 L235.1 284.4 L234.5 284.9 L234.4 284.6 Z"/>
<path fill="#70a9cf" d="M241.0 284.6 L241.1 285.0 L240.3 284.8 L242.4 288.1 L242.4 284.2 L241.8 284.8 L241.7 284.4 Z"/>
<path fill="#70a9cf" d="M248.3 284.5 L248.5 284.8 L247.6 284.8 L250.3 287.8 L249.7 283.8 L249.2 284.5 L249.0 284.2 Z"/>
<path fill="#72abd0" d="M255.6 284.3 L255.8 284.7 L254.9 284.7 L257.6 287.7 L257.0 283.7 L256.5 284.4 L256.3 284.0 Z"/>
<path fill="#85bbd9" d="M262.9 284.1 L263.5 285.5 L262.7 285.5 L265.3 288.5 L264.8 284.5 L264.2 285.2 L263.6 283.8 Z"/>
<path fill="#83b9d8" d="M270.1 283.9 L270.7 285.3 L269.9 285.2 L272.5 288.3 L272.0 284.3 L271.4 285.0 L270.8 283.6 Z"/>
<path fill="#81b7d7" d="M277.4 283.8 L278.1 285.0 L277.3 285.0 L280.2 287.8 L279.3 283.9 L278.8 284.6 L278.1 283.4 Z"/>
<path fill="#7fb6d6" d="M284.7 283.6 L285.3 284.7 L284.5 284.7 L287.4 287.5 L286.5 283.6 L286.0 284.3 L285.4 283.2 Z"/>
<path fill="#90c3dd" d="M292.0 283.4 L293.1 285.4 L292.2 285.4 L295.0 288.3 L294.3 284.4 L293.8 285.1 L292.7 283.0 Z"/>
<path fill="#87bdd9" d="M299.3 283.2 L300.0 284.8 L299.2 284.8 L301.8 287.8 L301.3 283.8 L300.7 284.5 L300.0 282.8 Z"/>
<path fill="#7fb6d6" d="M306.6 283.0 L307.2 284.1 L306.4 284.2 L309.3 286.9 L308.4 283.0 L307.9 283.7 L307.2 282.6 Z"/>
<path fill="#8abeda" d="M313.8 282.8 L314.8 284.5 L313.9 284.5 L316.7 287.4 L315.9 283.4 L315.4 284.1 L314.5 282.4 Z"/>
<path fill="#3f62ab" d="M139.6 295.0 L139.6 295.1 L139.4 295.1 L139.8 295.8 L139.9 295.0 L139.7 295.1 L139.7 295.0 Z"/>
<path fill="#426cb0" d="M146.8 294.8 L146.8 295.0 L146.6 294.9 L147.0 296.0 L147.3 294.8 L147.0 294.9 L147.0 294.8 Z"/>
<path fill="#4471b2" d="M154.1 294.7 L154.1 294.8 L153.8 294.7 L154.4 295.9 L154.6 294.6 L154.3 294.7 L154.3 294.6 Z"/>
<path fill="#4574b3" d="M161.3 294.5 L161.4 294.6 L161.1 294.5 L161.7 295.8 L161.9 294.4 L161.6 294.6 L161.6 294.4 Z"/>
<path fill="#4574b3" d="M168.6 294.3 L168.6 294.4 L168.3 294.3 L168.9 295.7 L169.2 294.2 L168.9 294.4 L168.9 294.2 Z"/>
<path fill="#4f81ba" d="M175.8 294.1 L175.9 294.3 L175.5 294.2 L176.4 296.0 L176.6 293.9 L176.3 294.2 L176.2 294.0 Z"/>
<path fill="#5183bb" d="M183.1 293.9 L183.1 294.1 L182.7 294.0 L183.6 295.9 L183.9 293.8 L183.5 294.0 L183.5 293.8 Z"/>
<path fill="#5183bb" d="M190.4 293.7 L190.4 293.9 L190.0 293.8 L190.9 295.7 L191.2 293.6 L190.8 293.9 L190.8 293.7 Z"/>
<path fill="#5385bd" d="M197.7 293.5 L197.7 293.7 L197.2 293.5 L198.1 295.6 L198.5 293.4 L198.1 293.7 L198.1 293.5 Z"/>
<path fill="#6095c4" d="M204.9 293.4 L204.9 293.6 L204.3 293.5 L205.7 296.0 L206.0 293.1 L205.5 293.5 L205.4 293.2 Z"/>
<path fill="#6297c6" d="M212.2 293.2 L212.2 293.4 L211.6 293.2 L212.9 295.9 L213.3 293.0 L212.8 293.3 L212.7 293.1 Z"/>
<path fill="#6297c6" d="M219.4 293.0 L219.5 293.2 L218.9 293.0 L220.1 295.7 L220.5 292.8 L220.0 293.2 L220.0 292.9 Z"/>
<path fill="#6297c6" d="M226.7 292.8 L226.7 293.0 L226.2 292.8 L227.3 295.5 L227.8 292.6 L227.3 293.0 L227.3 292.7 Z"/>
<path fill="#6ea6ce" d="M233.9 292.6 L234.0 293.0 L233.2 292.8 L235.2 296.1 L235.3 292.3 L234.7 292.8 L234.6 292.4 Z"/>
<path fill="#70a9cf" d="M241.2 292.4 L241.3 292.8 L240.5 292.7 L242.6 296.0 L242.6 292.0 L242.0 292.6 L241.9 292.2 Z"/>
<path fill="#72abd0" d="M248.5 292.3 L248.6 292.7 L247.7 292.5 L249.9 295.9 L249.9 291.9 L249.3 292.4 L249.2 292.1 Z"/>
<path fill="#72abd0" d="M255.8 292.1 L255.9 292.5 L255.1 292.5 L257.7 295.5 L257.2 291.5 L256.7 292.2 L256.5 291.8 Z"/>
<path fill="#85bbd9" d="M263.0 291.9 L263.7 293.4 L262.8 293.4 L265.5 296.4 L264.9 292.4 L264.4 293.1 L263.7 291.6 Z"/>
<path fill="#85bbd9" d="M270.3 291.7 L270.9 293.2 L270.1 293.1 L272.7 296.2 L272.2 292.2 L271.6 292.9 L271.0 291.4 Z"/>
<path fill="#83b9d8" d="M277.6 291.5 L278.2 292.9 L277.3 292.8 L279.8 296.0 L279.4 292.0 L278.9 292.6 L278.3 291.2 Z"/>
<path fill="#81b7d7" d="M284.9 291.4 L285.5 292.6 L284.7 292.6 L287.6 295.4 L286.7 291.5 L286.2 292.2 L285.6 291.0 Z"/>
<path fill="#92c5de" d="M292.2 291.2 L293.3 293.3 L292.4 293.3 L295.2 296.2 L294.5 292.3 L293.9 293.0 L292.9 290.8 Z"/>
<path fill="#8abeda" d="M299.4 291.0 L300.2 292.7 L299.4 292.7 L302.0 295.7 L301.5 291.8 L300.9 292.4 L300.1 290.7 Z"/>
<path fill="#81b7d7" d="M306.7 290.8 L307.4 292.0 L306.6 292.1 L309.5 294.9 L308.6 291.0 L308.1 291.7 L307.4 290.4 Z"/>
<path fill="#78b0d3" d="M314.0 290.6 L314.4 291.3 L313.5 291.4 L316.3 294.2 L315.6 290.3 L315.1 291.0 L314.7 290.3 Z"/>
<path fill="#436fb1" d="M147.0 302.7 L147.0 302.8 L146.7 302.7 L147.3 303.9 L147.5 302.6 L147.3 302.8 L147.3 302.7 Z"/>
<path fill="#4471b2" d="M154.3 302.5 L154.3 302.6 L154.0 302.5 L154.5 303.9 L154.8 302.4 L154.6 302.6 L154.5 302.5 Z"/>
<path fill="#4574b3" d="M161.5 302.3 L161.5 302.4 L161.2 302.3 L161.7 303.7 L162.1 302.3 L161.8 302.4 L161.8 302.3 Z"/>
<path fill="#4f81ba" d="M168.8 302.1 L168.8 302.3 L168.4 302.2 L169.2 304.0 L169.5 302.0 L169.2 302.3 L169.2 302.1 Z"/>
<path fill="#5183bb" d="M176.0 301.9 L176.1 302.1 L175.6 302.0 L176.4 303.9 L176.8 301.8 L176.5 302.1 L176.4 301.9 Z"/>
<path fill="#5385bd" d="M183.3 301.7 L183.3 301.9 L182.9 301.7 L183.6 303.8 L184.1 301.7 L183.7 301.9 L183.7 301.7 Z"/>
<path fill="#5385bd" d="M190.6 301.6 L190.6 301.8 L190.2 301.6 L191.1 303.6 L191.4 301.4 L191.0 301.7 L191.0 301.5 Z"/>
<path fill="#6297c6" d="M197.8 301.4 L197.8 301.6 L197.2 301.4 L198.4 304.1 L198.9 301.2 L198.4 301.6 L198.4 301.3 Z"/>
<path fill="#6297c6" d="M205.1 301.2 L205.1 301.4 L204.5 301.2 L205.5 304.0 L206.2 301.1 L205.7 301.4 L205.6 301.1 Z"/>
<path fill="#6297c6" d="M212.3 301.0 L212.4 301.3 L211.8 301.1 L213.1 303.8 L213.5 300.8 L213.0 301.2 L212.9 300.9 Z"/>
<path fill="#6297c6" d="M219.6 300.8 L219.7 301.1 L219.1 300.9 L220.3 303.6 L220.8 300.6 L220.2 301.0 L220.2 300.7 Z"/>
<path fill="#6ea6ce" d="M226.8 300.6 L226.9 301.0 L226.1 300.7 L227.6 304.2 L228.3 300.4 L227.6 300.9 L227.6 300.5 Z"/>
<path fill="#70a9cf" d="M234.1 300.4 L234.1 300.8 L233.3 300.5 L234.9 304.1 L235.6 300.3 L234.9 300.7 L234.8 300.3 Z"/>
<path fill="#70a9cf" d="M241.4 300.3 L241.5 300.7 L240.6 300.5 L242.7 303.9 L242.9 299.9 L242.2 300.5 L242.1 300.1 Z"/>
<path fill="#72abd0" d="M248.7 300.1 L248.8 300.5 L247.9 300.3 L250.0 303.7 L250.1 299.7 L249.5 300.3 L249.4 299.9 Z"/>
<path fill="#83b9d8" d="M255.9 299.9 L256.3 301.3 L255.5 301.2 L257.6 304.6 L257.7 300.6 L257.1 301.1 L256.7 299.7 Z"/>
<path fill="#83b9d8" d="M263.2 299.8 L263.8 301.2 L263.0 301.1 L265.6 304.2 L265.1 300.2 L264.5 300.9 L263.9 299.5 Z"/>
<path fill="#83b9d8" d="M270.5 299.6 L271.1 300.9 L270.2 300.9 L272.8 304.0 L272.4 300.0 L271.8 300.6 L271.2 299.3 Z"/>
<path fill="#81b7d7" d="M277.8 299.4 L278.3 300.7 L277.5 300.6 L280.0 303.7 L279.6 299.7 L279.0 300.4 L278.5 299.1 Z"/>
<path fill="#7fb6d6" d="M285.1 299.2 L285.7 300.3 L284.8 300.3 L287.7 303.2 L286.8 299.2 L286.4 299.9 L285.8 298.9 Z"/>
<path fill="#90c3dd" d="M292.3 299.0 L293.4 301.1 L292.5 301.1 L295.3 304.0 L294.6 300.0 L294.1 300.7 L293.0 298.7 Z"/>
<path fill="#8abeda" d="M299.6 298.8 L300.4 300.5 L299.5 300.5 L302.2 303.5 L301.6 299.5 L301.1 300.2 L300.3 298.5 Z"/>
<path fill="#81b7d7" d="M306.9 298.7 L307.6 299.8 L306.7 299.9 L309.6 302.6 L308.7 298.7 L308.3 299.4 L307.6 298.3 Z"/>
<path fill="#76afd2" d="M314.2 298.5 L314.5 299.1 L313.7 299.1 L316.5 302.0 L315.7 298.1 L315.2 298.8 L314.9 298.1 Z"/>
<path fill="#7fb6d6" d="M321.5 298.3 L322.0 299.3 L321.1 299.3 L323.9 302.3 L323.2 298.3 L322.7 299.0 L322.1 297.9 Z"/>
<path fill="#72abd0" d="M328.7 298.1 L329.0 298.5 L328.1 298.5 L330.8 301.5 L330.2 297.5 L329.6 298.2 L329.4 297.7 Z"/>
<path fill="#4471b2" d="M147.2 310.5 L147.2 310.7 L146.9 310.5 L147.4 311.8 L147.7 310.5 L147.5 310.6 L147.5 310.5 Z"/>
<path fill="#4d7fb9" d="M154.4 310.3 L154.4 310.5 L154.1 310.3 L154.6 312.2 L155.2 310.3 L154.8 310.5 L154.8 310.3 Z"/>
<path fill="#4f81ba" d="M161.7 310.1 L161.7 310.3 L161.3 310.2 L162.1 312.1 L162.5 310.1 L162.1 310.3 L162.1 310.1 Z"/>
<path fill="#4f81ba" d="M169.0 309.9 L169.0 310.1 L168.6 310.0 L169.2 311.9 L169.8 309.9 L169.4 310.1 L169.4 309.9 Z"/>
<path fill="#5183bb" d="M176.2 309.7 L176.2 310.0 L175.8 309.7 L176.4 311.8 L177.1 309.8 L176.7 310.0 L176.7 309.8 Z"/>
<path fill="#5183bb" d="M183.5 309.6 L183.5 309.8 L183.1 309.6 L183.9 311.6 L184.3 309.5 L184.0 309.7 L183.9 309.5 Z"/>
<path fill="#6095c4" d="M190.7 309.4 L190.7 309.7 L190.2 309.4 L191.1 312.1 L191.8 309.3 L191.3 309.6 L191.3 309.4 Z"/>
<path fill="#6297c6" d="M198.0 309.2 L198.0 309.5 L197.4 309.2 L198.2 312.0 L199.1 309.2 L198.6 309.5 L198.6 309.2 Z"/>
<path fill="#6399c7" d="M205.3 309.0 L205.3 309.3 L204.7 309.1 L205.8 311.8 L206.4 308.9 L205.9 309.2 L205.8 309.0 Z"/>
<path fill="#6399c7" d="M212.5 308.8 L212.6 309.1 L212.0 308.8 L213.0 311.7 L213.7 308.8 L213.1 309.1 L213.1 308.8 Z"/>
<path fill="#6ea6ce" d="M219.7 308.6 L219.7 309.0 L219.0 308.6 L220.1 312.3 L221.2 308.6 L220.5 309.0 L220.5 308.6 Z"/>
<path fill="#70a9cf" d="M227.0 308.5 L227.1 308.8 L226.3 308.5 L227.8 312.1 L228.5 308.3 L227.8 308.7 L227.8 308.4 Z"/>
<path fill="#70a9cf" d="M234.3 308.3 L234.3 308.6 L233.5 308.3 L235.0 312.0 L235.8 308.1 L235.1 308.6 L235.0 308.2 Z"/>
<path fill="#70a9cf" d="M241.6 308.1 L241.6 308.4 L240.8 308.1 L242.3 311.8 L243.1 307.9 L242.3 308.4 L242.3 308.0 Z"/>
<path fill="#70a9cf" d="M248.8 307.9 L248.9 308.3 L248.1 308.1 L250.1 311.5 L250.3 307.6 L249.7 308.1 L249.6 307.7 Z"/>
<path fill="#81b7d7" d="M256.1 307.7 L256.5 309.1 L255.6 308.9 L257.7 312.3 L257.9 308.3 L257.2 308.9 L256.9 307.5 Z"/>
<path fill="#81b7d7" d="M263.4 307.6 L263.8 308.9 L262.9 308.7 L265.1 312.1 L265.1 308.1 L264.5 308.7 L264.1 307.3 Z"/>
<path fill="#81b7d7" d="M270.7 307.4 L271.2 308.7 L270.4 308.6 L272.9 311.7 L272.5 307.7 L271.9 308.4 L271.4 307.1 Z"/>
<path fill="#7fb6d6" d="M278.0 307.2 L278.5 308.4 L277.6 308.3 L280.1 311.4 L279.7 307.4 L279.2 308.1 L278.7 306.9 Z"/>
<path fill="#7db4d5" d="M285.3 307.1 L285.8 308.0 L285.0 308.1 L287.9 310.9 L287.0 306.9 L286.5 307.7 L285.9 306.7 Z"/>
<path fill="#8ec2dc" d="M292.5 306.9 L293.5 308.8 L292.7 308.8 L295.5 311.7 L294.7 307.7 L294.2 308.4 L293.2 306.5 Z"/>
<path fill="#87bdd9" d="M299.8 306.7 L300.6 308.2 L299.7 308.2 L302.4 311.2 L301.8 307.2 L301.2 307.9 L300.5 306.3 Z"/>
<path fill="#7fb6d6" d="M307.1 306.5 L307.7 307.5 L306.9 307.6 L309.8 310.3 L308.8 306.4 L308.4 307.1 L307.8 306.1 Z"/>
<path fill="#74add1" d="M314.4 306.3 L314.7 306.8 L313.8 306.9 L316.6 309.7 L315.8 305.8 L315.3 306.5 L315.0 305.9 Z"/>
<path fill="#7db4d5" d="M321.6 306.1 L322.1 307.0 L321.2 307.0 L324.0 310.0 L323.3 306.0 L322.8 306.7 L322.3 305.7 Z"/>
<path fill="#70a9cf" d="M328.9 305.9 L329.1 306.3 L328.3 306.4 L331.3 308.9 L330.2 305.1 L329.8 305.8 L329.6 305.5 Z"/>
<path fill="#69a0ca" d="M336.3 305.7 L336.4 306.0 L335.7 306.0 L338.2 308.3 L337.4 305.0 L337.0 305.6 L336.8 305.4 Z"/>
<path fill="#4d7fb9" d="M154.6 318.2 L154.7 318.4 L154.3 318.2 L154.9 320.0 L155.4 318.1 L155.0 318.3 L155.0 318.2 Z"/>
<path fill="#4f81ba" d="M161.9 318.0 L161.9 318.2 L161.5 318.0 L162.1 319.9 L162.7 318.0 L162.3 318.2 L162.3 318.0 Z"/>
<path fill="#4f81ba" d="M169.2 317.8 L169.2 318.0 L168.8 317.8 L169.3 319.7 L170.0 317.8 L169.6 318.0 L169.6 317.8 Z"/>
<path fill="#4f81ba" d="M176.5 317.6 L176.5 317.8 L176.1 317.6 L176.7 319.6 L177.2 317.6 L176.9 317.8 L176.9 317.6 Z"/>
<path fill="#5c90c2" d="M183.7 317.4 L183.7 317.7 L183.2 317.4 L183.9 320.0 L184.7 317.4 L184.2 317.7 L184.2 317.4 Z"/>
<path fill="#6095c4" d="M190.9 317.2 L191.0 317.5 L190.4 317.3 L191.4 319.9 L192.0 317.1 L191.5 317.5 L191.5 317.2 Z"/>
<path fill="#6297c6" d="M198.2 317.0 L198.2 317.3 L197.6 317.0 L198.5 319.8 L199.3 317.0 L198.8 317.3 L198.8 317.0 Z"/>
<path fill="#6297c6" d="M205.5 316.8 L205.5 317.1 L204.9 316.8 L205.7 319.7 L206.6 316.8 L206.0 317.1 L206.0 316.8 Z"/>
<path fill="#6297c6" d="M212.7 316.7 L212.8 316.9 L212.2 316.7 L213.2 319.4 L213.9 316.6 L213.3 316.9 L213.3 316.6 Z"/>
<path fill="#6ea6ce" d="M219.9 316.5 L219.9 316.8 L219.2 316.5 L220.4 320.1 L221.4 316.4 L220.7 316.8 L220.7 316.4 Z"/>
<path fill="#6ea6ce" d="M227.2 316.2 L227.2 316.6 L226.5 316.2 L227.5 319.9 L228.7 316.3 L227.9 316.6 L227.9 316.3 Z"/>
<path fill="#70a9cf" d="M234.5 316.1 L234.5 316.5 L233.7 316.2 L235.2 319.8 L236.0 316.0 L235.3 316.4 L235.2 316.0 Z"/>
<path fill="#70a9cf" d="M241.8 315.9 L241.8 316.3 L241.0 316.0 L242.4 319.6 L243.2 315.8 L242.5 316.2 L242.5 315.8 Z"/>
<path fill="#6ea6ce" d="M249.0 315.8 L249.1 316.1 L248.3 315.9 L250.3 319.2 L250.5 315.4 L249.8 315.9 L249.8 315.6 Z"/>
<path fill="#7fb6d6" d="M256.3 315.6 L256.6 316.7 L255.8 316.6 L257.9 320.0 L258.0 316.0 L257.4 316.5 L257.0 315.4 Z"/>
<path fill="#7fb6d6" d="M263.6 315.4 L263.9 316.5 L263.0 316.4 L265.2 319.8 L265.3 315.7 L264.6 316.3 L264.3 315.2 Z"/>
<path fill="#7db4d5" d="M270.9 315.2 L271.3 316.3 L270.5 316.3 L273.1 319.3 L272.6 315.3 L272.0 316.0 L271.6 314.9 Z"/>
<path fill="#7db4d5" d="M278.1 315.1 L278.6 316.1 L277.7 316.0 L280.3 319.1 L279.8 315.1 L279.3 315.7 L278.9 314.7 Z"/>
<path fill="#90c3dd" d="M285.4 314.9 L286.3 316.9 L285.4 316.9 L288.0 320.0 L287.6 316.0 L287.0 316.6 L286.1 314.6 Z"/>
<path fill="#8cc0db" d="M292.7 314.7 L293.7 316.5 L292.8 316.5 L295.7 319.3 L294.9 315.4 L294.4 316.1 L293.4 314.3 Z"/>
<path fill="#85bbd9" d="M300.0 314.5 L300.7 315.9 L299.8 315.9 L302.6 318.9 L301.9 314.9 L301.4 315.6 L300.7 314.2 Z"/>
<path fill="#7db4d5" d="M307.3 314.3 L307.8 315.2 L307.0 315.3 L310.0 318.0 L308.9 314.1 L308.5 314.8 L307.9 313.9 Z"/>
<path fill="#72abd0" d="M314.5 314.1 L314.8 314.5 L313.9 314.6 L316.8 317.4 L315.9 313.4 L315.4 314.1 L315.2 313.8 Z"/>
<path fill="#78b0d3" d="M321.8 313.9 L322.2 314.6 L321.3 314.6 L324.1 317.6 L323.4 313.6 L322.9 314.3 L322.5 313.6 Z"/>
<path fill="#6ea6ce" d="M329.1 313.7 L329.3 314.1 L328.5 314.1 L331.4 316.6 L330.3 313.0 L329.9 313.7 L329.7 313.4 Z"/>
<path fill="#679ec9" d="M336.4 313.5 L336.6 313.8 L335.9 313.8 L338.3 316.0 L337.5 312.9 L337.1 313.5 L337.0 313.2 Z"/>
<path fill="#578abf" d="M169.4 325.6 L169.4 325.9 L168.9 325.6 L169.6 327.9 L170.3 325.6 L169.8 325.9 L169.8 325.6 Z"/>
<path fill="#578abf" d="M176.6 325.4 L176.6 325.7 L176.2 325.4 L176.8 327.8 L177.6 325.5 L177.1 325.7 L177.1 325.4 Z"/>
<path fill="#588cc0" d="M183.9 325.3 L183.9 325.5 L183.4 325.3 L184.3 327.7 L184.9 325.2 L184.4 325.5 L184.4 325.2 Z"/>
<path fill="#5c90c2" d="M191.2 325.1 L191.2 325.3 L190.6 325.0 L191.4 327.6 L192.2 325.1 L191.7 325.3 L191.7 325.1 Z"/>
<path fill="#5e93c3" d="M198.4 324.8 L198.4 325.1 L197.9 324.8 L198.5 327.5 L199.5 324.9 L198.9 325.1 L198.9 324.9 Z"/>
<path fill="#5e93c3" d="M205.7 324.7 L205.7 324.9 L205.2 324.7 L206.0 327.3 L206.8 324.7 L206.2 324.9 L206.2 324.7 Z"/>
<path fill="#6ba2cb" d="M212.9 324.5 L212.9 324.8 L212.2 324.4 L213.1 327.9 L214.3 324.5 L213.6 324.8 L213.6 324.5 Z"/>
<path fill="#6da4cc" d="M220.2 324.3 L220.2 324.6 L219.5 324.3 L220.7 327.7 L221.5 324.2 L220.9 324.6 L220.8 324.3 Z"/>
<path fill="#6da4cc" d="M227.4 324.1 L227.4 324.4 L226.7 324.1 L227.8 327.6 L228.8 324.1 L228.1 324.4 L228.1 324.1 Z"/>
<path fill="#6da4cc" d="M234.7 323.9 L234.7 324.2 L234.0 323.9 L234.9 327.4 L236.1 323.9 L235.4 324.3 L235.4 323.9 Z"/>
<path fill="#6da4cc" d="M242.0 323.7 L242.0 324.1 L241.3 323.8 L242.6 327.2 L243.4 323.6 L242.7 324.0 L242.7 323.7 Z"/>
<path fill="#7ab2d4" d="M249.2 323.6 L249.3 324.5 L248.5 324.2 L250.1 327.9 L250.8 324.0 L250.1 324.4 L250.0 323.5 Z"/>
<path fill="#7ab2d4" d="M256.5 323.4 L256.7 324.3 L255.9 324.1 L258.0 327.5 L258.1 323.5 L257.5 324.1 L257.2 323.2 Z"/>
<path fill="#78b0d3" d="M263.8 323.2 L264.0 324.1 L263.2 323.9 L265.4 327.3 L265.4 323.3 L264.8 323.9 L264.5 323.0 Z"/>
<path fill="#78b0d3" d="M271.1 323.1 L271.4 323.9 L270.6 323.8 L273.2 326.9 L272.7 322.9 L272.1 323.5 L271.8 322.8 Z"/>
<path fill="#78b0d3" d="M278.3 322.9 L278.7 323.6 L277.8 323.6 L280.5 326.6 L279.9 322.6 L279.4 323.3 L279.0 322.6 Z"/>
<path fill="#8cc0db" d="M285.6 322.7 L286.4 324.5 L285.6 324.5 L288.2 327.5 L287.7 323.5 L287.1 324.2 L286.3 322.4 Z"/>
<path fill="#8abeda" d="M292.9 322.6 L293.9 324.2 L293.0 324.3 L296.0 327.0 L295.0 323.1 L294.6 323.8 L293.6 322.2 Z"/>
<path fill="#83b9d8" d="M300.2 322.3 L300.9 323.6 L300.0 323.7 L302.9 326.5 L302.0 322.5 L301.5 323.2 L300.8 322.0 Z"/>
<path fill="#78b0d3" d="M307.4 322.2 L307.9 322.9 L307.1 323.0 L310.2 325.5 L309.0 321.7 L308.6 322.4 L308.1 321.8 Z"/>
<path fill="#6ea6ce" d="M314.7 322.0 L314.9 322.3 L314.1 322.3 L316.9 325.0 L316.0 321.2 L315.5 321.9 L315.4 321.6 Z"/>
<path fill="#679ec9" d="M322.0 321.7 L322.2 322.0 L321.5 322.0 L323.7 324.3 L323.1 321.2 L322.7 321.7 L322.6 321.4 Z"/>
<path fill="#6ba2cb" d="M329.3 321.6 L329.5 321.8 L328.7 321.9 L331.4 324.2 L330.4 320.9 L330.0 321.5 L329.9 321.2 Z"/>
<path fill="#6297c6" d="M336.6 321.3 L336.8 321.6 L336.1 321.6 L338.3 323.7 L337.6 320.8 L337.2 321.3 L337.1 321.0 Z"/>
<path fill="#5183bb" d="M176.9 333.3 L176.9 333.5 L176.5 333.3 L177.2 335.3 L177.7 333.3 L177.3 333.5 L177.3 333.3 Z"/>
<path fill="#5385bd" d="M184.1 333.1 L184.1 333.3 L183.7 333.1 L184.3 335.2 L185.0 333.1 L184.6 333.3 L184.6 333.1 Z"/>
<path fill="#5588be" d="M191.4 332.9 L191.4 333.1 L190.9 332.9 L191.7 335.1 L192.3 332.9 L191.9 333.1 L191.8 332.9 Z"/>
<path fill="#659bc8" d="M198.6 332.7 L198.6 333.0 L198.0 332.7 L198.9 335.7 L199.8 332.7 L199.2 333.0 L199.2 332.7 Z"/>
<path fill="#679ec9" d="M205.8 332.5 L205.8 332.8 L205.2 332.4 L205.9 335.6 L207.1 332.6 L206.4 332.8 L206.5 332.5 Z"/>
<path fill="#679ec9" d="M213.1 332.3 L213.1 332.6 L212.5 332.3 L213.5 335.5 L214.4 332.3 L213.7 332.6 L213.7 332.3 Z"/>
<path fill="#679ec9" d="M220.4 332.1 L220.4 332.4 L219.7 332.1 L220.6 335.3 L221.6 332.2 L221.0 332.5 L221.0 332.1 Z"/>
<path fill="#679ec9" d="M227.6 331.9 L227.7 332.3 L227.0 332.0 L228.1 335.1 L228.9 331.9 L228.3 332.2 L228.3 331.9 Z"/>
<path fill="#679ec9" d="M234.9 331.7 L234.9 332.1 L234.3 331.7 L235.3 334.9 L236.2 331.7 L235.6 332.0 L235.6 331.7 Z"/>
<path fill="#74add1" d="M242.1 331.6 L242.2 332.2 L241.4 331.9 L243.1 335.6 L243.7 331.6 L243.0 332.1 L242.9 331.5 Z"/>
<path fill="#74add1" d="M249.4 331.4 L249.5 332.0 L248.7 331.7 L250.4 335.3 L250.9 331.4 L250.2 331.9 L250.2 331.3 Z"/>
<path fill="#74add1" d="M256.7 331.2 L256.8 331.8 L255.9 331.5 L257.7 335.1 L258.2 331.1 L257.5 331.6 L257.4 331.1 Z"/>
<path fill="#74add1" d="M264.0 331.1 L264.1 331.6 L263.3 331.5 L265.6 334.7 L265.5 330.7 L264.8 331.3 L264.7 330.8 Z"/>
<path fill="#72abd0" d="M271.2 330.9 L271.4 331.4 L270.5 331.2 L272.9 334.5 L272.7 330.5 L272.1 331.1 L272.0 330.6 Z"/>
<path fill="#72abd0" d="M278.5 330.7 L278.7 331.2 L277.9 331.2 L280.7 334.1 L279.9 330.1 L279.4 330.8 L279.2 330.4 Z"/>
<path fill="#83b9d8" d="M285.8 330.6 L286.5 331.9 L285.6 331.9 L288.4 334.8 L287.7 330.9 L287.2 331.6 L286.5 330.2 Z"/>
<path fill="#83b9d8" d="M293.1 330.4 L293.9 331.6 L293.0 331.7 L296.1 334.3 L294.9 330.4 L294.5 331.2 L293.7 330.0 Z"/>
<path fill="#7db4d5" d="M300.3 330.2 L300.9 331.1 L300.0 331.2 L303.0 333.9 L302.0 330.0 L301.5 330.7 L301.0 329.8 Z"/>
<path fill="#74add1" d="M307.6 330.0 L307.9 330.4 L307.1 330.6 L310.2 333.0 L309.0 329.2 L308.6 330.0 L308.3 329.6 Z"/>
<path fill="#6ba2cb" d="M314.9 329.8 L315.1 330.1 L314.3 330.1 L317.0 332.5 L316.1 329.1 L315.7 329.7 L315.5 329.4 Z"/>
<path fill="#6399c7" d="M322.2 329.5 L322.4 329.8 L321.7 329.8 L323.8 331.9 L323.2 329.0 L322.9 329.5 L322.7 329.3 Z"/>
<path fill="#679ec9" d="M329.5 329.4 L329.7 329.6 L329.0 329.7 L331.4 331.8 L330.5 328.7 L330.2 329.3 L330.0 329.0 Z"/>
<path fill="#5e93c3" d="M336.8 329.2 L336.9 329.4 L336.3 329.4 L338.3 331.3 L337.7 328.6 L337.4 329.1 L337.2 328.9 Z"/>
<path fill="#5588be" d="M344.1 329.0 L344.2 329.1 L343.8 329.2 L345.6 330.6 L344.8 328.4 L344.6 328.9 L344.5 328.7 Z"/>
<path fill="#4a7ab7" d="M177.1 341.1 L177.1 341.3 L176.8 341.1 L177.2 342.9 L177.8 341.1 L177.5 341.3 L177.5 341.1 Z"/>
<path fill="#4b7db8" d="M184.4 340.9 L184.4 341.1 L184.0 341.0 L184.6 342.8 L185.1 340.9 L184.7 341.1 L184.7 340.9 Z"/>
<path fill="#5c90c2" d="M191.6 340.7 L191.6 341.0 L191.1 340.7 L191.8 343.3 L192.6 340.8 L192.1 341.0 L192.1 340.7 Z"/>
<path fill="#5e93c3" d="M198.8 340.6 L198.8 340.8 L198.3 340.6 L199.2 343.2 L199.9 340.5 L199.4 340.8 L199.4 340.5 Z"/>
<path fill="#6095c4" d="M206.1 340.3 L206.1 340.6 L205.5 340.3 L206.3 343.1 L207.2 340.4 L206.6 340.6 L206.6 340.4 Z"/>
<path fill="#6297c6" d="M213.3 340.1 L213.3 340.4 L212.8 340.1 L213.4 343.0 L214.5 340.2 L213.9 340.5 L213.9 340.2 Z"/>
<path fill="#6297c6" d="M220.6 340.0 L220.6 340.3 L220.0 340.0 L221.0 342.8 L221.7 339.9 L221.2 340.2 L221.2 340.0 Z"/>
<path fill="#6297c6" d="M227.9 339.8 L227.9 340.0 L227.3 339.7 L228.1 342.6 L229.0 339.8 L228.4 340.1 L228.4 339.8 Z"/>
<path fill="#6ea6ce" d="M235.1 339.6 L235.1 340.0 L234.4 339.7 L235.7 343.2 L236.5 339.5 L235.8 339.9 L235.8 339.5 Z"/>
<path fill="#6ea6ce" d="M242.3 339.4 L242.4 339.8 L241.6 339.4 L242.9 343.0 L243.8 339.3 L243.1 339.7 L243.1 339.4 Z"/>
<path fill="#6ea6ce" d="M249.6 339.3 L249.7 339.6 L248.9 339.4 L250.7 342.7 L251.0 339.0 L250.4 339.5 L250.3 339.1 Z"/>
<path fill="#6ea6ce" d="M256.9 339.1 L257.0 339.4 L256.2 339.2 L258.0 342.5 L258.3 338.8 L257.7 339.3 L257.6 338.9 Z"/>
<path fill="#6ea6ce" d="M264.2 338.9 L264.3 339.3 L263.5 339.2 L265.8 342.2 L265.5 338.4 L265.0 339.0 L264.8 338.7 Z"/>
<path fill="#6da4cc" d="M271.4 338.7 L271.6 339.1 L270.8 339.0 L273.1 341.9 L272.8 338.2 L272.2 338.8 L272.1 338.5 Z"/>
<path fill="#6da4cc" d="M278.7 338.6 L278.9 338.9 L278.1 338.9 L280.8 341.4 L280.0 337.9 L279.5 338.5 L279.3 338.2 Z"/>
<path fill="#7ab2d4" d="M286.0 338.4 L286.4 339.2 L285.6 339.3 L288.5 342.0 L287.6 338.1 L287.1 338.8 L286.6 338.0 Z"/>
<path fill="#78b0d3" d="M293.3 338.2 L293.7 338.9 L292.9 339.0 L296.1 341.5 L294.7 337.7 L294.4 338.4 L293.9 337.8 Z"/>
<path fill="#74add1" d="M300.5 338.0 L300.8 338.5 L299.9 338.6 L303.0 341.2 L301.9 337.3 L301.4 338.0 L301.2 337.6 Z"/>
<path fill="#6da4cc" d="M307.8 337.8 L308.0 338.1 L307.2 338.1 L309.8 340.8 L309.1 337.1 L308.6 337.8 L308.4 337.5 Z"/>
<path fill="#679ec9" d="M315.1 337.6 L315.3 337.9 L314.6 337.9 L317.1 340.0 L316.2 336.9 L315.8 337.5 L315.6 337.3 Z"/>
<path fill="#5e93c3" d="M322.4 337.4 L322.6 337.6 L322.0 337.6 L323.9 339.5 L323.3 336.9 L323.0 337.3 L322.9 337.1 Z"/>
<path fill="#5385bd" d="M329.7 337.2 L329.9 337.3 L329.4 337.4 L331.1 338.8 L330.5 336.7 L330.2 337.1 L330.1 336.9 Z"/>
<path fill="#578abf" d="M337.0 337.0 L337.1 337.2 L336.6 337.2 L338.4 338.9 L337.8 336.5 L337.5 336.9 L337.4 336.7 Z"/>
<path fill="#5183bb" d="M344.3 336.8 L344.4 336.9 L344.0 337.0 L345.7 338.3 L345.0 336.3 L344.7 336.7 L344.6 336.5 Z"/>
<path fill="#4f81ba" d="M177.3 349.0 L177.3 349.2 L176.9 349.0 L177.6 350.9 L178.1 348.9 L177.7 349.2 L177.7 349.0 Z"/>
<path fill="#5183bb" d="M184.5 348.8 L184.5 349.0 L184.1 348.8 L184.7 350.8 L185.4 348.8 L185.0 349.0 L185.0 348.8 Z"/>
<path fill="#5588be" d="M191.8 348.6 L191.8 348.8 L191.4 348.6 L192.1 350.8 L192.7 348.5 L192.3 348.8 L192.2 348.6 Z"/>
<path fill="#588cc0" d="M199.1 348.4 L199.0 348.6 L198.6 348.4 L199.3 350.8 L200.0 348.4 L199.5 348.6 L199.5 348.4 Z"/>
<path fill="#5a8ec1" d="M206.3 348.2 L206.3 348.5 L205.8 348.2 L206.7 350.7 L207.3 348.1 L206.8 348.4 L206.8 348.2 Z"/>
<path fill="#5a8ec1" d="M213.6 348.0 L213.6 348.2 L213.1 348.0 L213.8 350.5 L214.6 348.0 L214.1 348.2 L214.1 348.0 Z"/>
<path fill="#5c90c2" d="M220.8 347.8 L220.9 348.1 L220.3 347.9 L221.3 350.3 L221.8 347.7 L221.4 348.0 L221.3 347.8 Z"/>
<path fill="#69a0ca" d="M228.0 347.6 L228.0 347.9 L227.4 347.6 L228.5 350.8 L229.3 347.6 L228.7 347.9 L228.7 347.6 Z"/>
<path fill="#679ec9" d="M235.3 347.5 L235.4 347.8 L234.7 347.5 L236.1 350.6 L236.6 347.3 L236.0 347.7 L235.9 347.4 Z"/>
<path fill="#679ec9" d="M242.6 347.3 L242.6 347.6 L241.9 347.3 L243.3 350.4 L243.8 347.1 L243.2 347.5 L243.2 347.2 Z"/>
<path fill="#69a0ca" d="M249.8 347.1 L249.9 347.4 L249.2 347.3 L251.0 350.1 L251.1 346.8 L250.5 347.3 L250.5 346.9 Z"/>
<path fill="#69a0ca" d="M257.1 346.9 L257.2 347.2 L256.5 347.1 L258.2 350.0 L258.4 346.6 L257.8 347.1 L257.7 346.7 Z"/>
<path fill="#69a0ca" d="M264.4 346.8 L264.5 347.1 L263.8 347.0 L266.0 349.6 L265.6 346.3 L265.1 346.8 L265.0 346.5 Z"/>
<path fill="#679ec9" d="M271.7 346.6 L271.8 346.9 L271.1 346.8 L273.2 349.3 L272.8 346.1 L272.4 346.6 L272.2 346.3 Z"/>
<path fill="#679ec9" d="M278.9 346.4 L279.1 346.7 L278.4 346.6 L280.5 349.1 L280.1 345.9 L279.6 346.4 L279.5 346.1 Z"/>
<path fill="#70a9cf" d="M286.2 346.3 L286.4 346.6 L285.5 346.7 L288.6 349.3 L287.5 345.4 L287.0 346.2 L286.8 345.8 Z"/>
<path fill="#6ea6ce" d="M293.4 346.0 L293.6 346.4 L292.8 346.4 L295.7 349.0 L294.7 345.3 L294.3 346.0 L294.1 345.7 Z"/>
<path fill="#6da4cc" d="M300.7 345.9 L300.9 346.1 L300.2 346.3 L303.0 348.5 L301.9 345.1 L301.5 345.7 L301.3 345.5 Z"/>
<path fill="#679ec9" d="M308.0 345.6 L308.2 345.9 L307.5 345.9 L309.9 348.2 L309.1 345.0 L308.7 345.6 L308.6 345.3 Z"/>
<path fill="#6297c6" d="M315.3 345.4 L315.5 345.7 L314.9 345.7 L317.1 347.6 L316.3 344.8 L315.9 345.3 L315.8 345.1 Z"/>
<path fill="#588cc0" d="M322.6 345.2 L322.7 345.4 L322.2 345.4 L324.0 347.1 L323.4 344.7 L323.2 345.2 L323.0 345.0 Z"/>
<path fill="#4f81ba" d="M329.9 345.0 L330.0 345.2 L329.6 345.2 L331.2 346.5 L330.6 344.5 L330.4 344.9 L330.3 344.8 Z"/>
<path fill="#5385bd" d="M337.2 344.8 L337.3 345.0 L336.8 345.0 L338.5 346.5 L337.9 344.3 L337.6 344.8 L337.5 344.6 Z"/>
<path fill="#4d7fb9" d="M344.5 344.6 L344.6 344.8 L344.2 344.8 L345.8 346.0 L345.1 344.1 L344.9 344.5 L344.8 344.4 Z"/>
</g>
<path d="M406.5 108.3 L408.0 108.6 L409.3 109.6 L410.4 111.5 L410.5 113.0 L409.8 114.8 L409.0 116.0 L406.5 119.0 L405.0 124.0 L403.5 130.0 L402.0 136.0 L400.5 145.0 L399.0 156.0 L397.0 167.5 L394.5 176.5 L394.0 182.0 L395.6 187.8 L398.0 192.0 L399.8 196.0 L401.6 199.8 L402.0 204.2 L400.5 208.8 L400.1 213.6 L400.8 214.8 L402.4 215.1 L404.2 213.2 L405.0 209.5 L405.8 208.2 L407.2 207.6 L409.0 207.9 L410.2 209.1 L411.2 210.8 L411.4 212.5 L410.6 216.2 L408.0 218.9 L405.0 222.2 L403.0 228.0 L402.2 234.0 L402.0 240.0 L402.6 244.5 L404.0 248.0 L406.0 250.0 L409.0 251.2 L412.0 251.5 L415.0 251.0 L418.0 249.2 L420.0 247.0 L423.0 245.5 L423.0 357.0 L349.0 357.0 L348.8 354.5 L348.5 340.0 L348.0 331.0 L347.5 328.0 L345.5 323.0 L342.5 318.0 L340.5 312.0 L339.0 306.0 L336.0 301.0 L332.0 297.5 L327.0 294.5 L323.0 293.3 L320.0 293.0 L319.4 292.2 L321.0 289.0 L322.3 285.0 L322.5 281.5 L320.5 275.0 L318.5 268.0 L317.2 265.5 L316.9 263.5 L317.3 262.0 L319.5 259.5 L323.0 257.0 L325.5 254.0 L328.0 249.5 L330.5 246.5 L332.0 244.5 L333.0 239.0 L333.5 236.0 L334.0 231.0 L335.5 227.0 L338.0 223.5 L341.0 220.0 L344.5 215.0 L346.5 209.0 L348.5 204.0 L350.5 196.0 L353.0 188.0 L355.5 179.0 L357.5 172.0 L358.5 168.0 L360.0 162.0 L362.5 157.0 L365.5 151.0 L368.0 144.0 L371.0 138.5 L374.5 133.0 L377.5 129.0 L380.0 124.5 L383.0 120.0 L387.0 116.5 L391.0 114.0 L396.0 112.0 L402.0 110.0 L404.5 108.9 Z" fill="none" stroke="#8a8a8a" stroke-width="1.2" stroke-linejoin="round"/>
<g stroke="#b0b0b0" stroke-width="1.3" stroke-opacity="0.95" fill="none">
<path d="M100.73 19.08 L111.46 391.99"/>
<path d="M146.65 18.04 L156.81 390.75"/>
<path d="M192.58 16.99 L202.17 389.51"/>
<path d="M238.50 15.95 L247.52 388.27"/>
<path d="M284.43 14.91 L292.87 387.03"/>
<path d="M330.35 13.87 L338.23 385.79"/>
<path d="M376.28 12.83 L383.58 384.55"/>
<path d="M422.20 11.79 L428.93 383.31"/>
<path d="M468.13 10.74 L474.28 382.07"/>
<path d="M64.57 39.55 L450.09 30.71"/>
<path d="M65.75 78.82 L450.77 69.80"/>
<path d="M66.93 118.09 L451.44 108.90"/>
<path d="M68.11 157.36 L452.11 147.99"/>
<path d="M69.29 196.63 L452.78 187.09"/>
<path d="M70.46 235.90 L453.45 226.18"/>
<path d="M71.64 275.17 L454.13 265.28"/>
<path d="M72.82 314.44 L454.80 304.37"/>
<path d="M74.00 353.72 L455.47 343.47"/>
<path d="M75.18 392.99 L456.14 382.56"/>
</g>
</g>
<rect x="100.50" y="49.50" width="321.10" height="305.80" fill="none" stroke="#000" stroke-width="1.1"/>
<rect x="441.40" y="125.40" width="8.20" height="153.80" fill="url(#cb)" stroke="#000" stroke-width="1.1"/>
<path d="M449.60 279.20 h4.9" stroke="#000" stroke-width="1.1"/>
<text x="459.3" y="284.30" font-size="13.89" font-family="DejaVu Sans, Liberation Sans, sans-serif">0.0</text>
<path d="M449.60 248.44 h4.9" stroke="#000" stroke-width="1.1"/>
<text x="459.3" y="253.54" font-size="13.89" font-family="DejaVu Sans, Liberation Sans, sans-serif">0.2</text>
<path d="M449.60 217.68 h4.9" stroke="#000" stroke-width="1.1"/>
<text x="459.3" y="222.78" font-size="13.89" font-family="DejaVu Sans, Liberation Sans, sans-serif">0.4</text>
<path d="M449.60 186.92 h4.9" stroke="#000" stroke-width="1.1"/>
<text x="459.3" y="192.02" font-size="13.89" font-family="DejaVu Sans, Liberation Sans, sans-serif">0.6</text>
<path d="M449.60 156.16 h4.9" stroke="#000" stroke-width="1.1"/>
<text x="459.3" y="161.26" font-size="13.89" font-family="DejaVu Sans, Liberation Sans, sans-serif">0.8</text>
<path d="M449.60 125.40 h4.9" stroke="#000" stroke-width="1.1"/>
<text x="459.3" y="130.50" font-size="13.89" font-family="DejaVu Sans, Liberation Sans, sans-serif">1.0</text>
<text x="101.00" y="38.8" font-size="13.89" text-anchor="middle" font-family="DejaVu Sans, Liberation Sans, sans-serif">112.5°E</text>
<text x="193.90" y="38.8" font-size="13.89" text-anchor="middle" font-family="DejaVu Sans, Liberation Sans, sans-serif">113°E</text>
<text x="286.00" y="38.8" font-size="13.89" text-anchor="middle" font-family="DejaVu Sans, Liberation Sans, sans-serif">113.5°E</text>
<text x="377.00" y="38.8" font-size="13.89" text-anchor="middle" font-family="DejaVu Sans, Liberation Sans, sans-serif">114°E</text>
<text x="111.00" y="373.6" font-size="13.89" text-anchor="middle" font-family="DejaVu Sans, Liberation Sans, sans-serif">112.5°E</text>
<text x="202.00" y="373.6" font-size="13.89" text-anchor="middle" font-family="DejaVu Sans, Liberation Sans, sans-serif">113°E</text>
<text x="292.80" y="373.6" font-size="13.89" text-anchor="middle" font-family="DejaVu Sans, Liberation Sans, sans-serif">113.5°E</text>
<text x="383.00" y="373.6" font-size="13.89" text-anchor="middle" font-family="DejaVu Sans, Liberation Sans, sans-serif">114°E</text>
<text x="92.8" y="82.70" font-size="13.89" text-anchor="end" font-family="DejaVu Sans, Liberation Sans, sans-serif">21.6°S</text>
<text x="92.8" y="122.10" font-size="13.89" text-anchor="end" font-family="DejaVu Sans, Liberation Sans, sans-serif">21.8°S</text>
<text x="92.8" y="161.40" font-size="13.89" text-anchor="end" font-family="DejaVu Sans, Liberation Sans, sans-serif">22°S</text>
<text x="92.8" y="200.70" font-size="13.89" text-anchor="end" font-family="DejaVu Sans, Liberation Sans, sans-serif">22.2°S</text>
<text x="92.8" y="240.00" font-size="13.89" text-anchor="end" font-family="DejaVu Sans, Liberation Sans, sans-serif">22.4°S</text>
<text x="92.8" y="279.50" font-size="13.89" text-anchor="end" font-family="DejaVu Sans, Liberation Sans, sans-serif">22.6°S</text>
<text x="92.8" y="318.70" font-size="13.89" text-anchor="end" font-family="DejaVu Sans, Liberation Sans, sans-serif">22.8°S</text>
<text x="92.8" y="357.90" font-size="13.89" text-anchor="end" font-family="DejaVu Sans, Liberation Sans, sans-serif">23°S</text>
<text x="260.1" y="0" transform="translate(0,20) scale(1,1.07)" font-size="16.67" text-anchor="middle" font-family="DejaVu Sans, Liberation Sans, sans-serif">2026-03-21T08:00:00Z</text>
<rect x="247.2" y="1.9" width="8.8" height="1.25" fill="#000"/>
<rect x="337.0" y="1.9" width="8.8" height="1.25" fill="#000"/>
<text x="547" y="32.90" font-size="13.89" font-family="DejaVu Sans, Liberation Sans, sans-serif">Iterations: 200</text>
<text x="547" y="65.37" font-size="13.89" font-family="DejaVu Sans, Liberation Sans, sans-serif">nll: -13419.062217008546</text>
<text x="547" y="97.84" font-size="13.89" font-family="DejaVu Sans, Liberation Sans, sans-serif">σ = 6.29e-07</text>
<text x="547" y="130.31" font-size="13.89" font-family="DejaVu Sans, Liberation Sans, sans-serif">,η_uv1 = 9.09e-02</text>
<text x="547" y="162.78" font-size="13.89" font-family="DejaVu Sans, Liberation Sans, sans-serif">η_uv2 = 6.98e-02</text>
<text x="547" y="195.25" font-size="13.89" font-family="DejaVu Sans, Liberation Sans, sans-serif">ℓ_uv1 = 35696.05</text>
<text x="547" y="227.72" font-size="13.89" font-family="DejaVu Sans, Liberation Sans, sans-serif">ℓ_uv2 = 10327.93</text>
<text x="547" y="260.19" font-size="13.89" font-family="DejaVu Sans, Liberation Sans, sans-serif">η_q = 2.10e-05</text>
<text x="547" y="292.66" font-size="13.89" font-family="DejaVu Sans, Liberation Sans, sans-serif">ℓ_q = 28246.77</text>
</svg>
</body></html>
